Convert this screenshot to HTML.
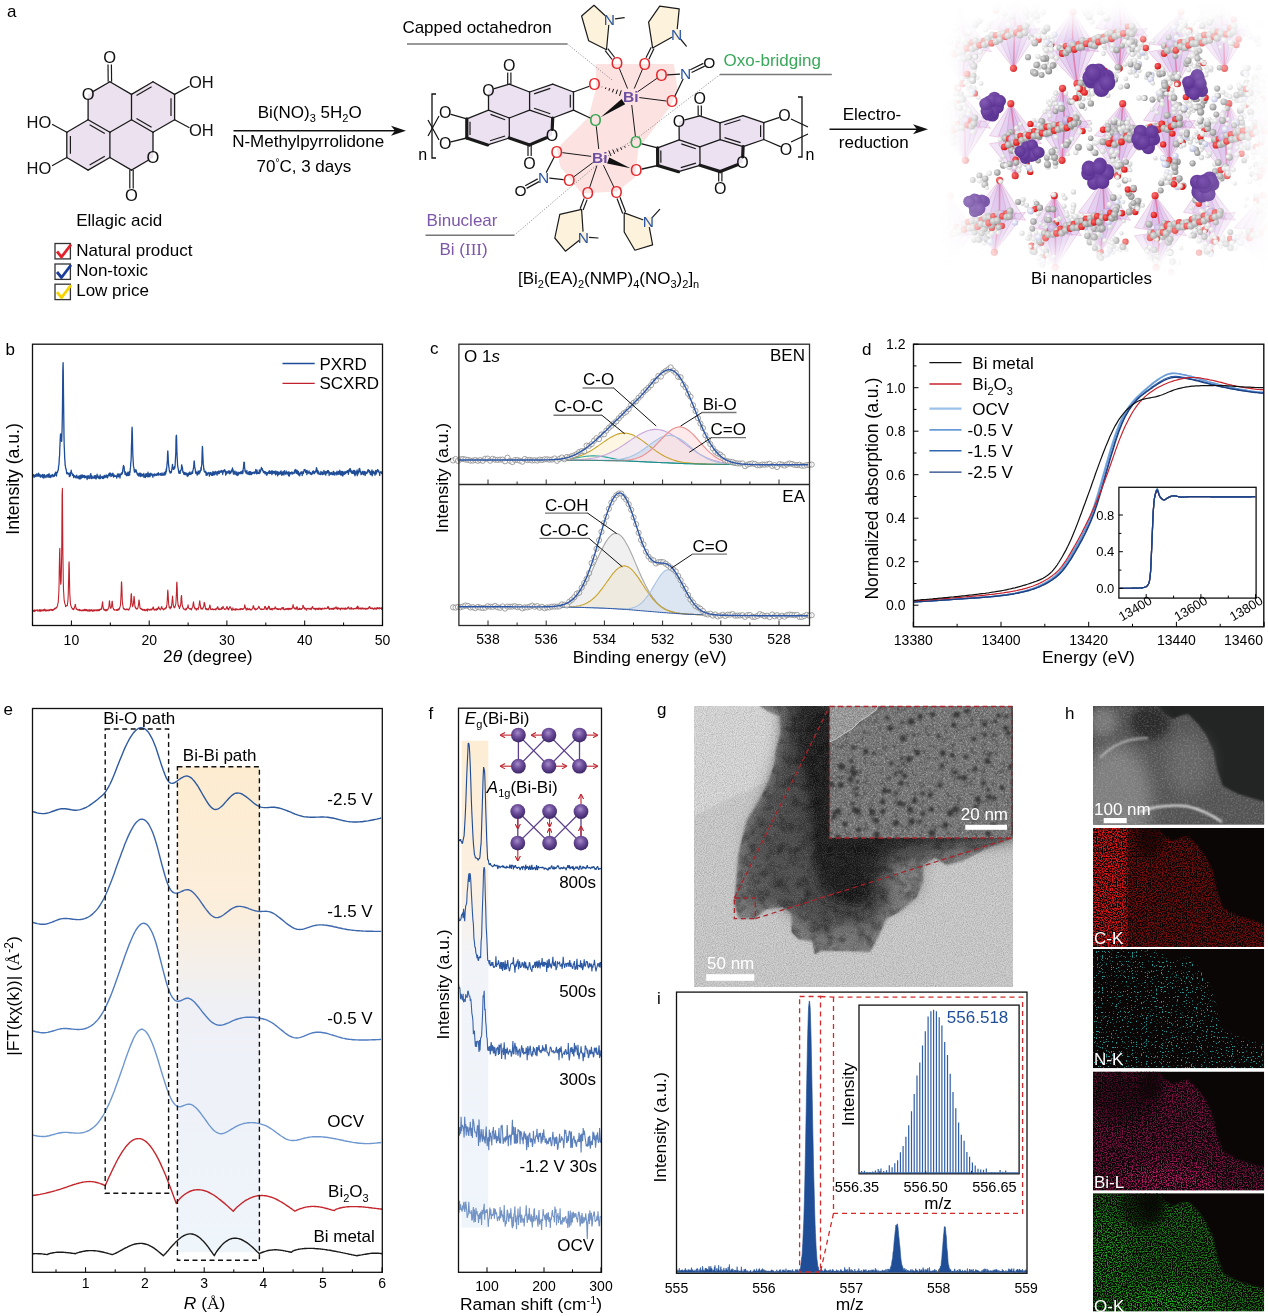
<!DOCTYPE html><html><head><meta charset="utf-8"><title>Figure</title><style>html,body{margin:0;padding:0;background:#fff;overflow:hidden;width:1268px;height:1316px;}svg{display:block;}</style></head><body><svg width="1268" height="1316" viewBox="0 0 1268 1316" font-family='"Liberation Sans", Arial, sans-serif'><rect width="100%" height="100%" fill="#fff"/><defs><clipPath id="ctem"><rect x="694" y="706" width="319" height="281"/></clipPath><filter id="b1" x="-10%" y="-10%" width="120%" height="120%"><feGaussianBlur stdDeviation="1.2"/></filter><filter id="b4" x="-20%" y="-20%" width="140%" height="140%"><feGaussianBlur stdDeviation="4"/></filter><filter id="b8" x="-30%" y="-30%" width="160%" height="160%"><feGaussianBlur stdDeviation="8"/></filter><filter id="b14" x="-40%" y="-40%" width="180%" height="180%"><feGaussianBlur stdDeviation="14"/></filter><filter id="ntem" x="0" y="0" width="100%" height="100%"><feTurbulence type="fractalNoise" baseFrequency="0.9" numOctaves="2" seed="3"/><feColorMatrix values="0 0 0 0 0  0 0 0 0 0  0 0 0 0 0  1.6 0 0 0 -0.55"/></filter><filter id="ntem2" x="0" y="0" width="100%" height="100%"><feTurbulence type="fractalNoise" baseFrequency="0.9" numOctaves="2" seed="8"/><feColorMatrix values="0 0 0 0 1  0 0 0 0 1  0 0 0 0 1  1.6 0 0 0 -0.6"/></filter><filter id="nmot" x="0" y="0" width="100%" height="100%"><feTurbulence type="fractalNoise" baseFrequency="0.09" numOctaves="3" seed="5"/><feColorMatrix values="0 0 0 0 0  0 0 0 0 0  0 0 0 0 0  2.2 0 0 0 -0.95"/><feComposite in2="SourceGraphic" operator="in"/></filter><filter id="hr" x="0" y="0" width="100%" height="100%"><feTurbulence type="fractalNoise" baseFrequency="0.16" numOctaves="2" seed="12"/><feColorMatrix values="0 0 0 0 0.1  0 0 0 0 0.1  0 0 0 0 0.1  -3.2 0 0 0 1.55"/></filter><filter id="hr2" x="0" y="0" width="100%" height="100%"><feTurbulence type="fractalNoise" baseFrequency="0.5" numOctaves="2" seed="21"/><feColorMatrix values="0 0 0 0 1  0 0 0 0 1  0 0 0 0 1  2.6 0 0 0 -1.15"/></filter></defs><g clip-path="url(#ctem)"><rect x="694" y="706" width="319" height="281" fill="#cdcdcd"/><polygon points="680,690 772,690 781,731 775,763 765,783 732,797 694,816 680,822" fill="#dadada" filter="url(#b1)"/><polygon points="759.6,700 759.6,706 769.7,712.3 779.8,716.1 781.1,731.2 776,750.2 774.8,762.8 769.7,779.2 759.6,799.4 747,819.6 738.5,853.7 736.2,883.8 733.9,902.2 738.5,918.4 754.7,918.4 766.2,909.2 782.4,906.9 791.6,913.8 791.6,932.3 798.6,939.2 812.4,941.5 814.7,954.2 821.7,950.8 842.5,950.8 870.2,951.9 879.4,934.6 886.4,918.4 900.2,911.5 916.4,897.6 923.3,881.5 923.3,865.3 934.9,857.2 946.4,865.3 962.6,860.7 985.7,849.1 1013,837.6 1020,837 1020,700" fill="#7c7c7c" filter="url(#b1)"/><polygon points="783,700 1020,700 1020,838 945,848 905,868 895,895 880,915 860,935 820,935 800,915 775,898 755,895 748,870 752,830 765,800 776,770 783,740" fill="#484848" filter="url(#b8)"/><polygon points="798,700 1000,700 1000,835 905,842 880,862 872,888 860,903 840,905 820,890 805,860 795,820 792,770 795,730" fill="#1e1e1e" filter="url(#b8)"/><ellipse cx="857" cy="893" rx="14" ry="10" fill="#151515" filter="url(#b4)"/><ellipse cx="905" cy="880" rx="18" ry="22" fill="#8a8a8a" opacity="0.7" filter="url(#b8)"/><ellipse cx="845" cy="935" rx="25" ry="12" fill="#7a7a7a" opacity="0.7" filter="url(#b4)"/><ellipse cx="755" cy="880" rx="14" ry="28" fill="#7a7a7a" opacity="0.7" filter="url(#b4)"/><ellipse cx="770" cy="830" rx="10" ry="25" fill="#555" opacity="0.6" filter="url(#b4)"/><polygon points="790,730 788,780 770,800 752,830 744,870 746,905 765,905 785,900 800,910 815,880 810,800" fill="#505050" opacity="0.75" filter="url(#b4)"/><polygon points="759.6,700 759.6,706 769.7,712.3 779.8,716.1 781.1,731.2 776,750.2 774.8,762.8 769.7,779.2 759.6,799.4 747,819.6 738.5,853.7 736.2,883.8 733.9,902.2 738.5,918.4 754.7,918.4 766.2,909.2 782.4,906.9 791.6,913.8 791.6,932.3 798.6,939.2 812.4,941.5 814.7,954.2 821.7,950.8 842.5,950.8 870.2,951.9 879.4,934.6 886.4,918.4 900.2,911.5 916.4,897.6 923.3,881.5 923.3,865.3 934.9,857.2 946.4,865.3 962.6,860.7 985.7,849.1 1013,837.6 1020,837 1020,700" filter="url(#nmot)" opacity="0.45"/><rect x="694" y="706" width="319" height="281" filter="url(#ntem)" opacity="0.22"/><rect x="694" y="706" width="319" height="281" filter="url(#ntem2)" opacity="0.22"/></g><clipPath id="chr"><rect x="829.5" y="706" width="182.10000000000002" height="132"/></clipPath><g clip-path="url(#chr)"><rect x="829.5" y="706" width="182.10000000000002" height="132" fill="#7c7c7c"/><rect x="829.5" y="706" width="182.10000000000002" height="132" filter="url(#hr)" opacity="0.9"/><polygon points="829,705 878,705 876,710 868,716 860,721 852,729 845,733 836,739 829,742" fill="#a2a2a2"/><rect x="829.5" y="706" width="182.10000000000002" height="132" filter="url(#hr2)" opacity="0.35"/><rect x="829.5" y="706" width="182.10000000000002" height="132" filter="url(#ntem)" opacity="0.35"/><g fill="#262626" opacity="0.75" filter="url(#b1)"><circle cx="852.9" cy="771.9" r="2.7"/><circle cx="998.5" cy="715.3" r="2"/><circle cx="1002.2" cy="788.1" r="2.4"/><circle cx="922.6" cy="793.5" r="2.2"/><circle cx="854.6" cy="810" r="2.8"/><circle cx="922.8" cy="813.8" r="2.6"/><circle cx="1008.1" cy="733" r="2.6"/><circle cx="917.6" cy="752.6" r="2.7"/><circle cx="872.3" cy="811.9" r="3.1"/><circle cx="852.9" cy="767.7" r="2.2"/><circle cx="844.6" cy="824.3" r="2.4"/><circle cx="856.4" cy="794.9" r="2.1"/><circle cx="993.7" cy="734.7" r="1.8"/><circle cx="866.1" cy="751.6" r="2.5"/><circle cx="994.5" cy="798.1" r="2.3"/><circle cx="1011" cy="766.7" r="2.8"/><circle cx="983.5" cy="783.6" r="2.3"/><circle cx="887.3" cy="717.8" r="2.1"/><circle cx="834" cy="816.8" r="2.5"/><circle cx="852.7" cy="803.6" r="2.1"/><circle cx="840.8" cy="785" r="3.1"/><circle cx="834.4" cy="812.3" r="2.1"/><circle cx="882.9" cy="802" r="2.5"/><circle cx="984.8" cy="734.7" r="2.3"/><circle cx="876.5" cy="835.1" r="3.2"/><circle cx="891.5" cy="763.6" r="2.3"/><circle cx="965.4" cy="711.3" r="1.9"/><circle cx="903.1" cy="738.4" r="3.1"/><circle cx="964.6" cy="778" r="2.8"/><circle cx="955.6" cy="809.1" r="3.2"/><circle cx="856.8" cy="788.6" r="2"/><circle cx="910.2" cy="809.8" r="3.1"/><circle cx="967.8" cy="710.7" r="2.3"/><circle cx="859.2" cy="837.8" r="2"/><circle cx="874" cy="753.2" r="1.9"/><circle cx="988" cy="790" r="2"/><circle cx="920.2" cy="716.4" r="2.7"/><circle cx="850.5" cy="779.3" r="2.8"/><circle cx="888.6" cy="790.9" r="2.3"/><circle cx="853.3" cy="747.6" r="2.4"/><circle cx="995.7" cy="721.3" r="1.9"/><circle cx="931.7" cy="833.2" r="3.2"/><circle cx="957" cy="714.8" r="3"/><circle cx="953.9" cy="725" r="2.5"/><circle cx="838.5" cy="811.8" r="2.9"/><circle cx="976" cy="806.4" r="2.2"/><circle cx="973.3" cy="738.9" r="2"/><circle cx="900.6" cy="771.7" r="2.2"/><circle cx="939.8" cy="785.5" r="2.2"/><circle cx="942.9" cy="753.2" r="2.9"/><circle cx="882.4" cy="811.4" r="2.4"/><circle cx="930.2" cy="794.9" r="2.6"/><circle cx="876.4" cy="835.3" r="1.9"/><circle cx="888.7" cy="778.5" r="1.8"/><circle cx="857.7" cy="811.5" r="3"/><circle cx="945.5" cy="825" r="2.9"/><circle cx="883.9" cy="791.1" r="2.3"/><circle cx="966" cy="756.8" r="2"/><circle cx="989.1" cy="797.1" r="2.9"/><circle cx="931.4" cy="809.3" r="2.5"/><circle cx="932.5" cy="714.3" r="2.6"/><circle cx="977.8" cy="799.1" r="3"/><circle cx="919.8" cy="822.3" r="2"/><circle cx="989" cy="755" r="1.9"/><circle cx="942.3" cy="766" r="2.4"/><circle cx="984.7" cy="724.2" r="2.7"/><circle cx="904.8" cy="775.7" r="2.5"/><circle cx="853.9" cy="773.6" r="3.1"/><circle cx="841.8" cy="766.7" r="3.3"/><circle cx="837.6" cy="836.8" r="2.6"/><circle cx="851.4" cy="761.2" r="2.1"/><circle cx="959.5" cy="777.5" r="2.2"/><circle cx="876" cy="820.4" r="2.9"/><circle cx="908.9" cy="759.5" r="2.9"/><circle cx="1006.3" cy="716.5" r="2"/><circle cx="895.5" cy="773" r="1.9"/><circle cx="899.8" cy="803.6" r="2.7"/><circle cx="911.8" cy="821.5" r="3.2"/><circle cx="896" cy="823.1" r="3.2"/><circle cx="903.5" cy="804.5" r="2.3"/><circle cx="857.5" cy="781.9" r="1.9"/><circle cx="950.3" cy="812.8" r="3.2"/><circle cx="911.1" cy="721.5" r="3.2"/><circle cx="988" cy="833.7" r="2.7"/><circle cx="952.1" cy="755.3" r="2.1"/><circle cx="882.6" cy="801.1" r="2.3"/><circle cx="955.4" cy="772.3" r="2.5"/><circle cx="1005.7" cy="727.9" r="2.5"/><circle cx="858.6" cy="829.7" r="2.5"/><circle cx="890" cy="728.2" r="2.7"/><circle cx="902.2" cy="722.8" r="1.8"/><circle cx="900.8" cy="783" r="2.6"/><circle cx="993.4" cy="826.3" r="3.2"/><circle cx="975.1" cy="769" r="2.6"/><circle cx="901.9" cy="758.7" r="1.9"/><circle cx="975" cy="738.5" r="1.8"/><circle cx="914.4" cy="800.8" r="2.5"/><circle cx="895.8" cy="792.9" r="2"/><circle cx="831.6" cy="784.2" r="2.6"/><circle cx="987.2" cy="760.9" r="3"/><circle cx="938.5" cy="735.9" r="1.9"/></g><polyline points="878,705 876,710 868,716 860,721 852,729 845,733 836,739 829,742" fill="none" stroke="#c8c8c8" stroke-width="1"/></g><rect x="829.5" y="706.5" width="182.10000000000002" height="131.5" fill="none" stroke="#a8232a" stroke-width="1.3" stroke-dasharray="5,3.5"/><rect x="734.4" y="898" width="20.9" height="20.6" fill="none" stroke="#a8232a" stroke-width="1.3" stroke-dasharray="5,3.5"/><path d="M734.4 898 L829.5 706.5 M755.3 918.6 L1011.6 838" fill="none" stroke="#a8232a" stroke-width="1.3" stroke-dasharray="5,3.5"/><rect x="706.2" y="974.2" width="48.1" height="6.6" fill="#fff"/><text x="707" y="969.2" font-size="17" fill="#fff">50 nm</text><rect x="965.3" y="824.8" width="41.7" height="5" fill="#fff"/><text x="1008" y="819.5" font-size="17" fill="#fff" text-anchor="end">20 nm</text><text x="657" y="715" font-size="17">g</text><text x="1065" y="718.5" font-size="17">h</text><clipPath id="ch0"><rect x="1093" y="706" width="171.20000000000005" height="118.60000000000002"/></clipPath><filter id="nh" x="0" y="0" width="100%" height="100%"><feTurbulence type="fractalNoise" baseFrequency="0.55" numOctaves="2" seed="4"/><feColorMatrix values="0 0 0 0 1  0 0 0 0 1  0 0 0 0 1  2.2 0 0 0 -0.95"/><feComposite in2="SourceGraphic" operator="in"/></filter><g clip-path="url(#ch0)"><rect x="1093" y="706" width="171.20000000000005" height="118.60000000000002" fill="#232524"/><polygon points="1093,706 1159,706 1165,714 1173,719 1180,716 1188,714 1198,724 1206,735 1213,750 1217,769 1223,786 1238,794 1265,802 1265,831 1093,831" fill="#535353" filter="url(#b1)"/><ellipse cx="1116" cy="800" rx="36" ry="55" fill="#7e7e7e" filter="url(#b8)"/><ellipse cx="1188" cy="765" rx="22" ry="30" fill="#666" filter="url(#b8)"/><ellipse cx="1150" cy="722" rx="20" ry="18" fill="#2a2a2a" filter="url(#b4)"/><ellipse cx="1103" cy="722" rx="14" ry="14" fill="#777" filter="url(#b4)"/><path d="M1100 758 Q1118 738 1148 738" stroke="#c8c8c8" stroke-width="1.6" fill="none" filter="url(#b1)"/><path d="M1140 812 Q1160 804 1186 806 Q1205 810 1222 822" stroke="#e8e8e8" stroke-width="2" fill="none" filter="url(#b1)"/><polygon points="1093,706 1159,706 1165,714 1173,719 1180,716 1188,714 1198,724 1206,735 1213,750 1217,769 1223,786 1238,794 1265,802 1265,831 1093,831" filter="url(#nh)" opacity="0.2"/></g><rect x="1103.7" y="818" width="23" height="5.2" fill="#fff"/><text x="1094" y="814.5" font-size="17" fill="#fff">100 nm</text><clipPath id="cm1"><rect x="1093" y="828" width="171.20000000000005" height="119"/></clipPath><filter id="sp1" x="0" y="0" width="100%" height="100%" color-interpolation-filters="sRGB"><feTurbulence type="fractalNoise" baseFrequency="0.8" numOctaves="1" seed="31" result="n"/><feColorMatrix in="n" values="0 0 0 0 1  0 0 0 0 1  0 0 0 0 1  5 0 0 0 -2.1" result="m"/><feComposite in="SourceGraphic" in2="m" operator="arithmetic" k1="1"/><feGaussianBlur stdDeviation="0.45"/></filter><g clip-path="url(#cm1)"><rect x="1093" y="828" width="171.20000000000005" height="119" fill="#0b0606"/><g filter="url(#sp1)"><polygon points="1093,828 1159,828 1165,836 1173,841 1180,838 1188,836 1198,846 1206,857 1213,872 1217,891 1223,908 1238,916 1265,924 1265,953 1093,953" fill="#e01818" fill-opacity="0.5" filter="url(#b1)"/><rect x="1090" y="825" width="37" height="125" fill="#e01818" filter="url(#b1)"/><ellipse cx="1149" cy="836" rx="14" ry="22" fill="#000" opacity="0.5" filter="url(#b4)"/></g></g><text x="1094" y="944" font-size="17" fill="#fff">C-K</text><clipPath id="cm2"><rect x="1093" y="949" width="171.20000000000005" height="119.29999999999995"/></clipPath><filter id="sp2" x="0" y="0" width="100%" height="100%" color-interpolation-filters="sRGB"><feTurbulence type="fractalNoise" baseFrequency="0.8" numOctaves="1" seed="32" result="n"/><feColorMatrix in="n" values="0 0 0 0 1  0 0 0 0 1  0 0 0 0 1  12 0 0 0 -7.4" result="m"/><feComposite in="SourceGraphic" in2="m" operator="arithmetic" k1="1"/><feGaussianBlur stdDeviation="0.45"/></filter><g clip-path="url(#cm2)"><rect x="1093" y="949" width="171.20000000000005" height="119.29999999999995" fill="#0b0606"/><g filter="url(#sp2)"><polygon points="1093,949 1159,949 1165,957 1173,962 1180,959 1188,957 1198,967 1206,978 1213,993 1217,1012 1223,1029 1238,1037 1265,1045 1265,1074 1093,1074" fill="#2ec8c8" fill-opacity="0.75" filter="url(#b1)"/></g></g><text x="1094" y="1065.3" font-size="17" fill="#fff">N-K</text><clipPath id="cm3"><rect x="1093" y="1071.5" width="171.20000000000005" height="119.09999999999991"/></clipPath><filter id="sp3" x="0" y="0" width="100%" height="100%" color-interpolation-filters="sRGB"><feTurbulence type="fractalNoise" baseFrequency="0.8" numOctaves="1" seed="33" result="n"/><feColorMatrix in="n" values="0 0 0 0 1  0 0 0 0 1  0 0 0 0 1  5 0 0 0 -2.25" result="m"/><feComposite in="SourceGraphic" in2="m" operator="arithmetic" k1="1"/><feGaussianBlur stdDeviation="0.45"/></filter><g clip-path="url(#cm3)"><rect x="1093" y="1071.5" width="171.20000000000005" height="119.09999999999991" fill="#0b0606"/><g filter="url(#sp3)"><polygon points="1093,1071.5 1159,1071.5 1165,1079.5 1173,1084.5 1180,1081.5 1188,1079.5 1198,1089.5 1206,1100.5 1213,1115.5 1217,1134.5 1223,1151.5 1238,1159.5 1265,1167.5 1265,1196.5 1093,1196.5" fill="#e0207e" fill-opacity="0.55" filter="url(#b1)"/><ellipse cx="1168" cy="1179.5" rx="50" ry="16" fill="#e0207e" opacity="0.7" filter="url(#b8)"/><ellipse cx="1151" cy="1079.5" rx="12" ry="20" fill="#000" opacity="0.6" filter="url(#b4)"/><ellipse cx="1123" cy="1096.5" rx="35" ry="25" fill="#000" opacity="0.45" filter="url(#b8)"/></g></g><text x="1094" y="1187.6" font-size="17" fill="#fff">Bi-L</text><clipPath id="cm4"><rect x="1093" y="1193.2" width="171.20000000000005" height="118.29999999999995"/></clipPath><filter id="sp4" x="0" y="0" width="100%" height="100%" color-interpolation-filters="sRGB"><feTurbulence type="fractalNoise" baseFrequency="0.8" numOctaves="1" seed="34" result="n"/><feColorMatrix in="n" values="0 0 0 0 1  0 0 0 0 1  0 0 0 0 1  5 0 0 0 -2.2" result="m"/><feComposite in="SourceGraphic" in2="m" operator="arithmetic" k1="1"/><feGaussianBlur stdDeviation="0.45"/></filter><g clip-path="url(#cm4)"><rect x="1093" y="1193.2" width="171.20000000000005" height="118.29999999999995" fill="#0b0606"/><g filter="url(#sp4)"><polygon points="1093,1193.2 1159,1193.2 1165,1201.2 1173,1206.2 1180,1203.2 1188,1201.2 1198,1211.2 1206,1222.2 1213,1237.2 1217,1256.2 1223,1273.2 1238,1281.2 1265,1289.2 1265,1318.2 1093,1318.2" fill="#22c422" fill-opacity="0.62" filter="url(#b1)"/><ellipse cx="1168" cy="1301.2" rx="50" ry="16" fill="#22c422" opacity="0.7" filter="url(#b8)"/><ellipse cx="1151" cy="1201.2" rx="12" ry="20" fill="#000" opacity="0.6" filter="url(#b4)"/><ellipse cx="1143" cy="1203.2" rx="22" ry="24" fill="#000" opacity="0.55" filter="url(#b4)"/><ellipse cx="1108" cy="1253.2" rx="22" ry="40" fill="#22c422" opacity="0.4" filter="url(#b8)"/></g></g><text x="1094" y="1311.5" font-size="17" fill="#fff">O-K</text><defs><radialGradient id="gg" cx="0.35" cy="0.35" r="0.7"><stop offset="0" stop-color="#e2e2e2"/><stop offset="1" stop-color="#858585"/></radialGradient><radialGradient id="gw" cx="0.35" cy="0.35" r="0.7"><stop offset="0" stop-color="#ffffff"/><stop offset="1" stop-color="#c8c8c8"/></radialGradient><radialGradient id="gr" cx="0.35" cy="0.35" r="0.7"><stop offset="0" stop-color="#ff6a6a"/><stop offset="1" stop-color="#d20c0c"/></radialGradient><radialGradient id="gb" cx="0.35" cy="0.35" r="0.7"><stop offset="0" stop-color="#ffffff"/><stop offset="1" stop-color="#b4b8e0"/></radialGradient><radialGradient id="gl" cx="0.35" cy="0.35" r="0.7"><stop offset="0" stop-color="#e4d4f0"/><stop offset="1" stop-color="#a182c4"/></radialGradient><radialGradient id="gp" cx="0.4" cy="0.35" r="0.7"><stop offset="0" stop-color="#7a4fae"/><stop offset="1" stop-color="#58308f"/></radialGradient><filter id="fm" x="-20%" y="-20%" width="140%" height="140%"><feGaussianBlur stdDeviation="14"/></filter><mask id="mcr" maskUnits="userSpaceOnUse" x="900" y="-20" width="380" height="320"><rect x="972" y="30" width="272" height="222" fill="#fff" filter="url(#fm)"/></mask></defs><g mask="url(#mcr)"><polygon points="939.5,51.7 991.5,43.7 962.3,83.7" fill="#b67fd6" fill-opacity="0.2" stroke="#d070b0" stroke-opacity="0.45" stroke-width="0.7"/><polygon points="948.5,51.7 982.5,43.7 962.3,83.7" fill="#b67fd6" fill-opacity="0.2" stroke="#d070b0" stroke-opacity="0.45" stroke-width="0.7"/><polygon points="956.5,51.7 974.5,43.7 962.3,83.7" fill="#b67fd6" fill-opacity="0.2" stroke="#d070b0" stroke-opacity="0.45" stroke-width="0.7"/><line x1="965.5" y1="47.7" x2="962.3" y2="83.7" stroke="#e0487a" stroke-opacity="0.55" stroke-width="1.6"/><circle cx="962.3" cy="83.7" r="3.6" fill="url(#gr)" opacity="0.9"/><polygon points="939.5,43.7 991.5,51.7 960.2,11.7" fill="#b67fd6" fill-opacity="0.2" stroke="#d070b0" stroke-opacity="0.45" stroke-width="0.7"/><polygon points="948.5,43.7 982.5,51.7 960.2,11.7" fill="#b67fd6" fill-opacity="0.2" stroke="#d070b0" stroke-opacity="0.45" stroke-width="0.7"/><polygon points="956.5,43.7 974.5,51.7 960.2,11.7" fill="#b67fd6" fill-opacity="0.2" stroke="#d070b0" stroke-opacity="0.45" stroke-width="0.7"/><line x1="965.5" y1="47.7" x2="960.2" y2="11.7" stroke="#e0487a" stroke-opacity="0.55" stroke-width="1.6"/><circle cx="960.2" cy="11.7" r="3.6" fill="url(#gr)" opacity="0.9"/><polygon points="988.5,36.3 1040.5,28.3 1013.5,68.3" fill="#b67fd6" fill-opacity="0.2" stroke="#d070b0" stroke-opacity="0.45" stroke-width="0.7"/><polygon points="997.5,36.3 1031.5,28.3 1013.5,68.3" fill="#b67fd6" fill-opacity="0.2" stroke="#d070b0" stroke-opacity="0.45" stroke-width="0.7"/><polygon points="1005.5,36.3 1023.5,28.3 1013.5,68.3" fill="#b67fd6" fill-opacity="0.2" stroke="#d070b0" stroke-opacity="0.45" stroke-width="0.7"/><line x1="1014.5" y1="32.3" x2="1013.5" y2="68.3" stroke="#e0487a" stroke-opacity="0.55" stroke-width="1.6"/><circle cx="1013.5" cy="68.3" r="3.6" fill="url(#gr)" opacity="0.9"/><polygon points="988.5,28.3 1040.5,36.3 1016.2,-3.7" fill="#b67fd6" fill-opacity="0.2" stroke="#d070b0" stroke-opacity="0.45" stroke-width="0.7"/><polygon points="997.5,28.3 1031.5,36.3 1016.2,-3.7" fill="#b67fd6" fill-opacity="0.2" stroke="#d070b0" stroke-opacity="0.45" stroke-width="0.7"/><polygon points="1005.5,28.3 1023.5,36.3 1016.2,-3.7" fill="#b67fd6" fill-opacity="0.2" stroke="#d070b0" stroke-opacity="0.45" stroke-width="0.7"/><line x1="1014.5" y1="32.3" x2="1016.2" y2="-3.7" stroke="#e0487a" stroke-opacity="0.55" stroke-width="1.6"/><circle cx="1016.2" cy="-3.7" r="3.6" fill="url(#gr)" opacity="0.9"/><polygon points="1046.5,51.7 1098.5,43.7 1077,83.7" fill="#b67fd6" fill-opacity="0.2" stroke="#d070b0" stroke-opacity="0.45" stroke-width="0.7"/><polygon points="1055.5,51.7 1089.5,43.7 1077,83.7" fill="#b67fd6" fill-opacity="0.2" stroke="#d070b0" stroke-opacity="0.45" stroke-width="0.7"/><polygon points="1063.5,51.7 1081.5,43.7 1077,83.7" fill="#b67fd6" fill-opacity="0.2" stroke="#d070b0" stroke-opacity="0.45" stroke-width="0.7"/><line x1="1072.5" y1="47.7" x2="1077" y2="83.7" stroke="#e0487a" stroke-opacity="0.55" stroke-width="1.6"/><circle cx="1077" cy="83.7" r="3.6" fill="url(#gr)" opacity="0.9"/><polygon points="1046.5,43.7 1098.5,51.7 1072.9,11.7" fill="#b67fd6" fill-opacity="0.2" stroke="#d070b0" stroke-opacity="0.45" stroke-width="0.7"/><polygon points="1055.5,43.7 1089.5,51.7 1072.9,11.7" fill="#b67fd6" fill-opacity="0.2" stroke="#d070b0" stroke-opacity="0.45" stroke-width="0.7"/><polygon points="1063.5,43.7 1081.5,51.7 1072.9,11.7" fill="#b67fd6" fill-opacity="0.2" stroke="#d070b0" stroke-opacity="0.45" stroke-width="0.7"/><line x1="1072.5" y1="47.7" x2="1072.9" y2="11.7" stroke="#e0487a" stroke-opacity="0.55" stroke-width="1.6"/><circle cx="1072.9" cy="11.7" r="3.6" fill="url(#gr)" opacity="0.9"/><polygon points="1095.5,36.3 1147.5,28.3 1119.3,68.3" fill="#b67fd6" fill-opacity="0.2" stroke="#d070b0" stroke-opacity="0.45" stroke-width="0.7"/><polygon points="1104.5,36.3 1138.5,28.3 1119.3,68.3" fill="#b67fd6" fill-opacity="0.2" stroke="#d070b0" stroke-opacity="0.45" stroke-width="0.7"/><polygon points="1112.5,36.3 1130.5,28.3 1119.3,68.3" fill="#b67fd6" fill-opacity="0.2" stroke="#d070b0" stroke-opacity="0.45" stroke-width="0.7"/><line x1="1121.5" y1="32.3" x2="1119.3" y2="68.3" stroke="#e0487a" stroke-opacity="0.55" stroke-width="1.6"/><circle cx="1119.3" cy="68.3" r="3.6" fill="url(#gr)" opacity="0.9"/><polygon points="1095.5,28.3 1147.5,36.3 1118.4,-3.7" fill="#b67fd6" fill-opacity="0.2" stroke="#d070b0" stroke-opacity="0.45" stroke-width="0.7"/><polygon points="1104.5,28.3 1138.5,36.3 1118.4,-3.7" fill="#b67fd6" fill-opacity="0.2" stroke="#d070b0" stroke-opacity="0.45" stroke-width="0.7"/><polygon points="1112.5,28.3 1130.5,36.3 1118.4,-3.7" fill="#b67fd6" fill-opacity="0.2" stroke="#d070b0" stroke-opacity="0.45" stroke-width="0.7"/><line x1="1121.5" y1="32.3" x2="1118.4" y2="-3.7" stroke="#e0487a" stroke-opacity="0.55" stroke-width="1.6"/><circle cx="1118.4" cy="-3.7" r="3.6" fill="url(#gr)" opacity="0.9"/><polygon points="1148.5,51.7 1200.5,43.7 1177.5,83.7" fill="#b67fd6" fill-opacity="0.2" stroke="#d070b0" stroke-opacity="0.45" stroke-width="0.7"/><polygon points="1157.5,51.7 1191.5,43.7 1177.5,83.7" fill="#b67fd6" fill-opacity="0.2" stroke="#d070b0" stroke-opacity="0.45" stroke-width="0.7"/><polygon points="1165.5,51.7 1183.5,43.7 1177.5,83.7" fill="#b67fd6" fill-opacity="0.2" stroke="#d070b0" stroke-opacity="0.45" stroke-width="0.7"/><line x1="1174.5" y1="47.7" x2="1177.5" y2="83.7" stroke="#e0487a" stroke-opacity="0.55" stroke-width="1.6"/><circle cx="1177.5" cy="83.7" r="3.6" fill="url(#gr)" opacity="0.9"/><polygon points="1148.5,43.7 1200.5,51.7 1181,11.7" fill="#b67fd6" fill-opacity="0.2" stroke="#d070b0" stroke-opacity="0.45" stroke-width="0.7"/><polygon points="1157.5,43.7 1191.5,51.7 1181,11.7" fill="#b67fd6" fill-opacity="0.2" stroke="#d070b0" stroke-opacity="0.45" stroke-width="0.7"/><polygon points="1165.5,43.7 1183.5,51.7 1181,11.7" fill="#b67fd6" fill-opacity="0.2" stroke="#d070b0" stroke-opacity="0.45" stroke-width="0.7"/><line x1="1174.5" y1="47.7" x2="1181" y2="11.7" stroke="#e0487a" stroke-opacity="0.55" stroke-width="1.6"/><circle cx="1181" cy="11.7" r="3.6" fill="url(#gr)" opacity="0.9"/><polygon points="1197.5,36.3 1249.5,28.3 1224.6,68.3" fill="#b67fd6" fill-opacity="0.2" stroke="#d070b0" stroke-opacity="0.45" stroke-width="0.7"/><polygon points="1206.5,36.3 1240.5,28.3 1224.6,68.3" fill="#b67fd6" fill-opacity="0.2" stroke="#d070b0" stroke-opacity="0.45" stroke-width="0.7"/><polygon points="1214.5,36.3 1232.5,28.3 1224.6,68.3" fill="#b67fd6" fill-opacity="0.2" stroke="#d070b0" stroke-opacity="0.45" stroke-width="0.7"/><line x1="1223.5" y1="32.3" x2="1224.6" y2="68.3" stroke="#e0487a" stroke-opacity="0.55" stroke-width="1.6"/><circle cx="1224.6" cy="68.3" r="3.6" fill="url(#gr)" opacity="0.9"/><polygon points="1197.5,28.3 1249.5,36.3 1218.6,-3.7" fill="#b67fd6" fill-opacity="0.2" stroke="#d070b0" stroke-opacity="0.45" stroke-width="0.7"/><polygon points="1206.5,28.3 1240.5,36.3 1218.6,-3.7" fill="#b67fd6" fill-opacity="0.2" stroke="#d070b0" stroke-opacity="0.45" stroke-width="0.7"/><polygon points="1214.5,28.3 1232.5,36.3 1218.6,-3.7" fill="#b67fd6" fill-opacity="0.2" stroke="#d070b0" stroke-opacity="0.45" stroke-width="0.7"/><line x1="1223.5" y1="32.3" x2="1218.6" y2="-3.7" stroke="#e0487a" stroke-opacity="0.55" stroke-width="1.6"/><circle cx="1218.6" cy="-3.7" r="3.6" fill="url(#gr)" opacity="0.9"/><polygon points="889.5,143.7 941.5,135.7 911.7,175.7" fill="#b67fd6" fill-opacity="0.2" stroke="#d070b0" stroke-opacity="0.45" stroke-width="0.7"/><polygon points="898.5,143.7 932.5,135.7 911.7,175.7" fill="#b67fd6" fill-opacity="0.2" stroke="#d070b0" stroke-opacity="0.45" stroke-width="0.7"/><polygon points="906.5,143.7 924.5,135.7 911.7,175.7" fill="#b67fd6" fill-opacity="0.2" stroke="#d070b0" stroke-opacity="0.45" stroke-width="0.7"/><line x1="915.5" y1="139.7" x2="911.7" y2="175.7" stroke="#e0487a" stroke-opacity="0.55" stroke-width="1.6"/><circle cx="911.7" cy="175.7" r="3.6" fill="url(#gr)" opacity="0.9"/><polygon points="889.5,135.7 941.5,143.7 921.9,103.7" fill="#b67fd6" fill-opacity="0.2" stroke="#d070b0" stroke-opacity="0.45" stroke-width="0.7"/><polygon points="898.5,135.7 932.5,143.7 921.9,103.7" fill="#b67fd6" fill-opacity="0.2" stroke="#d070b0" stroke-opacity="0.45" stroke-width="0.7"/><polygon points="906.5,135.7 924.5,143.7 921.9,103.7" fill="#b67fd6" fill-opacity="0.2" stroke="#d070b0" stroke-opacity="0.45" stroke-width="0.7"/><line x1="915.5" y1="139.7" x2="921.9" y2="103.7" stroke="#e0487a" stroke-opacity="0.55" stroke-width="1.6"/><circle cx="921.9" cy="103.7" r="3.6" fill="url(#gr)" opacity="0.9"/><polygon points="938.5,128.3 990.5,120.3 965.3,160.3" fill="#b67fd6" fill-opacity="0.2" stroke="#d070b0" stroke-opacity="0.45" stroke-width="0.7"/><polygon points="947.5,128.3 981.5,120.3 965.3,160.3" fill="#b67fd6" fill-opacity="0.2" stroke="#d070b0" stroke-opacity="0.45" stroke-width="0.7"/><polygon points="955.5,128.3 973.5,120.3 965.3,160.3" fill="#b67fd6" fill-opacity="0.2" stroke="#d070b0" stroke-opacity="0.45" stroke-width="0.7"/><line x1="964.5" y1="124.3" x2="965.3" y2="160.3" stroke="#e0487a" stroke-opacity="0.55" stroke-width="1.6"/><circle cx="965.3" cy="160.3" r="3.6" fill="url(#gr)" opacity="0.9"/><polygon points="938.5,120.3 990.5,128.3 957.6,88.3" fill="#b67fd6" fill-opacity="0.2" stroke="#d070b0" stroke-opacity="0.45" stroke-width="0.7"/><polygon points="947.5,120.3 981.5,128.3 957.6,88.3" fill="#b67fd6" fill-opacity="0.2" stroke="#d070b0" stroke-opacity="0.45" stroke-width="0.7"/><polygon points="955.5,120.3 973.5,128.3 957.6,88.3" fill="#b67fd6" fill-opacity="0.2" stroke="#d070b0" stroke-opacity="0.45" stroke-width="0.7"/><line x1="964.5" y1="124.3" x2="957.6" y2="88.3" stroke="#e0487a" stroke-opacity="0.55" stroke-width="1.6"/><circle cx="957.6" cy="88.3" r="3.6" fill="url(#gr)" opacity="0.9"/><polygon points="989.5,143.7 1041.5,135.7 1015.2,175.7" fill="#b67fd6" fill-opacity="0.2" stroke="#d070b0" stroke-opacity="0.45" stroke-width="0.7"/><polygon points="998.5,143.7 1032.5,135.7 1015.2,175.7" fill="#b67fd6" fill-opacity="0.2" stroke="#d070b0" stroke-opacity="0.45" stroke-width="0.7"/><polygon points="1006.5,143.7 1024.5,135.7 1015.2,175.7" fill="#b67fd6" fill-opacity="0.2" stroke="#d070b0" stroke-opacity="0.45" stroke-width="0.7"/><line x1="1015.5" y1="139.7" x2="1015.2" y2="175.7" stroke="#e0487a" stroke-opacity="0.55" stroke-width="1.6"/><circle cx="1015.2" cy="175.7" r="3.6" fill="url(#gr)" opacity="0.9"/><polygon points="989.5,135.7 1041.5,143.7 1010.8,103.7" fill="#b67fd6" fill-opacity="0.2" stroke="#d070b0" stroke-opacity="0.45" stroke-width="0.7"/><polygon points="998.5,135.7 1032.5,143.7 1010.8,103.7" fill="#b67fd6" fill-opacity="0.2" stroke="#d070b0" stroke-opacity="0.45" stroke-width="0.7"/><polygon points="1006.5,135.7 1024.5,143.7 1010.8,103.7" fill="#b67fd6" fill-opacity="0.2" stroke="#d070b0" stroke-opacity="0.45" stroke-width="0.7"/><line x1="1015.5" y1="139.7" x2="1010.8" y2="103.7" stroke="#e0487a" stroke-opacity="0.55" stroke-width="1.6"/><circle cx="1010.8" cy="103.7" r="3.6" fill="url(#gr)" opacity="0.9"/><polygon points="1038.5,128.3 1090.5,120.3 1062,160.3" fill="#b67fd6" fill-opacity="0.2" stroke="#d070b0" stroke-opacity="0.45" stroke-width="0.7"/><polygon points="1047.5,128.3 1081.5,120.3 1062,160.3" fill="#b67fd6" fill-opacity="0.2" stroke="#d070b0" stroke-opacity="0.45" stroke-width="0.7"/><polygon points="1055.5,128.3 1073.5,120.3 1062,160.3" fill="#b67fd6" fill-opacity="0.2" stroke="#d070b0" stroke-opacity="0.45" stroke-width="0.7"/><line x1="1064.5" y1="124.3" x2="1062" y2="160.3" stroke="#e0487a" stroke-opacity="0.55" stroke-width="1.6"/><circle cx="1062" cy="160.3" r="3.6" fill="url(#gr)" opacity="0.9"/><polygon points="1038.5,120.3 1090.5,128.3 1062.5,88.3" fill="#b67fd6" fill-opacity="0.2" stroke="#d070b0" stroke-opacity="0.45" stroke-width="0.7"/><polygon points="1047.5,120.3 1081.5,128.3 1062.5,88.3" fill="#b67fd6" fill-opacity="0.2" stroke="#d070b0" stroke-opacity="0.45" stroke-width="0.7"/><polygon points="1055.5,120.3 1073.5,128.3 1062.5,88.3" fill="#b67fd6" fill-opacity="0.2" stroke="#d070b0" stroke-opacity="0.45" stroke-width="0.7"/><line x1="1064.5" y1="124.3" x2="1062.5" y2="88.3" stroke="#e0487a" stroke-opacity="0.55" stroke-width="1.6"/><circle cx="1062.5" cy="88.3" r="3.6" fill="url(#gr)" opacity="0.9"/><polygon points="1094.5,143.7 1146.5,135.7 1117.6,175.7" fill="#b67fd6" fill-opacity="0.2" stroke="#d070b0" stroke-opacity="0.45" stroke-width="0.7"/><polygon points="1103.5,143.7 1137.5,135.7 1117.6,175.7" fill="#b67fd6" fill-opacity="0.2" stroke="#d070b0" stroke-opacity="0.45" stroke-width="0.7"/><polygon points="1111.5,143.7 1129.5,135.7 1117.6,175.7" fill="#b67fd6" fill-opacity="0.2" stroke="#d070b0" stroke-opacity="0.45" stroke-width="0.7"/><line x1="1120.5" y1="139.7" x2="1117.6" y2="175.7" stroke="#e0487a" stroke-opacity="0.55" stroke-width="1.6"/><circle cx="1117.6" cy="175.7" r="3.6" fill="url(#gr)" opacity="0.9"/><polygon points="1094.5,135.7 1146.5,143.7 1122.7,103.7" fill="#b67fd6" fill-opacity="0.2" stroke="#d070b0" stroke-opacity="0.45" stroke-width="0.7"/><polygon points="1103.5,135.7 1137.5,143.7 1122.7,103.7" fill="#b67fd6" fill-opacity="0.2" stroke="#d070b0" stroke-opacity="0.45" stroke-width="0.7"/><polygon points="1111.5,135.7 1129.5,143.7 1122.7,103.7" fill="#b67fd6" fill-opacity="0.2" stroke="#d070b0" stroke-opacity="0.45" stroke-width="0.7"/><line x1="1120.5" y1="139.7" x2="1122.7" y2="103.7" stroke="#e0487a" stroke-opacity="0.55" stroke-width="1.6"/><circle cx="1122.7" cy="103.7" r="3.6" fill="url(#gr)" opacity="0.9"/><polygon points="1143.5,128.3 1195.5,120.3 1169.2,160.3" fill="#b67fd6" fill-opacity="0.2" stroke="#d070b0" stroke-opacity="0.45" stroke-width="0.7"/><polygon points="1152.5,128.3 1186.5,120.3 1169.2,160.3" fill="#b67fd6" fill-opacity="0.2" stroke="#d070b0" stroke-opacity="0.45" stroke-width="0.7"/><polygon points="1160.5,128.3 1178.5,120.3 1169.2,160.3" fill="#b67fd6" fill-opacity="0.2" stroke="#d070b0" stroke-opacity="0.45" stroke-width="0.7"/><line x1="1169.5" y1="124.3" x2="1169.2" y2="160.3" stroke="#e0487a" stroke-opacity="0.55" stroke-width="1.6"/><circle cx="1169.2" cy="160.3" r="3.6" fill="url(#gr)" opacity="0.9"/><polygon points="1143.5,120.3 1195.5,128.3 1167.1,88.3" fill="#b67fd6" fill-opacity="0.2" stroke="#d070b0" stroke-opacity="0.45" stroke-width="0.7"/><polygon points="1152.5,120.3 1186.5,128.3 1167.1,88.3" fill="#b67fd6" fill-opacity="0.2" stroke="#d070b0" stroke-opacity="0.45" stroke-width="0.7"/><polygon points="1160.5,120.3 1178.5,128.3 1167.1,88.3" fill="#b67fd6" fill-opacity="0.2" stroke="#d070b0" stroke-opacity="0.45" stroke-width="0.7"/><line x1="1169.5" y1="124.3" x2="1167.1" y2="88.3" stroke="#e0487a" stroke-opacity="0.55" stroke-width="1.6"/><circle cx="1167.1" cy="88.3" r="3.6" fill="url(#gr)" opacity="0.9"/><polygon points="1199.5,143.7 1251.5,135.7 1227.1,175.7" fill="#b67fd6" fill-opacity="0.2" stroke="#d070b0" stroke-opacity="0.45" stroke-width="0.7"/><polygon points="1208.5,143.7 1242.5,135.7 1227.1,175.7" fill="#b67fd6" fill-opacity="0.2" stroke="#d070b0" stroke-opacity="0.45" stroke-width="0.7"/><polygon points="1216.5,143.7 1234.5,135.7 1227.1,175.7" fill="#b67fd6" fill-opacity="0.2" stroke="#d070b0" stroke-opacity="0.45" stroke-width="0.7"/><line x1="1225.5" y1="139.7" x2="1227.1" y2="175.7" stroke="#e0487a" stroke-opacity="0.55" stroke-width="1.6"/><circle cx="1227.1" cy="175.7" r="3.6" fill="url(#gr)" opacity="0.9"/><polygon points="1199.5,135.7 1251.5,143.7 1228.8,103.7" fill="#b67fd6" fill-opacity="0.2" stroke="#d070b0" stroke-opacity="0.45" stroke-width="0.7"/><polygon points="1208.5,135.7 1242.5,143.7 1228.8,103.7" fill="#b67fd6" fill-opacity="0.2" stroke="#d070b0" stroke-opacity="0.45" stroke-width="0.7"/><polygon points="1216.5,135.7 1234.5,143.7 1228.8,103.7" fill="#b67fd6" fill-opacity="0.2" stroke="#d070b0" stroke-opacity="0.45" stroke-width="0.7"/><line x1="1225.5" y1="139.7" x2="1228.8" y2="103.7" stroke="#e0487a" stroke-opacity="0.55" stroke-width="1.6"/><circle cx="1228.8" cy="103.7" r="3.6" fill="url(#gr)" opacity="0.9"/><polygon points="1248.5,128.3 1300.5,120.3 1267.9,160.3" fill="#b67fd6" fill-opacity="0.2" stroke="#d070b0" stroke-opacity="0.45" stroke-width="0.7"/><polygon points="1257.5,128.3 1291.5,120.3 1267.9,160.3" fill="#b67fd6" fill-opacity="0.2" stroke="#d070b0" stroke-opacity="0.45" stroke-width="0.7"/><polygon points="1265.5,128.3 1283.5,120.3 1267.9,160.3" fill="#b67fd6" fill-opacity="0.2" stroke="#d070b0" stroke-opacity="0.45" stroke-width="0.7"/><line x1="1274.5" y1="124.3" x2="1267.9" y2="160.3" stroke="#e0487a" stroke-opacity="0.55" stroke-width="1.6"/><circle cx="1267.9" cy="160.3" r="3.6" fill="url(#gr)" opacity="0.9"/><polygon points="1248.5,120.3 1300.5,128.3 1273.5,88.3" fill="#b67fd6" fill-opacity="0.2" stroke="#d070b0" stroke-opacity="0.45" stroke-width="0.7"/><polygon points="1257.5,120.3 1291.5,128.3 1273.5,88.3" fill="#b67fd6" fill-opacity="0.2" stroke="#d070b0" stroke-opacity="0.45" stroke-width="0.7"/><polygon points="1265.5,120.3 1283.5,128.3 1273.5,88.3" fill="#b67fd6" fill-opacity="0.2" stroke="#d070b0" stroke-opacity="0.45" stroke-width="0.7"/><line x1="1274.5" y1="124.3" x2="1273.5" y2="88.3" stroke="#e0487a" stroke-opacity="0.55" stroke-width="1.6"/><circle cx="1273.5" cy="88.3" r="3.6" fill="url(#gr)" opacity="0.9"/><polygon points="924.5,235.7 976.5,227.7 946.6,267.7" fill="#b67fd6" fill-opacity="0.2" stroke="#d070b0" stroke-opacity="0.45" stroke-width="0.7"/><polygon points="933.5,235.7 967.5,227.7 946.6,267.7" fill="#b67fd6" fill-opacity="0.2" stroke="#d070b0" stroke-opacity="0.45" stroke-width="0.7"/><polygon points="941.5,235.7 959.5,227.7 946.6,267.7" fill="#b67fd6" fill-opacity="0.2" stroke="#d070b0" stroke-opacity="0.45" stroke-width="0.7"/><line x1="950.5" y1="231.7" x2="946.6" y2="267.7" stroke="#e0487a" stroke-opacity="0.55" stroke-width="1.6"/><circle cx="946.6" cy="267.7" r="3.6" fill="url(#gr)" opacity="0.9"/><polygon points="924.5,227.7 976.5,235.7 949.8,195.7" fill="#b67fd6" fill-opacity="0.2" stroke="#d070b0" stroke-opacity="0.45" stroke-width="0.7"/><polygon points="933.5,227.7 967.5,235.7 949.8,195.7" fill="#b67fd6" fill-opacity="0.2" stroke="#d070b0" stroke-opacity="0.45" stroke-width="0.7"/><polygon points="941.5,227.7 959.5,235.7 949.8,195.7" fill="#b67fd6" fill-opacity="0.2" stroke="#d070b0" stroke-opacity="0.45" stroke-width="0.7"/><line x1="950.5" y1="231.7" x2="949.8" y2="195.7" stroke="#e0487a" stroke-opacity="0.55" stroke-width="1.6"/><circle cx="949.8" cy="195.7" r="3.6" fill="url(#gr)" opacity="0.9"/><polygon points="973.5,220.3 1025.5,212.3 994.3,252.3" fill="#b67fd6" fill-opacity="0.2" stroke="#d070b0" stroke-opacity="0.45" stroke-width="0.7"/><polygon points="982.5,220.3 1016.5,212.3 994.3,252.3" fill="#b67fd6" fill-opacity="0.2" stroke="#d070b0" stroke-opacity="0.45" stroke-width="0.7"/><polygon points="990.5,220.3 1008.5,212.3 994.3,252.3" fill="#b67fd6" fill-opacity="0.2" stroke="#d070b0" stroke-opacity="0.45" stroke-width="0.7"/><line x1="999.5" y1="216.3" x2="994.3" y2="252.3" stroke="#e0487a" stroke-opacity="0.55" stroke-width="1.6"/><circle cx="994.3" cy="252.3" r="3.6" fill="url(#gr)" opacity="0.9"/><polygon points="973.5,212.3 1025.5,220.3 999.6,180.3" fill="#b67fd6" fill-opacity="0.2" stroke="#d070b0" stroke-opacity="0.45" stroke-width="0.7"/><polygon points="982.5,212.3 1016.5,220.3 999.6,180.3" fill="#b67fd6" fill-opacity="0.2" stroke="#d070b0" stroke-opacity="0.45" stroke-width="0.7"/><polygon points="990.5,212.3 1008.5,220.3 999.6,180.3" fill="#b67fd6" fill-opacity="0.2" stroke="#d070b0" stroke-opacity="0.45" stroke-width="0.7"/><line x1="999.5" y1="216.3" x2="999.6" y2="180.3" stroke="#e0487a" stroke-opacity="0.55" stroke-width="1.6"/><circle cx="999.6" cy="180.3" r="3.6" fill="url(#gr)" opacity="0.9"/><polygon points="1029.5,235.7 1081.5,227.7 1055.3,267.7" fill="#b67fd6" fill-opacity="0.2" stroke="#d070b0" stroke-opacity="0.45" stroke-width="0.7"/><polygon points="1038.5,235.7 1072.5,227.7 1055.3,267.7" fill="#b67fd6" fill-opacity="0.2" stroke="#d070b0" stroke-opacity="0.45" stroke-width="0.7"/><polygon points="1046.5,235.7 1064.5,227.7 1055.3,267.7" fill="#b67fd6" fill-opacity="0.2" stroke="#d070b0" stroke-opacity="0.45" stroke-width="0.7"/><line x1="1055.5" y1="231.7" x2="1055.3" y2="267.7" stroke="#e0487a" stroke-opacity="0.55" stroke-width="1.6"/><circle cx="1055.3" cy="267.7" r="3.6" fill="url(#gr)" opacity="0.9"/><polygon points="1029.5,227.7 1081.5,235.7 1054.3,195.7" fill="#b67fd6" fill-opacity="0.2" stroke="#d070b0" stroke-opacity="0.45" stroke-width="0.7"/><polygon points="1038.5,227.7 1072.5,235.7 1054.3,195.7" fill="#b67fd6" fill-opacity="0.2" stroke="#d070b0" stroke-opacity="0.45" stroke-width="0.7"/><polygon points="1046.5,227.7 1064.5,235.7 1054.3,195.7" fill="#b67fd6" fill-opacity="0.2" stroke="#d070b0" stroke-opacity="0.45" stroke-width="0.7"/><line x1="1055.5" y1="231.7" x2="1054.3" y2="195.7" stroke="#e0487a" stroke-opacity="0.55" stroke-width="1.6"/><circle cx="1054.3" cy="195.7" r="3.6" fill="url(#gr)" opacity="0.9"/><polygon points="1078.5,220.3 1130.5,212.3 1100.3,252.3" fill="#b67fd6" fill-opacity="0.2" stroke="#d070b0" stroke-opacity="0.45" stroke-width="0.7"/><polygon points="1087.5,220.3 1121.5,212.3 1100.3,252.3" fill="#b67fd6" fill-opacity="0.2" stroke="#d070b0" stroke-opacity="0.45" stroke-width="0.7"/><polygon points="1095.5,220.3 1113.5,212.3 1100.3,252.3" fill="#b67fd6" fill-opacity="0.2" stroke="#d070b0" stroke-opacity="0.45" stroke-width="0.7"/><line x1="1104.5" y1="216.3" x2="1100.3" y2="252.3" stroke="#e0487a" stroke-opacity="0.55" stroke-width="1.6"/><circle cx="1100.3" cy="252.3" r="3.6" fill="url(#gr)" opacity="0.9"/><polygon points="1078.5,212.3 1130.5,220.3 1102.9,180.3" fill="#b67fd6" fill-opacity="0.2" stroke="#d070b0" stroke-opacity="0.45" stroke-width="0.7"/><polygon points="1087.5,212.3 1121.5,220.3 1102.9,180.3" fill="#b67fd6" fill-opacity="0.2" stroke="#d070b0" stroke-opacity="0.45" stroke-width="0.7"/><polygon points="1095.5,212.3 1113.5,220.3 1102.9,180.3" fill="#b67fd6" fill-opacity="0.2" stroke="#d070b0" stroke-opacity="0.45" stroke-width="0.7"/><line x1="1104.5" y1="216.3" x2="1102.9" y2="180.3" stroke="#e0487a" stroke-opacity="0.55" stroke-width="1.6"/><circle cx="1102.9" cy="180.3" r="3.6" fill="url(#gr)" opacity="0.9"/><polygon points="1134.5,235.7 1186.5,227.7 1156.1,267.7" fill="#b67fd6" fill-opacity="0.2" stroke="#d070b0" stroke-opacity="0.45" stroke-width="0.7"/><polygon points="1143.5,235.7 1177.5,227.7 1156.1,267.7" fill="#b67fd6" fill-opacity="0.2" stroke="#d070b0" stroke-opacity="0.45" stroke-width="0.7"/><polygon points="1151.5,235.7 1169.5,227.7 1156.1,267.7" fill="#b67fd6" fill-opacity="0.2" stroke="#d070b0" stroke-opacity="0.45" stroke-width="0.7"/><line x1="1160.5" y1="231.7" x2="1156.1" y2="267.7" stroke="#e0487a" stroke-opacity="0.55" stroke-width="1.6"/><circle cx="1156.1" cy="267.7" r="3.6" fill="url(#gr)" opacity="0.9"/><polygon points="1134.5,227.7 1186.5,235.7 1155.1,195.7" fill="#b67fd6" fill-opacity="0.2" stroke="#d070b0" stroke-opacity="0.45" stroke-width="0.7"/><polygon points="1143.5,227.7 1177.5,235.7 1155.1,195.7" fill="#b67fd6" fill-opacity="0.2" stroke="#d070b0" stroke-opacity="0.45" stroke-width="0.7"/><polygon points="1151.5,227.7 1169.5,235.7 1155.1,195.7" fill="#b67fd6" fill-opacity="0.2" stroke="#d070b0" stroke-opacity="0.45" stroke-width="0.7"/><line x1="1160.5" y1="231.7" x2="1155.1" y2="195.7" stroke="#e0487a" stroke-opacity="0.55" stroke-width="1.6"/><circle cx="1155.1" cy="195.7" r="3.6" fill="url(#gr)" opacity="0.9"/><polygon points="1183.5,220.3 1235.5,212.3 1210.4,252.3" fill="#b67fd6" fill-opacity="0.2" stroke="#d070b0" stroke-opacity="0.45" stroke-width="0.7"/><polygon points="1192.5,220.3 1226.5,212.3 1210.4,252.3" fill="#b67fd6" fill-opacity="0.2" stroke="#d070b0" stroke-opacity="0.45" stroke-width="0.7"/><polygon points="1200.5,220.3 1218.5,212.3 1210.4,252.3" fill="#b67fd6" fill-opacity="0.2" stroke="#d070b0" stroke-opacity="0.45" stroke-width="0.7"/><line x1="1209.5" y1="216.3" x2="1210.4" y2="252.3" stroke="#e0487a" stroke-opacity="0.55" stroke-width="1.6"/><circle cx="1210.4" cy="252.3" r="3.6" fill="url(#gr)" opacity="0.9"/><polygon points="1183.5,212.3 1235.5,220.3 1205.1,180.3" fill="#b67fd6" fill-opacity="0.2" stroke="#d070b0" stroke-opacity="0.45" stroke-width="0.7"/><polygon points="1192.5,212.3 1226.5,220.3 1205.1,180.3" fill="#b67fd6" fill-opacity="0.2" stroke="#d070b0" stroke-opacity="0.45" stroke-width="0.7"/><polygon points="1200.5,212.3 1218.5,220.3 1205.1,180.3" fill="#b67fd6" fill-opacity="0.2" stroke="#d070b0" stroke-opacity="0.45" stroke-width="0.7"/><line x1="1209.5" y1="216.3" x2="1205.1" y2="180.3" stroke="#e0487a" stroke-opacity="0.55" stroke-width="1.6"/><circle cx="1205.1" cy="180.3" r="3.6" fill="url(#gr)" opacity="0.9"/><polygon points="1234.5,235.7 1286.5,227.7 1265.2,267.7" fill="#b67fd6" fill-opacity="0.2" stroke="#d070b0" stroke-opacity="0.45" stroke-width="0.7"/><polygon points="1243.5,235.7 1277.5,227.7 1265.2,267.7" fill="#b67fd6" fill-opacity="0.2" stroke="#d070b0" stroke-opacity="0.45" stroke-width="0.7"/><polygon points="1251.5,235.7 1269.5,227.7 1265.2,267.7" fill="#b67fd6" fill-opacity="0.2" stroke="#d070b0" stroke-opacity="0.45" stroke-width="0.7"/><line x1="1260.5" y1="231.7" x2="1265.2" y2="267.7" stroke="#e0487a" stroke-opacity="0.55" stroke-width="1.6"/><circle cx="1265.2" cy="267.7" r="3.6" fill="url(#gr)" opacity="0.9"/><polygon points="1234.5,227.7 1286.5,235.7 1263.4,195.7" fill="#b67fd6" fill-opacity="0.2" stroke="#d070b0" stroke-opacity="0.45" stroke-width="0.7"/><polygon points="1243.5,227.7 1277.5,235.7 1263.4,195.7" fill="#b67fd6" fill-opacity="0.2" stroke="#d070b0" stroke-opacity="0.45" stroke-width="0.7"/><polygon points="1251.5,227.7 1269.5,235.7 1263.4,195.7" fill="#b67fd6" fill-opacity="0.2" stroke="#d070b0" stroke-opacity="0.45" stroke-width="0.7"/><line x1="1260.5" y1="231.7" x2="1263.4" y2="195.7" stroke="#e0487a" stroke-opacity="0.55" stroke-width="1.6"/><circle cx="1263.4" cy="195.7" r="3.6" fill="url(#gr)" opacity="0.9"/><polygon points="1283.5,220.3 1335.5,212.3 1301.5,252.3" fill="#b67fd6" fill-opacity="0.2" stroke="#d070b0" stroke-opacity="0.45" stroke-width="0.7"/><polygon points="1292.5,220.3 1326.5,212.3 1301.5,252.3" fill="#b67fd6" fill-opacity="0.2" stroke="#d070b0" stroke-opacity="0.45" stroke-width="0.7"/><polygon points="1300.5,220.3 1318.5,212.3 1301.5,252.3" fill="#b67fd6" fill-opacity="0.2" stroke="#d070b0" stroke-opacity="0.45" stroke-width="0.7"/><line x1="1309.5" y1="216.3" x2="1301.5" y2="252.3" stroke="#e0487a" stroke-opacity="0.55" stroke-width="1.6"/><circle cx="1301.5" cy="252.3" r="3.6" fill="url(#gr)" opacity="0.9"/><polygon points="1283.5,212.3 1335.5,220.3 1310.6,180.3" fill="#b67fd6" fill-opacity="0.2" stroke="#d070b0" stroke-opacity="0.45" stroke-width="0.7"/><polygon points="1292.5,212.3 1326.5,220.3 1310.6,180.3" fill="#b67fd6" fill-opacity="0.2" stroke="#d070b0" stroke-opacity="0.45" stroke-width="0.7"/><polygon points="1300.5,212.3 1318.5,220.3 1310.6,180.3" fill="#b67fd6" fill-opacity="0.2" stroke="#d070b0" stroke-opacity="0.45" stroke-width="0.7"/><line x1="1309.5" y1="216.3" x2="1310.6" y2="180.3" stroke="#e0487a" stroke-opacity="0.55" stroke-width="1.6"/><circle cx="1310.6" cy="180.3" r="3.6" fill="url(#gr)" opacity="0.9"/><circle cx="1185.6" cy="135.5" r="3.2" fill="url(#gb)"/><circle cx="1204.8" cy="130.3" r="2.8" fill="url(#gw)"/><circle cx="1196.4" cy="132.2" r="2.2" fill="url(#gw)"/><circle cx="1214.4" cy="140.3" r="3.2" fill="url(#gg)"/><circle cx="1194.6" cy="136.4" r="2.6" fill="url(#gw)"/><circle cx="1199.8" cy="136.7" r="3" fill="url(#gg)"/><circle cx="1197.6" cy="138.1" r="2.6" fill="url(#gw)"/><circle cx="1204.4" cy="129.7" r="3.2" fill="url(#gr)"/><circle cx="1190.2" cy="142.1" r="2.6" fill="url(#gw)"/><circle cx="1191.2" cy="139.1" r="2.4" fill="url(#gw)"/><circle cx="1246.8" cy="88.6" r="2.5" fill="url(#gw)"/><circle cx="1257.6" cy="85.7" r="2.8" fill="url(#gw)"/><circle cx="1247.5" cy="86.7" r="2.3" fill="url(#gw)"/><circle cx="1245.7" cy="84.6" r="2.9" fill="url(#gg)"/><circle cx="1246.4" cy="89.1" r="2.4" fill="url(#gw)"/><circle cx="1238.6" cy="98.1" r="2.4" fill="url(#gw)"/><circle cx="1254.7" cy="88.7" r="2.3" fill="url(#gw)"/><circle cx="1242.4" cy="88.9" r="2.4" fill="url(#gw)"/><circle cx="1251.6" cy="98.9" r="2.6" fill="url(#gw)"/><circle cx="1246.9" cy="82.8" r="3.2" fill="url(#gg)"/><circle cx="1251.7" cy="85.7" r="2" fill="url(#gw)"/><circle cx="1250.8" cy="93.4" r="2" fill="url(#gw)"/><circle cx="1260.7" cy="92" r="3.2" fill="url(#gb)"/><circle cx="1060.9" cy="104.5" r="3.2" fill="url(#gb)"/><circle cx="1055.9" cy="93" r="2.7" fill="url(#gw)"/><circle cx="1048.9" cy="108.6" r="2.6" fill="url(#gw)"/><circle cx="1053.1" cy="98.3" r="2" fill="url(#gw)"/><circle cx="1054.1" cy="99.5" r="2.7" fill="url(#gw)"/><circle cx="1057.2" cy="107" r="2.5" fill="url(#gw)"/><circle cx="1048.3" cy="101.7" r="2.4" fill="url(#gw)"/><circle cx="1044.9" cy="111.8" r="2.5" fill="url(#gw)"/><circle cx="1061.7" cy="108.5" r="3.6" fill="url(#gg)"/><circle cx="1053.3" cy="104.6" r="2" fill="url(#gw)"/><circle cx="1055.4" cy="111.3" r="2.9" fill="url(#gg)"/><circle cx="1049.8" cy="115.9" r="2.5" fill="url(#gw)"/><circle cx="1056" cy="103.7" r="2.2" fill="url(#gw)"/><circle cx="1050.1" cy="103.9" r="2.6" fill="url(#gw)"/><circle cx="1055.7" cy="93.7" r="2.1" fill="url(#gw)"/><circle cx="1237.7" cy="100.7" r="2.2" fill="url(#gw)"/><circle cx="1245.8" cy="105.1" r="3.2" fill="url(#gr)"/><circle cx="1240.3" cy="110.5" r="3.5" fill="url(#gg)"/><circle cx="1243.7" cy="107" r="2.6" fill="url(#gw)"/><circle cx="1235.9" cy="100.8" r="2.1" fill="url(#gw)"/><circle cx="1240.3" cy="107.7" r="2.3" fill="url(#gw)"/><circle cx="1249.1" cy="88.8" r="3.1" fill="url(#gg)"/><circle cx="1225.9" cy="94.4" r="2.2" fill="url(#gw)"/><circle cx="1234.4" cy="98.7" r="2.4" fill="url(#gw)"/><circle cx="1244.5" cy="99.2" r="3.2" fill="url(#gb)"/><circle cx="1241.2" cy="108" r="2.6" fill="url(#gw)"/><circle cx="1240.5" cy="93.6" r="3.2" fill="url(#gb)"/><circle cx="1151.4" cy="74.9" r="3.2" fill="url(#gb)"/><circle cx="1159.6" cy="72.5" r="2.3" fill="url(#gw)"/><circle cx="1168.2" cy="79.4" r="2.3" fill="url(#gw)"/><circle cx="1159.7" cy="74" r="3.4" fill="url(#gg)"/><circle cx="1165.5" cy="80.6" r="2.3" fill="url(#gw)"/><circle cx="1169.7" cy="74.4" r="2.5" fill="url(#gw)"/><circle cx="1173.2" cy="78.4" r="2.3" fill="url(#gw)"/><circle cx="1162.6" cy="73.4" r="3.2" fill="url(#gg)"/><circle cx="1170.1" cy="74.1" r="2.4" fill="url(#gw)"/><circle cx="1146.6" cy="77.2" r="2.6" fill="url(#gw)"/><circle cx="1162.4" cy="69" r="2.5" fill="url(#gw)"/><circle cx="1156" cy="69.6" r="2.1" fill="url(#gw)"/><circle cx="1158" cy="66" r="3" fill="url(#gg)"/><circle cx="1202.1" cy="6.1" r="3.2" fill="url(#gb)"/><circle cx="1212.4" cy="8.5" r="3.2" fill="url(#gb)"/><circle cx="1220.2" cy="8.4" r="2.2" fill="url(#gw)"/><circle cx="1197.6" cy="6.1" r="2.5" fill="url(#gw)"/><circle cx="1210.1" cy="-4.8" r="3.2" fill="url(#gr)"/><circle cx="1219.8" cy="15.3" r="3.3" fill="url(#gg)"/><circle cx="1218.2" cy="12.5" r="2.2" fill="url(#gw)"/><circle cx="1206.2" cy="5.5" r="2.1" fill="url(#gw)"/><circle cx="1206.4" cy="7.8" r="2.2" fill="url(#gw)"/><circle cx="1205.6" cy="19.8" r="3.2" fill="url(#gb)"/><circle cx="1211" cy="16.2" r="2.5" fill="url(#gw)"/><circle cx="1211.5" cy="2" r="2.4" fill="url(#gw)"/><circle cx="1167.9" cy="28.8" r="2.1" fill="url(#gw)"/><circle cx="1172.5" cy="24.7" r="2.2" fill="url(#gw)"/><circle cx="1178.4" cy="25.3" r="3.6" fill="url(#gg)"/><circle cx="1181" cy="24" r="2.3" fill="url(#gw)"/><circle cx="1177.4" cy="27.4" r="3.4" fill="url(#gg)"/><circle cx="1180.9" cy="29.5" r="2.7" fill="url(#gw)"/><circle cx="1180.2" cy="27.8" r="2.5" fill="url(#gw)"/><circle cx="1174.8" cy="30.4" r="2.2" fill="url(#gw)"/><circle cx="1184.5" cy="25" r="3.2" fill="url(#gg)"/><circle cx="1176.3" cy="36.8" r="3.3" fill="url(#gg)"/><circle cx="1184.1" cy="31.7" r="2.3" fill="url(#gw)"/><circle cx="1183.9" cy="22.1" r="2.6" fill="url(#gw)"/><circle cx="1174.2" cy="27.4" r="3.2" fill="url(#gb)"/><circle cx="1180.8" cy="21.7" r="2.3" fill="url(#gw)"/><circle cx="1168.7" cy="37.5" r="3" fill="url(#gg)"/><circle cx="1182.2" cy="25.7" r="2.8" fill="url(#gw)"/><circle cx="1184.7" cy="32.8" r="2.6" fill="url(#gw)"/><circle cx="1078.5" cy="122.4" r="3" fill="url(#gg)"/><circle cx="1073.9" cy="128.1" r="2.7" fill="url(#gw)"/><circle cx="1065.8" cy="125.4" r="2.4" fill="url(#gw)"/><circle cx="1071.1" cy="126.7" r="3.1" fill="url(#gg)"/><circle cx="1077.9" cy="115.7" r="2.8" fill="url(#gw)"/><circle cx="1064.7" cy="128.8" r="3.3" fill="url(#gg)"/><circle cx="1072.6" cy="125.5" r="2.5" fill="url(#gw)"/><circle cx="1077.7" cy="117.8" r="2.4" fill="url(#gw)"/><circle cx="1075.1" cy="124" r="2.8" fill="url(#gw)"/><circle cx="1070.6" cy="118" r="2" fill="url(#gw)"/><circle cx="1108.4" cy="164.7" r="2" fill="url(#gw)"/><circle cx="1126.5" cy="169.2" r="3.2" fill="url(#gb)"/><circle cx="1117.3" cy="177.5" r="2.4" fill="url(#gw)"/><circle cx="1116.6" cy="159.4" r="2.7" fill="url(#gw)"/><circle cx="1120.3" cy="170.8" r="2.8" fill="url(#gw)"/><circle cx="1117.2" cy="163" r="2.3" fill="url(#gw)"/><circle cx="1113.6" cy="170.5" r="2.2" fill="url(#gw)"/><circle cx="1117.9" cy="170" r="2.2" fill="url(#gw)"/><circle cx="1104.6" cy="171.4" r="2.4" fill="url(#gw)"/><circle cx="1119.9" cy="172.5" r="2.2" fill="url(#gw)"/><circle cx="1119.4" cy="162.2" r="2.3" fill="url(#gw)"/><circle cx="1116.9" cy="151.8" r="2.5" fill="url(#gw)"/><circle cx="1113.8" cy="169.4" r="2.4" fill="url(#gw)"/><circle cx="1117.7" cy="166.6" r="3.2" fill="url(#gg)"/><circle cx="1124.7" cy="159.9" r="2.3" fill="url(#gw)"/><circle cx="977.1" cy="229.4" r="2.4" fill="url(#gw)"/><circle cx="978.6" cy="235.2" r="2.4" fill="url(#gw)"/><circle cx="972.7" cy="233.6" r="2.4" fill="url(#gw)"/><circle cx="986.4" cy="239.6" r="2.3" fill="url(#gw)"/><circle cx="973.9" cy="240.1" r="2.8" fill="url(#gg)"/><circle cx="964.6" cy="223.5" r="3.3" fill="url(#gg)"/><circle cx="975.6" cy="231.5" r="2.8" fill="url(#gw)"/><circle cx="984.2" cy="242.8" r="2.7" fill="url(#gw)"/><circle cx="1257.5" cy="96.7" r="3" fill="url(#gg)"/><circle cx="1245.2" cy="93.1" r="3.2" fill="url(#gb)"/><circle cx="1252.1" cy="90.5" r="2.7" fill="url(#gw)"/><circle cx="1264.7" cy="95.4" r="3.2" fill="url(#gb)"/><circle cx="1257.3" cy="94.7" r="2" fill="url(#gw)"/><circle cx="1261.2" cy="95.8" r="2.5" fill="url(#gw)"/><circle cx="1263.2" cy="91.7" r="2.5" fill="url(#gw)"/><circle cx="1265.4" cy="89.7" r="3.1" fill="url(#gg)"/><circle cx="1254.4" cy="95.2" r="2.4" fill="url(#gw)"/><circle cx="1268" cy="90.3" r="2.6" fill="url(#gw)"/><circle cx="1262.2" cy="93.9" r="2.8" fill="url(#gw)"/><circle cx="955.1" cy="136.6" r="2.4" fill="url(#gw)"/><circle cx="953.8" cy="122.1" r="2.1" fill="url(#gw)"/><circle cx="956.6" cy="121.1" r="2.8" fill="url(#gw)"/><circle cx="947" cy="130.1" r="2.6" fill="url(#gw)"/><circle cx="972.9" cy="132.1" r="2.7" fill="url(#gw)"/><circle cx="942.9" cy="129.8" r="2.2" fill="url(#gw)"/><circle cx="957.7" cy="130.8" r="2.5" fill="url(#gw)"/><circle cx="965.3" cy="124.3" r="3.2" fill="url(#gb)"/><circle cx="962" cy="117.6" r="3.6" fill="url(#gg)"/><circle cx="948.7" cy="134.5" r="2.1" fill="url(#gw)"/><circle cx="953" cy="142.7" r="2.9" fill="url(#gg)"/><circle cx="953" cy="136.6" r="3.2" fill="url(#gg)"/><circle cx="1105.5" cy="84.4" r="3.4" fill="url(#gg)"/><circle cx="1127.3" cy="84.9" r="2.2" fill="url(#gw)"/><circle cx="1120.7" cy="87" r="2.7" fill="url(#gw)"/><circle cx="1127.1" cy="86.1" r="2.9" fill="url(#gg)"/><circle cx="1102.5" cy="77.6" r="3.2" fill="url(#gg)"/><circle cx="1116" cy="77.2" r="2.6" fill="url(#gw)"/><circle cx="1115.2" cy="80" r="2.8" fill="url(#gg)"/><circle cx="1125.9" cy="78.8" r="2.4" fill="url(#gw)"/><circle cx="1106.4" cy="78.7" r="2.2" fill="url(#gw)"/><circle cx="1114.1" cy="77.1" r="2.5" fill="url(#gw)"/><circle cx="1104.6" cy="70.8" r="3.2" fill="url(#gr)"/><circle cx="1104.6" cy="84.4" r="2.2" fill="url(#gw)"/><circle cx="1114.8" cy="78.9" r="2" fill="url(#gw)"/><circle cx="1048" cy="166.7" r="2.8" fill="url(#gw)"/><circle cx="1056.6" cy="163.5" r="2" fill="url(#gw)"/><circle cx="1047" cy="157.7" r="3.1" fill="url(#gg)"/><circle cx="1049.1" cy="153.9" r="2.7" fill="url(#gw)"/><circle cx="1054.7" cy="149.6" r="2.8" fill="url(#gg)"/><circle cx="1055.4" cy="166.3" r="2.6" fill="url(#gw)"/><circle cx="1047.5" cy="164.4" r="3.5" fill="url(#gg)"/><circle cx="1053.1" cy="151.6" r="2.4" fill="url(#gw)"/><circle cx="1056.4" cy="150.9" r="2.3" fill="url(#gw)"/><circle cx="1055.4" cy="162.8" r="2.8" fill="url(#gg)"/><circle cx="1051.6" cy="157.7" r="2.3" fill="url(#gw)"/><circle cx="1054.6" cy="157.3" r="3.6" fill="url(#gg)"/><circle cx="1052.1" cy="151.9" r="3.6" fill="url(#gg)"/><circle cx="1243.5" cy="90.7" r="2.2" fill="url(#gw)"/><circle cx="1253.4" cy="81.4" r="2.3" fill="url(#gw)"/><circle cx="1250.6" cy="92.9" r="3.3" fill="url(#gg)"/><circle cx="1242" cy="93.5" r="3.5" fill="url(#gg)"/><circle cx="1247.1" cy="94.5" r="2.9" fill="url(#gg)"/><circle cx="1230.1" cy="87.3" r="2.8" fill="url(#gw)"/><circle cx="1240.5" cy="88.1" r="3.1" fill="url(#gg)"/><circle cx="1248.2" cy="102.1" r="2.7" fill="url(#gw)"/><circle cx="1256.7" cy="86.8" r="2.4" fill="url(#gw)"/><circle cx="1122" cy="213.3" r="3.2" fill="url(#gr)"/><circle cx="1117.4" cy="202.3" r="3.2" fill="url(#gb)"/><circle cx="1119.4" cy="205.9" r="2.5" fill="url(#gw)"/><circle cx="1110.4" cy="213" r="2.4" fill="url(#gw)"/><circle cx="1112.8" cy="215.1" r="3.2" fill="url(#gb)"/><circle cx="1117.2" cy="206.7" r="2.9" fill="url(#gg)"/><circle cx="1123.9" cy="221.2" r="2" fill="url(#gw)"/><circle cx="1115.4" cy="213" r="3" fill="url(#gg)"/><circle cx="1109.6" cy="204.4" r="2.7" fill="url(#gw)"/><circle cx="1123.3" cy="202.1" r="2" fill="url(#gw)"/><circle cx="1117.3" cy="208.9" r="2.4" fill="url(#gw)"/><circle cx="1113.3" cy="197.7" r="3.4" fill="url(#gg)"/><circle cx="1116.5" cy="209.8" r="2.7" fill="url(#gw)"/><circle cx="1115.1" cy="218.3" r="2.4" fill="url(#gw)"/><circle cx="1030.1" cy="210.1" r="3.2" fill="url(#gb)"/><circle cx="1035.3" cy="201.3" r="2.1" fill="url(#gw)"/><circle cx="1022.6" cy="203.6" r="2.3" fill="url(#gw)"/><circle cx="1048.4" cy="209.3" r="3.2" fill="url(#gg)"/><circle cx="1018.1" cy="201.9" r="3" fill="url(#gg)"/><circle cx="1036.7" cy="203.8" r="2.9" fill="url(#gg)"/><circle cx="1033.8" cy="207" r="2.3" fill="url(#gw)"/><circle cx="1026.6" cy="205.2" r="2.5" fill="url(#gw)"/><circle cx="1023.1" cy="199.6" r="2.7" fill="url(#gw)"/><circle cx="1035.2" cy="209.1" r="3.2" fill="url(#gr)"/><circle cx="1030.8" cy="211.2" r="3.2" fill="url(#gb)"/><circle cx="1209.7" cy="119.2" r="2.1" fill="url(#gw)"/><circle cx="1199.3" cy="137.5" r="2.2" fill="url(#gw)"/><circle cx="1202.9" cy="125.6" r="2.5" fill="url(#gw)"/><circle cx="1206.8" cy="125.7" r="2.3" fill="url(#gw)"/><circle cx="1196.8" cy="123.5" r="2.3" fill="url(#gw)"/><circle cx="1200.5" cy="126.5" r="2.5" fill="url(#gw)"/><circle cx="1201.3" cy="120.1" r="3" fill="url(#gg)"/><circle cx="1213.1" cy="131.8" r="2.8" fill="url(#gw)"/><circle cx="1210.8" cy="122.1" r="2.1" fill="url(#gw)"/><circle cx="1267.5" cy="216" r="2.4" fill="url(#gw)"/><circle cx="1261" cy="211.2" r="2.8" fill="url(#gw)"/><circle cx="1257.2" cy="209.3" r="2.4" fill="url(#gw)"/><circle cx="1266.3" cy="220" r="2.4" fill="url(#gw)"/><circle cx="1260.3" cy="204.3" r="2.8" fill="url(#gg)"/><circle cx="1260.3" cy="213.1" r="3.2" fill="url(#gr)"/><circle cx="1260.8" cy="215.7" r="2.8" fill="url(#gw)"/><circle cx="1261.8" cy="209" r="2.5" fill="url(#gw)"/><circle cx="1259.8" cy="210.1" r="3" fill="url(#gg)"/><circle cx="1266" cy="204.8" r="3.5" fill="url(#gg)"/><circle cx="1255" cy="209" r="2.6" fill="url(#gw)"/><circle cx="1262.9" cy="216" r="3.4" fill="url(#gg)"/><circle cx="963.6" cy="45" r="2.8" fill="url(#gg)"/><circle cx="965.2" cy="50.9" r="2" fill="url(#gw)"/><circle cx="965.8" cy="50.2" r="2.5" fill="url(#gw)"/><circle cx="957.5" cy="53.4" r="3.2" fill="url(#gr)"/><circle cx="964.2" cy="40.1" r="2.7" fill="url(#gw)"/><circle cx="958.6" cy="49.9" r="2.1" fill="url(#gw)"/><circle cx="974.4" cy="48.6" r="2.6" fill="url(#gw)"/><circle cx="949.9" cy="41.6" r="3.5" fill="url(#gg)"/><circle cx="971.8" cy="49.6" r="2.2" fill="url(#gw)"/><circle cx="964.5" cy="58.8" r="3.3" fill="url(#gg)"/><circle cx="967.2" cy="53.1" r="2.6" fill="url(#gw)"/><circle cx="963" cy="47" r="2.2" fill="url(#gw)"/><circle cx="969.1" cy="57.6" r="3" fill="url(#gg)"/><circle cx="961.3" cy="54.6" r="2.5" fill="url(#gw)"/><circle cx="963.4" cy="51.1" r="3.3" fill="url(#gg)"/><circle cx="970.3" cy="48.5" r="2.4" fill="url(#gw)"/><circle cx="968.2" cy="41.9" r="2.1" fill="url(#gw)"/><circle cx="1245.5" cy="205.7" r="2" fill="url(#gw)"/><circle cx="1246.8" cy="198.7" r="2.1" fill="url(#gw)"/><circle cx="1259.1" cy="205.7" r="2.7" fill="url(#gw)"/><circle cx="1255.9" cy="198.6" r="2.8" fill="url(#gw)"/><circle cx="1264.9" cy="201.9" r="3.3" fill="url(#gg)"/><circle cx="1258.4" cy="200.8" r="3.2" fill="url(#gb)"/><circle cx="1274.1" cy="198.7" r="3.2" fill="url(#gr)"/><circle cx="1257" cy="205.1" r="2.6" fill="url(#gw)"/><circle cx="1263.3" cy="200.5" r="2.1" fill="url(#gw)"/><circle cx="1256.5" cy="197" r="3.2" fill="url(#gg)"/><circle cx="1256.4" cy="201.1" r="3.2" fill="url(#gr)"/><circle cx="1254.8" cy="203.2" r="2.3" fill="url(#gw)"/><circle cx="1263.7" cy="201.8" r="2.2" fill="url(#gw)"/><circle cx="1018.9" cy="140.3" r="3.3" fill="url(#gg)"/><circle cx="1019" cy="143.9" r="2.7" fill="url(#gw)"/><circle cx="1024.5" cy="139.1" r="2.3" fill="url(#gw)"/><circle cx="1029.6" cy="146.2" r="3.2" fill="url(#gr)"/><circle cx="1030" cy="150.3" r="3.2" fill="url(#gr)"/><circle cx="1031.6" cy="148.3" r="2.4" fill="url(#gw)"/><circle cx="1025.7" cy="143.5" r="3.1" fill="url(#gg)"/><circle cx="1021.9" cy="144" r="3.2" fill="url(#gr)"/><circle cx="1174.2" cy="112.5" r="2.7" fill="url(#gw)"/><circle cx="1180.6" cy="112.7" r="2.4" fill="url(#gw)"/><circle cx="1187.4" cy="108.9" r="2.4" fill="url(#gw)"/><circle cx="1182.5" cy="106.5" r="2.5" fill="url(#gw)"/><circle cx="1178.8" cy="105.3" r="3.4" fill="url(#gg)"/><circle cx="1182.1" cy="108.2" r="2.7" fill="url(#gw)"/><circle cx="1187.4" cy="103.4" r="2.3" fill="url(#gw)"/><circle cx="1176.7" cy="105.9" r="2.7" fill="url(#gw)"/><circle cx="1167.2" cy="115.4" r="3.5" fill="url(#gg)"/><circle cx="1179.4" cy="108.2" r="2.7" fill="url(#gw)"/><circle cx="1176.1" cy="107" r="2.3" fill="url(#gw)"/><circle cx="1173.8" cy="109" r="2.7" fill="url(#gw)"/><circle cx="1176.4" cy="106" r="2.2" fill="url(#gw)"/><circle cx="1189.5" cy="113.2" r="2" fill="url(#gw)"/><circle cx="1184.3" cy="109.3" r="3.5" fill="url(#gg)"/><circle cx="1187.9" cy="115.7" r="2.3" fill="url(#gw)"/><circle cx="1094" cy="228.8" r="3.1" fill="url(#gg)"/><circle cx="1099.3" cy="230.4" r="3.4" fill="url(#gg)"/><circle cx="1092.1" cy="224.1" r="3" fill="url(#gg)"/><circle cx="1088.6" cy="220.2" r="2.5" fill="url(#gw)"/><circle cx="1100.4" cy="235.4" r="3.2" fill="url(#gb)"/><circle cx="1098.7" cy="221.6" r="2.9" fill="url(#gg)"/><circle cx="1094" cy="225.1" r="2.4" fill="url(#gw)"/><circle cx="1089.4" cy="222.4" r="3" fill="url(#gg)"/><circle cx="1090.6" cy="225.7" r="2.4" fill="url(#gw)"/><circle cx="1088.5" cy="223.8" r="3.3" fill="url(#gg)"/><circle cx="1085.9" cy="219.9" r="2" fill="url(#gw)"/><circle cx="1099.7" cy="223.6" r="3" fill="url(#gg)"/><circle cx="1235.9" cy="242" r="2.1" fill="url(#gw)"/><circle cx="1230.2" cy="240.3" r="2.4" fill="url(#gw)"/><circle cx="1223.7" cy="239.8" r="2.5" fill="url(#gw)"/><circle cx="1229.1" cy="243.8" r="2.5" fill="url(#gw)"/><circle cx="1220.6" cy="246.8" r="2.1" fill="url(#gw)"/><circle cx="1225.3" cy="242.8" r="3.2" fill="url(#gr)"/><circle cx="1230.7" cy="241.4" r="2.5" fill="url(#gw)"/><circle cx="1233.2" cy="239.5" r="3.4" fill="url(#gg)"/><circle cx="1226.4" cy="242.6" r="2.6" fill="url(#gw)"/><circle cx="1219.6" cy="243.1" r="2.5" fill="url(#gw)"/><circle cx="1218.5" cy="238" r="2.6" fill="url(#gw)"/><circle cx="1235.6" cy="248.3" r="2.5" fill="url(#gw)"/><circle cx="1229" cy="247.8" r="2.5" fill="url(#gw)"/><circle cx="1230.5" cy="247.9" r="3.3" fill="url(#gg)"/><circle cx="1221.6" cy="241.6" r="2.3" fill="url(#gw)"/><circle cx="1107.4" cy="218.7" r="2.3" fill="url(#gw)"/><circle cx="1100.8" cy="219.8" r="2.3" fill="url(#gw)"/><circle cx="1115.3" cy="220.5" r="2.1" fill="url(#gw)"/><circle cx="1112" cy="218.5" r="3.1" fill="url(#gg)"/><circle cx="1118.7" cy="213" r="2.6" fill="url(#gw)"/><circle cx="1113.4" cy="218.5" r="2.1" fill="url(#gw)"/><circle cx="1108.9" cy="212.8" r="2.6" fill="url(#gw)"/><circle cx="1092.4" cy="223.1" r="3.1" fill="url(#gg)"/><circle cx="1114.9" cy="208.3" r="2.7" fill="url(#gw)"/><circle cx="1100.6" cy="215.6" r="2.1" fill="url(#gw)"/><circle cx="1115.1" cy="217.7" r="3" fill="url(#gg)"/><circle cx="1111.4" cy="217.2" r="2.1" fill="url(#gw)"/><circle cx="1109" cy="215.6" r="3.2" fill="url(#gb)"/><circle cx="1109.2" cy="218" r="2.3" fill="url(#gw)"/><circle cx="1110.2" cy="226.8" r="2.6" fill="url(#gw)"/><circle cx="1108.7" cy="221.8" r="3.2" fill="url(#gb)"/><circle cx="1109.8" cy="215.3" r="3.2" fill="url(#gb)"/><circle cx="1258.5" cy="105.8" r="2.5" fill="url(#gw)"/><circle cx="1262.9" cy="98.8" r="3.2" fill="url(#gr)"/><circle cx="1256.5" cy="88" r="2.6" fill="url(#gw)"/><circle cx="1248.1" cy="94.4" r="2.2" fill="url(#gw)"/><circle cx="1253.5" cy="100.8" r="3.1" fill="url(#gg)"/><circle cx="1258.3" cy="88.3" r="2.3" fill="url(#gw)"/><circle cx="1258.6" cy="90.6" r="3.4" fill="url(#gg)"/><circle cx="1269.7" cy="100" r="2.8" fill="url(#gw)"/><circle cx="1258.3" cy="96.9" r="2.6" fill="url(#gw)"/><circle cx="1054.4" cy="34.6" r="3.2" fill="url(#gb)"/><circle cx="1046" cy="39.4" r="2.3" fill="url(#gw)"/><circle cx="1051.3" cy="44.6" r="3.2" fill="url(#gr)"/><circle cx="1048.4" cy="42" r="2.2" fill="url(#gw)"/><circle cx="1038.6" cy="39.7" r="3.2" fill="url(#gr)"/><circle cx="1044.5" cy="47.8" r="2.6" fill="url(#gw)"/><circle cx="1051.2" cy="46.1" r="2.2" fill="url(#gw)"/><circle cx="1051.4" cy="41.3" r="3.2" fill="url(#gb)"/><circle cx="1047.1" cy="30.1" r="2.1" fill="url(#gw)"/><circle cx="1061.7" cy="44.7" r="2" fill="url(#gw)"/><circle cx="1052.5" cy="40.7" r="2.1" fill="url(#gw)"/><circle cx="1049.2" cy="49.7" r="2.7" fill="url(#gw)"/><circle cx="1036.4" cy="35.6" r="2.5" fill="url(#gw)"/><circle cx="1198.2" cy="106.2" r="2.1" fill="url(#gw)"/><circle cx="1198.4" cy="96.5" r="3.1" fill="url(#gg)"/><circle cx="1204.2" cy="100.7" r="3.4" fill="url(#gg)"/><circle cx="1202" cy="105.5" r="3.2" fill="url(#gg)"/><circle cx="1205.6" cy="97.8" r="3.2" fill="url(#gr)"/><circle cx="1191.9" cy="89.4" r="3.2" fill="url(#gr)"/><circle cx="1198.2" cy="106.7" r="3.1" fill="url(#gg)"/><circle cx="1201.1" cy="98.5" r="2.8" fill="url(#gw)"/><circle cx="1190.9" cy="110" r="2" fill="url(#gw)"/><circle cx="1193.2" cy="90" r="2.1" fill="url(#gw)"/><circle cx="1193.6" cy="111" r="2" fill="url(#gw)"/><circle cx="1197.1" cy="107.2" r="3.5" fill="url(#gg)"/><circle cx="1221.6" cy="178.4" r="3.1" fill="url(#gg)"/><circle cx="1228.5" cy="173.8" r="2.7" fill="url(#gw)"/><circle cx="1234.9" cy="183.5" r="2.2" fill="url(#gw)"/><circle cx="1219.1" cy="167.5" r="2" fill="url(#gw)"/><circle cx="1233.2" cy="169.6" r="2.7" fill="url(#gw)"/><circle cx="1220.5" cy="170.2" r="3.2" fill="url(#gr)"/><circle cx="1225.6" cy="166.6" r="3.3" fill="url(#gg)"/><circle cx="1224.1" cy="168.4" r="2.5" fill="url(#gw)"/><circle cx="1215.1" cy="170" r="2.5" fill="url(#gw)"/><circle cx="1219" cy="181.7" r="2.1" fill="url(#gw)"/><circle cx="1214.7" cy="164.3" r="2.5" fill="url(#gw)"/><circle cx="1227.4" cy="168.6" r="2.7" fill="url(#gw)"/><circle cx="1218.3" cy="162.5" r="3.4" fill="url(#gg)"/><circle cx="1227.4" cy="172.9" r="2.2" fill="url(#gw)"/><circle cx="1215" cy="171.5" r="3.2" fill="url(#gg)"/><circle cx="1220.1" cy="176" r="3.3" fill="url(#gg)"/><circle cx="1191.5" cy="109.1" r="2.3" fill="url(#gw)"/><circle cx="1193.6" cy="106.6" r="2.4" fill="url(#gw)"/><circle cx="1184" cy="108.1" r="3.2" fill="url(#gb)"/><circle cx="1202.5" cy="95.9" r="2.8" fill="url(#gw)"/><circle cx="1199.8" cy="107.6" r="3.1" fill="url(#gg)"/><circle cx="1190" cy="105.4" r="2.8" fill="url(#gw)"/><circle cx="1183.5" cy="109.2" r="2.1" fill="url(#gw)"/><circle cx="1195.6" cy="106.9" r="2.3" fill="url(#gw)"/><circle cx="1190.2" cy="100.8" r="2.1" fill="url(#gw)"/><circle cx="1265.3" cy="147.2" r="2.2" fill="url(#gw)"/><circle cx="1244.9" cy="141.4" r="2.4" fill="url(#gw)"/><circle cx="1260.3" cy="153.2" r="2.4" fill="url(#gw)"/><circle cx="1268.1" cy="154.6" r="2.3" fill="url(#gw)"/><circle cx="1253.4" cy="158" r="2.2" fill="url(#gw)"/><circle cx="1257.2" cy="152.2" r="2.7" fill="url(#gw)"/><circle cx="1256.9" cy="153.5" r="2.2" fill="url(#gw)"/><circle cx="1253.9" cy="151.7" r="3.2" fill="url(#gb)"/><circle cx="1263.9" cy="151.4" r="3.6" fill="url(#gg)"/><circle cx="1272.4" cy="157.5" r="2" fill="url(#gw)"/><circle cx="1261.4" cy="165.2" r="2.8" fill="url(#gg)"/><circle cx="1261" cy="150.4" r="2.5" fill="url(#gw)"/><circle cx="1261.4" cy="142.5" r="3.2" fill="url(#gr)"/><circle cx="1042.1" cy="261.5" r="2.3" fill="url(#gw)"/><circle cx="1043.3" cy="256.2" r="3.2" fill="url(#gr)"/><circle cx="1040.8" cy="257.6" r="2.9" fill="url(#gg)"/><circle cx="1041.8" cy="261.3" r="3.5" fill="url(#gg)"/><circle cx="1039.9" cy="262.2" r="2.6" fill="url(#gw)"/><circle cx="1041.9" cy="252.7" r="2.3" fill="url(#gw)"/><circle cx="1046.3" cy="251.5" r="2.9" fill="url(#gg)"/><circle cx="1039.3" cy="258.2" r="2.4" fill="url(#gw)"/><circle cx="1047" cy="254.8" r="2.3" fill="url(#gw)"/><circle cx="1053.8" cy="256.5" r="2.1" fill="url(#gw)"/><circle cx="1042.5" cy="265.1" r="2.8" fill="url(#gg)"/><circle cx="1042.8" cy="261.1" r="3.2" fill="url(#gb)"/><circle cx="1048.2" cy="262.3" r="2.5" fill="url(#gw)"/><circle cx="1032.5" cy="251.3" r="3.1" fill="url(#gg)"/><circle cx="1034.7" cy="9.5" r="3.5" fill="url(#gg)"/><circle cx="1024.6" cy="7.4" r="2.5" fill="url(#gw)"/><circle cx="1033.7" cy="8.7" r="2.4" fill="url(#gw)"/><circle cx="1033.3" cy="15.6" r="3.1" fill="url(#gg)"/><circle cx="1033.5" cy="7.8" r="2.2" fill="url(#gw)"/><circle cx="1022.9" cy="11" r="2.3" fill="url(#gw)"/><circle cx="1036" cy="5.9" r="3.4" fill="url(#gg)"/><circle cx="1029" cy="15.9" r="3.5" fill="url(#gg)"/><circle cx="1038.6" cy="13.6" r="2.2" fill="url(#gw)"/><circle cx="1025.5" cy="10.6" r="2.2" fill="url(#gw)"/><circle cx="1023.3" cy="11.7" r="2.8" fill="url(#gw)"/><circle cx="1041.3" cy="14.5" r="2.2" fill="url(#gw)"/><circle cx="1035.4" cy="10.6" r="3.1" fill="url(#gg)"/><circle cx="988.5" cy="230.2" r="2.2" fill="url(#gw)"/><circle cx="972.9" cy="227.4" r="2.1" fill="url(#gw)"/><circle cx="993.9" cy="226.2" r="3.6" fill="url(#gg)"/><circle cx="984.4" cy="228.4" r="3.5" fill="url(#gg)"/><circle cx="972.1" cy="220.2" r="2.4" fill="url(#gw)"/><circle cx="989.9" cy="223.8" r="3.5" fill="url(#gg)"/><circle cx="982" cy="231.2" r="2" fill="url(#gw)"/><circle cx="976.2" cy="225.3" r="3.4" fill="url(#gg)"/><circle cx="979.6" cy="229.8" r="2.6" fill="url(#gw)"/><circle cx="1038.2" cy="213.4" r="2.5" fill="url(#gw)"/><circle cx="1056.1" cy="225.3" r="3.2" fill="url(#gb)"/><circle cx="1045.8" cy="226.9" r="2.4" fill="url(#gw)"/><circle cx="1055.5" cy="220" r="2.3" fill="url(#gw)"/><circle cx="1047.2" cy="219.6" r="3.3" fill="url(#gg)"/><circle cx="1053.2" cy="209.3" r="3.2" fill="url(#gg)"/><circle cx="1055.9" cy="223.1" r="3.2" fill="url(#gr)"/><circle cx="1059.6" cy="218.5" r="2.6" fill="url(#gw)"/><circle cx="1043.9" cy="225.1" r="2" fill="url(#gw)"/><circle cx="1039.9" cy="207.8" r="3.2" fill="url(#gg)"/><circle cx="1040.4" cy="223.6" r="2" fill="url(#gw)"/><circle cx="1048.7" cy="216.5" r="2.1" fill="url(#gw)"/><circle cx="1052" cy="224.7" r="3.1" fill="url(#gg)"/><circle cx="1033.5" cy="221.6" r="3.3" fill="url(#gg)"/><circle cx="1057.1" cy="220" r="2.4" fill="url(#gw)"/><circle cx="1048.9" cy="220.1" r="3" fill="url(#gg)"/><circle cx="1156" cy="253.2" r="2.7" fill="url(#gw)"/><circle cx="1155.9" cy="257.4" r="3.5" fill="url(#gg)"/><circle cx="1160.1" cy="263.6" r="2.2" fill="url(#gw)"/><circle cx="1147.6" cy="249.7" r="2.9" fill="url(#gg)"/><circle cx="1154.5" cy="249.9" r="3.2" fill="url(#gg)"/><circle cx="1147.2" cy="251.5" r="2.6" fill="url(#gw)"/><circle cx="1148.8" cy="257.3" r="2.3" fill="url(#gw)"/><circle cx="1157" cy="257" r="2.5" fill="url(#gw)"/><circle cx="1150" cy="247.3" r="2.1" fill="url(#gw)"/><circle cx="1155" cy="259.1" r="2.9" fill="url(#gg)"/><circle cx="974.3" cy="87.7" r="2.1" fill="url(#gw)"/><circle cx="960.5" cy="96.3" r="3.5" fill="url(#gg)"/><circle cx="973.9" cy="89.2" r="2.7" fill="url(#gw)"/><circle cx="968.7" cy="95.3" r="2.1" fill="url(#gw)"/><circle cx="964.5" cy="97.6" r="2.7" fill="url(#gw)"/><circle cx="955.4" cy="97.3" r="3.5" fill="url(#gg)"/><circle cx="973.1" cy="92.9" r="2" fill="url(#gw)"/><circle cx="960.7" cy="93.9" r="3" fill="url(#gg)"/><circle cx="978.1" cy="97.4" r="2.4" fill="url(#gw)"/><circle cx="1264.2" cy="173.4" r="2.5" fill="url(#gw)"/><circle cx="1256.1" cy="164.7" r="3.1" fill="url(#gg)"/><circle cx="1249.9" cy="167.4" r="2.1" fill="url(#gw)"/><circle cx="1257.3" cy="168.7" r="2.7" fill="url(#gw)"/><circle cx="1260.5" cy="176.8" r="2.4" fill="url(#gw)"/><circle cx="1260" cy="167.3" r="2.9" fill="url(#gg)"/><circle cx="1264.6" cy="179.6" r="2.1" fill="url(#gw)"/><circle cx="1261.6" cy="151.2" r="2.2" fill="url(#gw)"/><circle cx="1260.5" cy="165.4" r="2.6" fill="url(#gw)"/><circle cx="1252.6" cy="174.1" r="3.2" fill="url(#gg)"/><circle cx="1271.6" cy="165.8" r="2.6" fill="url(#gw)"/><circle cx="1262" cy="170.9" r="3.3" fill="url(#gg)"/><circle cx="1262" cy="173.6" r="3.1" fill="url(#gg)"/><circle cx="1265.6" cy="167.2" r="3.1" fill="url(#gg)"/><circle cx="1262.3" cy="162.8" r="2.8" fill="url(#gg)"/><circle cx="1263.4" cy="169.8" r="3.2" fill="url(#gr)"/><circle cx="991.1" cy="21.6" r="2.4" fill="url(#gw)"/><circle cx="1001.6" cy="11.6" r="2.3" fill="url(#gw)"/><circle cx="1001.5" cy="12.6" r="2.4" fill="url(#gw)"/><circle cx="997.2" cy="6.7" r="2.2" fill="url(#gw)"/><circle cx="1005.5" cy="5.6" r="3.2" fill="url(#gb)"/><circle cx="1004.6" cy="13.5" r="3" fill="url(#gg)"/><circle cx="996.2" cy="10.5" r="3.2" fill="url(#gr)"/><circle cx="994.5" cy="7.3" r="2.9" fill="url(#gg)"/><circle cx="1009.2" cy="17.9" r="2.1" fill="url(#gw)"/><circle cx="998.1" cy="6.1" r="3.4" fill="url(#gg)"/><circle cx="1008.6" cy="24.8" r="2.8" fill="url(#gw)"/><circle cx="1010.8" cy="6.2" r="3.2" fill="url(#gg)"/><circle cx="998.2" cy="5.4" r="3.4" fill="url(#gg)"/><circle cx="1011.7" cy="16.4" r="3.2" fill="url(#gg)"/><circle cx="1021.3" cy="11.8" r="2.1" fill="url(#gw)"/><circle cx="1102" cy="84.6" r="2.4" fill="url(#gw)"/><circle cx="1092.3" cy="93.8" r="2.6" fill="url(#gw)"/><circle cx="1097.4" cy="91.8" r="2.1" fill="url(#gw)"/><circle cx="1102" cy="81.5" r="3.5" fill="url(#gg)"/><circle cx="1105" cy="86.8" r="3.5" fill="url(#gg)"/><circle cx="1089.1" cy="97.9" r="2.3" fill="url(#gw)"/><circle cx="1097.2" cy="82.3" r="2.6" fill="url(#gw)"/><circle cx="1105.6" cy="86.4" r="3.2" fill="url(#gg)"/><circle cx="1105.2" cy="83.6" r="2.1" fill="url(#gw)"/><circle cx="1098.6" cy="89" r="2.7" fill="url(#gw)"/><circle cx="1108" cy="95.6" r="2.5" fill="url(#gw)"/><circle cx="1239.2" cy="134.7" r="3.2" fill="url(#gr)"/><circle cx="1244.2" cy="148.5" r="2.2" fill="url(#gw)"/><circle cx="1261.3" cy="139.4" r="3.3" fill="url(#gg)"/><circle cx="1237.9" cy="142.5" r="2.4" fill="url(#gw)"/><circle cx="1258.8" cy="147.5" r="2.3" fill="url(#gw)"/><circle cx="1250.3" cy="147.5" r="2.7" fill="url(#gw)"/><circle cx="1263.4" cy="156" r="2.9" fill="url(#gg)"/><circle cx="1247.7" cy="147.6" r="2.8" fill="url(#gg)"/><circle cx="1248" cy="142.7" r="2.7" fill="url(#gw)"/><circle cx="1256" cy="146.6" r="3.2" fill="url(#gr)"/><circle cx="1253.8" cy="151.8" r="2.4" fill="url(#gw)"/><circle cx="1241.4" cy="147.3" r="2.2" fill="url(#gw)"/><circle cx="1244.2" cy="160.4" r="2.9" fill="url(#gg)"/><circle cx="1247.7" cy="143.8" r="3.2" fill="url(#gb)"/><circle cx="1257.5" cy="148.8" r="2.4" fill="url(#gw)"/><circle cx="962.6" cy="108.2" r="3.4" fill="url(#gg)"/><circle cx="952.5" cy="101.4" r="2.5" fill="url(#gw)"/><circle cx="952.8" cy="107.4" r="2.4" fill="url(#gw)"/><circle cx="961.6" cy="104.4" r="2.1" fill="url(#gw)"/><circle cx="948.5" cy="103.8" r="3.4" fill="url(#gg)"/><circle cx="968.9" cy="110.7" r="2.6" fill="url(#gw)"/><circle cx="958.7" cy="99.5" r="3.2" fill="url(#gr)"/><circle cx="961.9" cy="109.2" r="2.4" fill="url(#gw)"/><circle cx="958" cy="106.4" r="3.2" fill="url(#gr)"/><circle cx="949.2" cy="105.7" r="2.5" fill="url(#gw)"/><circle cx="962.3" cy="106" r="3.2" fill="url(#gb)"/><circle cx="945.1" cy="107.4" r="3.6" fill="url(#gg)"/><circle cx="963.2" cy="106" r="3" fill="url(#gg)"/><circle cx="962.4" cy="112.5" r="2.7" fill="url(#gw)"/><circle cx="962.3" cy="99.4" r="3.6" fill="url(#gg)"/><circle cx="1118.8" cy="185.3" r="2.2" fill="url(#gw)"/><circle cx="1131.2" cy="196.5" r="3.4" fill="url(#gg)"/><circle cx="1119.4" cy="197" r="2.5" fill="url(#gw)"/><circle cx="1129.3" cy="180" r="2.3" fill="url(#gw)"/><circle cx="1128.6" cy="193.5" r="3.2" fill="url(#gg)"/><circle cx="1127.8" cy="189.5" r="3.2" fill="url(#gr)"/><circle cx="1124.9" cy="180.5" r="3.1" fill="url(#gg)"/><circle cx="1133.4" cy="189.2" r="3.2" fill="url(#gr)"/><circle cx="1133.6" cy="188.1" r="3.4" fill="url(#gg)"/><circle cx="1126" cy="179.8" r="2.4" fill="url(#gw)"/><circle cx="979.7" cy="238.7" r="3" fill="url(#gg)"/><circle cx="991.1" cy="234.7" r="2.2" fill="url(#gw)"/><circle cx="988.4" cy="234.1" r="3.4" fill="url(#gg)"/><circle cx="989.7" cy="243.2" r="2.5" fill="url(#gw)"/><circle cx="977.7" cy="239.3" r="2.1" fill="url(#gw)"/><circle cx="980.3" cy="237.9" r="3.2" fill="url(#gb)"/><circle cx="974.5" cy="232.3" r="3.1" fill="url(#gg)"/><circle cx="978.7" cy="239.8" r="3.2" fill="url(#gg)"/><circle cx="989.1" cy="236.3" r="2.7" fill="url(#gw)"/><circle cx="986.6" cy="239.2" r="3.2" fill="url(#gg)"/><circle cx="973" cy="237.4" r="2.4" fill="url(#gw)"/><circle cx="980.6" cy="233.9" r="2.4" fill="url(#gw)"/><circle cx="981.5" cy="233.2" r="3.3" fill="url(#gg)"/><circle cx="1148.8" cy="74.8" r="3.3" fill="url(#gg)"/><circle cx="1151.7" cy="77" r="2.5" fill="url(#gw)"/><circle cx="1133.9" cy="70.2" r="3.2" fill="url(#gb)"/><circle cx="1133.3" cy="72.5" r="2.1" fill="url(#gw)"/><circle cx="1157.8" cy="66.2" r="3.2" fill="url(#gr)"/><circle cx="1130.1" cy="72.1" r="2.6" fill="url(#gw)"/><circle cx="1130.7" cy="64.5" r="2.9" fill="url(#gg)"/><circle cx="1139" cy="64.2" r="3.2" fill="url(#gb)"/><circle cx="1139.5" cy="70.9" r="2.1" fill="url(#gw)"/><circle cx="1136.5" cy="75.8" r="2.5" fill="url(#gw)"/><circle cx="1243.4" cy="18.1" r="2.1" fill="url(#gw)"/><circle cx="1229.1" cy="11.8" r="2.4" fill="url(#gw)"/><circle cx="1231.9" cy="20.7" r="2.5" fill="url(#gw)"/><circle cx="1232.5" cy="27.7" r="2.6" fill="url(#gw)"/><circle cx="1233.6" cy="27.2" r="3.1" fill="url(#gg)"/><circle cx="1233.8" cy="19.4" r="3.2" fill="url(#gr)"/><circle cx="1227.5" cy="17" r="2" fill="url(#gw)"/><circle cx="1245.9" cy="25.6" r="2.4" fill="url(#gw)"/><circle cx="1224.3" cy="27.4" r="2.3" fill="url(#gw)"/><circle cx="1233.4" cy="29.5" r="2.7" fill="url(#gw)"/><circle cx="1066.6" cy="212.1" r="2.1" fill="url(#gw)"/><circle cx="1053.5" cy="194.6" r="2.7" fill="url(#gw)"/><circle cx="1065.6" cy="198.3" r="2.1" fill="url(#gw)"/><circle cx="1073.6" cy="205.4" r="2.8" fill="url(#gw)"/><circle cx="1073.5" cy="191.9" r="2.6" fill="url(#gw)"/><circle cx="1064.1" cy="206.2" r="2.5" fill="url(#gw)"/><circle cx="1063.3" cy="195.1" r="2.1" fill="url(#gw)"/><circle cx="1064.7" cy="198.2" r="2.3" fill="url(#gw)"/><circle cx="959" cy="106.6" r="3.2" fill="url(#gb)"/><circle cx="961.4" cy="111.4" r="2.3" fill="url(#gw)"/><circle cx="963.4" cy="104.8" r="2.5" fill="url(#gw)"/><circle cx="968.3" cy="114.1" r="2.3" fill="url(#gw)"/><circle cx="957.5" cy="98.1" r="2.6" fill="url(#gw)"/><circle cx="964.7" cy="108.7" r="2.7" fill="url(#gw)"/><circle cx="953.1" cy="98.9" r="2.8" fill="url(#gw)"/><circle cx="952.4" cy="104.4" r="3.4" fill="url(#gg)"/><circle cx="962.3" cy="111.2" r="2.2" fill="url(#gw)"/><circle cx="952.3" cy="108.4" r="2.7" fill="url(#gw)"/><circle cx="959.9" cy="108" r="3.2" fill="url(#gg)"/><circle cx="972.7" cy="180.1" r="3" fill="url(#gg)"/><circle cx="979.4" cy="175.7" r="3.1" fill="url(#gg)"/><circle cx="984.8" cy="184.6" r="3.5" fill="url(#gg)"/><circle cx="997.3" cy="172.6" r="3.3" fill="url(#gg)"/><circle cx="987" cy="188" r="2.1" fill="url(#gw)"/><circle cx="985.2" cy="178.7" r="3.3" fill="url(#gg)"/><circle cx="979.3" cy="180.6" r="2.8" fill="url(#gw)"/><circle cx="1000.6" cy="181.6" r="2.5" fill="url(#gw)"/><circle cx="989.2" cy="173.3" r="2.8" fill="url(#gw)"/><circle cx="1048.9" cy="43.7" r="3.3" fill="url(#gg)"/><circle cx="1064.2" cy="44.5" r="2.1" fill="url(#gw)"/><circle cx="1051.3" cy="49.8" r="2.8" fill="url(#gw)"/><circle cx="1045.5" cy="54.6" r="2.3" fill="url(#gw)"/><circle cx="1059.3" cy="47.7" r="2.9" fill="url(#gg)"/><circle cx="1046" cy="42.9" r="2.2" fill="url(#gw)"/><circle cx="1047.7" cy="37.7" r="2.3" fill="url(#gw)"/><circle cx="1046.3" cy="50.2" r="2.8" fill="url(#gw)"/><circle cx="1050.2" cy="44.7" r="2.4" fill="url(#gw)"/><circle cx="1053.3" cy="65" r="3.3" fill="url(#gg)"/><circle cx="1056.5" cy="58.1" r="2.7" fill="url(#gw)"/><circle cx="1051.8" cy="56.1" r="2.7" fill="url(#gw)"/><circle cx="977.6" cy="77.8" r="2.1" fill="url(#gw)"/><circle cx="961.6" cy="78.2" r="2.4" fill="url(#gw)"/><circle cx="967.6" cy="80.9" r="2.1" fill="url(#gw)"/><circle cx="966.5" cy="79.3" r="2.1" fill="url(#gw)"/><circle cx="974.5" cy="70.6" r="2.2" fill="url(#gw)"/><circle cx="973.2" cy="75.8" r="3.3" fill="url(#gg)"/><circle cx="965.8" cy="82.6" r="2.6" fill="url(#gw)"/><circle cx="967.1" cy="75.7" r="3.2" fill="url(#gg)"/><circle cx="974.9" cy="93.4" r="3.2" fill="url(#gr)"/><circle cx="972.6" cy="80.5" r="3.5" fill="url(#gg)"/><circle cx="968.2" cy="88.4" r="2.4" fill="url(#gw)"/><circle cx="972.8" cy="92.3" r="2.3" fill="url(#gw)"/><circle cx="1251.5" cy="113.7" r="2.8" fill="url(#gw)"/><circle cx="1262.4" cy="109.5" r="2" fill="url(#gw)"/><circle cx="1242.5" cy="116.2" r="3.2" fill="url(#gb)"/><circle cx="1261.2" cy="109" r="2.3" fill="url(#gw)"/><circle cx="1250.7" cy="112.1" r="3.5" fill="url(#gg)"/><circle cx="1251.3" cy="116.7" r="2.1" fill="url(#gw)"/><circle cx="1244.6" cy="117" r="2" fill="url(#gw)"/><circle cx="1254.9" cy="103" r="2.6" fill="url(#gw)"/><circle cx="1206.1" cy="214.9" r="3.2" fill="url(#gr)"/><circle cx="1200.8" cy="227" r="2.6" fill="url(#gw)"/><circle cx="1194.8" cy="221.1" r="2.4" fill="url(#gw)"/><circle cx="1212.4" cy="211.5" r="3.5" fill="url(#gg)"/><circle cx="1210.9" cy="211.2" r="2" fill="url(#gw)"/><circle cx="1201.6" cy="211.1" r="2.6" fill="url(#gw)"/><circle cx="1203.1" cy="226.5" r="2.5" fill="url(#gw)"/><circle cx="1204.9" cy="211.8" r="2.4" fill="url(#gw)"/><circle cx="1202.5" cy="212.4" r="2.4" fill="url(#gw)"/><circle cx="1207.7" cy="211.2" r="3.1" fill="url(#gg)"/><circle cx="1210.4" cy="213" r="2.1" fill="url(#gw)"/><circle cx="1205.1" cy="218.4" r="2.5" fill="url(#gw)"/><circle cx="1211.5" cy="218.4" r="3.2" fill="url(#gb)"/><circle cx="1197.6" cy="228.6" r="3.3" fill="url(#gg)"/><circle cx="1195" cy="226.2" r="3.5" fill="url(#gg)"/><circle cx="1208.8" cy="219.1" r="3.2" fill="url(#gr)"/><circle cx="1190.1" cy="223.7" r="3.2" fill="url(#gr)"/><circle cx="1198.8" cy="227.6" r="2.4" fill="url(#gw)"/><circle cx="1204.5" cy="230" r="3.2" fill="url(#gr)"/><circle cx="1193.5" cy="235.2" r="3.4" fill="url(#gg)"/><circle cx="1205.2" cy="229.4" r="3.2" fill="url(#gr)"/><circle cx="1194.5" cy="225.9" r="3.5" fill="url(#gg)"/><circle cx="1194.8" cy="230.5" r="2.5" fill="url(#gw)"/><circle cx="1204.7" cy="231.6" r="2.1" fill="url(#gw)"/><circle cx="1196.4" cy="225.5" r="2.5" fill="url(#gw)"/><circle cx="1207" cy="226.9" r="2.5" fill="url(#gw)"/><circle cx="1191.9" cy="221.5" r="2.8" fill="url(#gw)"/><circle cx="1190.1" cy="236.1" r="2.3" fill="url(#gw)"/><circle cx="1207.8" cy="225.2" r="2.3" fill="url(#gw)"/><circle cx="1200.2" cy="232.2" r="2.8" fill="url(#gg)"/><circle cx="1195.5" cy="200" r="3.4" fill="url(#gg)"/><circle cx="1210.3" cy="208.9" r="2.1" fill="url(#gw)"/><circle cx="1203.8" cy="201.1" r="2.1" fill="url(#gw)"/><circle cx="1198.8" cy="203.7" r="3.2" fill="url(#gr)"/><circle cx="1197.3" cy="199.8" r="2.7" fill="url(#gw)"/><circle cx="1207.4" cy="204" r="2.3" fill="url(#gw)"/><circle cx="1191" cy="208.1" r="2.1" fill="url(#gw)"/><circle cx="1208" cy="209.3" r="2.6" fill="url(#gw)"/><circle cx="1168.1" cy="179.6" r="3.6" fill="url(#gg)"/><circle cx="1183.5" cy="185.7" r="3.1" fill="url(#gg)"/><circle cx="1177.1" cy="182.2" r="2.7" fill="url(#gw)"/><circle cx="1176.2" cy="181.9" r="3.3" fill="url(#gg)"/><circle cx="1174.9" cy="179.9" r="3.2" fill="url(#gr)"/><circle cx="1179.3" cy="178.6" r="3.4" fill="url(#gg)"/><circle cx="1175.6" cy="182.6" r="2.3" fill="url(#gw)"/><circle cx="1171.6" cy="182.5" r="3" fill="url(#gg)"/><circle cx="1182.2" cy="186.7" r="3.2" fill="url(#gr)"/><circle cx="1177.4" cy="187.1" r="3.2" fill="url(#gb)"/><circle cx="1176.4" cy="184.3" r="2.3" fill="url(#gw)"/><circle cx="1163.7" cy="183.1" r="2.8" fill="url(#gw)"/><circle cx="1016.9" cy="158.6" r="2.5" fill="url(#gw)"/><circle cx="1021.3" cy="154.5" r="2.5" fill="url(#gw)"/><circle cx="1024.5" cy="155.3" r="2.1" fill="url(#gw)"/><circle cx="1026.1" cy="159.6" r="2.3" fill="url(#gw)"/><circle cx="1030.2" cy="171.9" r="3.2" fill="url(#gr)"/><circle cx="1026.7" cy="163.5" r="3.2" fill="url(#gr)"/><circle cx="1025.2" cy="163.7" r="2.6" fill="url(#gw)"/><circle cx="1038.1" cy="160.6" r="2.9" fill="url(#gg)"/><circle cx="1018.5" cy="170.6" r="2.4" fill="url(#gw)"/><circle cx="1014.7" cy="167.9" r="2.2" fill="url(#gw)"/><circle cx="1030.7" cy="170" r="2.3" fill="url(#gw)"/><circle cx="1018.9" cy="170.5" r="2.5" fill="url(#gw)"/><circle cx="1029" cy="167.5" r="3.2" fill="url(#gb)"/><circle cx="1229.6" cy="157.4" r="3.3" fill="url(#gg)"/><circle cx="1246.7" cy="156.6" r="2.5" fill="url(#gw)"/><circle cx="1229.6" cy="145.7" r="2.8" fill="url(#gw)"/><circle cx="1245.5" cy="156.5" r="2.4" fill="url(#gw)"/><circle cx="1229.9" cy="151.4" r="2.2" fill="url(#gw)"/><circle cx="1237.2" cy="147.8" r="2.4" fill="url(#gw)"/><circle cx="1242.4" cy="151.6" r="2.2" fill="url(#gw)"/><circle cx="1241.6" cy="153.7" r="3.2" fill="url(#gr)"/><circle cx="1236.9" cy="154.7" r="2.7" fill="url(#gw)"/><circle cx="1227.9" cy="156.7" r="2.1" fill="url(#gw)"/><circle cx="1229.8" cy="151.9" r="2.6" fill="url(#gw)"/><circle cx="1244.5" cy="144.4" r="2.2" fill="url(#gw)"/><circle cx="1237.2" cy="147.9" r="2.4" fill="url(#gw)"/><circle cx="1039.8" cy="136" r="2.5" fill="url(#gw)"/><circle cx="1043.4" cy="132.1" r="2.1" fill="url(#gw)"/><circle cx="1036.9" cy="128.3" r="2.2" fill="url(#gw)"/><circle cx="1034.4" cy="128.1" r="2.3" fill="url(#gw)"/><circle cx="1037.3" cy="135.9" r="3.2" fill="url(#gr)"/><circle cx="1037" cy="133.9" r="2.5" fill="url(#gw)"/><circle cx="1042.2" cy="130.3" r="3.2" fill="url(#gr)"/><circle cx="1032.3" cy="133.1" r="3.2" fill="url(#gg)"/><circle cx="1039.6" cy="137.5" r="2.8" fill="url(#gg)"/><circle cx="1044.4" cy="126.2" r="2.1" fill="url(#gw)"/><circle cx="1023.7" cy="132.5" r="2.2" fill="url(#gw)"/><circle cx="1020.3" cy="132.6" r="2.2" fill="url(#gw)"/><circle cx="1035.1" cy="124" r="3.2" fill="url(#gb)"/><circle cx="1030.5" cy="135.8" r="2.2" fill="url(#gw)"/><circle cx="1030.5" cy="123.9" r="3.2" fill="url(#gr)"/><circle cx="1026.7" cy="137.1" r="3.5" fill="url(#gg)"/><circle cx="1139.1" cy="56.9" r="2.4" fill="url(#gw)"/><circle cx="1137.5" cy="66.6" r="3.6" fill="url(#gg)"/><circle cx="1144.1" cy="53.8" r="2.5" fill="url(#gw)"/><circle cx="1134.3" cy="53.6" r="2.4" fill="url(#gw)"/><circle cx="1128.9" cy="50.4" r="2.6" fill="url(#gw)"/><circle cx="1133.2" cy="45.9" r="2.6" fill="url(#gw)"/><circle cx="1133.7" cy="60" r="2.1" fill="url(#gw)"/><circle cx="1138.8" cy="52.7" r="2.5" fill="url(#gw)"/><circle cx="1130.1" cy="60.9" r="2.5" fill="url(#gw)"/><circle cx="1135.9" cy="47.8" r="2" fill="url(#gw)"/><circle cx="1129.2" cy="52.2" r="2.3" fill="url(#gw)"/><circle cx="1125.2" cy="64.1" r="2.7" fill="url(#gw)"/><circle cx="1134.8" cy="60.8" r="2.6" fill="url(#gw)"/><circle cx="1078.4" cy="147.3" r="3.5" fill="url(#gg)"/><circle cx="1056" cy="137.2" r="2.4" fill="url(#gw)"/><circle cx="1075.8" cy="152.6" r="2.7" fill="url(#gw)"/><circle cx="1068.4" cy="142" r="3" fill="url(#gg)"/><circle cx="1067" cy="141" r="2.1" fill="url(#gw)"/><circle cx="1062.8" cy="145.9" r="2.4" fill="url(#gw)"/><circle cx="1072" cy="138.8" r="2.3" fill="url(#gw)"/><circle cx="1062.8" cy="129.1" r="2.8" fill="url(#gg)"/><circle cx="1066.3" cy="144.9" r="3.3" fill="url(#gg)"/><circle cx="1067.9" cy="154.3" r="2" fill="url(#gw)"/><circle cx="1101.9" cy="72.6" r="2.8" fill="url(#gg)"/><circle cx="1102.2" cy="75.2" r="2.9" fill="url(#gg)"/><circle cx="1114" cy="74.1" r="2.2" fill="url(#gw)"/><circle cx="1118" cy="71.1" r="2.5" fill="url(#gw)"/><circle cx="1097.7" cy="76.4" r="2.4" fill="url(#gw)"/><circle cx="1109" cy="73.7" r="2.1" fill="url(#gw)"/><circle cx="1117.8" cy="67.3" r="3.3" fill="url(#gg)"/><circle cx="1103.5" cy="77.7" r="2.2" fill="url(#gw)"/><circle cx="1108" cy="74.9" r="3.5" fill="url(#gg)"/><circle cx="1195.8" cy="96.4" r="2" fill="url(#gw)"/><circle cx="1195" cy="99.3" r="2.9" fill="url(#gg)"/><circle cx="1186.2" cy="100.6" r="2.8" fill="url(#gw)"/><circle cx="1202.8" cy="89.4" r="3.2" fill="url(#gb)"/><circle cx="1196.6" cy="98.7" r="3.5" fill="url(#gg)"/><circle cx="1189.1" cy="95.3" r="2.3" fill="url(#gw)"/><circle cx="1200.6" cy="97.4" r="2.1" fill="url(#gw)"/><circle cx="1185.9" cy="97.1" r="3.2" fill="url(#gr)"/><circle cx="1196.9" cy="88" r="2.3" fill="url(#gw)"/><circle cx="1196" cy="93.4" r="2.7" fill="url(#gw)"/><circle cx="1197.9" cy="90.4" r="2.2" fill="url(#gw)"/><circle cx="1216.1" cy="96" r="2.6" fill="url(#gw)"/><circle cx="1227.3" cy="108.3" r="2.9" fill="url(#gg)"/><circle cx="1218.1" cy="95.7" r="3" fill="url(#gg)"/><circle cx="1227" cy="95.3" r="2.1" fill="url(#gw)"/><circle cx="1213" cy="107.1" r="3.5" fill="url(#gg)"/><circle cx="1236.7" cy="95.1" r="3.4" fill="url(#gg)"/><circle cx="1214.5" cy="99.3" r="3.2" fill="url(#gb)"/><circle cx="1223" cy="92.2" r="2.5" fill="url(#gw)"/><circle cx="1223.8" cy="101.8" r="3.4" fill="url(#gg)"/><circle cx="1217.1" cy="95.4" r="2.1" fill="url(#gw)"/><circle cx="1217.2" cy="88.6" r="3.1" fill="url(#gg)"/><circle cx="1052.2" cy="36.4" r="2.4" fill="url(#gw)"/><circle cx="1039.4" cy="32.6" r="2.1" fill="url(#gw)"/><circle cx="1044.2" cy="31.5" r="2.9" fill="url(#gg)"/><circle cx="1028.7" cy="35.1" r="2.1" fill="url(#gw)"/><circle cx="1027.3" cy="24.8" r="3" fill="url(#gg)"/><circle cx="1047.7" cy="37.2" r="2.3" fill="url(#gw)"/><circle cx="1047.9" cy="40.6" r="2" fill="url(#gw)"/><circle cx="1034.8" cy="42.9" r="3.5" fill="url(#gg)"/><circle cx="1030.9" cy="37.5" r="2.8" fill="url(#gg)"/><circle cx="1046.7" cy="42.2" r="3.2" fill="url(#gb)"/><circle cx="1032.2" cy="39.2" r="2.3" fill="url(#gw)"/><circle cx="1044.6" cy="44.8" r="2.4" fill="url(#gw)"/><circle cx="1044.3" cy="37.6" r="2.6" fill="url(#gw)"/><circle cx="1038.8" cy="36.3" r="2.7" fill="url(#gw)"/><circle cx="1047" cy="28" r="3.5" fill="url(#gg)"/><circle cx="1158.5" cy="232.4" r="2.6" fill="url(#gw)"/><circle cx="1165.5" cy="230.2" r="3.1" fill="url(#gg)"/><circle cx="1157.9" cy="228.2" r="3.2" fill="url(#gb)"/><circle cx="1168.5" cy="242.2" r="3.5" fill="url(#gg)"/><circle cx="1165.2" cy="234.7" r="2.1" fill="url(#gw)"/><circle cx="1149" cy="224.2" r="3.5" fill="url(#gg)"/><circle cx="1162.7" cy="237.3" r="3" fill="url(#gg)"/><circle cx="1170.2" cy="239.2" r="3.4" fill="url(#gg)"/><circle cx="1153.9" cy="214.9" r="3.2" fill="url(#gr)"/><circle cx="1160.8" cy="241.6" r="2.2" fill="url(#gw)"/><circle cx="1154.4" cy="228.9" r="3.2" fill="url(#gb)"/><circle cx="980.2" cy="51.8" r="2.7" fill="url(#gw)"/><circle cx="972" cy="63.4" r="3.1" fill="url(#gg)"/><circle cx="978.6" cy="59.7" r="2.3" fill="url(#gw)"/><circle cx="973.9" cy="66.2" r="3.5" fill="url(#gg)"/><circle cx="967.2" cy="73.9" r="3.2" fill="url(#gr)"/><circle cx="975.1" cy="56.5" r="3.1" fill="url(#gg)"/><circle cx="975.1" cy="56.8" r="2.4" fill="url(#gw)"/><circle cx="958.6" cy="58.3" r="3.2" fill="url(#gb)"/><circle cx="1211.1" cy="70.2" r="2.2" fill="url(#gw)"/><circle cx="1198.5" cy="64.7" r="3" fill="url(#gg)"/><circle cx="1201.2" cy="63.8" r="2.1" fill="url(#gw)"/><circle cx="1198.9" cy="71.6" r="3.2" fill="url(#gb)"/><circle cx="1197.4" cy="68.6" r="2.1" fill="url(#gw)"/><circle cx="1199.2" cy="69.7" r="3.2" fill="url(#gg)"/><circle cx="1206.4" cy="67.4" r="2.5" fill="url(#gw)"/><circle cx="1219.5" cy="67.7" r="2.8" fill="url(#gg)"/><circle cx="1199.7" cy="60.6" r="3.1" fill="url(#gg)"/><circle cx="1188.8" cy="69.7" r="2.6" fill="url(#gw)"/><circle cx="1199" cy="79.5" r="2.3" fill="url(#gw)"/><circle cx="1205.9" cy="75" r="2.5" fill="url(#gw)"/><circle cx="1208.5" cy="69" r="2.4" fill="url(#gw)"/><circle cx="1210.7" cy="68" r="2.8" fill="url(#gw)"/><circle cx="1207.4" cy="70.8" r="2.3" fill="url(#gw)"/><circle cx="1203.2" cy="63.1" r="3.2" fill="url(#gr)"/><circle cx="1189.4" cy="34.6" r="3.2" fill="url(#gb)"/><circle cx="1185.7" cy="30.2" r="2.1" fill="url(#gw)"/><circle cx="1185.9" cy="39.4" r="2.5" fill="url(#gw)"/><circle cx="1199.7" cy="36.3" r="3.3" fill="url(#gg)"/><circle cx="1182.6" cy="39.4" r="2.7" fill="url(#gw)"/><circle cx="1179.5" cy="30.1" r="2.6" fill="url(#gw)"/><circle cx="1188.6" cy="41.1" r="2.1" fill="url(#gw)"/><circle cx="1180.2" cy="28.4" r="2.3" fill="url(#gw)"/><circle cx="1176.7" cy="37.9" r="3.2" fill="url(#gb)"/><circle cx="1185.2" cy="39.1" r="2.8" fill="url(#gw)"/><circle cx="1179" cy="41.3" r="2.4" fill="url(#gw)"/><circle cx="1178.2" cy="44.2" r="2.1" fill="url(#gw)"/><circle cx="1185.9" cy="37.1" r="2.4" fill="url(#gw)"/><circle cx="1190.6" cy="34.2" r="2.4" fill="url(#gw)"/><circle cx="1179.6" cy="39.9" r="2.6" fill="url(#gw)"/><circle cx="1082.6" cy="131.1" r="3.2" fill="url(#gr)"/><circle cx="1072.3" cy="118.5" r="2.2" fill="url(#gw)"/><circle cx="1090" cy="123.2" r="2.1" fill="url(#gw)"/><circle cx="1073.3" cy="125.4" r="2.7" fill="url(#gw)"/><circle cx="1079.8" cy="131.2" r="2.3" fill="url(#gw)"/><circle cx="1075.3" cy="113.4" r="2.3" fill="url(#gw)"/><circle cx="1076.9" cy="123.7" r="2.2" fill="url(#gw)"/><circle cx="1079.5" cy="132.6" r="2.1" fill="url(#gw)"/><circle cx="1089.9" cy="129.7" r="2.4" fill="url(#gw)"/><circle cx="1007.7" cy="139.9" r="2.3" fill="url(#gw)"/><circle cx="1014" cy="145.1" r="2.7" fill="url(#gw)"/><circle cx="1018.7" cy="142" r="3.2" fill="url(#gg)"/><circle cx="1016.3" cy="139.3" r="2.5" fill="url(#gw)"/><circle cx="1008.2" cy="142.9" r="3.2" fill="url(#gr)"/><circle cx="1018.2" cy="142" r="2.1" fill="url(#gw)"/><circle cx="1017.9" cy="137" r="2.4" fill="url(#gw)"/><circle cx="1009.7" cy="134.2" r="3.2" fill="url(#gb)"/><circle cx="1013.3" cy="143.8" r="2.6" fill="url(#gw)"/><circle cx="1017" cy="134.7" r="3.2" fill="url(#gr)"/><circle cx="1010.1" cy="142.2" r="2.6" fill="url(#gw)"/><circle cx="1005.6" cy="136.9" r="3.2" fill="url(#gg)"/><circle cx="1087.3" cy="236.8" r="2.1" fill="url(#gw)"/><circle cx="1100.4" cy="229.1" r="3.3" fill="url(#gg)"/><circle cx="1089.9" cy="242" r="3.4" fill="url(#gg)"/><circle cx="1093.8" cy="239.9" r="2.7" fill="url(#gw)"/><circle cx="1085.2" cy="227.3" r="3.2" fill="url(#gb)"/><circle cx="1098.8" cy="235.4" r="2.7" fill="url(#gw)"/><circle cx="1102.4" cy="228.4" r="3.3" fill="url(#gg)"/><circle cx="1098.1" cy="234.5" r="2.7" fill="url(#gw)"/><circle cx="1090" cy="232.3" r="2.6" fill="url(#gw)"/><circle cx="1094.2" cy="237" r="3.6" fill="url(#gg)"/><circle cx="1087.5" cy="235.8" r="3.4" fill="url(#gg)"/><circle cx="1087.3" cy="232.1" r="2.2" fill="url(#gw)"/><circle cx="1016.4" cy="127.9" r="2.4" fill="url(#gw)"/><circle cx="1017.7" cy="133.1" r="2.5" fill="url(#gw)"/><circle cx="1025.3" cy="136.7" r="3.5" fill="url(#gg)"/><circle cx="1012.5" cy="132.1" r="2.2" fill="url(#gw)"/><circle cx="1010.9" cy="132.5" r="3.4" fill="url(#gg)"/><circle cx="1020.4" cy="124.2" r="2.3" fill="url(#gw)"/><circle cx="1022.3" cy="134.4" r="3.2" fill="url(#gb)"/><circle cx="1017.8" cy="134.8" r="3.2" fill="url(#gb)"/><circle cx="1201.4" cy="15.8" r="2.4" fill="url(#gw)"/><circle cx="1205.4" cy="20.5" r="2.2" fill="url(#gw)"/><circle cx="1211.4" cy="20.1" r="3.1" fill="url(#gg)"/><circle cx="1207.9" cy="31.2" r="2.1" fill="url(#gw)"/><circle cx="1207.4" cy="10.9" r="2" fill="url(#gw)"/><circle cx="1203.5" cy="13.3" r="3.1" fill="url(#gg)"/><circle cx="1191.2" cy="28.2" r="2.1" fill="url(#gw)"/><circle cx="1198.1" cy="19.4" r="2.5" fill="url(#gw)"/><circle cx="1204.6" cy="15.2" r="2.4" fill="url(#gw)"/><circle cx="1210.5" cy="17.4" r="2.7" fill="url(#gw)"/><circle cx="1208.3" cy="14.5" r="2.4" fill="url(#gw)"/><circle cx="1193.4" cy="23.3" r="2.3" fill="url(#gw)"/><circle cx="1186.7" cy="19.3" r="2.2" fill="url(#gw)"/><circle cx="1202.2" cy="17.5" r="2.5" fill="url(#gw)"/><circle cx="1209.6" cy="22.4" r="3.3" fill="url(#gg)"/><circle cx="1202.9" cy="7.7" r="2.1" fill="url(#gw)"/><circle cx="1181.7" cy="131.7" r="2.7" fill="url(#gw)"/><circle cx="1183.1" cy="136.9" r="2.8" fill="url(#gw)"/><circle cx="1181.6" cy="138.3" r="3.6" fill="url(#gg)"/><circle cx="1182.8" cy="142.7" r="3.2" fill="url(#gr)"/><circle cx="1181.1" cy="146.4" r="2.4" fill="url(#gw)"/><circle cx="1183.9" cy="145" r="2.5" fill="url(#gw)"/><circle cx="1179.1" cy="138.1" r="2.5" fill="url(#gw)"/><circle cx="1187.5" cy="138.6" r="2.6" fill="url(#gw)"/><circle cx="1185.5" cy="136.8" r="3.2" fill="url(#gb)"/><circle cx="1176.3" cy="144" r="3.5" fill="url(#gg)"/><circle cx="1163.2" cy="144.4" r="3.2" fill="url(#gr)"/><circle cx="1200.4" cy="137.3" r="3.2" fill="url(#gr)"/><circle cx="1184.6" cy="131.9" r="2.8" fill="url(#gw)"/><circle cx="1172.3" cy="133.6" r="3.2" fill="url(#gr)"/><circle cx="1186.9" cy="132.6" r="3" fill="url(#gg)"/><circle cx="1180.7" cy="140.4" r="2.7" fill="url(#gw)"/><circle cx="1186.7" cy="134.7" r="2.9" fill="url(#gg)"/><circle cx="1206.9" cy="124.2" r="2.9" fill="url(#gg)"/><circle cx="1197.8" cy="123.9" r="2.2" fill="url(#gw)"/><circle cx="1212.5" cy="121.3" r="2.2" fill="url(#gw)"/><circle cx="1202" cy="132.8" r="2.4" fill="url(#gw)"/><circle cx="1200.3" cy="121.6" r="3" fill="url(#gg)"/><circle cx="1200.7" cy="112.1" r="3.6" fill="url(#gg)"/><circle cx="1205.6" cy="134.1" r="2.1" fill="url(#gw)"/><circle cx="1202.6" cy="134.1" r="2.7" fill="url(#gw)"/><circle cx="1200.5" cy="117.9" r="2.2" fill="url(#gw)"/><circle cx="1207.9" cy="128.6" r="3.3" fill="url(#gg)"/><circle cx="1199.4" cy="120.2" r="2.1" fill="url(#gw)"/><circle cx="1205.6" cy="122" r="2.5" fill="url(#gw)"/><circle cx="1188.8" cy="111.3" r="2.1" fill="url(#gw)"/><circle cx="1207.8" cy="124" r="3.3" fill="url(#gg)"/><circle cx="1130.2" cy="132.1" r="2.1" fill="url(#gw)"/><circle cx="1132.2" cy="128.1" r="3.6" fill="url(#gg)"/><circle cx="1122.8" cy="138" r="2.3" fill="url(#gw)"/><circle cx="1127.4" cy="134.2" r="3.2" fill="url(#gb)"/><circle cx="1117.7" cy="133.2" r="3.2" fill="url(#gb)"/><circle cx="1120.5" cy="137.7" r="2.7" fill="url(#gw)"/><circle cx="1133.6" cy="138.7" r="2.2" fill="url(#gw)"/><circle cx="1129" cy="135.3" r="2" fill="url(#gw)"/><circle cx="1136.8" cy="128.2" r="3" fill="url(#gg)"/><circle cx="1144.8" cy="134.9" r="3.2" fill="url(#gr)"/><circle cx="1138.1" cy="49.6" r="2.6" fill="url(#gw)"/><circle cx="1134.3" cy="45.6" r="3.4" fill="url(#gg)"/><circle cx="1132.5" cy="49.8" r="2.9" fill="url(#gg)"/><circle cx="1131" cy="43.9" r="3.5" fill="url(#gg)"/><circle cx="1127" cy="36.5" r="3.6" fill="url(#gg)"/><circle cx="1137.1" cy="51.1" r="2.7" fill="url(#gw)"/><circle cx="1139.5" cy="48" r="2.2" fill="url(#gw)"/><circle cx="1142.8" cy="39.7" r="2.6" fill="url(#gw)"/><circle cx="1153" cy="41.2" r="2.3" fill="url(#gw)"/><circle cx="1134.4" cy="41.7" r="3.2" fill="url(#gg)"/><circle cx="1157.6" cy="92.6" r="2.2" fill="url(#gw)"/><circle cx="1164.4" cy="92.9" r="3.5" fill="url(#gg)"/><circle cx="1150.8" cy="79.4" r="3.2" fill="url(#gb)"/><circle cx="1169.5" cy="93.6" r="2.1" fill="url(#gw)"/><circle cx="1162" cy="90.8" r="2.9" fill="url(#gg)"/><circle cx="1170" cy="83.3" r="2.7" fill="url(#gw)"/><circle cx="1152.5" cy="99.6" r="3.1" fill="url(#gg)"/><circle cx="1159.2" cy="93.8" r="3.2" fill="url(#gb)"/><circle cx="1171" cy="98.4" r="2.7" fill="url(#gw)"/><circle cx="1152.7" cy="83.3" r="2.4" fill="url(#gw)"/><circle cx="1172.9" cy="94.4" r="2.5" fill="url(#gw)"/><circle cx="1159.6" cy="92.7" r="2.6" fill="url(#gw)"/><circle cx="1123.5" cy="42.6" r="2.1" fill="url(#gw)"/><circle cx="1103.7" cy="53" r="2.2" fill="url(#gw)"/><circle cx="1104.8" cy="47.9" r="2.2" fill="url(#gw)"/><circle cx="1101" cy="41.1" r="2.6" fill="url(#gw)"/><circle cx="1105.7" cy="41.1" r="2.2" fill="url(#gw)"/><circle cx="1112.8" cy="48.5" r="3.2" fill="url(#gb)"/><circle cx="1112.2" cy="50" r="2.2" fill="url(#gw)"/><circle cx="1103.4" cy="53.8" r="2.2" fill="url(#gw)"/><circle cx="1112.6" cy="44.9" r="2.8" fill="url(#gw)"/><circle cx="1103.8" cy="45.8" r="2.4" fill="url(#gw)"/><circle cx="1104" cy="45.6" r="2.5" fill="url(#gw)"/><circle cx="1040.6" cy="243.6" r="2.8" fill="url(#gg)"/><circle cx="1041.3" cy="234.8" r="2" fill="url(#gw)"/><circle cx="1036.2" cy="232.6" r="2.3" fill="url(#gw)"/><circle cx="1029.2" cy="237.9" r="2.8" fill="url(#gw)"/><circle cx="1029.8" cy="233.9" r="2.2" fill="url(#gw)"/><circle cx="1036.4" cy="242.7" r="2.4" fill="url(#gw)"/><circle cx="1034.3" cy="251.8" r="3.4" fill="url(#gg)"/><circle cx="1041.2" cy="242.6" r="3.2" fill="url(#gr)"/><circle cx="1022" cy="233.2" r="2.6" fill="url(#gw)"/><circle cx="1033.4" cy="239.2" r="2.2" fill="url(#gw)"/><circle cx="1033.4" cy="249.1" r="2.3" fill="url(#gw)"/><circle cx="1032.5" cy="246.5" r="3.2" fill="url(#gr)"/><circle cx="1032.7" cy="246.5" r="2.3" fill="url(#gw)"/><circle cx="1027.4" cy="238.4" r="2.4" fill="url(#gw)"/><circle cx="968.2" cy="32.7" r="2.9" fill="url(#gg)"/><circle cx="956.4" cy="33.4" r="2.1" fill="url(#gw)"/><circle cx="962.8" cy="38.7" r="3.2" fill="url(#gb)"/><circle cx="954.9" cy="35.9" r="2.4" fill="url(#gw)"/><circle cx="954.8" cy="38.1" r="2.4" fill="url(#gw)"/><circle cx="957.5" cy="36.4" r="2" fill="url(#gw)"/><circle cx="954.5" cy="35.7" r="2.6" fill="url(#gw)"/><circle cx="958.1" cy="39.3" r="3.1" fill="url(#gg)"/><circle cx="957.1" cy="27.9" r="3.3" fill="url(#gg)"/><circle cx="963" cy="40.9" r="2.7" fill="url(#gw)"/><circle cx="1173.7" cy="232.6" r="2.8" fill="url(#gw)"/><circle cx="1164.8" cy="235.3" r="2.9" fill="url(#gg)"/><circle cx="1168.5" cy="230.4" r="2.2" fill="url(#gw)"/><circle cx="1156.9" cy="238.4" r="3.2" fill="url(#gr)"/><circle cx="1164" cy="231.6" r="2.2" fill="url(#gw)"/><circle cx="1164.1" cy="222.6" r="2.9" fill="url(#gg)"/><circle cx="1165.2" cy="228.1" r="2.6" fill="url(#gw)"/><circle cx="1156.5" cy="239.5" r="2.4" fill="url(#gw)"/><circle cx="1168" cy="224" r="3.2" fill="url(#gr)"/><circle cx="1158.5" cy="232.7" r="3.2" fill="url(#gb)"/><circle cx="1164.7" cy="227.4" r="2.1" fill="url(#gw)"/><circle cx="1000.3" cy="160.1" r="2.1" fill="url(#gw)"/><circle cx="1008.8" cy="167.5" r="2.4" fill="url(#gw)"/><circle cx="1025.3" cy="160.4" r="3.1" fill="url(#gg)"/><circle cx="1017.5" cy="161.6" r="2.1" fill="url(#gw)"/><circle cx="1015.7" cy="153.4" r="2.6" fill="url(#gw)"/><circle cx="1019.6" cy="165.9" r="2.4" fill="url(#gw)"/><circle cx="1009.6" cy="163.9" r="3.2" fill="url(#gg)"/><circle cx="1015.6" cy="159.8" r="3.2" fill="url(#gr)"/><circle cx="1003.3" cy="165.3" r="3.4" fill="url(#gg)"/><circle cx="1005.8" cy="165.5" r="2.5" fill="url(#gw)"/><circle cx="1016.2" cy="162.6" r="3.1" fill="url(#gg)"/><circle cx="1117.2" cy="120.2" r="2.2" fill="url(#gw)"/><circle cx="1117.5" cy="127" r="2.2" fill="url(#gw)"/><circle cx="1119.4" cy="124.5" r="3.4" fill="url(#gg)"/><circle cx="1112.3" cy="130.7" r="2.6" fill="url(#gw)"/><circle cx="1120.4" cy="128.4" r="3.4" fill="url(#gg)"/><circle cx="1123" cy="130.5" r="3.3" fill="url(#gg)"/><circle cx="1107.1" cy="122" r="2.2" fill="url(#gw)"/><circle cx="1124.6" cy="139.9" r="2.4" fill="url(#gw)"/><circle cx="1118.6" cy="122" r="2.4" fill="url(#gw)"/><circle cx="1108.1" cy="126.3" r="3.1" fill="url(#gg)"/><circle cx="1119.5" cy="128.9" r="2.2" fill="url(#gw)"/><circle cx="1114.1" cy="121.8" r="3.6" fill="url(#gg)"/><circle cx="1103.1" cy="129.7" r="3.2" fill="url(#gr)"/><circle cx="1111.4" cy="131" r="3.3" fill="url(#gg)"/><circle cx="1115.1" cy="118.8" r="2.2" fill="url(#gw)"/><circle cx="1120.2" cy="130.9" r="2.5" fill="url(#gw)"/><circle cx="1108.2" cy="137.1" r="2.7" fill="url(#gw)"/><circle cx="1077.8" cy="226.9" r="3.2" fill="url(#gb)"/><circle cx="1075.6" cy="221.4" r="3.1" fill="url(#gg)"/><circle cx="1080.7" cy="220.8" r="2.1" fill="url(#gw)"/><circle cx="1070.7" cy="217.7" r="2.8" fill="url(#gw)"/><circle cx="1080.8" cy="221.9" r="2.9" fill="url(#gg)"/><circle cx="1073.2" cy="208.7" r="2.4" fill="url(#gw)"/><circle cx="1076" cy="219.5" r="2.8" fill="url(#gg)"/><circle cx="1072.6" cy="220.1" r="2.2" fill="url(#gw)"/><circle cx="1079.7" cy="214.9" r="2.3" fill="url(#gw)"/><circle cx="1072.6" cy="211.7" r="2.4" fill="url(#gw)"/><circle cx="1076.6" cy="226.6" r="2.7" fill="url(#gw)"/><circle cx="1066.8" cy="215.2" r="2.7" fill="url(#gw)"/><circle cx="1075.6" cy="216.5" r="2.8" fill="url(#gw)"/><circle cx="1081.5" cy="216.1" r="2.8" fill="url(#gw)"/><circle cx="1083" cy="217.5" r="2.4" fill="url(#gw)"/><circle cx="1048" cy="122.8" r="2.2" fill="url(#gw)"/><circle cx="1047.3" cy="134.6" r="3.2" fill="url(#gb)"/><circle cx="1040" cy="127.9" r="2.9" fill="url(#gg)"/><circle cx="1033.9" cy="120.3" r="2.2" fill="url(#gw)"/><circle cx="1043.8" cy="123.6" r="2.6" fill="url(#gw)"/><circle cx="1052.3" cy="126.4" r="3.2" fill="url(#gr)"/><circle cx="1039" cy="127.4" r="2.3" fill="url(#gw)"/><circle cx="1039.2" cy="121.1" r="2.6" fill="url(#gw)"/><circle cx="1055.2" cy="132.7" r="2.1" fill="url(#gw)"/><circle cx="1041.8" cy="121.4" r="3.5" fill="url(#gg)"/><circle cx="1037.4" cy="129.4" r="2" fill="url(#gw)"/><circle cx="1058.8" cy="129" r="2.4" fill="url(#gw)"/><circle cx="1039.4" cy="129.5" r="2.7" fill="url(#gw)"/><circle cx="1041.2" cy="128.5" r="2.2" fill="url(#gw)"/><circle cx="1039" cy="125.2" r="2.5" fill="url(#gw)"/><circle cx="1047.5" cy="132.4" r="2.1" fill="url(#gw)"/><circle cx="1051.1" cy="127.7" r="2.7" fill="url(#gw)"/><circle cx="1224.7" cy="242.1" r="3.2" fill="url(#gg)"/><circle cx="1208.7" cy="238.5" r="2.4" fill="url(#gw)"/><circle cx="1211.3" cy="229.5" r="2.4" fill="url(#gw)"/><circle cx="1212.1" cy="236" r="2.6" fill="url(#gw)"/><circle cx="1215.8" cy="222.3" r="3.1" fill="url(#gg)"/><circle cx="1227.2" cy="239.8" r="2.8" fill="url(#gw)"/><circle cx="1219.4" cy="239.1" r="2" fill="url(#gw)"/><circle cx="1222.7" cy="237.2" r="2.7" fill="url(#gw)"/><circle cx="1222.6" cy="238.9" r="2.7" fill="url(#gw)"/><circle cx="1221" cy="244.3" r="2.3" fill="url(#gw)"/><circle cx="1230.1" cy="238.7" r="3.2" fill="url(#gr)"/><circle cx="1201.9" cy="142.2" r="3.3" fill="url(#gg)"/><circle cx="1202.2" cy="147.8" r="2.6" fill="url(#gw)"/><circle cx="1196.8" cy="141.2" r="2.2" fill="url(#gw)"/><circle cx="1205" cy="143.9" r="3.2" fill="url(#gb)"/><circle cx="1196" cy="149.7" r="3.1" fill="url(#gg)"/><circle cx="1202.1" cy="146.6" r="2.4" fill="url(#gw)"/><circle cx="1198.8" cy="153.6" r="2.3" fill="url(#gw)"/><circle cx="1213" cy="132.5" r="3.4" fill="url(#gg)"/><circle cx="1208.8" cy="154.8" r="2.6" fill="url(#gw)"/><circle cx="1191.6" cy="149.9" r="2.2" fill="url(#gw)"/><circle cx="1207.8" cy="156.2" r="2.4" fill="url(#gw)"/><circle cx="1192.7" cy="148.3" r="3.2" fill="url(#gb)"/><circle cx="1201.5" cy="157.5" r="2.7" fill="url(#gw)"/><circle cx="1209.8" cy="153.6" r="2.5" fill="url(#gw)"/><circle cx="1201.2" cy="150.3" r="2.1" fill="url(#gw)"/><circle cx="1192.6" cy="163.3" r="3.1" fill="url(#gg)"/><circle cx="1197.3" cy="153" r="2.9" fill="url(#gg)"/><circle cx="1189.5" cy="56.9" r="2.4" fill="url(#gw)"/><circle cx="1197.3" cy="55.1" r="2.7" fill="url(#gw)"/><circle cx="1195.1" cy="50.2" r="2.2" fill="url(#gw)"/><circle cx="1175.4" cy="55.9" r="3" fill="url(#gg)"/><circle cx="1195.7" cy="44.2" r="2" fill="url(#gw)"/><circle cx="1191.7" cy="48.4" r="2.6" fill="url(#gw)"/><circle cx="1179.3" cy="52.6" r="2.7" fill="url(#gw)"/><circle cx="1192.9" cy="49.7" r="2.5" fill="url(#gw)"/><circle cx="1198.3" cy="47.1" r="2.6" fill="url(#gw)"/><circle cx="1247.2" cy="74.3" r="2.7" fill="url(#gw)"/><circle cx="1253" cy="77.2" r="2.2" fill="url(#gw)"/><circle cx="1245.2" cy="85.4" r="2.3" fill="url(#gw)"/><circle cx="1259.3" cy="88.3" r="3.1" fill="url(#gg)"/><circle cx="1259.3" cy="89.4" r="2.3" fill="url(#gw)"/><circle cx="1256.1" cy="85.5" r="2.7" fill="url(#gw)"/><circle cx="1262.3" cy="89.5" r="2.2" fill="url(#gw)"/><circle cx="1262.7" cy="82.8" r="3" fill="url(#gg)"/><circle cx="1252.1" cy="84.9" r="2.5" fill="url(#gw)"/><circle cx="1255.5" cy="80" r="2.7" fill="url(#gw)"/><circle cx="1261.9" cy="85.2" r="3.2" fill="url(#gg)"/><circle cx="1256.1" cy="93.7" r="2.4" fill="url(#gw)"/><circle cx="1256.1" cy="68" r="2.6" fill="url(#gw)"/><circle cx="1250.8" cy="83.7" r="2.8" fill="url(#gw)"/><circle cx="1257.1" cy="83.7" r="2.7" fill="url(#gw)"/><circle cx="1256" cy="89.2" r="3.2" fill="url(#gb)"/><circle cx="1246.3" cy="87.4" r="3.2" fill="url(#gg)"/><circle cx="1156.5" cy="97.6" r="2.2" fill="url(#gw)"/><circle cx="1139.1" cy="98" r="2.8" fill="url(#gw)"/><circle cx="1160.6" cy="99" r="3.4" fill="url(#gg)"/><circle cx="1152.2" cy="109.6" r="2.4" fill="url(#gw)"/><circle cx="1144.6" cy="97.9" r="3" fill="url(#gg)"/><circle cx="1157.2" cy="112.7" r="2.3" fill="url(#gw)"/><circle cx="1162.2" cy="100.7" r="2.1" fill="url(#gw)"/><circle cx="1143.9" cy="98.2" r="2.4" fill="url(#gw)"/><circle cx="1162.2" cy="104.4" r="2.8" fill="url(#gw)"/><circle cx="1173.5" cy="103" r="2.3" fill="url(#gw)"/><circle cx="1172.1" cy="90.1" r="2.5" fill="url(#gw)"/><circle cx="1170.7" cy="93.9" r="2.6" fill="url(#gw)"/><circle cx="1176.6" cy="84.5" r="2" fill="url(#gw)"/><circle cx="1174" cy="97.8" r="3.4" fill="url(#gg)"/><circle cx="1164.3" cy="88.4" r="2.7" fill="url(#gw)"/><circle cx="1164.4" cy="82.7" r="3.3" fill="url(#gg)"/><circle cx="1166.4" cy="93.6" r="2.2" fill="url(#gw)"/><circle cx="1165.5" cy="86.6" r="2.3" fill="url(#gw)"/><circle cx="1164.9" cy="85.8" r="3.5" fill="url(#gg)"/><circle cx="1112.8" cy="252.3" r="2.4" fill="url(#gw)"/><circle cx="1109.5" cy="246.9" r="2.7" fill="url(#gw)"/><circle cx="1098.8" cy="253.9" r="2.2" fill="url(#gw)"/><circle cx="1099.8" cy="256" r="3.4" fill="url(#gg)"/><circle cx="1109.9" cy="249.7" r="3.2" fill="url(#gb)"/><circle cx="1093.9" cy="243.2" r="2.4" fill="url(#gw)"/><circle cx="1098.2" cy="247.9" r="2.6" fill="url(#gw)"/><circle cx="1094.9" cy="248.2" r="3" fill="url(#gg)"/><circle cx="1104.3" cy="256" r="2.6" fill="url(#gw)"/><circle cx="1101.2" cy="258" r="3.1" fill="url(#gg)"/><circle cx="1048.7" cy="70.9" r="3.5" fill="url(#gg)"/><circle cx="1039.2" cy="66.8" r="2.8" fill="url(#gw)"/><circle cx="1046.2" cy="57.8" r="2.2" fill="url(#gw)"/><circle cx="1037.5" cy="63.7" r="2.8" fill="url(#gw)"/><circle cx="1033.3" cy="72.1" r="3.3" fill="url(#gg)"/><circle cx="1047" cy="62.7" r="2.3" fill="url(#gw)"/><circle cx="1038" cy="56.6" r="2.7" fill="url(#gw)"/><circle cx="1044.4" cy="66.7" r="3" fill="url(#gg)"/><circle cx="1045.9" cy="58.4" r="3.4" fill="url(#gg)"/><circle cx="1035.2" cy="73.2" r="3.4" fill="url(#gg)"/><circle cx="1036.6" cy="65" r="3.3" fill="url(#gg)"/><circle cx="1043.5" cy="58.8" r="3.2" fill="url(#gg)"/><circle cx="1028" cy="57.2" r="3.1" fill="url(#gg)"/><circle cx="1052.4" cy="65.9" r="2.9" fill="url(#gg)"/><circle cx="1041.6" cy="75" r="3" fill="url(#gg)"/><circle cx="1255.2" cy="83.3" r="2.3" fill="url(#gw)"/><circle cx="1259.4" cy="82" r="3.2" fill="url(#gb)"/><circle cx="1261.7" cy="85.3" r="2.8" fill="url(#gw)"/><circle cx="1262.5" cy="76" r="3" fill="url(#gg)"/><circle cx="1243.4" cy="73.1" r="3.1" fill="url(#gg)"/><circle cx="1266" cy="76.3" r="2.1" fill="url(#gw)"/><circle cx="1258.9" cy="67.5" r="2.9" fill="url(#gg)"/><circle cx="1245.9" cy="73.2" r="3.2" fill="url(#gb)"/><circle cx="1256.9" cy="73.5" r="2.7" fill="url(#gw)"/><circle cx="1258.5" cy="79" r="2.7" fill="url(#gw)"/><circle cx="1246.3" cy="75.7" r="2.1" fill="url(#gw)"/><circle cx="1248" cy="67.9" r="2.8" fill="url(#gg)"/><circle cx="1255.4" cy="78.4" r="3.1" fill="url(#gg)"/><circle cx="1268.3" cy="79.8" r="2.5" fill="url(#gw)"/><circle cx="1245.5" cy="67.6" r="2.8" fill="url(#gw)"/><circle cx="1263.8" cy="76.9" r="2.5" fill="url(#gw)"/><circle cx="1108.1" cy="134.2" r="2.1" fill="url(#gw)"/><circle cx="1120" cy="134.2" r="2.6" fill="url(#gw)"/><circle cx="1101" cy="140.3" r="2.7" fill="url(#gw)"/><circle cx="1111" cy="135.3" r="2.3" fill="url(#gw)"/><circle cx="1113.3" cy="119.7" r="2.1" fill="url(#gw)"/><circle cx="1114.3" cy="129.2" r="2.9" fill="url(#gg)"/><circle cx="1120.2" cy="137.4" r="2.6" fill="url(#gw)"/><circle cx="1110.1" cy="134.2" r="2.6" fill="url(#gw)"/><circle cx="1126.9" cy="131.9" r="3.6" fill="url(#gg)"/><circle cx="1115.7" cy="131.8" r="3.5" fill="url(#gg)"/><circle cx="1108.1" cy="129.4" r="3.1" fill="url(#gg)"/><circle cx="1112.4" cy="132.9" r="2.8" fill="url(#gg)"/><circle cx="1232" cy="41.8" r="2.6" fill="url(#gw)"/><circle cx="1214" cy="40.7" r="2.2" fill="url(#gw)"/><circle cx="1224.1" cy="40.2" r="2.8" fill="url(#gw)"/><circle cx="1219.9" cy="33.7" r="2.8" fill="url(#gw)"/><circle cx="1236.5" cy="45" r="3.2" fill="url(#gr)"/><circle cx="1229.2" cy="33.3" r="2.9" fill="url(#gg)"/><circle cx="1231.3" cy="46.5" r="2.1" fill="url(#gw)"/><circle cx="1231.8" cy="43.1" r="2.8" fill="url(#gg)"/><circle cx="1238.7" cy="39.1" r="3.2" fill="url(#gr)"/><circle cx="1229.1" cy="28.5" r="3.2" fill="url(#gb)"/><circle cx="1225.7" cy="36.4" r="2.3" fill="url(#gw)"/><circle cx="1230.5" cy="42.4" r="2.8" fill="url(#gw)"/><circle cx="1220.5" cy="47.2" r="2" fill="url(#gw)"/><circle cx="1228.7" cy="32.4" r="2.4" fill="url(#gw)"/><circle cx="1217.9" cy="33.1" r="2.5" fill="url(#gw)"/><circle cx="1181.1" cy="248.3" r="2.2" fill="url(#gw)"/><circle cx="1156.1" cy="261.5" r="2.6" fill="url(#gw)"/><circle cx="1171.1" cy="272.3" r="3.2" fill="url(#gr)"/><circle cx="1170.1" cy="252.5" r="3.5" fill="url(#gg)"/><circle cx="1167.8" cy="253.4" r="2" fill="url(#gw)"/><circle cx="1170.6" cy="252.7" r="2.6" fill="url(#gw)"/><circle cx="1178.6" cy="262.6" r="2.8" fill="url(#gw)"/><circle cx="1172.4" cy="261.9" r="3.4" fill="url(#gg)"/><circle cx="1091.2" cy="8.9" r="3.2" fill="url(#gb)"/><circle cx="1087.4" cy="13" r="2.8" fill="url(#gw)"/><circle cx="1104.6" cy="18.4" r="2.4" fill="url(#gw)"/><circle cx="1099" cy="12.4" r="2.7" fill="url(#gw)"/><circle cx="1106.9" cy="18.3" r="3.3" fill="url(#gg)"/><circle cx="1086.2" cy="13.1" r="3.4" fill="url(#gg)"/><circle cx="1092.2" cy="14.3" r="2.1" fill="url(#gw)"/><circle cx="1092.2" cy="21.7" r="2.7" fill="url(#gw)"/><circle cx="1100.5" cy="-0.1" r="3.2" fill="url(#gb)"/><circle cx="1087.7" cy="14.2" r="2.8" fill="url(#gg)"/><circle cx="1105.5" cy="12.2" r="2.4" fill="url(#gw)"/><circle cx="1094" cy="6.3" r="2.7" fill="url(#gw)"/><circle cx="970.5" cy="87" r="2.4" fill="url(#gw)"/><circle cx="956.8" cy="93.5" r="3" fill="url(#gg)"/><circle cx="958.7" cy="88.1" r="2.1" fill="url(#gw)"/><circle cx="968.8" cy="85.7" r="2.5" fill="url(#gw)"/><circle cx="971.9" cy="91.5" r="3.2" fill="url(#gb)"/><circle cx="957.6" cy="82.9" r="2.1" fill="url(#gw)"/><circle cx="981.1" cy="83.5" r="2.4" fill="url(#gw)"/><circle cx="971.1" cy="94.9" r="2.5" fill="url(#gw)"/><circle cx="972.1" cy="79.5" r="2.1" fill="url(#gw)"/><circle cx="1129.7" cy="38.6" r="3.2" fill="url(#gb)"/><circle cx="1116.6" cy="50.2" r="3.3" fill="url(#gg)"/><circle cx="1126.9" cy="37" r="2.9" fill="url(#gg)"/><circle cx="1125.3" cy="45.7" r="2.2" fill="url(#gw)"/><circle cx="1132.5" cy="44.7" r="2.3" fill="url(#gw)"/><circle cx="1122.1" cy="45.7" r="2.8" fill="url(#gg)"/><circle cx="1139.4" cy="54.6" r="2.6" fill="url(#gw)"/><circle cx="1117.2" cy="49.8" r="2.9" fill="url(#gg)"/><circle cx="1124.9" cy="41.5" r="2.7" fill="url(#gw)"/><circle cx="1139.1" cy="199.8" r="2.3" fill="url(#gw)"/><circle cx="1140.1" cy="200.1" r="2.2" fill="url(#gw)"/><circle cx="1137.5" cy="204.1" r="3.1" fill="url(#gg)"/><circle cx="1142.7" cy="205.4" r="2.3" fill="url(#gw)"/><circle cx="1137.6" cy="201.2" r="3.4" fill="url(#gg)"/><circle cx="1131.4" cy="206" r="2.2" fill="url(#gw)"/><circle cx="1135.3" cy="212" r="3.2" fill="url(#gr)"/><circle cx="1132" cy="205.6" r="3.6" fill="url(#gg)"/><circle cx="1134.3" cy="206.2" r="2.6" fill="url(#gw)"/><circle cx="1133.4" cy="203" r="2.9" fill="url(#gg)"/><circle cx="1128" cy="213.1" r="2.6" fill="url(#gw)"/><circle cx="1137.4" cy="207.6" r="3" fill="url(#gg)"/><circle cx="1137.6" cy="208.8" r="2.5" fill="url(#gw)"/><circle cx="1129" cy="210.5" r="2.1" fill="url(#gw)"/><circle cx="1129.2" cy="211.9" r="3.4" fill="url(#gg)"/><circle cx="1119.8" cy="122.8" r="2.5" fill="url(#gw)"/><circle cx="1123.1" cy="123.5" r="3.2" fill="url(#gg)"/><circle cx="1116.5" cy="134" r="3.2" fill="url(#gg)"/><circle cx="1128.5" cy="119.2" r="2.2" fill="url(#gw)"/><circle cx="1129.3" cy="140" r="3" fill="url(#gg)"/><circle cx="1127.2" cy="126.9" r="2.1" fill="url(#gw)"/><circle cx="1125.5" cy="139" r="2.1" fill="url(#gw)"/><circle cx="1120.1" cy="129.2" r="2.4" fill="url(#gw)"/><circle cx="1126.9" cy="122.9" r="2.5" fill="url(#gw)"/><circle cx="1123.4" cy="127.4" r="2.5" fill="url(#gw)"/><circle cx="1133" cy="133.9" r="2.7" fill="url(#gw)"/><circle cx="1256.1" cy="81.5" r="2.6" fill="url(#gw)"/><circle cx="1238.5" cy="84.5" r="2.2" fill="url(#gw)"/><circle cx="1243.6" cy="90.5" r="2.4" fill="url(#gw)"/><circle cx="1250.5" cy="100.3" r="2.1" fill="url(#gw)"/><circle cx="1245.9" cy="89.1" r="3.2" fill="url(#gr)"/><circle cx="1248" cy="88.5" r="2.3" fill="url(#gw)"/><circle cx="1241.1" cy="92.7" r="3" fill="url(#gg)"/><circle cx="1249.9" cy="86.5" r="2.5" fill="url(#gw)"/><circle cx="1239.2" cy="86.5" r="2.3" fill="url(#gw)"/><circle cx="1230" cy="96.6" r="2.5" fill="url(#gw)"/><circle cx="1246" cy="84.5" r="2.1" fill="url(#gw)"/><circle cx="1117.3" cy="248.8" r="2.4" fill="url(#gw)"/><circle cx="1120.2" cy="250.6" r="2" fill="url(#gw)"/><circle cx="1116" cy="240.5" r="3.5" fill="url(#gg)"/><circle cx="1113.4" cy="246.2" r="2.8" fill="url(#gw)"/><circle cx="1108.8" cy="251.9" r="2.6" fill="url(#gw)"/><circle cx="1122.1" cy="245.7" r="2.8" fill="url(#gw)"/><circle cx="1125.5" cy="241.7" r="3.2" fill="url(#gr)"/><circle cx="1121.5" cy="233.3" r="2.1" fill="url(#gw)"/><circle cx="1104.8" cy="240.5" r="2.5" fill="url(#gw)"/><circle cx="1107.1" cy="254" r="3.2" fill="url(#gb)"/><circle cx="1126.4" cy="249.8" r="2.1" fill="url(#gw)"/><circle cx="1123" cy="246.9" r="3.4" fill="url(#gg)"/><circle cx="1113.6" cy="237.8" r="2.2" fill="url(#gw)"/><circle cx="1109.9" cy="242.1" r="2.4" fill="url(#gw)"/><circle cx="1111.3" cy="246.3" r="2.8" fill="url(#gw)"/><circle cx="1112.2" cy="243.2" r="2.4" fill="url(#gw)"/><circle cx="1196.5" cy="53.1" r="2.8" fill="url(#gg)"/><circle cx="1193.4" cy="49.7" r="2.3" fill="url(#gw)"/><circle cx="1199.7" cy="50.7" r="2.8" fill="url(#gg)"/><circle cx="1185.6" cy="63.8" r="2.2" fill="url(#gw)"/><circle cx="1186.7" cy="63.5" r="3.4" fill="url(#gg)"/><circle cx="1190.7" cy="64" r="2.5" fill="url(#gw)"/><circle cx="1188" cy="60.7" r="3.5" fill="url(#gg)"/><circle cx="1198.7" cy="60.9" r="2.2" fill="url(#gw)"/><circle cx="1204.1" cy="63" r="2.4" fill="url(#gw)"/><circle cx="1197.5" cy="58.4" r="3.1" fill="url(#gg)"/><circle cx="1194.1" cy="66.4" r="2.2" fill="url(#gw)"/><circle cx="1202.1" cy="61.4" r="2.2" fill="url(#gw)"/><circle cx="1192.6" cy="55.7" r="2.6" fill="url(#gw)"/><circle cx="1188" cy="32.9" r="3.2" fill="url(#gb)"/><circle cx="1192.5" cy="31.6" r="2.3" fill="url(#gw)"/><circle cx="1187.9" cy="32.7" r="2.7" fill="url(#gw)"/><circle cx="1196.5" cy="32.7" r="2.4" fill="url(#gw)"/><circle cx="1189.4" cy="30.5" r="3.2" fill="url(#gr)"/><circle cx="1190.7" cy="36.1" r="2.2" fill="url(#gw)"/><circle cx="1189.7" cy="42.4" r="3.1" fill="url(#gg)"/><circle cx="1186" cy="38.7" r="2.4" fill="url(#gw)"/><circle cx="1202.5" cy="25.9" r="3.2" fill="url(#gg)"/><circle cx="1197.7" cy="39.5" r="2.2" fill="url(#gw)"/><circle cx="1188.9" cy="31.9" r="2.7" fill="url(#gw)"/><circle cx="1193.9" cy="37.6" r="2.1" fill="url(#gw)"/><circle cx="1187.8" cy="31.8" r="2.6" fill="url(#gw)"/><circle cx="1240.7" cy="242.9" r="3.2" fill="url(#gb)"/><circle cx="1226.2" cy="244" r="3.2" fill="url(#gg)"/><circle cx="1243.6" cy="235.6" r="2.3" fill="url(#gw)"/><circle cx="1241" cy="232.5" r="2.3" fill="url(#gw)"/><circle cx="1232" cy="242.8" r="2.6" fill="url(#gw)"/><circle cx="1230.4" cy="232.2" r="2.9" fill="url(#gg)"/><circle cx="1235" cy="237.4" r="3.2" fill="url(#gb)"/><circle cx="1238.1" cy="237.6" r="2.1" fill="url(#gw)"/><circle cx="1015" cy="222.5" r="3.2" fill="url(#gb)"/><circle cx="992.7" cy="221.7" r="2.6" fill="url(#gw)"/><circle cx="990.3" cy="241.6" r="3.2" fill="url(#gb)"/><circle cx="998.2" cy="232.6" r="2.4" fill="url(#gw)"/><circle cx="994.2" cy="230.1" r="2.8" fill="url(#gw)"/><circle cx="1001.8" cy="225.9" r="3.2" fill="url(#gr)"/><circle cx="998.8" cy="227.3" r="2.9" fill="url(#gg)"/><circle cx="997.9" cy="221.6" r="2.8" fill="url(#gg)"/><circle cx="991.8" cy="233.5" r="2.5" fill="url(#gw)"/><circle cx="992.8" cy="222.5" r="3.1" fill="url(#gg)"/><circle cx="990.5" cy="226.6" r="2.4" fill="url(#gw)"/><circle cx="993.9" cy="222.5" r="3.2" fill="url(#gr)"/><circle cx="992.8" cy="219.5" r="2.4" fill="url(#gw)"/><circle cx="988.2" cy="216.2" r="3.4" fill="url(#gg)"/><circle cx="991.8" cy="227.9" r="3.2" fill="url(#gr)"/><circle cx="991.2" cy="224.9" r="3.6" fill="url(#gg)"/><circle cx="991.3" cy="221.6" r="3.1" fill="url(#gg)"/><circle cx="1167.4" cy="164.7" r="3.2" fill="url(#gg)"/><circle cx="1163.1" cy="158.3" r="3.2" fill="url(#gb)"/><circle cx="1164.9" cy="158.8" r="2.1" fill="url(#gw)"/><circle cx="1164.8" cy="164.3" r="3.2" fill="url(#gb)"/><circle cx="1167.6" cy="172.4" r="3.2" fill="url(#gb)"/><circle cx="1175.3" cy="172" r="3.1" fill="url(#gg)"/><circle cx="1177.3" cy="161.7" r="3.5" fill="url(#gg)"/><circle cx="1174.4" cy="164.4" r="3.3" fill="url(#gg)"/><circle cx="1155.4" cy="158.2" r="2.2" fill="url(#gw)"/><circle cx="1175.1" cy="161.4" r="3.1" fill="url(#gg)"/><circle cx="1175.4" cy="156" r="3.2" fill="url(#gb)"/><circle cx="1174.8" cy="167.3" r="3.5" fill="url(#gg)"/><circle cx="1082.1" cy="90.9" r="3.3" fill="url(#gg)"/><circle cx="1083.2" cy="86.9" r="3.2" fill="url(#gg)"/><circle cx="1088" cy="86" r="2.2" fill="url(#gw)"/><circle cx="1087.6" cy="93.6" r="2.6" fill="url(#gw)"/><circle cx="1079.6" cy="93.6" r="3.5" fill="url(#gg)"/><circle cx="1079.9" cy="103.5" r="2.5" fill="url(#gw)"/><circle cx="1079.9" cy="95.5" r="2.2" fill="url(#gw)"/><circle cx="1080.9" cy="83.1" r="3.5" fill="url(#gg)"/><circle cx="1088" cy="93.8" r="2.7" fill="url(#gw)"/><circle cx="1080.3" cy="91.6" r="2.4" fill="url(#gw)"/><circle cx="1082.4" cy="90.3" r="3.2" fill="url(#gr)"/><circle cx="1081.7" cy="89.5" r="2.7" fill="url(#gw)"/><circle cx="1088.2" cy="89.7" r="2.2" fill="url(#gw)"/><circle cx="1080.2" cy="88.9" r="3.2" fill="url(#gr)"/><circle cx="1241.3" cy="124.6" r="3.6" fill="url(#gg)"/><circle cx="1243.8" cy="128.7" r="2.2" fill="url(#gw)"/><circle cx="1227.1" cy="124.5" r="2.3" fill="url(#gw)"/><circle cx="1242.1" cy="131.3" r="2.2" fill="url(#gw)"/><circle cx="1225.1" cy="129.3" r="3.2" fill="url(#gb)"/><circle cx="1242" cy="126.3" r="3.5" fill="url(#gg)"/><circle cx="1241.8" cy="126.3" r="2.5" fill="url(#gw)"/><circle cx="1223.1" cy="138.6" r="2.8" fill="url(#gw)"/><circle cx="1241.8" cy="122.5" r="3.2" fill="url(#gg)"/><circle cx="1240.7" cy="118" r="3" fill="url(#gg)"/><circle cx="1236.7" cy="122.9" r="3.1" fill="url(#gg)"/><circle cx="1235.5" cy="122.4" r="3.2" fill="url(#gb)"/><circle cx="1233.3" cy="122.5" r="2.1" fill="url(#gw)"/><circle cx="1234.1" cy="125.5" r="2.9" fill="url(#gg)"/><circle cx="1256.3" cy="177.5" r="3.4" fill="url(#gg)"/><circle cx="1249.9" cy="181.5" r="2.5" fill="url(#gw)"/><circle cx="1255.2" cy="173.2" r="2.2" fill="url(#gw)"/><circle cx="1267.6" cy="177" r="2.3" fill="url(#gw)"/><circle cx="1255.6" cy="171.8" r="3.2" fill="url(#gb)"/><circle cx="1257.7" cy="177" r="2" fill="url(#gw)"/><circle cx="1259.7" cy="176.2" r="3.2" fill="url(#gr)"/><circle cx="1259" cy="183.3" r="2.2" fill="url(#gw)"/><circle cx="1254.9" cy="177.6" r="2.7" fill="url(#gw)"/><circle cx="1128.9" cy="168.2" r="2.1" fill="url(#gw)"/><circle cx="1129.8" cy="164" r="2.7" fill="url(#gw)"/><circle cx="1112.7" cy="156.6" r="3.4" fill="url(#gg)"/><circle cx="1114.5" cy="163.6" r="2.8" fill="url(#gw)"/><circle cx="1120.8" cy="165.1" r="3.3" fill="url(#gg)"/><circle cx="1124.4" cy="169.6" r="3.2" fill="url(#gr)"/><circle cx="1130.3" cy="170.3" r="2.1" fill="url(#gw)"/><circle cx="1109.8" cy="176.2" r="2.7" fill="url(#gw)"/><circle cx="1112.8" cy="160.8" r="2.6" fill="url(#gw)"/><circle cx="1126.1" cy="162.1" r="2.9" fill="url(#gg)"/><circle cx="1139.3" cy="148.6" r="2.5" fill="url(#gw)"/><circle cx="1114.9" cy="154.3" r="2.4" fill="url(#gw)"/><circle cx="1111.8" cy="150.2" r="2.3" fill="url(#gw)"/><circle cx="1117.4" cy="165.2" r="2.4" fill="url(#gw)"/><circle cx="1113.9" cy="155.2" r="2.1" fill="url(#gw)"/><circle cx="1024.8" cy="10.3" r="2.2" fill="url(#gw)"/><circle cx="1031.8" cy="10.7" r="2" fill="url(#gw)"/><circle cx="1037.9" cy="21.2" r="2.4" fill="url(#gw)"/><circle cx="1028.5" cy="13.4" r="3.2" fill="url(#gg)"/><circle cx="1029.8" cy="14" r="2.4" fill="url(#gw)"/><circle cx="1043.3" cy="12" r="2.9" fill="url(#gg)"/><circle cx="1029.6" cy="15.7" r="3.3" fill="url(#gg)"/><circle cx="1025.7" cy="9.2" r="3.1" fill="url(#gg)"/><circle cx="1035.9" cy="18.5" r="2.3" fill="url(#gw)"/><circle cx="1037" cy="16" r="3.2" fill="url(#gg)"/><circle cx="1026.2" cy="12.4" r="3.1" fill="url(#gg)"/><circle cx="1031.6" cy="19.3" r="2.8" fill="url(#gw)"/><circle cx="1029.4" cy="22" r="2" fill="url(#gw)"/><circle cx="1077.7" cy="88" r="2.7" fill="url(#gw)"/><circle cx="1084.7" cy="92.6" r="3.2" fill="url(#gr)"/><circle cx="1070.3" cy="101.6" r="3.4" fill="url(#gg)"/><circle cx="1065.9" cy="93.4" r="2.4" fill="url(#gw)"/><circle cx="1083.4" cy="99.1" r="2.4" fill="url(#gw)"/><circle cx="1085.2" cy="108.8" r="2.1" fill="url(#gw)"/><circle cx="1078.6" cy="97.7" r="3.2" fill="url(#gg)"/><circle cx="1080.8" cy="106.4" r="2.4" fill="url(#gw)"/><circle cx="1082.1" cy="106" r="3.1" fill="url(#gg)"/><circle cx="1075.6" cy="98.3" r="3.2" fill="url(#gr)"/><circle cx="1072.4" cy="101.8" r="2.5" fill="url(#gw)"/><circle cx="1090.8" cy="103.4" r="3.2" fill="url(#gg)"/><circle cx="1228.1" cy="119.2" r="2.2" fill="url(#gw)"/><circle cx="1216.3" cy="114.5" r="2.9" fill="url(#gg)"/><circle cx="1222.5" cy="114.5" r="2.4" fill="url(#gw)"/><circle cx="1224.4" cy="109.4" r="2.1" fill="url(#gw)"/><circle cx="1207.1" cy="120.4" r="2.6" fill="url(#gw)"/><circle cx="1222.8" cy="116.3" r="2.3" fill="url(#gw)"/><circle cx="1215.5" cy="121" r="2.8" fill="url(#gw)"/><circle cx="1240.7" cy="118.3" r="2.1" fill="url(#gw)"/><circle cx="1222.5" cy="120.6" r="3.4" fill="url(#gg)"/><circle cx="1147.2" cy="44.3" r="2.5" fill="url(#gw)"/><circle cx="1131.4" cy="44.3" r="2.5" fill="url(#gw)"/><circle cx="1133.1" cy="46.3" r="2.2" fill="url(#gw)"/><circle cx="1146" cy="53.5" r="2" fill="url(#gw)"/><circle cx="1142.4" cy="52.2" r="3.2" fill="url(#gb)"/><circle cx="1131.9" cy="41.5" r="3.1" fill="url(#gg)"/><circle cx="1132.4" cy="54.5" r="2.7" fill="url(#gw)"/><circle cx="1144.5" cy="51.3" r="2.2" fill="url(#gw)"/><circle cx="1141.8" cy="43.8" r="2.5" fill="url(#gw)"/><circle cx="1134.3" cy="30.1" r="2.9" fill="url(#gg)"/><circle cx="1146.4" cy="57.7" r="2.4" fill="url(#gw)"/><circle cx="1148.2" cy="44.5" r="2.1" fill="url(#gw)"/><circle cx="1137.4" cy="49.2" r="2.8" fill="url(#gw)"/><circle cx="1140.9" cy="43.9" r="2.8" fill="url(#gw)"/><circle cx="1143.3" cy="39.3" r="3.2" fill="url(#gr)"/><circle cx="1128.9" cy="42.7" r="2.7" fill="url(#gw)"/><circle cx="1145.8" cy="48" r="3.2" fill="url(#gr)"/><circle cx="985.8" cy="29.8" r="2.5" fill="url(#gw)"/><circle cx="967.6" cy="30.2" r="2.1" fill="url(#gw)"/><circle cx="988.7" cy="40" r="3.2" fill="url(#gb)"/><circle cx="973.2" cy="21.5" r="2.4" fill="url(#gw)"/><circle cx="988.7" cy="24.3" r="2.4" fill="url(#gw)"/><circle cx="974.7" cy="36.3" r="2.2" fill="url(#gw)"/><circle cx="982.2" cy="20.2" r="2.3" fill="url(#gw)"/><circle cx="978.9" cy="21.2" r="3.3" fill="url(#gg)"/><circle cx="975" cy="26.6" r="2.6" fill="url(#gw)"/><circle cx="969.4" cy="31.9" r="2.8" fill="url(#gw)"/><circle cx="975.4" cy="24.3" r="3.5" fill="url(#gg)"/><circle cx="1256.6" cy="40.1" r="2.8" fill="url(#gg)"/><circle cx="1248.5" cy="33" r="2.4" fill="url(#gw)"/><circle cx="1268.5" cy="27.4" r="3.2" fill="url(#gg)"/><circle cx="1257.7" cy="38.6" r="3.3" fill="url(#gg)"/><circle cx="1271.5" cy="26.7" r="2.5" fill="url(#gw)"/><circle cx="1258.7" cy="44.1" r="2.9" fill="url(#gg)"/><circle cx="1250.3" cy="36.4" r="3.2" fill="url(#gb)"/><circle cx="1256.2" cy="22.6" r="2.5" fill="url(#gw)"/><circle cx="1261.4" cy="24.9" r="2.9" fill="url(#gg)"/><circle cx="1184" cy="80.3" r="2.4" fill="url(#gw)"/><circle cx="1175.6" cy="74.3" r="3.3" fill="url(#gg)"/><circle cx="1187.9" cy="81.1" r="3.2" fill="url(#gg)"/><circle cx="1173.7" cy="77.9" r="3.5" fill="url(#gg)"/><circle cx="1177.2" cy="76.7" r="2.5" fill="url(#gw)"/><circle cx="1195.1" cy="72.6" r="2.5" fill="url(#gw)"/><circle cx="1186.5" cy="85.3" r="3.2" fill="url(#gr)"/><circle cx="1184.4" cy="88.8" r="2.1" fill="url(#gw)"/><circle cx="1178.8" cy="73.6" r="2.2" fill="url(#gw)"/><circle cx="1178.5" cy="77.8" r="2.9" fill="url(#gg)"/><circle cx="1182.4" cy="79.9" r="2.6" fill="url(#gw)"/><circle cx="1177.3" cy="76.9" r="2.3" fill="url(#gw)"/><circle cx="1186.7" cy="79.6" r="3.2" fill="url(#gb)"/><circle cx="1176.9" cy="76.6" r="2.7" fill="url(#gw)"/><circle cx="1187.3" cy="89.1" r="2.8" fill="url(#gw)"/><circle cx="1033.5" cy="243.7" r="2.6" fill="url(#gw)"/><circle cx="1039" cy="239.3" r="3.2" fill="url(#gb)"/><circle cx="1041.4" cy="239" r="3" fill="url(#gg)"/><circle cx="1034.5" cy="245.5" r="2.5" fill="url(#gw)"/><circle cx="1036" cy="247.2" r="2.2" fill="url(#gw)"/><circle cx="1039.5" cy="241" r="3.5" fill="url(#gg)"/><circle cx="1041.9" cy="234.2" r="2.7" fill="url(#gw)"/><circle cx="1031.5" cy="245.8" r="3.2" fill="url(#gr)"/><circle cx="1043.6" cy="248.5" r="2.6" fill="url(#gw)"/><circle cx="1032.3" cy="228.8" r="2.9" fill="url(#gg)"/><circle cx="1035.9" cy="246.5" r="2.4" fill="url(#gw)"/><circle cx="1029.8" cy="246.7" r="2.1" fill="url(#gw)"/><circle cx="1044.6" cy="239.8" r="2.7" fill="url(#gw)"/><circle cx="1038.6" cy="237.2" r="3.2" fill="url(#gb)"/><circle cx="1166.9" cy="182.6" r="2.5" fill="url(#gw)"/><circle cx="1166.3" cy="175.5" r="2.7" fill="url(#gw)"/><circle cx="1177.6" cy="186.8" r="2.4" fill="url(#gw)"/><circle cx="1160.7" cy="190.6" r="3" fill="url(#gg)"/><circle cx="1170.9" cy="173" r="2.6" fill="url(#gw)"/><circle cx="1161.2" cy="183.2" r="3" fill="url(#gg)"/><circle cx="1180" cy="186" r="2.8" fill="url(#gw)"/><circle cx="1161.9" cy="179.7" r="2.2" fill="url(#gw)"/><circle cx="1169.6" cy="177.4" r="2.8" fill="url(#gw)"/><circle cx="1173.9" cy="184.3" r="3.2" fill="url(#gr)"/><circle cx="1260.7" cy="100.5" r="2.6" fill="url(#gw)"/><circle cx="1244.1" cy="104.3" r="2.4" fill="url(#gw)"/><circle cx="1243.4" cy="106.4" r="2.2" fill="url(#gw)"/><circle cx="1251.9" cy="100.1" r="3.2" fill="url(#gb)"/><circle cx="1243.4" cy="103.8" r="2.7" fill="url(#gw)"/><circle cx="1257.5" cy="101.2" r="2.2" fill="url(#gw)"/><circle cx="1241.2" cy="100.4" r="2.7" fill="url(#gw)"/><circle cx="1253.3" cy="99.4" r="2.6" fill="url(#gw)"/><circle cx="1254.7" cy="122.6" r="3.1" fill="url(#gg)"/><circle cx="1249" cy="103.5" r="2.2" fill="url(#gw)"/><circle cx="1258.8" cy="110.4" r="2.5" fill="url(#gw)"/><circle cx="1250.6" cy="100.4" r="2.6" fill="url(#gw)"/><circle cx="1000.1" cy="139.7" r="2.4" fill="url(#gw)"/><circle cx="1017.3" cy="149.5" r="2.4" fill="url(#gw)"/><circle cx="1013.9" cy="138.1" r="2.8" fill="url(#gw)"/><circle cx="1026" cy="154.5" r="2.8" fill="url(#gg)"/><circle cx="1003.4" cy="156.4" r="2.3" fill="url(#gw)"/><circle cx="1010.7" cy="146" r="3.2" fill="url(#gr)"/><circle cx="1019.2" cy="150.3" r="2.6" fill="url(#gw)"/><circle cx="1011.9" cy="150.3" r="3.5" fill="url(#gg)"/><circle cx="1015" cy="151.4" r="2.4" fill="url(#gw)"/><circle cx="1011.2" cy="142.5" r="2.7" fill="url(#gw)"/><circle cx="1017.6" cy="137.5" r="2.6" fill="url(#gw)"/><circle cx="1022" cy="145.5" r="2.1" fill="url(#gw)"/><circle cx="1008.7" cy="134.3" r="2.9" fill="url(#gg)"/><circle cx="1003.3" cy="145.6" r="2.8" fill="url(#gw)"/><circle cx="1020.6" cy="144.9" r="3.4" fill="url(#gg)"/><circle cx="1022.1" cy="153" r="2.6" fill="url(#gw)"/><circle cx="1100.6" cy="9.1" r="3.4" fill="url(#gg)"/><circle cx="1095.2" cy="-1.7" r="2.8" fill="url(#gw)"/><circle cx="1101.2" cy="11.9" r="3.5" fill="url(#gg)"/><circle cx="1096.3" cy="11.7" r="2.2" fill="url(#gw)"/><circle cx="1099.5" cy="9.7" r="2.3" fill="url(#gw)"/><circle cx="1099.9" cy="10.3" r="2.9" fill="url(#gg)"/><circle cx="1089.3" cy="16.7" r="3.5" fill="url(#gg)"/><circle cx="1098.2" cy="2.5" r="3.4" fill="url(#gg)"/><circle cx="1106.1" cy="16.2" r="2.5" fill="url(#gw)"/><circle cx="1105.5" cy="9.9" r="2.6" fill="url(#gw)"/><circle cx="1084.4" cy="9.9" r="3.2" fill="url(#gb)"/><circle cx="1213.3" cy="234.7" r="2.4" fill="url(#gw)"/><circle cx="1199.1" cy="252.7" r="3.2" fill="url(#gr)"/><circle cx="1204.4" cy="236.8" r="3.2" fill="url(#gg)"/><circle cx="1214.2" cy="241.4" r="3.2" fill="url(#gr)"/><circle cx="1216.4" cy="239.3" r="3.2" fill="url(#gr)"/><circle cx="1202.9" cy="247" r="2.1" fill="url(#gw)"/><circle cx="1214.8" cy="237.5" r="2.1" fill="url(#gw)"/><circle cx="1210.6" cy="245.5" r="2.1" fill="url(#gw)"/><circle cx="1199.2" cy="240.7" r="2.8" fill="url(#gw)"/><circle cx="1210.4" cy="254.1" r="3.2" fill="url(#gb)"/><circle cx="1207" cy="251.2" r="3.6" fill="url(#gg)"/><circle cx="1215.7" cy="241.8" r="2.6" fill="url(#gw)"/><circle cx="1205.5" cy="243.8" r="2.6" fill="url(#gw)"/><circle cx="1209.3" cy="248.6" r="2.8" fill="url(#gw)"/><circle cx="1095.3" cy="152.9" r="3.2" fill="url(#gg)"/><circle cx="1110" cy="145.5" r="2.8" fill="url(#gw)"/><circle cx="1094.6" cy="143" r="2.8" fill="url(#gw)"/><circle cx="1096.5" cy="143" r="2.3" fill="url(#gw)"/><circle cx="1112.3" cy="143.9" r="2.9" fill="url(#gg)"/><circle cx="1092.9" cy="151.2" r="2.7" fill="url(#gw)"/><circle cx="1090.2" cy="147.8" r="3.3" fill="url(#gg)"/><circle cx="1109" cy="145.5" r="3.2" fill="url(#gb)"/><circle cx="1090.7" cy="138.2" r="2.8" fill="url(#gg)"/><circle cx="1102.8" cy="151.2" r="2.8" fill="url(#gw)"/><circle cx="1104.5" cy="141.8" r="3.3" fill="url(#gg)"/><circle cx="1102.8" cy="141.9" r="3.3" fill="url(#gg)"/><circle cx="1111.8" cy="151.8" r="2.5" fill="url(#gw)"/><circle cx="1088.6" cy="146.1" r="2.5" fill="url(#gw)"/><circle cx="955.8" cy="48.8" r="3.5" fill="url(#gg)"/><circle cx="958.5" cy="45.4" r="3.4" fill="url(#gr)"/><circle cx="962.6" cy="46.6" r="5" fill="url(#gl)"/><circle cx="965.9" cy="43.4" r="3.5" fill="url(#gg)"/><circle cx="971.8" cy="42.7" r="3.4" fill="url(#gr)"/><circle cx="975.6" cy="40.9" r="3.5" fill="url(#gg)"/><circle cx="980.3" cy="43.1" r="3.5" fill="url(#gg)"/><circle cx="984.1" cy="41" r="3.4" fill="url(#gr)"/><circle cx="987.7" cy="38.6" r="3.5" fill="url(#gg)"/><circle cx="992.1" cy="35.1" r="3.5" fill="url(#gg)"/><circle cx="996.1" cy="35.5" r="3.4" fill="url(#gr)"/><circle cx="1000" cy="34" r="3.5" fill="url(#gg)"/><circle cx="1003.3" cy="33.6" r="3.5" fill="url(#gg)"/><circle cx="1008.1" cy="31.9" r="3.4" fill="url(#gr)"/><circle cx="1012.3" cy="31.4" r="3.5" fill="url(#gg)"/><circle cx="1016.8" cy="29.8" r="5" fill="url(#gl)"/><circle cx="1020.2" cy="28.5" r="3.4" fill="url(#gr)"/><circle cx="1025.3" cy="26.4" r="3.5" fill="url(#gg)"/><circle cx="954.7" cy="53.9" r="3.4" fill="url(#gr)"/><circle cx="959.4" cy="52.2" r="3.5" fill="url(#gg)"/><circle cx="963.3" cy="50.5" r="3.5" fill="url(#gg)"/><circle cx="966.9" cy="48.3" r="3.4" fill="url(#gr)"/><circle cx="972.1" cy="48.7" r="3.5" fill="url(#gg)"/><circle cx="975.7" cy="46.7" r="3.5" fill="url(#gg)"/><circle cx="979.6" cy="45.1" r="3.4" fill="url(#gr)"/><circle cx="984.4" cy="44.7" r="3.5" fill="url(#gg)"/><circle cx="988" cy="42.9" r="3.5" fill="url(#gg)"/><circle cx="991.6" cy="43.2" r="3.4" fill="url(#gr)"/><circle cx="996.1" cy="41.5" r="3.5" fill="url(#gg)"/><circle cx="999.9" cy="39.5" r="3.5" fill="url(#gg)"/><circle cx="1005.1" cy="36.7" r="3.4" fill="url(#gr)"/><circle cx="1008" cy="35.7" r="3.5" fill="url(#gg)"/><circle cx="1012.9" cy="33.7" r="3.5" fill="url(#gg)"/><circle cx="1016.5" cy="32.6" r="3.4" fill="url(#gr)"/><circle cx="1019.9" cy="35.1" r="3.5" fill="url(#gg)"/><circle cx="1024.8" cy="32.8" r="3.5" fill="url(#gg)"/><circle cx="1062.7" cy="50.1" r="3.5" fill="url(#gg)"/><circle cx="1066" cy="46.1" r="3.4" fill="url(#gr)"/><circle cx="1071.6" cy="44.3" r="5" fill="url(#gl)"/><circle cx="1073.2" cy="45.3" r="3.5" fill="url(#gg)"/><circle cx="1079" cy="44.2" r="3.4" fill="url(#gr)"/><circle cx="1082.4" cy="40.6" r="3.5" fill="url(#gg)"/><circle cx="1086.9" cy="41.8" r="3.5" fill="url(#gg)"/><circle cx="1090.8" cy="40.9" r="3.4" fill="url(#gr)"/><circle cx="1094.9" cy="39.1" r="3.5" fill="url(#gg)"/><circle cx="1098.6" cy="37.3" r="3.5" fill="url(#gg)"/><circle cx="1104.1" cy="36.9" r="3.4" fill="url(#gr)"/><circle cx="1107.7" cy="34.2" r="3.5" fill="url(#gg)"/><circle cx="1111" cy="33" r="3.5" fill="url(#gg)"/><circle cx="1116.2" cy="32.6" r="3.4" fill="url(#gr)"/><circle cx="1119" cy="31.7" r="3.5" fill="url(#gg)"/><circle cx="1124.7" cy="28.4" r="5" fill="url(#gl)"/><circle cx="1128.2" cy="26.8" r="3.4" fill="url(#gr)"/><circle cx="1132.1" cy="26.4" r="3.5" fill="url(#gg)"/><circle cx="1062.2" cy="53.5" r="3.4" fill="url(#gr)"/><circle cx="1065.8" cy="52.7" r="3.5" fill="url(#gg)"/><circle cx="1068.8" cy="49.8" r="3.5" fill="url(#gg)"/><circle cx="1074.4" cy="49.5" r="3.4" fill="url(#gr)"/><circle cx="1078.8" cy="47.4" r="3.5" fill="url(#gg)"/><circle cx="1081.7" cy="47" r="3.5" fill="url(#gg)"/><circle cx="1086.4" cy="43.7" r="3.4" fill="url(#gr)"/><circle cx="1091.4" cy="44.8" r="3.5" fill="url(#gg)"/><circle cx="1094.9" cy="45.7" r="3.5" fill="url(#gg)"/><circle cx="1098.5" cy="42" r="3.4" fill="url(#gr)"/><circle cx="1103.6" cy="40.5" r="3.5" fill="url(#gg)"/><circle cx="1107" cy="39.3" r="3.5" fill="url(#gg)"/><circle cx="1111.6" cy="38.8" r="3.4" fill="url(#gr)"/><circle cx="1115.2" cy="36.2" r="3.5" fill="url(#gg)"/><circle cx="1119.1" cy="34.8" r="3.5" fill="url(#gg)"/><circle cx="1123.4" cy="33.4" r="3.4" fill="url(#gr)"/><circle cx="1129" cy="32.2" r="3.5" fill="url(#gg)"/><circle cx="1131.7" cy="33.8" r="3.5" fill="url(#gg)"/><circle cx="1164.5" cy="45.7" r="3.5" fill="url(#gg)"/><circle cx="1168.1" cy="46.9" r="3.4" fill="url(#gr)"/><circle cx="1171.3" cy="44.6" r="5" fill="url(#gl)"/><circle cx="1176.8" cy="45" r="3.5" fill="url(#gg)"/><circle cx="1180.5" cy="42.4" r="3.4" fill="url(#gr)"/><circle cx="1185.3" cy="42.3" r="3.5" fill="url(#gg)"/><circle cx="1188.7" cy="40.8" r="3.5" fill="url(#gg)"/><circle cx="1191.8" cy="39.8" r="3.4" fill="url(#gr)"/><circle cx="1197.8" cy="38.5" r="3.5" fill="url(#gg)"/><circle cx="1200.8" cy="38" r="3.5" fill="url(#gg)"/><circle cx="1204.4" cy="34.9" r="3.4" fill="url(#gr)"/><circle cx="1209.5" cy="34.8" r="3.5" fill="url(#gg)"/><circle cx="1213.6" cy="31.3" r="3.5" fill="url(#gg)"/><circle cx="1217.8" cy="32" r="3.4" fill="url(#gr)"/><circle cx="1221.2" cy="32" r="3.5" fill="url(#gg)"/><circle cx="1225.6" cy="28.9" r="5" fill="url(#gl)"/><circle cx="1230.2" cy="28.1" r="3.4" fill="url(#gr)"/><circle cx="1234.2" cy="25.9" r="3.5" fill="url(#gg)"/><circle cx="1164.1" cy="53.5" r="3.4" fill="url(#gr)"/><circle cx="1167.4" cy="50.6" r="3.5" fill="url(#gg)"/><circle cx="1173.6" cy="49.8" r="3.5" fill="url(#gg)"/><circle cx="1175.9" cy="50.3" r="3.4" fill="url(#gr)"/><circle cx="1180.6" cy="46.5" r="3.5" fill="url(#gg)"/><circle cx="1185" cy="47.8" r="3.5" fill="url(#gg)"/><circle cx="1188.7" cy="45.3" r="3.4" fill="url(#gr)"/><circle cx="1192.8" cy="43.5" r="3.5" fill="url(#gg)"/><circle cx="1196.2" cy="43.5" r="3.5" fill="url(#gg)"/><circle cx="1202.1" cy="43" r="3.4" fill="url(#gr)"/><circle cx="1205.4" cy="41.3" r="3.5" fill="url(#gg)"/><circle cx="1209.6" cy="40.2" r="3.5" fill="url(#gg)"/><circle cx="1214" cy="36.8" r="3.4" fill="url(#gr)"/><circle cx="1217.1" cy="38.2" r="3.5" fill="url(#gg)"/><circle cx="1221.1" cy="33.6" r="3.5" fill="url(#gg)"/><circle cx="1226.5" cy="34.2" r="3.4" fill="url(#gr)"/><circle cx="1230.2" cy="34.1" r="3.5" fill="url(#gg)"/><circle cx="1233.4" cy="31.7" r="3.5" fill="url(#gg)"/><circle cx="905.2" cy="140.3" r="3.5" fill="url(#gg)"/><circle cx="909.1" cy="138.9" r="3.4" fill="url(#gr)"/><circle cx="913.5" cy="137.2" r="5" fill="url(#gl)"/><circle cx="917.3" cy="135.5" r="3.5" fill="url(#gg)"/><circle cx="921.5" cy="136.3" r="3.4" fill="url(#gr)"/><circle cx="925.1" cy="133.8" r="3.5" fill="url(#gg)"/><circle cx="929.1" cy="134.6" r="3.5" fill="url(#gg)"/><circle cx="933.8" cy="131.9" r="3.4" fill="url(#gr)"/><circle cx="939.2" cy="129.9" r="3.5" fill="url(#gg)"/><circle cx="942" cy="128.1" r="3.5" fill="url(#gg)"/><circle cx="945.4" cy="129.2" r="3.4" fill="url(#gr)"/><circle cx="950.5" cy="126.3" r="3.5" fill="url(#gg)"/><circle cx="954.7" cy="124.3" r="3.5" fill="url(#gg)"/><circle cx="958.7" cy="124.2" r="3.4" fill="url(#gr)"/><circle cx="963.3" cy="122.3" r="3.5" fill="url(#gg)"/><circle cx="966.5" cy="121.2" r="5" fill="url(#gl)"/><circle cx="971.3" cy="120.8" r="3.4" fill="url(#gr)"/><circle cx="974.8" cy="117.9" r="3.5" fill="url(#gg)"/><circle cx="904.1" cy="145" r="3.4" fill="url(#gr)"/><circle cx="909.2" cy="144.7" r="3.5" fill="url(#gg)"/><circle cx="912.6" cy="141.1" r="3.5" fill="url(#gg)"/><circle cx="916.8" cy="143.1" r="3.4" fill="url(#gr)"/><circle cx="921.9" cy="140.1" r="3.5" fill="url(#gg)"/><circle cx="926.8" cy="139.2" r="3.5" fill="url(#gg)"/><circle cx="929.5" cy="138" r="3.4" fill="url(#gr)"/><circle cx="933.9" cy="136.3" r="3.5" fill="url(#gg)"/><circle cx="938.5" cy="135.1" r="3.5" fill="url(#gg)"/><circle cx="942.1" cy="134.3" r="3.4" fill="url(#gr)"/><circle cx="946.8" cy="131.1" r="3.5" fill="url(#gg)"/><circle cx="949.8" cy="130.9" r="3.5" fill="url(#gg)"/><circle cx="954" cy="129.8" r="3.4" fill="url(#gr)"/><circle cx="957.9" cy="127.7" r="3.5" fill="url(#gg)"/><circle cx="961.9" cy="127.6" r="3.5" fill="url(#gg)"/><circle cx="967.6" cy="125.1" r="3.4" fill="url(#gr)"/><circle cx="971.7" cy="126" r="3.5" fill="url(#gg)"/><circle cx="973.8" cy="123.7" r="3.5" fill="url(#gg)"/><circle cx="1005.2" cy="138.3" r="3.5" fill="url(#gg)"/><circle cx="1009.3" cy="139" r="3.4" fill="url(#gr)"/><circle cx="1013.3" cy="139.3" r="5" fill="url(#gl)"/><circle cx="1017.4" cy="137" r="3.5" fill="url(#gg)"/><circle cx="1020.7" cy="136.1" r="3.4" fill="url(#gr)"/><circle cx="1026" cy="134.8" r="3.5" fill="url(#gg)"/><circle cx="1031.6" cy="132.6" r="3.5" fill="url(#gg)"/><circle cx="1034.3" cy="131.3" r="3.4" fill="url(#gr)"/><circle cx="1038.3" cy="132.4" r="3.5" fill="url(#gg)"/><circle cx="1041.9" cy="127.8" r="3.5" fill="url(#gg)"/><circle cx="1046.9" cy="127" r="3.4" fill="url(#gr)"/><circle cx="1050.2" cy="126.6" r="3.5" fill="url(#gg)"/><circle cx="1054.3" cy="125.1" r="3.5" fill="url(#gg)"/><circle cx="1059" cy="125.1" r="3.4" fill="url(#gr)"/><circle cx="1062" cy="124.6" r="3.5" fill="url(#gg)"/><circle cx="1066.9" cy="120.4" r="5" fill="url(#gl)"/><circle cx="1070.4" cy="120.4" r="3.4" fill="url(#gr)"/><circle cx="1076.1" cy="118.1" r="3.5" fill="url(#gg)"/><circle cx="1004.3" cy="146.9" r="3.4" fill="url(#gr)"/><circle cx="1008.5" cy="144.8" r="3.5" fill="url(#gg)"/><circle cx="1013.7" cy="142.9" r="3.5" fill="url(#gg)"/><circle cx="1016.5" cy="142.4" r="3.4" fill="url(#gr)"/><circle cx="1021.8" cy="140.3" r="3.5" fill="url(#gg)"/><circle cx="1026.2" cy="138.6" r="3.5" fill="url(#gg)"/><circle cx="1028.8" cy="135.5" r="3.4" fill="url(#gr)"/><circle cx="1034" cy="135.9" r="3.5" fill="url(#gg)"/><circle cx="1038.4" cy="135.5" r="3.5" fill="url(#gg)"/><circle cx="1042.1" cy="133.2" r="3.4" fill="url(#gr)"/><circle cx="1046.2" cy="133.5" r="3.5" fill="url(#gg)"/><circle cx="1049.7" cy="132.6" r="3.5" fill="url(#gg)"/><circle cx="1054.3" cy="130.6" r="3.4" fill="url(#gr)"/><circle cx="1058.1" cy="129.5" r="3.5" fill="url(#gg)"/><circle cx="1062.6" cy="127.4" r="3.5" fill="url(#gg)"/><circle cx="1067" cy="127.8" r="3.4" fill="url(#gr)"/><circle cx="1071.3" cy="125" r="3.5" fill="url(#gg)"/><circle cx="1074.3" cy="123.5" r="3.5" fill="url(#gg)"/><circle cx="1109.3" cy="140.9" r="3.5" fill="url(#gg)"/><circle cx="1113.9" cy="139.2" r="3.4" fill="url(#gr)"/><circle cx="1117.7" cy="137.9" r="5" fill="url(#gl)"/><circle cx="1122.5" cy="138.3" r="3.5" fill="url(#gg)"/><circle cx="1126.8" cy="136" r="3.4" fill="url(#gr)"/><circle cx="1130" cy="134.9" r="3.5" fill="url(#gg)"/><circle cx="1134.4" cy="131.7" r="3.5" fill="url(#gg)"/><circle cx="1138.6" cy="131.7" r="3.4" fill="url(#gr)"/><circle cx="1142.7" cy="129.6" r="3.5" fill="url(#gg)"/><circle cx="1147.4" cy="128" r="3.5" fill="url(#gg)"/><circle cx="1150.9" cy="127" r="3.4" fill="url(#gr)"/><circle cx="1155.3" cy="126.4" r="3.5" fill="url(#gg)"/><circle cx="1158.9" cy="126" r="3.5" fill="url(#gg)"/><circle cx="1161.8" cy="124" r="3.4" fill="url(#gr)"/><circle cx="1168.4" cy="124" r="3.5" fill="url(#gg)"/><circle cx="1172.1" cy="121.7" r="5" fill="url(#gl)"/><circle cx="1175.6" cy="119.4" r="3.4" fill="url(#gr)"/><circle cx="1179.4" cy="117.9" r="3.5" fill="url(#gg)"/><circle cx="1109" cy="143.4" r="3.4" fill="url(#gr)"/><circle cx="1114.7" cy="144.5" r="3.5" fill="url(#gg)"/><circle cx="1119" cy="142.6" r="3.5" fill="url(#gg)"/><circle cx="1121.5" cy="141.9" r="3.4" fill="url(#gr)"/><circle cx="1127.2" cy="138.3" r="3.5" fill="url(#gg)"/><circle cx="1130.4" cy="139.1" r="3.5" fill="url(#gg)"/><circle cx="1136" cy="138" r="3.4" fill="url(#gr)"/><circle cx="1138.1" cy="135.2" r="3.5" fill="url(#gg)"/><circle cx="1142.3" cy="134.2" r="3.5" fill="url(#gg)"/><circle cx="1147.4" cy="133.6" r="3.4" fill="url(#gr)"/><circle cx="1151.2" cy="131" r="3.5" fill="url(#gg)"/><circle cx="1156.6" cy="130.5" r="3.5" fill="url(#gg)"/><circle cx="1158.5" cy="129.5" r="3.4" fill="url(#gr)"/><circle cx="1163.9" cy="128.2" r="3.5" fill="url(#gg)"/><circle cx="1167.5" cy="129.4" r="3.5" fill="url(#gg)"/><circle cx="1171.1" cy="126.7" r="3.4" fill="url(#gr)"/><circle cx="1174.3" cy="124.9" r="3.5" fill="url(#gg)"/><circle cx="1179.6" cy="124.2" r="3.5" fill="url(#gg)"/><circle cx="1215" cy="139.6" r="3.5" fill="url(#gg)"/><circle cx="1219" cy="139.1" r="3.4" fill="url(#gr)"/><circle cx="1223" cy="137" r="5" fill="url(#gl)"/><circle cx="1226.6" cy="135.7" r="3.5" fill="url(#gg)"/><circle cx="1231.1" cy="134.3" r="3.4" fill="url(#gr)"/><circle cx="1235.9" cy="132.5" r="3.5" fill="url(#gg)"/><circle cx="1238.5" cy="131.2" r="3.5" fill="url(#gg)"/><circle cx="1243.1" cy="130.9" r="3.4" fill="url(#gr)"/><circle cx="1248.2" cy="129.9" r="3.5" fill="url(#gg)"/><circle cx="1252.5" cy="128.7" r="3.5" fill="url(#gg)"/><circle cx="1256.2" cy="128.7" r="3.4" fill="url(#gr)"/><circle cx="1260.3" cy="126.6" r="3.5" fill="url(#gg)"/><circle cx="1264.1" cy="123.8" r="3.5" fill="url(#gg)"/><circle cx="1268.2" cy="125.2" r="3.4" fill="url(#gr)"/><circle cx="1272.7" cy="119.9" r="3.5" fill="url(#gg)"/><circle cx="1275.9" cy="121.5" r="5" fill="url(#gl)"/><circle cx="1280.4" cy="120.4" r="3.4" fill="url(#gr)"/><circle cx="1285.1" cy="118" r="3.5" fill="url(#gg)"/><circle cx="1216" cy="145.2" r="3.4" fill="url(#gr)"/><circle cx="1220.4" cy="144.6" r="3.5" fill="url(#gg)"/><circle cx="1223.6" cy="143.2" r="3.5" fill="url(#gg)"/><circle cx="1226.7" cy="141.3" r="3.4" fill="url(#gr)"/><circle cx="1231.7" cy="139.3" r="3.5" fill="url(#gg)"/><circle cx="1236.2" cy="139.1" r="3.5" fill="url(#gg)"/><circle cx="1239.8" cy="137.6" r="3.4" fill="url(#gr)"/><circle cx="1242.3" cy="136.8" r="3.5" fill="url(#gg)"/><circle cx="1248.4" cy="137.2" r="3.5" fill="url(#gg)"/><circle cx="1252.5" cy="133.8" r="3.4" fill="url(#gr)"/><circle cx="1256.3" cy="132.1" r="3.5" fill="url(#gg)"/><circle cx="1260.2" cy="129.5" r="3.5" fill="url(#gg)"/><circle cx="1264.5" cy="131.4" r="3.4" fill="url(#gr)"/><circle cx="1268.7" cy="127.6" r="3.5" fill="url(#gg)"/><circle cx="1272.3" cy="128.4" r="3.5" fill="url(#gg)"/><circle cx="1277.5" cy="124.7" r="3.4" fill="url(#gr)"/><circle cx="1280.3" cy="124.6" r="3.5" fill="url(#gg)"/><circle cx="1285.4" cy="123.6" r="3.5" fill="url(#gg)"/><circle cx="940.2" cy="233.5" r="3.5" fill="url(#gg)"/><circle cx="944.5" cy="229.9" r="3.4" fill="url(#gr)"/><circle cx="948.5" cy="229.5" r="5" fill="url(#gl)"/><circle cx="952.1" cy="228.7" r="3.5" fill="url(#gg)"/><circle cx="956.4" cy="227.2" r="3.4" fill="url(#gr)"/><circle cx="961.1" cy="228.1" r="3.5" fill="url(#gg)"/><circle cx="964.5" cy="225.2" r="3.5" fill="url(#gg)"/><circle cx="968.3" cy="222.1" r="3.4" fill="url(#gr)"/><circle cx="972.1" cy="220.7" r="3.5" fill="url(#gg)"/><circle cx="977" cy="220.6" r="3.5" fill="url(#gg)"/><circle cx="981.9" cy="219.9" r="3.4" fill="url(#gr)"/><circle cx="985.5" cy="217.8" r="3.5" fill="url(#gg)"/><circle cx="989.1" cy="217.8" r="3.5" fill="url(#gg)"/><circle cx="993.7" cy="216.3" r="3.4" fill="url(#gr)"/><circle cx="998.1" cy="213.3" r="3.5" fill="url(#gg)"/><circle cx="1001.6" cy="214.7" r="5" fill="url(#gl)"/><circle cx="1006.3" cy="213.7" r="3.4" fill="url(#gr)"/><circle cx="1010" cy="211.1" r="3.5" fill="url(#gg)"/><circle cx="940.9" cy="240.6" r="3.4" fill="url(#gr)"/><circle cx="944.5" cy="235.6" r="3.5" fill="url(#gg)"/><circle cx="948.2" cy="234.2" r="3.5" fill="url(#gg)"/><circle cx="952.1" cy="233.7" r="3.4" fill="url(#gr)"/><circle cx="956.1" cy="232.7" r="3.5" fill="url(#gg)"/><circle cx="959.6" cy="231.2" r="3.5" fill="url(#gg)"/><circle cx="964.2" cy="229.4" r="3.4" fill="url(#gr)"/><circle cx="969.7" cy="227.9" r="3.5" fill="url(#gg)"/><circle cx="973" cy="227.8" r="3.5" fill="url(#gg)"/><circle cx="977.7" cy="226.8" r="3.4" fill="url(#gr)"/><circle cx="981" cy="223.9" r="3.5" fill="url(#gg)"/><circle cx="985.9" cy="224.6" r="3.5" fill="url(#gg)"/><circle cx="988.7" cy="223" r="3.4" fill="url(#gr)"/><circle cx="993.5" cy="221.3" r="3.5" fill="url(#gg)"/><circle cx="997.2" cy="220.4" r="3.5" fill="url(#gg)"/><circle cx="1002.4" cy="216.1" r="3.4" fill="url(#gr)"/><circle cx="1006.8" cy="217.1" r="3.5" fill="url(#gg)"/><circle cx="1009.4" cy="216.5" r="3.5" fill="url(#gg)"/><circle cx="1044.4" cy="233.3" r="3.5" fill="url(#gg)"/><circle cx="1050" cy="230.7" r="3.4" fill="url(#gr)"/><circle cx="1052.8" cy="228.3" r="5" fill="url(#gl)"/><circle cx="1057" cy="230.4" r="3.5" fill="url(#gg)"/><circle cx="1060.8" cy="228.8" r="3.4" fill="url(#gr)"/><circle cx="1066.1" cy="225.7" r="3.5" fill="url(#gg)"/><circle cx="1070.1" cy="224.8" r="3.5" fill="url(#gg)"/><circle cx="1074" cy="224.2" r="3.4" fill="url(#gr)"/><circle cx="1078.3" cy="221.6" r="3.5" fill="url(#gg)"/><circle cx="1082.2" cy="221.1" r="3.5" fill="url(#gg)"/><circle cx="1086.1" cy="218.9" r="3.4" fill="url(#gr)"/><circle cx="1090.2" cy="218.2" r="3.5" fill="url(#gg)"/><circle cx="1094.5" cy="215.8" r="3.5" fill="url(#gg)"/><circle cx="1097.3" cy="216.5" r="3.4" fill="url(#gr)"/><circle cx="1102.8" cy="213.4" r="3.5" fill="url(#gg)"/><circle cx="1107.2" cy="212.8" r="5" fill="url(#gl)"/><circle cx="1110.4" cy="213.1" r="3.4" fill="url(#gr)"/><circle cx="1115.7" cy="210.2" r="3.5" fill="url(#gg)"/><circle cx="1045.6" cy="238.1" r="3.4" fill="url(#gr)"/><circle cx="1048.3" cy="234.6" r="3.5" fill="url(#gg)"/><circle cx="1053.3" cy="234.3" r="3.5" fill="url(#gg)"/><circle cx="1056.7" cy="233.3" r="3.4" fill="url(#gr)"/><circle cx="1061.6" cy="233.1" r="3.5" fill="url(#gg)"/><circle cx="1065.5" cy="230.2" r="3.5" fill="url(#gg)"/><circle cx="1070.2" cy="228.5" r="3.4" fill="url(#gr)"/><circle cx="1073.1" cy="227.8" r="3.5" fill="url(#gg)"/><circle cx="1077.5" cy="227.5" r="3.5" fill="url(#gg)"/><circle cx="1081.7" cy="226.7" r="3.4" fill="url(#gr)"/><circle cx="1085.7" cy="223.9" r="3.5" fill="url(#gg)"/><circle cx="1091.3" cy="222.9" r="3.5" fill="url(#gg)"/><circle cx="1094.1" cy="222.3" r="3.4" fill="url(#gr)"/><circle cx="1099.2" cy="221.9" r="3.5" fill="url(#gg)"/><circle cx="1102.2" cy="217.6" r="3.5" fill="url(#gg)"/><circle cx="1106" cy="217.6" r="3.4" fill="url(#gr)"/><circle cx="1111.5" cy="218.1" r="3.5" fill="url(#gg)"/><circle cx="1114.5" cy="214.5" r="3.5" fill="url(#gg)"/><circle cx="1150.6" cy="232.4" r="3.5" fill="url(#gg)"/><circle cx="1154" cy="232.7" r="3.4" fill="url(#gr)"/><circle cx="1158.7" cy="228.5" r="5" fill="url(#gl)"/><circle cx="1162.6" cy="228.6" r="3.5" fill="url(#gg)"/><circle cx="1167" cy="225.9" r="3.4" fill="url(#gr)"/><circle cx="1170.5" cy="225.2" r="3.5" fill="url(#gg)"/><circle cx="1174.7" cy="223.7" r="3.5" fill="url(#gg)"/><circle cx="1179.2" cy="222.4" r="3.4" fill="url(#gr)"/><circle cx="1183.5" cy="223.2" r="3.5" fill="url(#gg)"/><circle cx="1187" cy="222.2" r="3.5" fill="url(#gg)"/><circle cx="1192" cy="219.4" r="3.4" fill="url(#gr)"/><circle cx="1194.7" cy="217.7" r="3.5" fill="url(#gg)"/><circle cx="1199" cy="218" r="3.5" fill="url(#gg)"/><circle cx="1204" cy="216" r="3.4" fill="url(#gr)"/><circle cx="1208.1" cy="215.3" r="3.5" fill="url(#gg)"/><circle cx="1211.3" cy="212.6" r="5" fill="url(#gl)"/><circle cx="1215.1" cy="212.6" r="3.4" fill="url(#gr)"/><circle cx="1220.3" cy="211.4" r="3.5" fill="url(#gg)"/><circle cx="1150.1" cy="237.8" r="3.4" fill="url(#gr)"/><circle cx="1153.7" cy="235.5" r="3.5" fill="url(#gg)"/><circle cx="1159.1" cy="232.8" r="3.5" fill="url(#gg)"/><circle cx="1163.1" cy="232.4" r="3.4" fill="url(#gr)"/><circle cx="1166.1" cy="233.3" r="3.5" fill="url(#gg)"/><circle cx="1170.1" cy="229.2" r="3.5" fill="url(#gg)"/><circle cx="1175.1" cy="230.6" r="3.4" fill="url(#gr)"/><circle cx="1179.1" cy="227" r="3.5" fill="url(#gg)"/><circle cx="1183.1" cy="227.1" r="3.5" fill="url(#gg)"/><circle cx="1186.9" cy="226.1" r="3.4" fill="url(#gr)"/><circle cx="1190.6" cy="225.9" r="3.5" fill="url(#gg)"/><circle cx="1194.9" cy="223.4" r="3.5" fill="url(#gg)"/><circle cx="1199.7" cy="221.9" r="3.4" fill="url(#gr)"/><circle cx="1204" cy="220.7" r="3.5" fill="url(#gg)"/><circle cx="1208" cy="218.2" r="3.5" fill="url(#gg)"/><circle cx="1212" cy="218.1" r="3.4" fill="url(#gr)"/><circle cx="1215.1" cy="216.8" r="3.5" fill="url(#gg)"/><circle cx="1219.6" cy="214.9" r="3.5" fill="url(#gg)"/><circle cx="1249.1" cy="231.4" r="3.5" fill="url(#gg)"/><circle cx="1253.6" cy="231.1" r="3.4" fill="url(#gr)"/><circle cx="1258.3" cy="229.6" r="5" fill="url(#gl)"/><circle cx="1261.8" cy="228.6" r="3.5" fill="url(#gg)"/><circle cx="1267.2" cy="228" r="3.4" fill="url(#gr)"/><circle cx="1270.8" cy="226.4" r="3.5" fill="url(#gg)"/><circle cx="1274.6" cy="224.8" r="3.5" fill="url(#gg)"/><circle cx="1279" cy="223.8" r="3.4" fill="url(#gr)"/><circle cx="1283.3" cy="223.2" r="3.5" fill="url(#gg)"/><circle cx="1287.7" cy="221.4" r="3.5" fill="url(#gg)"/><circle cx="1291" cy="218.5" r="3.4" fill="url(#gr)"/><circle cx="1294.3" cy="219.3" r="3.5" fill="url(#gg)"/><circle cx="1299.8" cy="216.9" r="3.5" fill="url(#gg)"/><circle cx="1302.9" cy="216" r="3.4" fill="url(#gr)"/><circle cx="1308.5" cy="215.8" r="3.5" fill="url(#gg)"/><circle cx="1313.2" cy="214" r="5" fill="url(#gl)"/><circle cx="1316.5" cy="213.1" r="3.4" fill="url(#gr)"/><circle cx="1319.1" cy="211.4" r="3.5" fill="url(#gg)"/><circle cx="1249.6" cy="237.9" r="3.4" fill="url(#gr)"/><circle cx="1253.2" cy="235.2" r="3.5" fill="url(#gg)"/><circle cx="1257.7" cy="234.4" r="3.5" fill="url(#gg)"/><circle cx="1262.8" cy="232.6" r="3.4" fill="url(#gr)"/><circle cx="1266.9" cy="233.4" r="3.5" fill="url(#gg)"/><circle cx="1269.9" cy="232" r="3.5" fill="url(#gg)"/><circle cx="1275.8" cy="229.1" r="3.4" fill="url(#gr)"/><circle cx="1279.2" cy="229.9" r="3.5" fill="url(#gg)"/><circle cx="1282.6" cy="226.5" r="3.5" fill="url(#gg)"/><circle cx="1287" cy="225.7" r="3.4" fill="url(#gr)"/><circle cx="1290.6" cy="224.2" r="3.5" fill="url(#gg)"/><circle cx="1294.7" cy="223.8" r="3.5" fill="url(#gg)"/><circle cx="1300.8" cy="223.1" r="3.4" fill="url(#gr)"/><circle cx="1302.7" cy="221.9" r="3.5" fill="url(#gg)"/><circle cx="1307.1" cy="220" r="3.5" fill="url(#gg)"/><circle cx="1311.6" cy="219.5" r="3.4" fill="url(#gr)"/><circle cx="1315.9" cy="216.9" r="3.5" fill="url(#gg)"/><circle cx="1320" cy="215.4" r="3.5" fill="url(#gg)"/></g><circle cx="1104.2" cy="80.2" r="8" fill="url(#gp)"/><circle cx="1091.7" cy="80.6" r="8" fill="url(#gp)"/><circle cx="1106.9" cy="81.7" r="8" fill="url(#gp)"/><circle cx="1106.4" cy="77.2" r="8" fill="url(#gp)"/><circle cx="1094" cy="78.2" r="8" fill="url(#gp)"/><circle cx="1090.3" cy="77.5" r="8" fill="url(#gp)"/><circle cx="1097.6" cy="77.3" r="8" fill="url(#gp)"/><circle cx="1093.1" cy="71.7" r="8" fill="url(#gp)"/><circle cx="1098.6" cy="71.6" r="8" fill="url(#gp)"/><circle cx="1103.2" cy="78.2" r="8" fill="url(#gp)"/><circle cx="1097.3" cy="75.7" r="8" fill="url(#gp)"/><circle cx="1101.4" cy="89" r="8" fill="url(#gp)"/><circle cx="1093.4" cy="73.3" r="8" fill="url(#gp)"/><circle cx="1107.3" cy="83.2" r="8" fill="url(#gp)"/><circle cx="1201.8" cy="90.7" r="6.3" fill="url(#gp)"/><circle cx="1190.8" cy="91.1" r="6.3" fill="url(#gp)"/><circle cx="1189.7" cy="86.2" r="6.3" fill="url(#gp)"/><circle cx="1200.4" cy="89" r="6.3" fill="url(#gp)"/><circle cx="1197.1" cy="75.2" r="6.3" fill="url(#gp)"/><circle cx="1193.6" cy="83.6" r="6.3" fill="url(#gp)"/><circle cx="1198.2" cy="87.2" r="6.3" fill="url(#gp)"/><circle cx="1197.9" cy="76.8" r="6.3" fill="url(#gp)"/><circle cx="1189.5" cy="83.1" r="6.3" fill="url(#gp)"/><circle cx="1193.4" cy="80.4" r="6.3" fill="url(#gp)"/><circle cx="1198.4" cy="78.2" r="6.3" fill="url(#gp)"/><circle cx="1194.1" cy="93.7" r="6.3" fill="url(#gp)"/><circle cx="1200.5" cy="83.8" r="6.3" fill="url(#gp)"/><circle cx="1188.4" cy="82.3" r="6.3" fill="url(#gp)"/><circle cx="988.5" cy="113.3" r="6.3" fill="url(#gp)"/><circle cx="992.5" cy="115.2" r="6.3" fill="url(#gp)"/><circle cx="988.6" cy="104.7" r="6.3" fill="url(#gp)"/><circle cx="994.4" cy="98" r="6.3" fill="url(#gp)"/><circle cx="987.8" cy="110" r="6.3" fill="url(#gp)"/><circle cx="992.7" cy="112.6" r="6.3" fill="url(#gp)"/><circle cx="997.6" cy="107.3" r="6.3" fill="url(#gp)"/><circle cx="992.8" cy="112" r="6.3" fill="url(#gp)"/><circle cx="988.5" cy="102.4" r="6.3" fill="url(#gp)"/><circle cx="988.3" cy="114.2" r="6.3" fill="url(#gp)"/><circle cx="986.9" cy="111.2" r="6.3" fill="url(#gp)"/><circle cx="992" cy="100.5" r="6.3" fill="url(#gp)"/><circle cx="999.7" cy="101.1" r="6.3" fill="url(#gp)"/><circle cx="985.6" cy="104" r="6.3" fill="url(#gp)"/><circle cx="1139.7" cy="143.2" r="6.7" fill="url(#gp)"/><circle cx="1153.5" cy="139" r="6.7" fill="url(#gp)"/><circle cx="1146.3" cy="144.5" r="6.7" fill="url(#gp)"/><circle cx="1149.4" cy="138.9" r="6.7" fill="url(#gp)"/><circle cx="1148.3" cy="147.6" r="6.7" fill="url(#gp)"/><circle cx="1140.3" cy="133.5" r="6.7" fill="url(#gp)"/><circle cx="1140.6" cy="131.5" r="6.7" fill="url(#gp)"/><circle cx="1150.2" cy="139.4" r="6.7" fill="url(#gp)"/><circle cx="1139.5" cy="139.5" r="6.7" fill="url(#gp)"/><circle cx="1143.3" cy="137.6" r="6.7" fill="url(#gp)"/><circle cx="1140.4" cy="131.8" r="6.7" fill="url(#gp)"/><circle cx="1137.9" cy="139" r="6.7" fill="url(#gp)"/><circle cx="1151.9" cy="131.6" r="6.7" fill="url(#gp)"/><circle cx="1143.5" cy="142.5" r="6.7" fill="url(#gp)"/><circle cx="1032.8" cy="147.7" r="5.7" fill="url(#gp)"/><circle cx="1032.1" cy="150.6" r="5.7" fill="url(#gp)"/><circle cx="1024" cy="153.6" r="5.7" fill="url(#gp)"/><circle cx="1039" cy="152.5" r="5.7" fill="url(#gp)"/><circle cx="1025.5" cy="158.2" r="5.7" fill="url(#gp)"/><circle cx="1027" cy="155.7" r="5.7" fill="url(#gp)"/><circle cx="1026.6" cy="146.9" r="5.7" fill="url(#gp)"/><circle cx="1032.1" cy="145" r="5.7" fill="url(#gp)"/><circle cx="1022.6" cy="153.2" r="5.7" fill="url(#gp)"/><circle cx="1031.4" cy="156.3" r="5.7" fill="url(#gp)"/><circle cx="1033.9" cy="155.5" r="5.7" fill="url(#gp)"/><circle cx="1024.5" cy="154.3" r="5.7" fill="url(#gp)"/><circle cx="1020.1" cy="151.2" r="5.7" fill="url(#gp)"/><circle cx="1037.9" cy="152.3" r="5.7" fill="url(#gp)"/><circle cx="1088.9" cy="167.7" r="7.1" fill="url(#gp)"/><circle cx="1100" cy="164.7" r="7.1" fill="url(#gp)"/><circle cx="1092" cy="173.2" r="7.1" fill="url(#gp)"/><circle cx="1107" cy="171.1" r="7.1" fill="url(#gp)"/><circle cx="1091.8" cy="174.2" r="7.1" fill="url(#gp)"/><circle cx="1107.2" cy="173.5" r="7.1" fill="url(#gp)"/><circle cx="1095.5" cy="174.2" r="7.1" fill="url(#gp)"/><circle cx="1095.4" cy="180.3" r="7.1" fill="url(#gp)"/><circle cx="1097.7" cy="181" r="7.1" fill="url(#gp)"/><circle cx="1094.2" cy="182.8" r="7.1" fill="url(#gp)"/><circle cx="1088.3" cy="173.4" r="7.1" fill="url(#gp)"/><circle cx="1088.7" cy="168.9" r="7.1" fill="url(#gp)"/><circle cx="1099.1" cy="167.2" r="7.1" fill="url(#gp)"/><circle cx="1102.3" cy="182" r="7.1" fill="url(#gp)"/><circle cx="1208" cy="187" r="7.3" fill="url(#gp)"/><circle cx="1202" cy="195.4" r="7.3" fill="url(#gp)"/><circle cx="1198.7" cy="192.3" r="7.3" fill="url(#gp)"/><circle cx="1199.1" cy="190.3" r="7.3" fill="url(#gp)"/><circle cx="1197.2" cy="182" r="7.3" fill="url(#gp)"/><circle cx="1205.2" cy="181.2" r="7.3" fill="url(#gp)"/><circle cx="1201.1" cy="194.7" r="7.3" fill="url(#gp)"/><circle cx="1209.6" cy="178.7" r="7.3" fill="url(#gp)"/><circle cx="1210.6" cy="182.7" r="7.3" fill="url(#gp)"/><circle cx="1208.3" cy="194" r="7.3" fill="url(#gp)"/><circle cx="1212.1" cy="183.9" r="7.3" fill="url(#gp)"/><circle cx="1210.6" cy="181.2" r="7.3" fill="url(#gp)"/><circle cx="1204.6" cy="186" r="7.3" fill="url(#gp)"/><circle cx="1203.4" cy="182.3" r="7.3" fill="url(#gp)"/><circle cx="974.4" cy="199.2" r="5.7" fill="url(#gp)"/><circle cx="984.3" cy="201.5" r="5.7" fill="url(#gp)"/><circle cx="978.2" cy="210.1" r="5.7" fill="url(#gp)"/><circle cx="974.7" cy="211.5" r="5.7" fill="url(#gp)"/><circle cx="975" cy="202.9" r="5.7" fill="url(#gp)"/><circle cx="978.4" cy="205.8" r="5.7" fill="url(#gp)"/><circle cx="981.7" cy="200.1" r="5.7" fill="url(#gp)"/><circle cx="977" cy="201.8" r="5.7" fill="url(#gp)"/><circle cx="968.9" cy="201.5" r="5.7" fill="url(#gp)"/><circle cx="976.3" cy="210.6" r="5.7" fill="url(#gp)"/><circle cx="976" cy="199.8" r="5.7" fill="url(#gp)"/><circle cx="974.3" cy="207.4" r="5.7" fill="url(#gp)"/><circle cx="969.7" cy="201.9" r="5.7" fill="url(#gp)"/><circle cx="979.8" cy="208.8" r="5.7" fill="url(#gp)"/><radialGradient id="haze" cx="0.5" cy="0.5" r="0.6"><stop offset="0.55" stop-color="#fff" stop-opacity="0"/><stop offset="1" stop-color="#fff" stop-opacity="0.55"/></radialGradient><rect x="930" y="0" width="338" height="275" fill="url(#haze)"/><text x="7" y="17" font-size="17">a</text><polygon points="109.9,81.8 131.5,94.4 153,81.8 174.6,94.4 174.6,119.7 153,132.3 153,157.5 131.5,170.1 109.9,157.5 88.1,170.1 66.8,157.5 66.8,132.3 88.1,119.7 88.1,94.4" fill="#ece2ef"/><line x1="109.9" y1="81.8" x2="131.5" y2="94.4" stroke="#1a1a1a" stroke-width="1.3" stroke-linecap="round"/><line x1="131.5" y1="94.4" x2="153" y2="81.8" stroke="#1a1a1a" stroke-width="1.3" stroke-linecap="round"/><line x1="153" y1="81.8" x2="174.6" y2="94.4" stroke="#1a1a1a" stroke-width="1.3" stroke-linecap="round"/><line x1="174.6" y1="94.4" x2="174.6" y2="119.7" stroke="#1a1a1a" stroke-width="1.3" stroke-linecap="round"/><line x1="174.6" y1="119.7" x2="153" y2="132.3" stroke="#1a1a1a" stroke-width="1.3" stroke-linecap="round"/><line x1="153" y1="132.3" x2="131.5" y2="119.7" stroke="#1a1a1a" stroke-width="1.3" stroke-linecap="round"/><line x1="131.5" y1="119.7" x2="131.5" y2="94.4" stroke="#1a1a1a" stroke-width="1.3" stroke-linecap="round"/><line x1="131.5" y1="119.7" x2="109.9" y2="132.3" stroke="#1a1a1a" stroke-width="1.3" stroke-linecap="round"/><line x1="109.9" y1="132.3" x2="88.1" y2="119.7" stroke="#1a1a1a" stroke-width="1.3" stroke-linecap="round"/><line x1="88.1" y1="119.7" x2="66.8" y2="132.3" stroke="#1a1a1a" stroke-width="1.3" stroke-linecap="round"/><line x1="66.8" y1="132.3" x2="66.8" y2="157.5" stroke="#1a1a1a" stroke-width="1.3" stroke-linecap="round"/><line x1="66.8" y1="157.5" x2="88.1" y2="170.1" stroke="#1a1a1a" stroke-width="1.3" stroke-linecap="round"/><line x1="88.1" y1="170.1" x2="109.9" y2="157.5" stroke="#1a1a1a" stroke-width="1.3" stroke-linecap="round"/><line x1="109.9" y1="157.5" x2="109.9" y2="132.3" stroke="#1a1a1a" stroke-width="1.3" stroke-linecap="round"/><line x1="109.9" y1="157.5" x2="131.5" y2="170.1" stroke="#1a1a1a" stroke-width="1.3" stroke-linecap="round"/><line x1="109.9" y1="81.8" x2="93.3" y2="91.4" stroke="#1a1a1a" stroke-width="1.3" stroke-linecap="round"/><line x1="88.1" y1="119.7" x2="88.1" y2="100.4" stroke="#1a1a1a" stroke-width="1.3" stroke-linecap="round"/><line x1="131.5" y1="170.1" x2="147.8" y2="160.5" stroke="#1a1a1a" stroke-width="1.3" stroke-linecap="round"/><line x1="153" y1="132.3" x2="153" y2="151.5" stroke="#1a1a1a" stroke-width="1.3" stroke-linecap="round"/><line x1="136.5" y1="95.6" x2="151.6" y2="86.8" stroke="#1a1a1a" stroke-width="1.2"/><line x1="171" y1="98.2" x2="171" y2="115.9" stroke="#1a1a1a" stroke-width="1.2"/><line x1="151.6" y1="127.3" x2="136.5" y2="118.5" stroke="#1a1a1a" stroke-width="1.2"/><line x1="104.8" y1="133.5" x2="89.6" y2="124.7" stroke="#1a1a1a" stroke-width="1.2"/><line x1="70.4" y1="136.1" x2="70.4" y2="153.7" stroke="#1a1a1a" stroke-width="1.2"/><line x1="89.6" y1="165.1" x2="104.8" y2="156.3" stroke="#1a1a1a" stroke-width="1.2"/><line x1="108.2" y1="81.8" x2="108" y2="64.4" stroke="#1a1a1a" stroke-width="1.2"/><line x1="111.6" y1="81.8" x2="111.4" y2="64.4" stroke="#1a1a1a" stroke-width="1.2"/><line x1="133.2" y1="170.1" x2="133.2" y2="188.4" stroke="#1a1a1a" stroke-width="1.2"/><line x1="129.8" y1="170.1" x2="129.8" y2="188.4" stroke="#1a1a1a" stroke-width="1.2"/><line x1="174.6" y1="94.4" x2="189" y2="86.5" stroke="#1a1a1a" stroke-width="1.3" stroke-linecap="round"/><line x1="174.6" y1="119.7" x2="189" y2="127.5" stroke="#1a1a1a" stroke-width="1.3" stroke-linecap="round"/><line x1="66.8" y1="132.3" x2="52.5" y2="124.5" stroke="#1a1a1a" stroke-width="1.3" stroke-linecap="round"/><line x1="66.8" y1="157.5" x2="52.5" y2="165.5" stroke="#1a1a1a" stroke-width="1.3" stroke-linecap="round"/><text x="88.1" y="100" font-size="16.5" fill="#111" text-anchor="middle" font-weight="normal">O</text><text x="153" y="163.1" font-size="16.5" fill="#111" text-anchor="middle" font-weight="normal">O</text><text x="109.6" y="63" font-size="16.5" fill="#111" text-anchor="middle" font-weight="normal">O</text><text x="131.5" y="201" font-size="16.5" fill="#111" text-anchor="middle" font-weight="normal">O</text><text x="201.4" y="88.2" font-size="16.5" fill="#111" text-anchor="middle" font-weight="normal">OH</text><text x="201.4" y="136.3" font-size="16.5" fill="#111" text-anchor="middle" font-weight="normal">OH</text><text x="38.9" y="127.6" font-size="16.5" fill="#111" text-anchor="middle" font-weight="normal">HO</text><text x="38.9" y="174.1" font-size="16.5" fill="#111" text-anchor="middle" font-weight="normal">HO</text><rect x="55" y="243.5" width="15.4" height="15.4" fill="none" stroke="#333" stroke-width="1.3"/><path d="M57 251.5 L61.5 257 L71 244.5" fill="none" stroke="#e4202a" stroke-width="2.8" stroke-linejoin="round"/><text x="76.2" y="255.7" font-size="17">Natural product</text><rect x="55" y="264" width="15.4" height="15.4" fill="none" stroke="#333" stroke-width="1.3"/><path d="M57 272 L61.5 277.5 L71 265" fill="none" stroke="#1a3d9c" stroke-width="2.8" stroke-linejoin="round"/><text x="76.2" y="276.2" font-size="17">Non-toxic</text><rect x="55" y="284.2" width="15.4" height="15.4" fill="none" stroke="#333" stroke-width="1.3"/><path d="M57 292.2 L61.5 297.7 L71 285.2" fill="none" stroke="#f7d400" stroke-width="2.8" stroke-linejoin="round"/><text x="76.2" y="296.4" font-size="17">Low price</text><text x="119.2" y="225.9" font-size="17" text-anchor="middle">Ellagic acid</text><line x1="233.5" y1="130.8" x2="398" y2="130.8" stroke="#111" stroke-width="1.6"/><path d="M406 130.8 L391 125.80000000000001 L395 130.8 L391 135.8 Z" fill="#111"/><text x="309.7" y="118.3" font-size="17" text-anchor="middle">Bi(NO)<tspan font-size="11" dy="4">3</tspan><tspan dy="-4"> 5H</tspan><tspan font-size="11" dy="4">2</tspan><tspan dy="-4">O</tspan></text><text x="308.2" y="147.4" font-size="17" text-anchor="middle">N-Methylpyrrolidone</text><text x="303.9" y="172.2" font-size="17" text-anchor="middle">70<tspan font-size="10" dy="-6">°</tspan><tspan dy="6">C, 3 days</tspan></text><polygon points="595.8,63.9 673.9,63.9 677.4,88.7 670.3,106.5 638.4,149 634.9,177.4 617.1,191.6 581.6,193.4 560.3,166.8 556.8,149 588.7,117.1 595.8,88.7" fill="#fde2e2"/><polygon points="509.3,84.2 529.6,92 552.7,84.2 573.5,92 573.5,110.2 552.7,118 551.9,135.4 529.6,144.9 509.3,138 487.7,144.9 466.8,138 466.8,118.9 488.5,110.2 488.5,90.3" fill="#ebe1f0"/><polygon points="699.8,115.8 720,122.9 743,115.6 763.8,122.7 763.8,139.5 743.1,146.7 742.4,162.8 720.3,171.6 700,165.3 678.5,171.7 657.7,165.5 657.6,147.9 679.2,139.8 679.1,121.4" fill="#ebe1f0"/><line x1="509.3" y1="84.2" x2="494.3" y2="88.6" stroke="#1a1a1a" stroke-width="1.3" stroke-linecap="round"/><line x1="509.3" y1="84.2" x2="529.6" y2="92" stroke="#1a1a1a" stroke-width="1.3" stroke-linecap="round"/><line x1="529.6" y1="92" x2="552.7" y2="84.2" stroke="#1a1a1a" stroke-width="1.3" stroke-linecap="round"/><line x1="552.7" y1="84.2" x2="573.5" y2="92" stroke="#1a1a1a" stroke-width="1.3" stroke-linecap="round"/><line x1="573.5" y1="92" x2="573.5" y2="110.2" stroke="#1a1a1a" stroke-width="1.3" stroke-linecap="round"/><line x1="573.5" y1="110.2" x2="552.7" y2="118" stroke="#1a1a1a" stroke-width="1.3" stroke-linecap="round"/><line x1="552.7" y1="118" x2="529.6" y2="110.2" stroke="#1a1a1a" stroke-width="1.3" stroke-linecap="round"/><line x1="552.7" y1="118" x2="552.2" y2="129.4" stroke="#1a1a1a" stroke-width="3.2" stroke-linecap="round"/><line x1="529.6" y1="110.2" x2="529.6" y2="92" stroke="#1a1a1a" stroke-width="1.3" stroke-linecap="round"/><line x1="529.6" y1="110.2" x2="509.3" y2="118" stroke="#1a1a1a" stroke-width="1.3" stroke-linecap="round"/><line x1="509.3" y1="118" x2="488.5" y2="110.2" stroke="#1a1a1a" stroke-width="1.3" stroke-linecap="round"/><line x1="488.5" y1="110.2" x2="488.5" y2="96.3" stroke="#1a1a1a" stroke-width="1.3" stroke-linecap="round"/><line x1="488.5" y1="110.2" x2="466.8" y2="118.9" stroke="#1a1a1a" stroke-width="1.3" stroke-linecap="round"/><line x1="466.8" y1="118.9" x2="466.8" y2="138" stroke="#1a1a1a" stroke-width="3.2" stroke-linecap="round"/><line x1="466.8" y1="138" x2="487.7" y2="144.9" stroke="#1a1a1a" stroke-width="3.2" stroke-linecap="round"/><line x1="487.7" y1="144.9" x2="509.3" y2="138" stroke="#1a1a1a" stroke-width="1.3" stroke-linecap="round"/><line x1="509.3" y1="138" x2="509.3" y2="118" stroke="#1a1a1a" stroke-width="1.3" stroke-linecap="round"/><line x1="509.3" y1="138" x2="529.6" y2="144.9" stroke="#1a1a1a" stroke-width="3.2" stroke-linecap="round"/><line x1="529.6" y1="144.9" x2="546.4" y2="137.8" stroke="#1a1a1a" stroke-width="3.2" stroke-linecap="round"/><line x1="466.8" y1="118.9" x2="451" y2="114.4" stroke="#1a1a1a" stroke-width="1.3" stroke-linecap="round"/><line x1="466.8" y1="138" x2="451" y2="141.8" stroke="#1a1a1a" stroke-width="1.3" stroke-linecap="round"/><line x1="573.5" y1="92" x2="588.8" y2="86.5" stroke="#1a1a1a" stroke-width="1.3" stroke-linecap="round"/><line x1="573.5" y1="110.2" x2="590.2" y2="118" stroke="#1a1a1a" stroke-width="1.3" stroke-linecap="round"/><line x1="534.1" y1="93.9" x2="550.3" y2="88.4" stroke="#1a1a1a" stroke-width="1.2"/><line x1="570.3" y1="94.7" x2="570.3" y2="107.5" stroke="#1a1a1a" stroke-width="1.2"/><line x1="550.3" y1="113.8" x2="534.1" y2="108.3" stroke="#1a1a1a" stroke-width="1.2"/><line x1="505.1" y1="119.8" x2="490.5" y2="114.4" stroke="#1a1a1a" stroke-width="1.2"/><line x1="470" y1="121.8" x2="470" y2="135.1" stroke="#1a1a1a" stroke-width="1.2"/><line x1="490" y1="140.8" x2="505.1" y2="136" stroke="#1a1a1a" stroke-width="1.2"/><line x1="507.7" y1="84.2" x2="507.7" y2="72.5" stroke="#1a1a1a" stroke-width="1.2"/><line x1="510.9" y1="84.2" x2="510.9" y2="72.5" stroke="#1a1a1a" stroke-width="1.2"/><line x1="531.2" y1="144.9" x2="531.2" y2="156.1" stroke="#1a1a1a" stroke-width="1.2"/><line x1="528" y1="144.9" x2="528" y2="156.1" stroke="#1a1a1a" stroke-width="1.2"/><text x="509.3" y="71.1" font-size="16" fill="#111" text-anchor="middle" font-weight="normal">O</text><text x="488.5" y="95.9" font-size="16" fill="#111" text-anchor="middle" font-weight="normal">O</text><text x="529.6" y="168.7" font-size="16" fill="#111" text-anchor="middle" font-weight="normal">O</text><text x="551.9" y="141" font-size="16" fill="#111" text-anchor="middle" font-weight="normal">O</text><line x1="699.8" y1="115.8" x2="684.9" y2="119.9" stroke="#1a1a1a" stroke-width="1.3" stroke-linecap="round"/><line x1="699.8" y1="115.8" x2="720" y2="122.9" stroke="#1a1a1a" stroke-width="1.3" stroke-linecap="round"/><line x1="720" y1="122.9" x2="743" y2="115.6" stroke="#1a1a1a" stroke-width="1.3" stroke-linecap="round"/><line x1="743" y1="115.6" x2="763.8" y2="122.7" stroke="#1a1a1a" stroke-width="1.3" stroke-linecap="round"/><line x1="763.8" y1="122.7" x2="763.8" y2="139.5" stroke="#1a1a1a" stroke-width="1.3" stroke-linecap="round"/><line x1="763.8" y1="139.5" x2="743.1" y2="146.7" stroke="#1a1a1a" stroke-width="1.3" stroke-linecap="round"/><line x1="743.1" y1="146.7" x2="720.1" y2="139.6" stroke="#1a1a1a" stroke-width="1.3" stroke-linecap="round"/><line x1="743.1" y1="146.7" x2="742.7" y2="156.8" stroke="#1a1a1a" stroke-width="3.2" stroke-linecap="round"/><line x1="720.1" y1="139.6" x2="720" y2="122.9" stroke="#1a1a1a" stroke-width="1.3" stroke-linecap="round"/><line x1="720.1" y1="139.6" x2="699.9" y2="146.9" stroke="#1a1a1a" stroke-width="1.3" stroke-linecap="round"/><line x1="699.9" y1="146.9" x2="679.2" y2="139.8" stroke="#1a1a1a" stroke-width="1.3" stroke-linecap="round"/><line x1="679.2" y1="139.8" x2="679.1" y2="127.4" stroke="#1a1a1a" stroke-width="1.3" stroke-linecap="round"/><line x1="679.2" y1="139.8" x2="657.6" y2="147.9" stroke="#1a1a1a" stroke-width="1.3" stroke-linecap="round"/><line x1="657.6" y1="147.9" x2="657.7" y2="165.5" stroke="#1a1a1a" stroke-width="3.2" stroke-linecap="round"/><line x1="657.7" y1="165.5" x2="678.5" y2="171.7" stroke="#1a1a1a" stroke-width="3.2" stroke-linecap="round"/><line x1="678.5" y1="171.7" x2="700" y2="165.3" stroke="#1a1a1a" stroke-width="1.3" stroke-linecap="round"/><line x1="700" y1="165.3" x2="699.9" y2="146.9" stroke="#1a1a1a" stroke-width="1.3" stroke-linecap="round"/><line x1="700" y1="165.3" x2="720.3" y2="171.6" stroke="#1a1a1a" stroke-width="3.2" stroke-linecap="round"/><line x1="720.3" y1="171.6" x2="736.8" y2="165" stroke="#1a1a1a" stroke-width="3.2" stroke-linecap="round"/><line x1="657.6" y1="147.9" x2="641.9" y2="143.8" stroke="#1a1a1a" stroke-width="1.3" stroke-linecap="round"/><line x1="657.7" y1="165.5" x2="642.1" y2="169" stroke="#1a1a1a" stroke-width="1.3" stroke-linecap="round"/><line x1="763.8" y1="122.7" x2="778.8" y2="117.7" stroke="#1a1a1a" stroke-width="1.3" stroke-linecap="round"/><line x1="763.8" y1="139.5" x2="780.4" y2="146.6" stroke="#1a1a1a" stroke-width="1.3" stroke-linecap="round"/><line x1="724.4" y1="124.8" x2="740.5" y2="119.8" stroke="#1a1a1a" stroke-width="1.2"/><line x1="760.6" y1="125.3" x2="760.6" y2="137" stroke="#1a1a1a" stroke-width="1.2"/><line x1="740.6" y1="142.6" x2="724.5" y2="137.6" stroke="#1a1a1a" stroke-width="1.2"/><line x1="695.8" y1="148.8" x2="681.3" y2="143.9" stroke="#1a1a1a" stroke-width="1.2"/><line x1="660.8" y1="150.5" x2="660.9" y2="162.8" stroke="#1a1a1a" stroke-width="1.2"/><line x1="680.8" y1="167.7" x2="695.9" y2="163.2" stroke="#1a1a1a" stroke-width="1.2"/><line x1="698.2" y1="115.8" x2="698.1" y2="105.5" stroke="#1a1a1a" stroke-width="1.2"/><line x1="701.4" y1="115.7" x2="701.3" y2="105.5" stroke="#1a1a1a" stroke-width="1.2"/><line x1="721.9" y1="171.6" x2="721.9" y2="181.4" stroke="#1a1a1a" stroke-width="1.2"/><line x1="718.7" y1="171.6" x2="718.7" y2="181.4" stroke="#1a1a1a" stroke-width="1.2"/><text x="699.7" y="104.1" font-size="16" fill="#111" text-anchor="middle" font-weight="normal">O</text><text x="679.1" y="127" font-size="16" fill="#111" text-anchor="middle" font-weight="normal">O</text><text x="720.3" y="194" font-size="16" fill="#111" text-anchor="middle" font-weight="normal">O</text><text x="742.4" y="168.4" font-size="16" fill="#111" text-anchor="middle" font-weight="normal">O</text><text x="445.2" y="118.4" font-size="16" fill="#111" text-anchor="middle" font-weight="normal">O</text><text x="445.2" y="148.8" font-size="16" fill="#111" text-anchor="middle" font-weight="normal">O</text><text x="784.5" y="121.4" font-size="16" fill="#111" text-anchor="middle" font-weight="normal">O</text><text x="785.9" y="154.6" font-size="16" fill="#111" text-anchor="middle" font-weight="normal">O</text><path d="M439 116 L428 136 M439 140 L428 120" stroke="#111" stroke-width="1.2" fill="none"/><path d="M436 94 L432 94 L432 158 L436 158" stroke="#111" stroke-width="1.3" fill="none"/><text x="422.6" y="160" font-size="16" text-anchor="middle">n</text><path d="M791 119 L808 127 M791 142 L808 134" stroke="#111" stroke-width="1.2" fill="none"/><path d="M798 97 L802 97 L802 157 L798 157" stroke="#111" stroke-width="1.3" fill="none"/><text x="810" y="160" font-size="16" text-anchor="middle">n</text><line x1="601.9" y1="87.2" x2="602" y2="86.7" stroke="#111" stroke-width="1"/><line x1="605.4" y1="89" x2="605.9" y2="87.4" stroke="#111" stroke-width="1"/><line x1="608.9" y1="90.7" x2="609.7" y2="88.2" stroke="#111" stroke-width="1"/><line x1="612.4" y1="92.4" x2="613.6" y2="88.9" stroke="#111" stroke-width="1"/><line x1="616" y1="94.1" x2="617.5" y2="89.6" stroke="#111" stroke-width="1"/><line x1="619.5" y1="95.9" x2="621.3" y2="90.3" stroke="#111" stroke-width="1"/><polygon points="600.6,117.2 625.2,104.2 621.6,98.9" fill="#111"/><line x1="631.8" y1="105.4" x2="635.4" y2="136.3" stroke="#1a1a1a" stroke-width="1" stroke-linecap="round"/><line x1="627.4" y1="88.2" x2="619.4" y2="68.7" stroke="#1a1a1a" stroke-width="1" stroke-linecap="round"/><line x1="634.4" y1="88.2" x2="642.4" y2="69.4" stroke="#1a1a1a" stroke-width="1" stroke-linecap="round"/><line x1="638.2" y1="91.4" x2="656.6" y2="78.6" stroke="#1a1a1a" stroke-width="1" stroke-linecap="round"/><line x1="639.7" y1="97.6" x2="666.1" y2="101" stroke="#1a1a1a" stroke-width="1" stroke-linecap="round"/><line x1="628.6" y1="145.2" x2="628.8" y2="145.7" stroke="#111" stroke-width="1"/><line x1="624.6" y1="146.2" x2="625.2" y2="147.7" stroke="#111" stroke-width="1"/><line x1="620.6" y1="147.3" x2="621.7" y2="149.8" stroke="#111" stroke-width="1"/><line x1="616.7" y1="148.4" x2="618.1" y2="151.8" stroke="#111" stroke-width="1"/><line x1="612.7" y1="149.5" x2="614.6" y2="153.9" stroke="#111" stroke-width="1"/><line x1="608.8" y1="150.5" x2="611" y2="156" stroke="#111" stroke-width="1"/><polygon points="630.5,168.3 609.3,157.5 607.1,163.5" fill="#111"/><line x1="598.7" y1="148.6" x2="596.3" y2="126.6" stroke="#1a1a1a" stroke-width="1" stroke-linecap="round"/><line x1="596.8" y1="166" x2="589.6" y2="187.7" stroke="#1a1a1a" stroke-width="1" stroke-linecap="round"/><line x1="603.6" y1="165.6" x2="613.8" y2="186.9" stroke="#1a1a1a" stroke-width="1" stroke-linecap="round"/><line x1="590.8" y1="156.3" x2="562.7" y2="152.7" stroke="#1a1a1a" stroke-width="1" stroke-linecap="round"/><line x1="592.5" y1="162.9" x2="574" y2="176.7" stroke="#1a1a1a" stroke-width="1" stroke-linecap="round"/><g stroke="#777" stroke-width="0.8" stroke-dasharray="1.2,1.6" fill="none"><path d="M567.4 44 L612 80"/><path d="M720 74.5 L640 136 L598 162"/><path d="M514.2 235.3 L560 196 L597 165"/></g><line x1="667.5" y1="74.9" x2="679.6" y2="74.1" stroke="#1a1a1a" stroke-width="1.2" stroke-linecap="round"/><line x1="674.7" y1="96.4" x2="683" y2="79.2" stroke="#1a1a1a" stroke-width="1.2" stroke-linecap="round"/><line x1="690.3" y1="69.8" x2="703.4" y2="63.4" stroke="#1a1a1a" stroke-width="1.2"/><line x1="691.6" y1="72.5" x2="704.7" y2="66.1" stroke="#1a1a1a" stroke-width="1.2"/><line x1="554.1" y1="157.2" x2="546.4" y2="172.1" stroke="#1a1a1a" stroke-width="1.2" stroke-linecap="round"/><line x1="563.2" y1="179.6" x2="549.7" y2="178.1" stroke="#1a1a1a" stroke-width="1.2" stroke-linecap="round"/><line x1="539.1" y1="181.6" x2="526.6" y2="188.4" stroke="#1a1a1a" stroke-width="1.2"/><line x1="537.7" y1="178.9" x2="525.2" y2="185.7" stroke="#1a1a1a" stroke-width="1.2"/><text x="685.6" y="79.4" font-size="15.5" fill="#2a56a6" text-anchor="middle" font-weight="normal">N</text><text x="709.4" y="67.7" font-size="15.5" fill="#111" text-anchor="middle" font-weight="normal">O</text><text x="543.7" y="183" font-size="15.5" fill="#2a56a6" text-anchor="middle" font-weight="normal">N</text><text x="520.6" y="195.5" font-size="15.5" fill="#111" text-anchor="middle" font-weight="normal">O</text><polygon points="606.5,49.7 609.3,19.5 594,5.3 581.6,16 588.7,40.8" fill="#fdf3dc" stroke="#1a1a1a" stroke-width="1.2" stroke-linejoin="round"/><line x1="607.8" y1="48.7" x2="614.7" y2="57.5" stroke="#1a1a1a" stroke-width="1.2"/><line x1="605.2" y1="50.7" x2="612.1" y2="59.5" stroke="#1a1a1a" stroke-width="1.2"/><line x1="615.3" y1="18.8" x2="624.2" y2="17.7" stroke="#1a1a1a" stroke-width="1.2" stroke-linecap="round"/><circle cx="609.3" cy="19.5" r="5.5" fill="#fdf3dc"/><text x="609.3" y="25.1" font-size="15.5" fill="#2a56a6" text-anchor="middle" font-weight="normal">N</text><polygon points="652.6,47.9 676.7,34.4 679.2,8.9 659.7,6.2 648.6,22.2" fill="#fdf3dc" stroke="#1a1a1a" stroke-width="1.2" stroke-linejoin="round"/><line x1="654" y1="48.6" x2="648.9" y2="59.2" stroke="#1a1a1a" stroke-width="1.2"/><line x1="651.2" y1="47.2" x2="646" y2="57.8" stroke="#1a1a1a" stroke-width="1.2"/><line x1="680.5" y1="39" x2="686.3" y2="46.1" stroke="#1a1a1a" stroke-width="1.2" stroke-linecap="round"/><circle cx="676.7" cy="34.4" r="5.5" fill="#fdf3dc"/><text x="676.7" y="40" font-size="15.5" fill="#2a56a6" text-anchor="middle" font-weight="normal">N</text><polygon points="581.6,209.4 583.4,237 565.4,251.2 554.8,238 559.8,214.4" fill="#fdf3dc" stroke="#1a1a1a" stroke-width="1.2" stroke-linejoin="round"/><line x1="580.1" y1="208.8" x2="584.1" y2="198.4" stroke="#1a1a1a" stroke-width="1.2"/><line x1="583.1" y1="210" x2="587.1" y2="199.6" stroke="#1a1a1a" stroke-width="1.2"/><line x1="589.4" y1="237.4" x2="598" y2="238" stroke="#1a1a1a" stroke-width="1.2" stroke-linecap="round"/><circle cx="583.4" cy="237" r="5.5" fill="#fdf3dc"/><text x="583.4" y="242.6" font-size="15.5" fill="#2a56a6" text-anchor="middle" font-weight="normal">N</text><polygon points="624.2,212.9 648.3,221.8 652.6,244.9 634.9,250.2 624.2,232" fill="#fdf3dc" stroke="#1a1a1a" stroke-width="1.2" stroke-linejoin="round"/><line x1="622.7" y1="213.5" x2="617" y2="198.5" stroke="#1a1a1a" stroke-width="1.2"/><line x1="625.7" y1="212.3" x2="620" y2="197.3" stroke="#1a1a1a" stroke-width="1.2"/><line x1="652.4" y1="217.4" x2="659.7" y2="209.4" stroke="#1a1a1a" stroke-width="1.2" stroke-linecap="round"/><circle cx="648.3" cy="221.8" r="5.5" fill="#fdf3dc"/><text x="648.3" y="227.4" font-size="15.5" fill="#2a56a6" text-anchor="middle" font-weight="normal">N</text><text x="617.1" y="68.8" font-size="16" fill="#e5262b" text-anchor="middle" font-weight="normal">O</text><text x="644.8" y="69.5" font-size="16" fill="#e5262b" text-anchor="middle" font-weight="normal">O</text><text x="587.7" y="199" font-size="16" fill="#e5262b" text-anchor="middle" font-weight="normal">O</text><text x="616.4" y="197.9" font-size="16" fill="#e5262b" text-anchor="middle" font-weight="normal">O</text><text x="661.5" y="80.8" font-size="16" fill="#e5262b" text-anchor="middle" font-weight="normal">O</text><text x="672.1" y="107.4" font-size="16" fill="#e5262b" text-anchor="middle" font-weight="normal">O</text><text x="556.8" y="157.5" font-size="16" fill="#e5262b" text-anchor="middle" font-weight="normal">O</text><text x="569.2" y="185.9" font-size="16" fill="#e5262b" text-anchor="middle" font-weight="normal">O</text><text x="594.4" y="90.1" font-size="16" fill="#e5262b" text-anchor="middle" font-weight="normal">O</text><text x="636.2" y="175.9" font-size="16" fill="#e5262b" text-anchor="middle" font-weight="normal">O</text><text x="595.6" y="126.2" font-size="16" fill="#2ea64f" text-anchor="middle" font-weight="normal">O</text><text x="636.1" y="147.9" font-size="16" fill="#2ea64f" text-anchor="middle" font-weight="normal">O</text><text x="630.8" y="101.8" font-size="15.5" fill="#6b4fa3" text-anchor="middle" font-weight="bold">Bi</text><text x="599.7" y="162.8" font-size="15.5" fill="#6b4fa3" text-anchor="middle" font-weight="bold">Bi</text><text x="402.4" y="32.6" font-size="17">Capped octahedron</text><line x1="407" y1="44" x2="567.4" y2="44" stroke="#777" stroke-width="1.4"/><text x="723.6" y="65.6" font-size="17" fill="#3aa85a">Oxo-bridging</text><line x1="720" y1="74.5" x2="831.8" y2="74.5" stroke="#777" stroke-width="1.4"/><text x="426.6" y="226" font-size="17" fill="#7d57a8">Binuclear</text><line x1="425.5" y1="235.3" x2="514.2" y2="235.3" stroke="#777" stroke-width="1.4"/><text x="463.6" y="254.8" font-size="17" fill="#7d57a8" text-anchor="middle">Bi (<tspan font-family="Liberation Serif, serif">III</tspan>)</text><text x="608.6" y="283.9" font-size="17" text-anchor="middle">[Bi<tspan font-size="11" dy="4">2</tspan><tspan dy="-4">(EA)</tspan><tspan font-size="11" dy="4">2</tspan><tspan dy="-4">(NMP)</tspan><tspan font-size="11" dy="4">4</tspan><tspan dy="-4">(NO</tspan><tspan font-size="11" dy="4">3</tspan><tspan dy="-4">)</tspan><tspan font-size="11" dy="4">2</tspan><tspan dy="-4">]</tspan><tspan font-size="11" dy="4">n</tspan></text><line x1="829.5" y1="129.2" x2="920" y2="129.2" stroke="#111" stroke-width="1.6"/><path d="M928 129.2 L913 124.19999999999999 L917 129.2 L913 134.2 Z" fill="#111"/><text x="872" y="120" font-size="17" text-anchor="middle">Electro-</text><text x="873.8" y="147.7" font-size="17" text-anchor="middle">reduction</text><text x="1091.6" y="284.2" font-size="17" text-anchor="middle">Bi nanoparticles</text><text x="5.5" y="355" font-size="17" text-anchor="start" fill="#000" >b</text><path d="M32.5 475.9l.2 .3 .3-.6 .2-.7 .2 .5 .3-.6 .2 1.2 .2 1.4 .3-2 .2-.1 .2 1.2 .3-.2 .2-.2 .2-1.2 .3 1 .2 .8 .2-2.2 .3 1 .2-1.6 .2 .7 .3-.6 .2 1.7 .2-1.1 .3 1.7 .2-.1 .2-.4 .3-2.6 .2 2.2 .2 .6 .3 .1 .2-1.8 .2 1.2 .3-.6 .2 .2 .2 2.1 .3-2.1 .2 .9 .2 1 .3-1.6 .2 .5 .2 .3 .3-.1 .2-1.4 .2 1.4 .3 1.4 .2-3.2 .2 2.7 .3-.8 .2-.9 .2 2.9 .3-1.3 .2-2.2 .2 1.4 .3 .6 .2-.9 .2 1 .3-.8 .2 .8 .2 .8 .3-2.3 .2 .9 .2-.7 .3 .6 .2-1.4 .2 .7 .3 .4 .2 1.2 .2 .2 .3-2.7 .2 .6 .2 1.6 .3-3 .2 1.7 .2 .4 .3 1.5 .2-.7 .2-1.1 .3-.1 .2 .1 .2 2 .3-2.2 .2 .1 .2 .7 .3-.6 .2-.1 .2-1 .3 1.2 .2-.6 .2 1.8 .3-.7 .2-.8 .2 .7 .3-1.2 .2 1.5 .2-1.3 .3 .6 .2-2.2 .2 1.7 .3-2.4 .2-.5 .2 1.7 .3-.8 .2 .9 .2 2 .3-3.7 .2-.1 .2 .5 .3-.2 .2-1.4 .2-.8 .3 .1 .2-1.4 .2-3.1 .3-.9 .2-2.4 .2-4.5 .3-2.9 .2-6.7 .2-4.3 .3-6.7 .2-3.3 .2-.2 .3 3.5 .2 1 .2 2.3 .3 .5 .2-7 .2-5.2 .3-16.7 .2-17.4 .2-23.9 .3-8.5 .2 10.9 .2 21.7 .3 24.8 .2 16.1 .2 9.2 .3 7.2 .2 5.3 .2 2.8 .3 5 .2 .2 .2 2.2 .3 .4 .2 1.2 .2 .1 .3 3.4 .2-1 .2 1.7 .3-.6 .2-.5 .2 .7 .3 0 .2 .8 .2-.2 .3 .2 .2-1.1 .2 .7 .3 2.8 .2-2.6 .2-.5 .3 1.4 .2 1 .2-3.5 .3 .8 .2-1.2 .2-1.8 .3 2.7 .2-.3 .2 .9 .3-.1 .2 1.9 .2-.7 .3 .7 .2-.8 .2 0 .3 3 .2-2 .2 1 .3-.3 .2-.4 .2 0 .3 1.3 .2-.9 .2 .2 .3 .2 .2 1.3 .2-.5 .3-.3 .2-1 .2-.9 .3 2.6 .2 0 .2-1.2 .3 .8 .2 .3 .2 .1 .3 .1 .2-1.5 .2 2.2 .3-3 .2 2.3 .2-.4 .3 .4 .2 1.2 .2-.5 .3-2.8 .2-.6 .2 2.7 .3-2 .2 1.2 .2 .9 .3-2.7 .2-.5 .2 2.6 .3-.2 .2-.3 .2 .3 .3-1 .2-.7 .2 1.5 .3-.9 .2-.7 .2 2.4 .3-.6 .2 .5 .2-1.5 .3 .3 .2-.3 .2 .1 .3 1.2 .2-1.1 .2 1.3 .3 0 .2 1.8 .2-3.7 .3 2.5 .2-1.1 .2 .1 .3-1.6 .2 1.1 .2 1.3 .3-.9 .2 .2 .2-.5 .3 1.6 .2-1.3 .2-2.4 .3 1.7 .2-1.4 .2-1.5 .3 3 .2 2.1 .2-1.4 .3-1.4 .2 .3 .2 2.2 .3-1 .2-.2 .2-.1 .3 .1 .2 .8 .2-.2 .3-.4 .2-1.4 .2 1.7 .3-1.3 .2 1.9 .2-2.6 .3 1.2 .2 .2 .2-1.5 .3 3.4 .2-.3 .2-2.2 .3 1.4 .2-.4 .2-3.3 .3 3.1 .2-.3 .2 .1 .3-1.3 .2 .9 .2 .1 .3 1.5 .2-1 .2-.3 .3 1.6 .2-2.3 .2 .2 .3-1.6 .2 3.7 .2-.6 .3-.1 .2-.3 .2-.6 .3 .1 .2-.5 .2 0 .3 .3 .2 1.6 .2-1.1 .3-.7 .2-.5 .2-.1 .3 2.4 .2-1.2 .2-.5 .3-.5 .2-.8 .2 1.1 .3 1 .2-1.4 .2 .2 .3 0 .2 .3 .2-1.9 .3 1.4 .2-.7 .2 1.9 .3-1.9 .2 1.4 .2 1 .3-2.2 .2-.5 .2 .6 .3-.5 .2-1.5 .2 1 .3 1.1 .2-2.8 .2 .3 .3-.5 .2 2 .2-1.4 .3 .3 .2 2.7 .2-2.5 .3 1.9 .2 .1 .2-1.9 .3-.1 .2 1.5 .2-2 .3 .2 .2-.4 .2 2 .3 1.8 .2-.4 .2-1.9 .3 .2 .2 .4 .2 .9 .3-.5 .2 .5 .2 .1 .3-.6 .2 .3 .2 .2 .3-.3 .2 .6 .2 1.5 .3-1.4 .2-.6 .2-1.9 .3 2.2 .2-2.6 .2 .6 .3 2.5 .2-.2 .2-1 .3-1.8 .2 1.4 .2-.4 .3 1.4 .2 1.7 .2-2.4 .3-1.2 .2-.5 .2 1 .3-.4 .2-1.3 .2 1 .3-1.9 .2 1.9 .2-.9 .3-1.1 .2-3.1 .2-.6 .3-2.1 .2-.9 .2 .6 .3 .3 .2 1.5 .2 3.8 .3 0 .2 1.2 .2 1.4 .3-2.5 .2 1.3 .2 1.3 .3 .4 .2-.8 .2 1.7 .3-.9 .2-1.6 .2 .3 .3 1.9 .2-.5 .2-2.7 .3 3.5 .2-1 .2 .6 .3-2.2 .2-.2 .2-1.3 .3 3.5 .2-3.7 .2 1 .3-3.7 .2-.8 .2-4.5 .3-2.1 .2-3.7 .2-10 .3-7.3 .2-9.9 .2-3.2 .3 7.9 .2 10.2 .2 8.8 .3 5.4 .2 3.6 .2 3.3 .3 1 .2 1 .2 2.2 .3 1.6 .2-2.3 .2 1.8 .3-.9 .2-.7 .2 1.4 .3-1.8 .2 2.5 .2-1.7 .3 2.2 .2 0 .2 0 .3 1.8 .2-.5 .2 1.1 .3-.6 .2-1 .2 1.2 .3 .3 .2 1 .2-2 .3 1 .2-1.8 .2 2.7 .3-1.9 .2-.8 .2 2 .3 1.3 .2-2.9 .2 .5 .3 .4 .2-.4 .2 1.7 .3-1.3 .2 .1 .2 1.4 .3-1.5 .2 1.3 .2-1.5 .3-.3 .2-.6 .2 4 .3-2.4 .2 .6 .2-.3 .3 .3 .2-.2 .2 2.1 .3-3.3 .2-.5 .2 .6 .3-.4 .2 2.3 .2 .1 .3-2 .2-.5 .2 1.2 .3 1.9 .2-4.7 .2 3.7 .3-1.8 .2 2.4 .2-2.4 .3 .9 .2-1.4 .2 .6 .3 2.6 .2-.6 .2-1.4 .3-.5 .2-1.1 .2 1.6 .3 .4 .2 0 .2-.1 .3-1.1 .2 1.2 .2 0 .3 1.4 .2 .7 .2-2.2 .3-.7 .2 .7 .2-.6 .3-.1 .2 .7 .2-1.1 .3 1.8 .2-.8 .2 .4 .3-.5 .2-.6 .2-.2 .3 .7 .2-.3 .2 .8 .3-.2 .2-1.5 .2 1.5 .3-1.5 .2 .8 .2 .3 .3-2 .2 2.4 .2 0 .3-.3 .2-.3 .2 0 .3-.7 .2 .8 .2-.3 .3 .7 .2-1.5 .2 1.6 .3-.1 .2-.4 .2-.3 .3 1 .2-2.4 .2 2.3 .3-.3 .2 0 .2 .1 .3-1.2 .2 .3 .2 1 .3-.3 .2-.4 .2-2 .3 2.2 .2 .5 .2-.3 .3-1.1 .2-2.3 .2 2.4 .3-1.6 .2-3.3 .2 2.2 .3-3.4 .2-1.9 .2-2.5 .3-2.7 .2-7.5 .2-2.3 .3 4.5 .2 5.5 .2 2.8 .3 3 .2 .9 .2 1.9 .3 2.1 .2 .5 .2 0 .3 1.2 .2-1.9 .2 .7 .3 .8 .2-.5 .2 .1 .3-1.5 .2-1.8 .2-.6 .3-2.8 .2-1.4 .2 2.9 .3 .4 .2 1.5 .2-1.5 .3 1.8 .2-.2 .2-.5 .3-2 .2 1.3 .2 0 .3-2.4 .2-4 .2-3.6 .3-5.4 .2-12.1 .2-4.6 .3-.6 .2 6.2 .2 9.6 .3 6.4 .2 4.1 .2 3.3 .3 2.8 .2 .1 .2 1.7 .3 1.8 .2 1.7 .2-1.9 .3 .4 .2 .5 .2 1.3 .3-1.5 .2 1.5 .2-2.9 .3 .4 .2-.8 .2 .1 .3-1.1 .2-4.2 .2 0 .3 2.1 .2 .4 .2 .5 .3 4 .2 .3 .2 .6 .3-.7 .2 2 .2-1.2 .3 1.7 .2-2.1 .2 .2 .3 1.2 .2-.9 .2 1.6 .3-.4 .2-1.3 .2 1.1 .3-.4 .2 1.4 .2-1.7 .3 .2 .2 1.9 .2 1.1 .3-.3 .2-2.1 .2 .2 .3 1.4 .2-1.8 .2-1 .3 1.2 .2 .4 .2-1.5 .3-.9 .2 .2 .2 2.3 .3-1.7 .2 .7 .2 .3 .3 .3 .2-1.1 .2 .7 .3-1.7 .2 .4 .2-1.1 .3 2 .2-1.8 .2-1.6 .3-.7 .2-1.4 .2-1 .3-4.8 .2-1 .2 1.1 .3 5.1 .2 .6 .2 .6 .3 2.3 .2 2.4 .2-1.8 .3 .3 .2 2.1 .2-.6 .3 .4 .2-1.1 .2 2.7 .3-.1 .2-1.3 .2 .2 .3-3 .2 2.9 .2-.9 .3 .6 .2 .2 .2-1.2 .3-1.7 .2 2.1 .2-1.5 .3 .2 .2-.8 .2-.3 .3-3 .2 2.6 .2-3 .3-2.1 .2-3.6 .2-8.2 .3-6.8 .2 2.1 .2 5.4 .3 6.5 .2 4.6 .2 .3 .3 4.3 .2-.9 .2 2.8 .3 .1 .2 .1 .2 .6 .3-.3 .2 .1 .2-1 .3 1.9 .2 2.2 .2 .2 .3-.6 .2-.6 .2-1.5 .3 2.3 .2-1.6 .2 0 .3-.2 .2 .5 .2-.6 .3 .4 .2-1.1 .2 .8 .3 2.9 .2-2.5 .2-.2 .3 .8 .2 .2 .2-2 .3 1 .2 1.3 .2-.7 .3-.2 .2 1.6 .2-2.5 .3 .9 .2-.7 .2 2.2 .3-3.8 .2 1.4 .2 .2 .3 1.3 .2-.1 .2 .9 .3-3.3 .2 2.5 .2-1.1 .3-.4 .2 1.3 .2-1.6 .3-1.3 .2 1.9 .2-1.3 .3 .9 .2 1.1 .2-.1 .3 1.4 .2-2 .2-1.5 .3 .9 .2-.3 .2-.3 .3 1.7 .2-1.2 .2-1.6 .3 2.8 .2-1.1 .2 .3 .3-.6 .2 0 .2-1.2 .3 .8 .2-1 .2 .4 .3 .5 .2-1.5 .2 1.7 .3 .2 .2 .6 .2-1.6 .3 3.3 .2-1.7 .2-1.6 .3-.7 .2 1.3 .2-.1 .3-1.2 .2 .3 .2-1.2 .3 1.4 .2-.9 .2 1.4 .3 1.5 .2 2.1 .2-3.7 .3 .8 .2-.3 .2 1.9 .3-2.1 .2 .8 .2 .5 .3-1 .2 0 .2 .6 .3-1.8 .2 .7 .2 1.1 .3 .6 .2-.4 .2-1.8 .3 1.4 .2 1.4 .2-.4 .3-.8 .2-1 .2 1.4 .3-1.6 .2-1 .2-.2 .3 1.7 .2-2.3 .2 .2 .3-1.9 .2 2.2 .2-.8 .3 1.4 .2 3.5 .2-1.4 .3-1.1 .2 .7 .2 .6 .3 1.1 .2-1.8 .2-1.3 .3 1.7 .2 .4 .2 .1 .3 1.4 .2-1.1 .2 .5 .3-2.1 .2 2.2 .2 1.4 .3-1.5 .2-.5 .2-.1 .3 1.7 .2-2.9 .2 .8 .3 .7 .2 .3 .2-1.3 .3 .8 .2-.7 .2 .4 .3-.3 .2-1.1 .2 1.1 .3 1 .2-2.1 .2 .7 .3 .9 .2-2.1 .2 1.2 .3-1.6 .2 2 .2 .8 .3-1.1 .2-3.6 .2-.8 .3-3.3 .2-2.7 .2 1 .3-.9 .2 5.4 .2 .9 .3 3 .2-.4 .2-.4 .3 1.4 .2 .8 .2-.5 .3 .6 .2-1 .2-1.6 .3 3.4 .2-.2 .2-.6 .3 0 .2 1.1 .2-1.6 .3-.3 .2 .6 .2 1.5 .3-2.8 .2 2.9 .2-2.1 .3-.5 .2 2.6 .2-1.4 .3-1.4 .2 1.1 .2 1.4 .3 .3 .2-1.8 .2 .9 .3 .3 .2-1.5 .2 1.1 .3-.5 .2-.6 .2 0 .3 .6 .2-.1 .2-.8 .3 .1 .2 1.5 .2-1.3 .3 .4 .2-.1 .2-1.3 .3 1.4 .2-3.5 .2 2.2 .3-.7 .2 2.9 .2 .2 .3-3.8 .2 1.2 .2 1.9 .3 .3 .2-.1 .2-.8 .3 .5 .2 .2 .2-.8 .3 1.1 .2-3.7 .2 3.1 .3-2 .2 2 .2-1.6 .3-1 .2 .9 .2-1.9 .3-.6 .2-1.3 .2 1.1 .3 .3 .2 .6 .2-.9 .3 2 .2-.5 .2 .4 .3 1.2 .2 1 .2-1.3 .3 .4 .2 .3 .2 .4 .3-1 .2 2.3 .2-1.5 .3 1 .2-1.4 .2 1.4 .3 .1 .2-.9 .2 2.7 .3-1.8 .2 1.6 .2-.9 .3-1.7 .2 .3 .2 .9 .3-.4 .2 0 .2-.4 .3-1.7 .2 1.8 .2-2.2 .3 2.8 .2-1.2 .2 0 .3 .6 .2 .5 .2-1.9 .3-.3 .2 .7 .2-1.1 .3 1.1 .2 2.8 .2-3 .3 1.7 .2-2.4 .2 1.6 .3-1 .2-.1 .2 .4 .3 1.4 .2-1.4 .2 .3 .3-.9 .2 1.9 .2-.7 .3 1.3 .2-.9 .2 2 .3-4 .2 1.9 .2 1.3 .3-1.3 .2-.5 .2 .6 .3-1.2 .2 1.6 .2 2.6 .3-1.4 .2-2.5 .2 .3 .3 .5 .2 1.5 .2-2 .3 .2 .2 1.7 .2 0 .3-1.4 .2-.8 .2-.5 .3 1 .2-1.7 .2 3.3 .3-1.5 .2 1.2 .2 1.5 .3-.8 .2-2.5 .2 2.2 .3 .3 .2-2.1 .2-.2 .3 .9 .2-1.6 .2 3.4 .3-4.3 .2 1.4 .2 1 .3 0 .2 .4 .2 .1 .3-.5 .2 1.5 .2-3.6 .3 2.3 .2-.7 .2 .9 .3 .1 .2-1.3 .2 .3 .3 1.6 .2-.5 .2-1.1 .3 3 .2 .3 .2-4.2 .3 1.9 .2 2.5 .2-1.9 .3-.7 .2-.4 .2-.4 .3 .3 .2-.3 .2 1.4 .3-1.3 .2 0 .2-.9 .3 1.2 .2-.9 .2 .8 .3 1.3 .2-.8 .2 .1 .3-.3 .2-.4 .2-.3 .3-.4 .2 1 .2-2.4 .3 2.2 .2-2 .2-1.4 .3 .2 .2 .2 .2 1.5 .3-.5 .2 2.5 .2-1.9 .3-1.4 .2 1.8 .2-1.3 .3 2.2 .2 1.3 .2-.4 .3-2.2 .2 .7 .2 2.8 .3-1.6 .2-.3 .2 1.1 .3 1.6 .2-1.3 .2-1.3 .3 .3 .2 .2 .2-1.3 .3-.5 .2 1.2 .2-1.1 .3 .9 .2 .2 .2 2.4 .3-3.6 .2 .8 .2-.2 .3 .6 .2 .5 .2-2 .3-.7 .2-1.3 .2 .2 .3 1.1 .2-.6 .2-.8 .3 1.3 .2 .9 .2 .9 .3-.9 .2 .6 .2-1.6 .3 .8 .2 3.1 .2-4.1 .3 2.1 .2 .6 .2-.6 .3-.5 .2 .9 .2 0 .3 0 .2-2 .2 1.9 .3-.8 .2 .4 .2 .8 .3 .5 .2 .3 .2-1.6 .3 1.6 .2 .3 .2-.1 .3 .3 .2-1.7 .2 0 .3 1 .2-2.4 .2 1.7 .3-.8 .2 .1 .2-1.5 .3 .9 .2 .9 .2 .9 .3 0 .2-1.3 .2-.2 .3-1 .2 1.1 .2-1.2 .3 .3 .2 .5 .2-2.6 .3-1.7 .2 1.2 .2 .1 .3 1 .2 3.2 .2-.8 .3-1.7 .2 2.6 .2 .8 .3-1.7 .2-.3 .2 .5 .3 .7 .2 .4 .2 .7 .3 0 .2 0 .2 .2 .3-.7 .2-2.4 .2 1.5 .3 .5 .2-.8 .2 1.5 .3-1.4 .2-.7 .2 2.7 .3-.9 .2-.5 .2 .8 .3 .1 .2-.8 .2-3 .3 1.9 .2 .2 .2-.6 .3 1.3 .2 1.1 .2-1.9 .3-.7 .2 3.5 .2-2.8 .3-.9 .2 1.5 .2 .1 .3-1.4 .2 1.4 .2-1.7 .3-.9 .2 .9 .2 .6 .3-1.3 .2 1.5 .2-.2 .3 3.5 .2-3.7 .2 2.4 .3-1.5 .2 0 .2 1 .3 .2 .2 .5 .2-1 .3-1 .2 0 .2 1.2 .3 .1 .2 .9 .2-1.1 .3 .7 .2 .5 .2-1.4 .3-1.9 .2 .4 .2-.3 .3 3.3 .2-2.6 .2 2.2 .3-.7 .2 1.3 .2-.8 .3-1.2 .2-.1 .2 .3 .3 .1 .2-.8 .2 .6 .3 1.8 .2-3.7 .2 2.2 .3-1.3 .2 1.2 .2 .7 .3-1 .2 .9 .2-2.6 .3 3 .2-1.9 .2 1.4 .3-.5 .2-3.1 .2 2.1 .3 1 .2 1.5 .2-1.4 .3 0 .2-1.9 .2 3.1 .3 .5 .2-2 .2-.3 .3-1.5 .2 2.7 .2 2 .3-2.2 .2 .6 .2-.8 .3-1.7 .2 2.6 .2-2.8 .3 1.1 .2 .5 .2 .7 .3-.6 .2 0 .2-1.3 .3-.6 .2 1.5 .2-.9 .3-.7 .2 0 .2 .9 .3-1.6 .2 .5 .2-.4 .3 1.9 .2 .1 .2 1.5 .3-4.1 .2 .5 .2 1.2 .3-2 .2-.9 .2 1.9 .3-1.9 .2-.2 .2 .6 .3 2.4 .2 .4 .2-1.6 .3 .6 .2 1.8 .2 .2 .3-1.3 .2 1.5 .2 0 .3-2.6 .2 1.7 .2 .8 .3-1.1 .2-1.7 .2 2.1 .3 1.1 .2 .9 .2-4.1 .3 5.3 .2-4.2 .2 2.3 .3 .3 .2-.3 .2-.9 .3-1.5 .2 1.9 .2-1.5 .3-2 .2 5.8 .2-2.5 .3 1.1 .2-3.2 .2 2.3 .3-.3 .2-.6 .2-2.3 .3-1.5 .2 1.4 .2-1.7 .3 1.1 .2 2.4 .2-.9 .3 1.1 .2 .2 .2 2.4 .3-.6 .2-1.4 .2 1.4 .3-2.2 .2 .5 .2 1.4 .3-2.3 .2 1.1 .2-1.2 .3 1.6 .2 1.7 .2-2.6 .3 1 .2-1.2 .2-.3 .3-.1 .2 3 .2 1 .3-2.1 .2-1.3 .2 1.5 .3-1.2 .2 1.2 .2-.6 .3-.1 .2 .3 .2-1.5 .3 0 .2-1.7 .2 1 .3-1.4 .2 1.2 .2-.7 .3 1.5 .2 .8 .2-1.8 .3 .9 .2 0 .2 1.9 .3 1.2 .2-.9 .2-1.3 .3 2 .2-3.2 .2 3.3 .3-2.4 .2-2.3 .2 6 .3-1.2 .2-2.9 .2 1.4 .3-.5 .2 .4 .2-1.8 .3 .9 .2 1.3 .2-.3 .3 1 .2-1.2 .2 2.4 .3-3.4 .2 1.1 .2-2.5 .3 .7 .2 2.7 .2-2.7 .3 1.4 .2-.9 .2-1.5 .3 .2 .2-.7 .2-.2 .3 1.6 .2 .4 .2-.8 .3 .1 .2 1.6 .2-.2 .3 1.4 .2 1.9 .2-1.9 .3-1 .2-.1 .2-.7 .3 0 .2-.1 .2 .7 .3 0 .2 1.3 .2-1.3 .3 .3 .2-1.1" fill="none" stroke="#1f4d97" stroke-width="1.3" stroke-linejoin="round"/><path d="M32.5 611.2l.2-.6 .3 .6 .2-.4 .2 .3 .3-.8 .2 .4 .2 .9 .3-1.7 .2 1 .2 .3 .3-.6 .2 .1 .2 .3 .3-.9 .2 .5 .2-.6 .3 .1 .2 0 .2 .2 .3 .2 .2 .1 .2-.9 .3 1.6 .2-.4 .2-.2 .3-.5 .2 .1 .2 .3 .3 0 .2-1 .2 1.1 .3 1 .2-2.2 .2 1.3 .3-.3 .2-.2 .2 .7 .3-1.2 .2 .6 .2 .6 .3-.8 .2-.1 .2 .3 .3-.3 .2 .9 .2-1.1 .3 .8 .2-1 .2 .9 .3-.4 .2-1.1 .2 1.2 .3-.5 .2 .3 .2 .9 .3-1.3 .2 .1 .2 1.1 .3-.6 .2 .6 .2-.5 .3-.6 .2 .4 .2 .6 .3-.2 .2-.4 .2 0 .3-.1 .2-.2 .2 1.1 .3-.9 .2-.5 .2 .2 .3 .6 .2-.1 .2-.3 .3-.3 .2 .3 .2-.8 .3 .1 .2 1 .2-.7 .3 .4 .2 .4 .2-.3 .3-.4 .2 1 .2-.8 .3-.5 .2 .5 .2-.2 .3-.7 .2 .4 .2-.2 .3-1 .2 .8 .2-.2 .3-.2 .2-.7 .2 .4 .3-.1 .2-.2 .2-.8 .3 .4 .2-1.2 .2-.1 .3 0 .2-1.8 .2-1.1 .3-.9 .2-2.9 .2-3.4 .3-5.2 .2-8.3 .2-15.1 .3-15 .2-4.2 .2 11.7 .3 13.1 .2 7.6 .2 3.5 .3-1.3 .2-3.9 .2-9.1 .3-17.2 .2-26.7 .2-30.7 .3-7 .2 27.5 .2 31.5 .3 20.7 .2 13.4 .2 8.2 .3 4.3 .2 3.7 .2 3 .3 1 .2 1.5 .2 .4 .3 .8 .2 .6 .2 1.6 .3-.9 .2 .1 .2 0 .3 .1 .2 .1 .2-.6 .3 .1 .2-1.8 .2-1.1 .3-3.1 .2-4 .2-7.9 .3-10.5 .2-12.6 .2-2.7 .3 10.1 .2 13.8 .2 7.8 .3 5.1 .2 3.2 .2 2 .3 1.7 .2 .2 .2 .9 .3 1 .2 .4 .2 0 .3 .2 .2 .1 .2 .5 .3 .6 .2-.9 .2 1.2 .3-.3 .2-.6 .2 .4 .3-1.2 .2-.6 .2-.6 .3-1 .2-1.5 .2 .4 .3 2 .2 .3 .2 1.9 .3-.4 .2 .6 .2 .3 .3-.2 .2 0 .2 .2 .3 .5 .2 .3 .2 0 .3-.6 .2 .1 .2 0 .3 .6 .2-1.1 .2 1.5 .3-.8 .2-.1 .2 .5 .3 .3 .2-.3 .2 .4 .3-.4 .2 .5 .2 0 .3-.6 .2 .7 .2-.6 .3 0 .2-.5 .2 .3 .3 .5 .2-.9 .2 .9 .3-.2 .2 0 .2-1.1 .3 1 .2 .3 .2-.6 .3 .4 .2-1.2 .2 1.4 .3-.6 .2 .7 .2-1.2 .3 1.1 .2-.4 .2 .5 .3-.8 .2 .2 .2 1.2 .3-1.3 .2 0 .2 .2 .3-.3 .2 1 .2 .2 .3-1.1 .2-.4 .2 1.3 .3-.1 .2-.1 .2 .2 .3-1 .2 .4 .2-.6 .3 0 .2 1.1 .2-.8 .3 1.3 .2-.9 .2-.4 .3 .7 .2 .4 .2-.6 .3-.7 .2 .7 .2 .4 .3-.8 .2-.1 .2 .8 .3-.4 .2-.6 .2 .3 .3-.2 .2 .5 .2-.1 .3 .5 .2-.2 .2-1.1 .3 .9 .2 .2 .2-.2 .3 .3 .2-.7 .2-.2 .3 .8 .2-.9 .2-.5 .3 1.4 .2-.9 .2 .2 .3-.6 .2 0 .2 0 .3 .2 .2 .1 .2-1.5 .3 .8 .2-1.8 .2-1.6 .3-1.7 .2-2.1 .2 1 .3 4.1 .2 .4 .2 1.4 .3 .5 .2 .9 .2-.7 .3 .8 .2-.7 .2 .9 .3-.8 .2 .2 .2 1.1 .3-.7 .2-.1 .2 .9 .3-.9 .2-.5 .2 .6 .3-.9 .2 1 .2-.1 .3-1 .2-.2 .2 0 .3-.7 .2-1.4 .2-1 .3-4 .2-1.1 .2 1.8 .3 2.7 .2 1.9 .2 .1 .3 1.2 .2-.2 .2-.4 .3-.9 .2-.9 .2-1.3 .3-3.4 .2-.1 .2 3 .3 2.4 .2 1.7 .2 0 .3 .1 .2 1.2 .2-.1 .3 .5 .2-.4 .2 .6 .3-.1 .2-.1 .2 0 .3-.1 .2 0 .2 0 .3 .3 .2-.7 .2 1 .3-.9 .2 .5 .2-.5 .3-.2 .2 1 .2-1.2 .3-.5 .2 .1 .2 .1 .3 .9 .2-1.2 .2 0 .3-1.4 .2-.1 .2-.9 .3-1.1 .2-3.7 .2-3.6 .3-6.8 .2-8.2 .2-1.1 .3 6.4 .2 6.4 .2 6.3 .3 3 .2 1.4 .2 .8 .3 2.1 .2 0 .2 .7 .3 .5 .2-.7 .2 .8 .3-.4 .2 .2 .2 .1 .3 .1 .2 .5 .2-.4 .3-.1 .2 0 .2 .3 .3-.6 .2 .2 .2 .2 .3-.3 .2 .2 .2-.3 .3 1.1 .2-.3 .2-.5 .3-.4 .2 .8 .2-1 .3-.6 .2-.3 .2-.7 .3-.5 .2-2.4 .2-1.9 .3-5.6 .2-3.1 .2 .1 .3 5.5 .2 2.6 .2 2.4 .3 1.6 .2 .7 .2-1 .3-.1 .2-1.5 .2-1.4 .3-3.2 .2-3 .2 .7 .3 3.6 .2 2.8 .2 2.5 .3 1.6 .2-.8 .2 1.3 .3 .1 .2 .7 .2-.6 .3 .5 .2-.4 .2 .7 .3-.4 .2-.3 .2-.1 .3-.8 .2-1.5 .2-.5 .3-2.5 .2-3 .2 0 .3 2.5 .2 1.6 .2 2 .3 2.1 .2 .6 .2-.5 .3 .1 .2 .5 .2 .2 .3-.4 .2 .8 .2-.5 .3 .1 .2 1 .2-.7 .3 .3 .2 .3 .2 .1 .3-.5 .2 .2 .2-.3 .3 1.1 .2-.5 .2-.7 .3 .5 .2 .3 .2-.1 .3 .6 .2-.2 .2-.9 .3 .2 .2-.5 .2 .7 .3 0 .2 1.1 .2-1.2 .3-1 .2 .7 .2 .3 .3-.6 .2 .2 .2 .2 .3 .3 .2-.2 .2-.3 .3 .7 .2-.6 .2 0 .3-.4 .2 .2 .2 .6 .3-1 .2 .6 .2 .3 .3-.6 .2 0 .2-1 .3 .4 .2-1 .2-.6 .3-.1 .2 1.1 .2 1.4 .3 .6 .2-.5 .2 .5 .3-.8 .2 .3 .2 .1 .3 .2 .2-.9 .2 1.1 .3 .2 .2-1.2 .2-.1 .3 .7 .2-.5 .2-.9 .3 1.2 .2-.6 .2-.9 .3 .3 .2-1.5 .2 .2 .3 1.2 .2 .1 .2 .4 .3 .6 .2-.3 .2 0 .3 .9 .2-.5 .2-.4 .3-.6 .2-1 .2-.5 .3-.4 .2 1.9 .2-.5 .3 .8 .2-.3 .2 .6 .3 .5 .2 .4 .2-.9 .3 .3 .2-.2 .2-.2 .3-.3 .2 .5 .2-.9 .3 .7 .2-.2 .2-.6 .3-.5 .2-.6 .2 .9 .3-2.4 .2-.2 .2-3 .3-4.4 .2-5.7 .2-2.2 .3 3.4 .2 4.2 .2 4.2 .3 3 .2 1.2 .2 1.6 .3-.6 .2 .9 .2-.6 .3 1.6 .2-1.3 .2-.7 .3 .7 .2-.3 .2 .3 .3-2 .2-1.4 .2-2.3 .3-3.1 .2-2.7 .2 2.4 .3 3.3 .2 2.1 .2 1.7 .3 .9 .2 .1 .2 1.2 .3-1.1 .2 1.1 .2-.3 .3-.9 .2-.9 .2-.7 .3-1.1 .2-2.4 .2-4.2 .3-6.1 .2-8 .2-1.2 .3 5.5 .2 8.2 .2 4.5 .3 2.6 .2 2.5 .2 .9 .3-.9 .2 1.7 .2-.4 .3 1.3 .2 .7 .2-1.5 .3 0 .2-.6 .2-.6 .3-1.3 .2-2.1 .2-4.6 .3-2.1 .2-.3 .2 4.4 .3 3.7 .2 1.9 .2 .6 .3 .9 .2 .7 .2 .5 .3 .8 .2-.9 .2 .9 .3 .2 .2 .1 .2 0 .3 .5 .2-.4 .2 .2 .3-.2 .2 .6 .2-1.7 .3 1.4 .2-.7 .2-.1 .3-.5 .2-.7 .2 .1 .3-1 .2-.7 .2-1.2 .3 2.4 .2 .6 .2 .4 .3 .1 .2 .2 .2 0 .3 .3 .2 .3 .2-.1 .3-.5 .2 .5 .2-.3 .3 .4 .2 .7 .2-.7 .3-.6 .2-.8 .2-.3 .3-.6 .2 .1 .2-2.1 .3-1.7 .2-1.5 .2 1.5 .3 2.6 .2 .6 .2 1 .3 .4 .2 1.1 .2-.6 .3 .1 .2-.1 .2 .1 .3 .9 .2 1 .2-1.6 .3 .8 .2-.3 .2-.7 .3 .3 .2-.1 .2-.3 .3 1 .2-2.1 .2 .5 .3-.8 .2-1.7 .2-1.7 .3-2.1 .2-.8 .2 2.2 .3 2.4 .2 .3 .2 2.5 .3 .9 .2-.3 .2 .3 .3-1 .2 .7 .2-.3 .3 0 .2 .7 .2-1 .3 .1 .2-1.2 .2 .2 .3-1 .2-2.1 .2-1.9 .3 .7 .2 .4 .2 1.9 .3 1.4 .2 1.7 .2 .9 .3-.5 .2-.3 .2 .3 .3 .8 .2-.8 .2 1.1 .3 0 .2-.6 .2 .2 .3 .1 .2 .3 .2-1.3 .3 .9 .2-.9 .2-.6 .3-.4 .2-1.3 .2-1.2 .3 .6 .2 1.4 .2 1.9 .3 .7 .2-.4 .2 .4 .3-.6 .2 .2 .2 .2 .3-.6 .2 .1 .2 .5 .3-.2 .2-.3 .2 .7 .3-.3 .2 .6 .2-.5 .3-.1 .2 .2 .2-.2 .3-.2 .2 .1 .2 .5 .3-.1 .2 .2 .2-1.4 .3 .5 .2-.1 .2 0 .3-.8 .2-.8 .2-.3 .3-.1 .2 .4 .2 1.8 .3 .2 .2-.5 .2 .8 .3-.6 .2 .9 .2-.6 .3-.3 .2 .2 .2-.1 .3 .4 .2 0 .2-.1 .3-.3 .2-1.5 .2 1.6 .3-1 .2 .7 .2 0 .3-1 .2-1.3 .2-.1 .3 .9 .2 .6 .2 .4 .3 .1 .2 1.1 .2-.4 .3 .4 .2-.5 .2 .1 .3-.1 .2 .2 .2 0 .3-.5 .2-.9 .2-.9 .3 .3 .2-.7 .2 .9 .3 1.5 .2 .2 .2 0 .3-.4 .2 1.3 .2-.9 .3 0 .2-.6 .2-.9 .3-.6 .2-.2 .2-.2 .3 .6 .2 .4 .2 .3 .3 .8 .2-.3 .2 1.1 .3 .2 .2 .8 .2-.8 .3-.7 .2-.1 .2-1.1 .3 1.3 .2 .2 .2 .5 .3-.2 .2 0 .2-.1 .3 .2 .2 .3 .2-1.1 .3 .3 .2-.5 .2 1.4 .3-.1 .2-.3 .2-.9 .3 .7 .2-.2 .2 .1 .3-.1 .2 .3 .2-.4 .3 .6 .2-.3 .2-.3 .3 .1 .2-.1 .2 .5 .3-.5 .2 .3 .2-.3 .3-.5 .2 1 .2-.9 .3 .8 .2-.1 .2-.9 .3 .3 .2 .1 .2-.1 .3-.2 .2 .8 .2-.4 .3 .2 .2-.4 .2 .2 .3-.6 .2 0 .2-.1 .3-1 .2-1.5 .2-1 .3 1.3 .2 1.3 .2 .5 .3 .2 .2 .8 .2 1.1 .3-1.2 .2 .3 .2 .1 .3-1.3 .2 1.2 .2-.3 .3 .9 .2-.7 .2-.2 .3 .2 .2 .2 .2-.3 .3 .2 .2-.6 .2 .5 .3 .5 .2 .5 .2-.6 .3-.2 .2 .4 .2-.1 .3 .3 .2-.3 .2-.6 .3 .1 .2-.2 .2-.2 .3-.4 .2-1.1 .2-1.6 .3 .4 .2 .3 .2 1.7 .3 .5 .2-.5 .2 1.2 .3 .2 .2-.3 .2 .7 .3 .1 .2-1.3 .2 1 .3-.3 .2 0 .2 .2 .3-.8 .2 0 .2-.1 .3-.1 .2 .1 .2-.9 .3-.4 .2-.2 .2-.9 .3 .8 .2-.1 .2 1 .3 .5 .2 .4 .2-.1 .3 .7 .2-.4 .2 .1 .3 0 .2 .3 .2-.5 .3 .7 .2-.3 .2-.1 .3-.1 .2 .2 .2 .2 .3-.1 .2-.3 .2 .1 .3-.4 .2 .3 .2-1 .3-1.6 .2 .6 .2-.8 .3 .3 .2 1.2 .2 .2 .3 1.6 .2-.6 .2-.9 .3 1 .2-.4 .2 1 .3-1.3 .2-.7 .2 .9 .3-.4 .2-.5 .2-1.6 .3 .3 .2 .8 .2-.7 .3 2.1 .2-.4 .2 1.5 .3-.7 .2-.2 .2 .7 .3-.3 .2-.4 .2 .6 .3-.6 .2-.5 .2 1.7 .3-1.1 .2-.1 .2 .4 .3-.9 .2 .1 .2 .4 .3-.1 .2 .2 .2 .3 .3-.9 .2 .1 .2-.6 .3-1.1 .2 .9 .2 .1 .3 1.3 .2-.1 .2 0 .3-.6 .2 .7 .2-.3 .3 .7 .2-.4 .2-.3 .3 .8 .2-.1 .2-.6 .3 .8 .2-.7 .2 0 .3 .2 .2-.4 .2 .1 .3 .1 .2 .8 .2-.1 .3-.8 .2 .8 .2-.9 .3 0 .2-.2 .2-.9 .3 .6 .2-.6 .2 0 .3 1.5 .2-.6 .2 .2 .3-1.1 .2 1.8 .2-.1 .3 .1 .2 .1 .2 .3 .3-.8 .2 .5 .2-.8 .3 .2 .2 .6 .2-.3 .3-.7 .2 .7 .2-.2 .3-.3 .2 .5 .2-.3 .3-.6 .2 .2 .2 1.3 .3-1.5 .2 .8 .2 .2 .3 0 .2-.9 .2 .4 .3 .2 .2 .3 .2-.6 .3-.3 .2 .9 .2 0 .3-.3 .2-.6 .2 .4 .3-.3 .2 0 .2-1.5 .3-.3 .2-1.3 .2-.8 .3 1.7 .2 1 .2 .5 .3 .7 .2-.7 .2 .8 .3 .3 .2-.1 .2 .4 .3-1 .2-.2 .2 .7 .3-.1 .2 .5 .2-1.3 .3-1.2 .2 .9 .2-.1 .3 .2 .2 2.1 .2-.9 .3 .3 .2-.1 .2 .6 .3-.6 .2 .4 .2-1 .3-.2 .2 1.3 .2 0 .3-.4 .2-.2 .2 0 .3-.4 .2 .9 .2-.4 .3-.2 .2-.2 .2 0 .3-.6 .2-.7 .2-2.1 .3 0 .2 1.6 .2-.1 .3 1 .2 .9 .2 .3 .3 0 .2-1 .2 1.1 .3-.8 .2 .2 .2 .7 .3-.4 .2 .5 .2 1.1 .3-1.1 .2 0 .2-.7 .3 .1 .2-.2 .2 .3 .3-.3 .2 .2 .2 .2 .3-.4 .2-.1 .2 0 .3 .8 .2-.2 .2 .4 .3 0 .2-.6 .2 .4 .3-1 .2 1.7 .2-.6 .3-.8 .2-.6 .2 .3 .3-1.6 .2 .1 .2 1.1 .3 .3 .2 .1 .2 .8 .3-.7 .2 .6 .2-.3 .3-.1 .2 .6 .2-.6 .3 1.3 .2-1.1 .2 1.2 .3-1.4 .2 .7 .2-.8 .3 0 .2 .7 .2 .2 .3-.9 .2 1.1 .2-.9 .3 .4 .2 .2 .2 0 .3-1 .2 1.5 .2-.5 .3-.4 .2-.3 .2-.3 .3 .2 .2 .8 .2-.4 .3-.3 .2 .2 .2 1 .3-.9 .2-.1 .2 .9 .3-.4 .2-.2 .2-.3 .3-.5 .2 .2 .2 .3 .3 .1 .2 .3 .2 .1 .3-.2 .2 0 .2-.5 .3-.6 .2 .8 .2-.2 .3 .1 .2 .1 .2-.4 .3 0 .2 .4 .2 0 .3-.4 .2 .3 .2-.7 .3-.9 .2-.3 .2 .6 .3-.4 .2 1.5 .2 .5 .3 .3 .2-1 .2 1.4 .3-.8 .2-.1 .2 0 .3 .4 .2-.2 .2-.1 .3 .6 .2-.9 .2-.1 .3 .8 .2 0 .2 .1 .3-.9 .2 .9 .2-.3 .3 .6 .2-1.4 .2 .7 .3-.3 .2-.6 .2 .4 .3 .7 .2-.8 .2-.4 .3 .4 .2-.6 .2-.4 .3-.4 .2 1 .2 .8 .3-.5 .2 .1 .2 .7 .3 .4 .2-1.2 .2-.6 .3 .5 .2 .2 .2 .4 .3 .4 .2-.3 .2-.3 .3 .4 .2-.5 .2 .4 .3-.3 .2 1.5 .2-.8 .3-.7 .2-.1 .2 .2 .3-.5 .2 .4 .2 0 .3 .7 .2-.6 .2-.1 .3-.3 .2 .1 .2 .5 .3-.1 .2 .6 .2-.8 .3 .8 .2-.4 .2-.1 .3-.9 .2 .3 .2 .9 .3 .3 .2-.6 .2 .3 .3-.6 .2 0 .2-.2 .3 .6 .2-.5 .2-.5 .3-.6 .2-.2 .2 0 .3 .1 .2 1.7 .2-.4 .3 0 .2 .7 .2-.1 .3-.5 .2 .3 .2-.7 .3 .2 .2-.7 .2 1.6 .3-1.4 .2 1.1 .2-.6 .3-.1 .2 .4 .2 .2 .3 .1 .2 .5 .2-.6 .3 .2 .2-.6 .2 .5 .3-.2 .2-.3 .2 .2 .3 0 .2 .1 .2 .1 .3-.5 .2-.1 .2 .6 .3-1.2 .2 .4 .2 .8 .3-2.2 .2 .4 .2 0 .3-.9 .2 2.5 .2-1.8 .3 2 .2 .2 .2-.2 .3-.4 .2 .3 .2-.6 .3 .8 .2-.8 .2 .3 .3 .6 .2-.9 .2 .3 .3 .3 .2-.7 .2 1.1 .3-.4 .2-.8 .2 .7 .3-.4 .2 .1 .2 .3 .3-.3 .2 .7 .2-.7 .3 .7 .2-.4 .2 .4 .3-.7 .2 0 .2-.2 .3 .7 .2 .2 .2 .5 .3-.4 .2-.4 .2-.3 .3 .3 .2-.2 .2 .6 .3-.2 .2-.9 .2 0 .3 .8 .2-.6 .2-.6 .3 .1 .2-1.2 .2 .2 .3 .5 .2-.2 .2 1.5 .3-.8 .2 .4 .2 0 .3 .7 .2-.4 .2 .1 .3-.8 .2 .8 .2-.7 .3 .9 .2 0 .2-.2 .3 .9 .2-.6 .2 0 .3-.2 .2-.2 .2 .6 .3 0 .2-1.1 .2 1.1 .3-.2 .2 .2 .2-.3 .3-.7 .2 0 .2 1.3 .3-.7 .2-.7 .2 .8 .3-.3 .2-.7 .2-.2 .3 .3 .2 .8 .2-.1 .3-.1 .2 .2 .2 .2 .3-1.2 .2 .8 .2-.3 .3-.1 .2 .3 .2 .1 .3 0 .2-.6 .2 .5 .3 1.1 .2-1.4 .2-.3 .3 .9 .2 .2" fill="none" stroke="#c0232d" stroke-width="1.1" stroke-linejoin="round"/><rect x="32.5" y="344.2" width="350" height="281.3" fill="none" stroke="#111" stroke-width="1.3" /><line x1="71.4" y1="625.5" x2="71.4" y2="620.5" stroke="#000" stroke-width="1" /><text x="71.4" y="644.6" font-size="14" text-anchor="middle" fill="#000" >10</text><line x1="149.2" y1="625.5" x2="149.2" y2="620.5" stroke="#000" stroke-width="1" /><text x="149.2" y="644.6" font-size="14" text-anchor="middle" fill="#000" >20</text><line x1="226.9" y1="625.5" x2="226.9" y2="620.5" stroke="#000" stroke-width="1" /><text x="226.9" y="644.6" font-size="14" text-anchor="middle" fill="#000" >30</text><line x1="304.7" y1="625.5" x2="304.7" y2="620.5" stroke="#000" stroke-width="1" /><text x="304.7" y="644.6" font-size="14" text-anchor="middle" fill="#000" >40</text><line x1="382.5" y1="625.5" x2="382.5" y2="620.5" stroke="#000" stroke-width="1" /><text x="382.5" y="644.6" font-size="14" text-anchor="middle" fill="#000" >50</text><line x1="32.5" y1="625.5" x2="32.5" y2="622.5" stroke="#000" stroke-width="1" /><line x1="110.3" y1="625.5" x2="110.3" y2="622.5" stroke="#000" stroke-width="1" /><line x1="188.1" y1="625.5" x2="188.1" y2="622.5" stroke="#000" stroke-width="1" /><line x1="265.8" y1="625.5" x2="265.8" y2="622.5" stroke="#000" stroke-width="1" /><line x1="343.6" y1="625.5" x2="343.6" y2="622.5" stroke="#000" stroke-width="1" /><line x1="282.5" y1="363.5" x2="314.7" y2="363.5" stroke="#1f4d97" stroke-width="1.3" /><line x1="282.5" y1="383.3" x2="314.7" y2="383.3" stroke="#c0232d" stroke-width="1.3" /><text x="319.5" y="369.5" font-size="17" text-anchor="start" fill="#000" >PXRD</text><text x="319.5" y="389.3" font-size="17" text-anchor="start" fill="#000" >SCXRD</text><text x="207.8" y="661.5" font-size="17.4" text-anchor="middle" fill="#000" >2<tspan font-style="italic">θ</tspan> (degree)</text><text x="19" y="479" font-size="17.6" text-anchor="middle" fill="#000" transform="rotate(-90 19 479)">Intensity (a.u.)</text><text x="430" y="354" font-size="17" text-anchor="start" fill="#000" >c</text><path d="M458.9 460l1.7 0 1.8 0 1.7 0 1.8 0 1.7 0 1.8 0 1.7 0 1.8 0 1.7 0 1.8 0 1.7 0 1.8 0 1.7 0 1.7 0 1.8 0 1.7 0 1.8 0 1.7 0 1.8 0 1.7 0 1.8 0 1.7 0 1.8 0 1.7 0 1.7 0 1.8 0 1.7 0 1.8 0 1.7 0 1.8 0 1.7 0 1.8 0 1.7 0 1.8 0 1.7 0 1.8 0 1.7 0 1.7 0 1.8 0 1.7 0 1.8 0 1.7 0 1.8 0 1.7 0 1.8 0 1.7 0 1.8 0 1.7 0 1.8 0 1.7 0 1.7 0 1.8-.1 1.7 0 1.8-.1 1.7 0 1.8-.1 1.7-.1 1.8-.1 1.7-.1 1.8-.2 1.7-.1 1.8-.3 1.7-.2 1.7-.3 1.8-.3 1.7-.4 1.8-.5 1.7-.5 1.8-.5 1.7-.7 1.8-.7 1.7-.7 1.8-.9 1.7-.9 1.7-.9 1.8-1.1 1.7-1.1 1.8-1.1 1.7-1.2 1.8-1.2 1.7-1.2 1.8-1.3 1.7-1.2 1.8-1.2 1.7-1.2 1.8-1.1 1.7-1.1 1.7-.9 1.8-.9 1.7-.8 1.8-.6 1.7-.5 1.8-.3 1.7-.2 1.8 0 1.7 .1 1.8 .3 1.7 .5 1.8 .6 1.7 .7 1.7 .9 1.8 .9 1.7 1.1 1.8 1.2 1.7 1.2 1.8 1.3 1.7 1.3 1.8 1.4 1.7 1.3 1.8 1.4 1.7 1.3 1.8 1.3 1.7 1.2 1.7 1.2 1.8 1.1 1.7 1.1 1.8 1 1.7 .9 1.8 .9 1.7 .8 1.8 .7 1.7 .7 1.8 .6 1.7 .5 1.7 .5 1.8 .4 1.7 .4 1.8 .3 1.7 .3 1.8 .2 1.7 .2 1.8 .2 1.7 .2 1.8 .1 1.7 .2 1.8 .1 1.7 .1 1.7 .1 1.8 0 1.7 .1 1.8 .1 1.7 0 1.8 .1 1.7 0 1.8 .1 1.7 0 1.8 0 1.7 .1 1.8 0 1.7 0 1.7 0 1.8 .1 1.7 0 1.8 0 1.7 0 1.8 0 1.7 .1 1.8 0 1.7 0 1.8 0 1.7 0 1.8 0 1.7 0 1.7 0 1.8 .1 1.7 0 1.8 0 1.7 0 1.8 0 1.7 0 1.8 0 1.7 0 1.8 0 1.7 0 1.7 0 1.8 0 1.7 0 1.8 0 1.7 0 1.8 0 1.7 0 1.8 .1 1.7 0 1.8 0 1.7 0 1.8 0 1.7 0 1.7 0 1.8 0 1.7 0 1.8 0 1.7 0 1.8 0 1.7 0 1.8 0 1.7 0 1.8 0 1.7 0 1.8 0 1.7 0L808.1 464.8l-7 0-7 0-7 0-6.9 0-7-.1-7 0-7 0-7 0-7-.1-6.9 0-7-.1-7 0-7-.1-7-.2-7-.1-6.9-.2-7-.2-7-.2-7-.3-7-.3-7-.3-6.9-.3-7-.3-7-.3-7-.3-7-.3-7-.2-7-.2-6.9-.1-7-.1-7-.1-7-.1-7-.1-7 0-6.9-.1-7 0-7 0-7 0-7-.1-7 0-6.9 0-7 0-7 0-7 0-7 0-7 0-6.9 0-7 0-7 0-7 0Z" fill="#fbf3d9" fill-opacity="0.75" stroke="none"/><path d="M458.9 460l1.7 0 1.8 0 1.7 0 1.8 0 1.7 0 1.8 0 1.7 0 1.8 0 1.7 0 1.8 0 1.7 0 1.8 0 1.7 0 1.7 0 1.8 0 1.7 0 1.8 0 1.7 0 1.8 0 1.7 0 1.8 0 1.7 0 1.8 0 1.7 0 1.7 0 1.8 0 1.7 0 1.8 0 1.7 0 1.8 0 1.7 0 1.8 0 1.7 0 1.8 0 1.7 0 1.8 0 1.7 0 1.7 0 1.8 0 1.7 0 1.8 0 1.7 0 1.8 0 1.7 0 1.8 0 1.7 0 1.8 .1 1.7 0 1.8 0 1.7 0 1.7 0 1.8 0 1.7 0 1.8 0 1.7 0 1.8 0 1.7 0 1.8-.1 1.7 0 1.8 0 1.7 0 1.8 0 1.7 0 1.7-.1 1.8 0 1.7-.1 1.8 0 1.7-.1 1.8-.1 1.7-.1 1.8-.2 1.7-.1 1.8-.2 1.7-.2 1.7-.2 1.8-.3 1.7-.3 1.8-.3 1.7-.4 1.8-.4 1.7-.5 1.8-.5 1.7-.6 1.8-.6 1.7-.7 1.8-.8 1.7-.8 1.7-.8 1.8-.9 1.7-1 1.8-1 1.7-1.1 1.8-1.1 1.7-1.1 1.8-1.2 1.7-1.2 1.8-1.2 1.7-1.2 1.8-1.2 1.7-1.2 1.7-1.1 1.8-1.1 1.7-1.1 1.8-1 1.7-.9 1.8-.8 1.7-.8 1.8-.6 1.7-.5 1.8-.4 1.7-.3 1.8-.2 1.7 0 1.7 .1 1.8 .2 1.7 .4 1.8 .5 1.7 .6 1.8 .7 1.7 .8 1.8 1 1.7 1 1.8 1.1 1.7 1.1 1.7 1.2 1.8 1.3 1.7 1.3 1.8 1.3 1.7 1.3 1.8 1.3 1.7 1.4 1.8 1.3 1.7 1.2 1.8 1.3 1.7 1.1 1.8 1.2 1.7 1.1 1.7 1 1.8 1 1.7 .9 1.8 .9 1.7 .8 1.8 .7 1.7 .7 1.8 .6 1.7 .6 1.8 .5 1.7 .5 1.8 .4 1.7 .4 1.7 .3 1.8 .3 1.7 .3 1.8 .2 1.7 .2 1.8 .2 1.7 .1 1.8 .2 1.7 .1 1.8 .1 1.7 .1 1.8 0 1.7 .1 1.7 0 1.8 .1 1.7 0 1.8 .1 1.7 0 1.8 0 1.7 0 1.8 .1 1.7 0 1.8 0 1.7 0 1.7 0 1.8 0 1.7 0 1.8 0 1.7 0 1.8 0 1.7 0 1.8 0 1.7 .1 1.8 0 1.7 0 1.8 0 1.7 0 1.7 0 1.8 0 1.7 0 1.8 0 1.7 0 1.8 0 1.7 0 1.8 0 1.7 0 1.8 0 1.7 0 1.8 0 1.7 0L808.1 464.8l-7 0-7 0-7 0-6.9 0-7-.1-7 0-7 0-7 0-7-.1-6.9 0-7-.1-7 0-7-.1-7-.2-7-.1-6.9-.2-7-.2-7-.2-7-.3-7-.3-7-.3-6.9-.3-7-.3-7-.3-7-.3-7-.3-7-.2-7-.2-6.9-.1-7-.1-7-.1-7-.1-7-.1-7 0-6.9-.1-7 0-7 0-7 0-7-.1-7 0-6.9 0-7 0-7 0-7 0-7 0-7 0-6.9 0-7 0-7 0-7 0Z" fill="#efe6f4" fill-opacity="0.75" stroke="none"/><path d="M458.9 460l1.7 0 1.8 0 1.7 0 1.8 0 1.7 0 1.8 0 1.7 0 1.8 0 1.7 0 1.8 0 1.7 0 1.8 0 1.7 0 1.7 0 1.8 0 1.7 0 1.8 0 1.7 0 1.8 0 1.7 0 1.8 0 1.7 0 1.8 0 1.7 0 1.7 0 1.8 0 1.7 0 1.8 0 1.7 0 1.8 0 1.7 0 1.8 0 1.7 0 1.8 0 1.7 0 1.8 0 1.7 0 1.7 0 1.8 0 1.7 0 1.8 0 1.7 0 1.8 0 1.7 0 1.8 0 1.7 .1 1.8 0 1.7 0 1.8 0 1.7 0 1.7 0 1.8 0 1.7 0 1.8 0 1.7 0 1.8 0 1.7 0 1.8 0 1.7 0 1.8 0 1.7 0 1.8 .1 1.7 0 1.7 0 1.8 0 1.7 0 1.8 0 1.7 0 1.8 0 1.7 0 1.8 .1 1.7 0 1.8 0 1.7 0 1.7 0 1.8 0 1.7 .1 1.8 0 1.7 0 1.8 0 1.7 0 1.8 0 1.7 0 1.8-.1 1.7 0 1.8 0 1.7-.1 1.7-.1 1.8-.1 1.7-.2 1.8-.2 1.7-.2 1.8-.3 1.7-.3 1.8-.4 1.7-.5 1.8-.5 1.7-.6 1.8-.7 1.7-.8 1.7-.9 1.8-.9 1.7-1 1.8-1.1 1.7-1.2 1.8-1.2 1.7-1.2 1.8-1.3 1.7-1.4 1.8-1.3 1.7-1.2 1.8-1.3 1.7-1.1 1.7-1.1 1.8-1 1.7-.8 1.8-.7 1.7-.6 1.8-.3 1.7-.2 1.8 0 1.7 .2 1.8 .4 1.7 .6 1.7 .7 1.8 .9 1.7 1 1.8 1.2 1.7 1.2 1.8 1.4 1.7 1.4 1.8 1.4 1.7 1.4 1.8 1.5 1.7 1.4 1.8 1.4 1.7 1.3 1.7 1.2 1.8 1.2 1.7 1.1 1.8 1 1.7 1 1.8 .8 1.7 .8 1.8 .7 1.7 .6 1.8 .5 1.7 .4 1.8 .4 1.7 .4 1.7 .3 1.8 .2 1.7 .2 1.8 .2 1.7 .1 1.8 .2 1.7 .1 1.8 0 1.7 .1 1.8 .1 1.7 0 1.8 0 1.7 .1 1.7 0 1.8 0 1.7 0 1.8 .1 1.7 0 1.8 0 1.7 0 1.8 0 1.7 0 1.8 0 1.7 0 1.7 0 1.8 0 1.7 0 1.8 0 1.7 0 1.8 0 1.7 0 1.8 .1 1.7 0 1.8 0 1.7 0 1.8 0 1.7 0 1.7 0 1.8 0 1.7 0 1.8 0 1.7 0 1.8 0 1.7 0 1.8 0 1.7 0 1.8 0 1.7 0 1.8 0 1.7 0L808.1 464.8l-7 0-7 0-7 0-6.9 0-7-.1-7 0-7 0-7 0-7-.1-6.9 0-7-.1-7 0-7-.1-7-.2-7-.1-6.9-.2-7-.2-7-.2-7-.3-7-.3-7-.3-6.9-.3-7-.3-7-.3-7-.3-7-.3-7-.2-7-.2-6.9-.1-7-.1-7-.1-7-.1-7-.1-7 0-6.9-.1-7 0-7 0-7 0-7-.1-7 0-6.9 0-7 0-7 0-7 0-7 0-7 0-6.9 0-7 0-7 0-7 0Z" fill="#cfd9ec" fill-opacity="0.75" stroke="none"/><path d="M458.9 460l1.7 0 1.8 0 1.7 0 1.8 0 1.7 0 1.8 0 1.7 0 1.8 0 1.7 0 1.8 0 1.7 0 1.8 0 1.7 0 1.7 0 1.8 0 1.7 0 1.8 0 1.7 0 1.8 0 1.7 0 1.8 0 1.7 0 1.8 0 1.7 0 1.7 0 1.8 0 1.7 0 1.8 0 1.7 0 1.8 0 1.7 0 1.8 0 1.7 0 1.8 0 1.7 0 1.8 0 1.7 0 1.7 0 1.8 0 1.7 0 1.8 0 1.7 0 1.8 0 1.7 0 1.8 0 1.7 .1 1.8 0 1.7 0 1.8 0 1.7 0 1.7 0 1.8 0 1.7 0 1.8 0 1.7 0 1.8 0 1.7 0 1.8 0 1.7 0 1.8 0 1.7 0 1.8 .1 1.7 0 1.7 0 1.8 0 1.7 0 1.8 0 1.7 0 1.8 0 1.7 .1 1.8 0 1.7 0 1.8 0 1.7 0 1.7 0 1.8 .1 1.7 0 1.8 0 1.7 0 1.8 .1 1.7 0 1.8 0 1.7 0 1.8 .1 1.7 0 1.8 0 1.7 0 1.7 0 1.8 0 1.7 0 1.8 0 1.7 0 1.8-.1 1.7 0 1.8-.1 1.7-.2 1.8-.2 1.7-.2 1.8-.3 1.7-.4 1.7-.4 1.8-.6 1.7-.6 1.8-.8 1.7-.8 1.8-1 1.7-1.1 1.8-1.2 1.7-1.4 1.8-1.4 1.7-1.6 1.8-1.7 1.7-1.8 1.7-1.8 1.8-1.9 1.7-1.8 1.8-1.9 1.7-1.8 1.8-1.7 1.7-1.6 1.8-1.4 1.7-1.3 1.8-1 1.7-.8 1.7-.5 1.8-.3 1.7 0 1.8 .3 1.7 .6 1.8 .9 1.7 1 1.8 1.4 1.7 1.5 1.8 1.6 1.7 1.8 1.8 1.9 1.7 2 1.7 2 1.8 2 1.7 1.9 1.8 1.9 1.7 1.9 1.8 1.7 1.7 1.6 1.8 1.5 1.7 1.4 1.8 1.2 1.7 1.2 1.8 1 1.7 .8 1.7 .8 1.8 .7 1.7 .5 1.8 .5 1.7 .4 1.8 .4 1.7 .2 1.8 .3 1.7 .2 1.8 .1 1.7 .1 1.8 .1 1.7 .1 1.7 .1 1.8 0 1.7 .1 1.8 0 1.7 0 1.8 .1 1.7 0 1.8 0 1.7 0 1.8 0 1.7 0 1.7 0 1.8 0 1.7 0 1.8 0 1.7 0 1.8 0 1.7 0 1.8 .1 1.7 0 1.8 0 1.7 0 1.8 0 1.7 0 1.7 0 1.8 0 1.7 0 1.8 0 1.7 0 1.8 0 1.7 0 1.8 0 1.7 0 1.8 0 1.7 0 1.8 0 1.7 0L808.1 464.8l-7 0-7 0-7 0-6.9 0-7-.1-7 0-7 0-7 0-7-.1-6.9 0-7-.1-7 0-7-.1-7-.2-7-.1-6.9-.2-7-.2-7-.2-7-.3-7-.3-7-.3-6.9-.3-7-.3-7-.3-7-.3-7-.3-7-.2-7-.2-6.9-.1-7-.1-7-.1-7-.1-7-.1-7 0-6.9-.1-7 0-7 0-7 0-7-.1-7 0-6.9 0-7 0-7 0-7 0-7 0-7 0-6.9 0-7 0-7 0-7 0Z" fill="#fde3e3" fill-opacity="0.75" stroke="none"/><path d="M458.9 460l1.7 0 1.8 0 1.7 0 1.8 0 1.7 0 1.8 0 1.7 0 1.8 0 1.7 0 1.8 0 1.7 0 1.8 0 1.7 0 1.7 0 1.8 0 1.7 0 1.8 0 1.7 0 1.8 0 1.7 0 1.8 0 1.7 0 1.8 0 1.7 0 1.7 0 1.8 0 1.7 0 1.8 0 1.7 0 1.8 0 1.7 0 1.8 0 1.7 0 1.8 0 1.7 0 1.8 0 1.7 0 1.7 0 1.8 0 1.7 0 1.8 0 1.7 0 1.8 0 1.7 0 1.8 0 1.7 0 1.8 0 1.7 0 1.8 0 1.7 0 1.7 0 1.8 0 1.7 0 1.8-.1 1.7 0 1.8-.1 1.7-.1 1.8-.1 1.7-.1 1.8-.1 1.7-.1 1.8-.2 1.7-.2 1.7-.2 1.8-.3 1.7-.3 1.8-.2 1.7-.3 1.8-.3 1.7-.3 1.8-.2 1.7-.3 1.8-.2 1.7-.2 1.7-.1 1.8-.1 1.7 0 1.8 0 1.7 .1 1.8 .1 1.7 .2 1.8 .2 1.7 .3 1.8 .3 1.7 .3 1.8 .3 1.7 .4 1.7 .3 1.8 .3 1.7 .4 1.8 .3 1.7 .2 1.8 .3 1.7 .2 1.8 .3 1.7 .2 1.8 .1 1.7 .2 1.8 .1 1.7 .2 1.7 .1 1.8 .1 1.7 .1 1.8 .1 1.7 .1 1.8 .1 1.7 .1 1.8 .1 1.7 0 1.8 .1 1.7 .1 1.8 .1 1.7 .1 1.7 .1 1.8 0 1.7 .1 1.8 .1 1.7 .1 1.8 0 1.7 .1 1.8 .1 1.7 .1 1.8 0 1.7 .1 1.7 .1 1.8 .1 1.7 0 1.8 .1 1.7 .1 1.8 0 1.7 .1 1.8 0 1.7 .1 1.8 0 1.7 .1 1.8 0 1.7 .1 1.7 0 1.8 .1 1.7 0 1.8 0 1.7 .1 1.8 0 1.7 0 1.8 .1 1.7 0 1.8 0 1.7 .1 1.8 0 1.7 0 1.7 0 1.8 .1 1.7 0 1.8 0 1.7 0 1.8 0 1.7 .1 1.8 0 1.7 0 1.8 0 1.7 0 1.8 0 1.7 0 1.7 0 1.8 .1 1.7 0 1.8 0 1.7 0 1.8 0 1.7 0 1.8 0 1.7 0 1.8 0 1.7 0 1.7 0 1.8 0 1.7 0 1.8 0 1.7 0 1.8 0 1.7 0 1.8 .1 1.7 0 1.8 0 1.7 0 1.8 0 1.7 0 1.7 0 1.8 0 1.7 0 1.8 0 1.7 0 1.8 0 1.7 0 1.8 0 1.7 0 1.8 0 1.7 0 1.8 0 1.7 0" fill="none" stroke="#2aa6a0" stroke-width="1.1"/><path d="M458.9 460l1.7 0 1.8 0 1.7 0 1.8 0 1.7 0 1.8 0 1.7 0 1.8 0 1.7 0 1.8 0 1.7 0 1.8 0 1.7 0 1.7 0 1.8 0 1.7 0 1.8 0 1.7 0 1.8 0 1.7 0 1.8 0 1.7 0 1.8 0 1.7 0 1.7 0 1.8 0 1.7 0 1.8 0 1.7 0 1.8 0 1.7 0 1.8 0 1.7 0 1.8 0 1.7 0 1.8 0 1.7 0 1.7 0 1.8 0 1.7 0 1.8 0 1.7 0 1.8 0 1.7 0 1.8 0 1.7 0 1.8 0 1.7 0 1.8 0 1.7 0 1.7 0 1.8-.1 1.7 0 1.8-.1 1.7 0 1.8-.1 1.7-.1 1.8-.1 1.7-.1 1.8-.2 1.7-.1 1.8-.3 1.7-.2 1.7-.3 1.8-.3 1.7-.4 1.8-.5 1.7-.5 1.8-.5 1.7-.7 1.8-.7 1.7-.7 1.8-.9 1.7-.9 1.7-.9 1.8-1.1 1.7-1.1 1.8-1.1 1.7-1.2 1.8-1.2 1.7-1.2 1.8-1.3 1.7-1.2 1.8-1.2 1.7-1.2 1.8-1.1 1.7-1.1 1.7-.9 1.8-.9 1.7-.8 1.8-.6 1.7-.5 1.8-.3 1.7-.2 1.8 0 1.7 .1 1.8 .3 1.7 .5 1.8 .6 1.7 .7 1.7 .9 1.8 .9 1.7 1.1 1.8 1.2 1.7 1.2 1.8 1.3 1.7 1.3 1.8 1.4 1.7 1.3 1.8 1.4 1.7 1.3 1.8 1.3 1.7 1.2 1.7 1.2 1.8 1.1 1.7 1.1 1.8 1 1.7 .9 1.8 .9 1.7 .8 1.8 .7 1.7 .7 1.8 .6 1.7 .5 1.7 .5 1.8 .4 1.7 .4 1.8 .3 1.7 .3 1.8 .2 1.7 .2 1.8 .2 1.7 .2 1.8 .1 1.7 .2 1.8 .1 1.7 .1 1.7 .1 1.8 0 1.7 .1 1.8 .1 1.7 0 1.8 .1 1.7 0 1.8 .1 1.7 0 1.8 0 1.7 .1 1.8 0 1.7 0 1.7 0 1.8 .1 1.7 0 1.8 0 1.7 0 1.8 0 1.7 .1 1.8 0 1.7 0 1.8 0 1.7 0 1.8 0 1.7 0 1.7 0 1.8 .1 1.7 0 1.8 0 1.7 0 1.8 0 1.7 0 1.8 0 1.7 0 1.8 0 1.7 0 1.7 0 1.8 0 1.7 0 1.8 0 1.7 0 1.8 0 1.7 0 1.8 .1 1.7 0 1.8 0 1.7 0 1.8 0 1.7 0 1.7 0 1.8 0 1.7 0 1.8 0 1.7 0 1.8 0 1.7 0 1.8 0 1.7 0 1.8 0 1.7 0 1.8 0 1.7 0" fill="none" stroke="#c9a227" stroke-width="1.1"/><path d="M458.9 460l1.7 0 1.8 0 1.7 0 1.8 0 1.7 0 1.8 0 1.7 0 1.8 0 1.7 0 1.8 0 1.7 0 1.8 0 1.7 0 1.7 0 1.8 0 1.7 0 1.8 0 1.7 0 1.8 0 1.7 0 1.8 0 1.7 0 1.8 0 1.7 0 1.7 0 1.8 0 1.7 0 1.8 0 1.7 0 1.8 0 1.7 0 1.8 0 1.7 0 1.8 0 1.7 0 1.8 0 1.7 0 1.7 0 1.8 0 1.7 0 1.8 0 1.7 0 1.8 0 1.7 0 1.8 0 1.7 0 1.8 .1 1.7 0 1.8 0 1.7 0 1.7 0 1.8 0 1.7 0 1.8 0 1.7 0 1.8 0 1.7 0 1.8-.1 1.7 0 1.8 0 1.7 0 1.8 0 1.7 0 1.7-.1 1.8 0 1.7-.1 1.8 0 1.7-.1 1.8-.1 1.7-.1 1.8-.2 1.7-.1 1.8-.2 1.7-.2 1.7-.2 1.8-.3 1.7-.3 1.8-.3 1.7-.4 1.8-.4 1.7-.5 1.8-.5 1.7-.6 1.8-.6 1.7-.7 1.8-.8 1.7-.8 1.7-.8 1.8-.9 1.7-1 1.8-1 1.7-1.1 1.8-1.1 1.7-1.1 1.8-1.2 1.7-1.2 1.8-1.2 1.7-1.2 1.8-1.2 1.7-1.2 1.7-1.1 1.8-1.1 1.7-1.1 1.8-1 1.7-.9 1.8-.8 1.7-.8 1.8-.6 1.7-.5 1.8-.4 1.7-.3 1.8-.2 1.7 0 1.7 .1 1.8 .2 1.7 .4 1.8 .5 1.7 .6 1.8 .7 1.7 .8 1.8 1 1.7 1 1.8 1.1 1.7 1.1 1.7 1.2 1.8 1.3 1.7 1.3 1.8 1.3 1.7 1.3 1.8 1.3 1.7 1.4 1.8 1.3 1.7 1.2 1.8 1.3 1.7 1.1 1.8 1.2 1.7 1.1 1.7 1 1.8 1 1.7 .9 1.8 .9 1.7 .8 1.8 .7 1.7 .7 1.8 .6 1.7 .6 1.8 .5 1.7 .5 1.8 .4 1.7 .4 1.7 .3 1.8 .3 1.7 .3 1.8 .2 1.7 .2 1.8 .2 1.7 .1 1.8 .2 1.7 .1 1.8 .1 1.7 .1 1.8 0 1.7 .1 1.7 0 1.8 .1 1.7 0 1.8 .1 1.7 0 1.8 0 1.7 0 1.8 .1 1.7 0 1.8 0 1.7 0 1.7 0 1.8 0 1.7 0 1.8 0 1.7 0 1.8 0 1.7 0 1.8 0 1.7 .1 1.8 0 1.7 0 1.8 0 1.7 0 1.7 0 1.8 0 1.7 0 1.8 0 1.7 0 1.8 0 1.7 0 1.8 0 1.7 0 1.8 0 1.7 0 1.8 0 1.7 0" fill="none" stroke="#c7a5d9" stroke-width="1.1"/><path d="M458.9 460l1.7 0 1.8 0 1.7 0 1.8 0 1.7 0 1.8 0 1.7 0 1.8 0 1.7 0 1.8 0 1.7 0 1.8 0 1.7 0 1.7 0 1.8 0 1.7 0 1.8 0 1.7 0 1.8 0 1.7 0 1.8 0 1.7 0 1.8 0 1.7 0 1.7 0 1.8 0 1.7 0 1.8 0 1.7 0 1.8 0 1.7 0 1.8 0 1.7 0 1.8 0 1.7 0 1.8 0 1.7 0 1.7 0 1.8 0 1.7 0 1.8 0 1.7 0 1.8 0 1.7 0 1.8 0 1.7 .1 1.8 0 1.7 0 1.8 0 1.7 0 1.7 0 1.8 0 1.7 0 1.8 0 1.7 0 1.8 0 1.7 0 1.8 0 1.7 0 1.8 0 1.7 0 1.8 .1 1.7 0 1.7 0 1.8 0 1.7 0 1.8 0 1.7 0 1.8 0 1.7 0 1.8 .1 1.7 0 1.8 0 1.7 0 1.7 0 1.8 0 1.7 .1 1.8 0 1.7 0 1.8 0 1.7 0 1.8 0 1.7 0 1.8-.1 1.7 0 1.8 0 1.7-.1 1.7-.1 1.8-.1 1.7-.2 1.8-.2 1.7-.2 1.8-.3 1.7-.3 1.8-.4 1.7-.5 1.8-.5 1.7-.6 1.8-.7 1.7-.8 1.7-.9 1.8-.9 1.7-1 1.8-1.1 1.7-1.2 1.8-1.2 1.7-1.2 1.8-1.3 1.7-1.4 1.8-1.3 1.7-1.2 1.8-1.3 1.7-1.1 1.7-1.1 1.8-1 1.7-.8 1.8-.7 1.7-.6 1.8-.3 1.7-.2 1.8 0 1.7 .2 1.8 .4 1.7 .6 1.7 .7 1.8 .9 1.7 1 1.8 1.2 1.7 1.2 1.8 1.4 1.7 1.4 1.8 1.4 1.7 1.4 1.8 1.5 1.7 1.4 1.8 1.4 1.7 1.3 1.7 1.2 1.8 1.2 1.7 1.1 1.8 1 1.7 1 1.8 .8 1.7 .8 1.8 .7 1.7 .6 1.8 .5 1.7 .4 1.8 .4 1.7 .4 1.7 .3 1.8 .2 1.7 .2 1.8 .2 1.7 .1 1.8 .2 1.7 .1 1.8 0 1.7 .1 1.8 .1 1.7 0 1.8 0 1.7 .1 1.7 0 1.8 0 1.7 0 1.8 .1 1.7 0 1.8 0 1.7 0 1.8 0 1.7 0 1.8 0 1.7 0 1.7 0 1.8 0 1.7 0 1.8 0 1.7 0 1.8 0 1.7 0 1.8 .1 1.7 0 1.8 0 1.7 0 1.8 0 1.7 0 1.7 0 1.8 0 1.7 0 1.8 0 1.7 0 1.8 0 1.7 0 1.8 0 1.7 0 1.8 0 1.7 0 1.8 0 1.7 0" fill="none" stroke="#a8c3e2" stroke-width="1.1"/><path d="M458.9 460l1.7 0 1.8 0 1.7 0 1.8 0 1.7 0 1.8 0 1.7 0 1.8 0 1.7 0 1.8 0 1.7 0 1.8 0 1.7 0 1.7 0 1.8 0 1.7 0 1.8 0 1.7 0 1.8 0 1.7 0 1.8 0 1.7 0 1.8 0 1.7 0 1.7 0 1.8 0 1.7 0 1.8 0 1.7 0 1.8 0 1.7 0 1.8 0 1.7 0 1.8 0 1.7 0 1.8 0 1.7 0 1.7 0 1.8 0 1.7 0 1.8 0 1.7 0 1.8 0 1.7 0 1.8 0 1.7 .1 1.8 0 1.7 0 1.8 0 1.7 0 1.7 0 1.8 0 1.7 0 1.8 0 1.7 0 1.8 0 1.7 0 1.8 0 1.7 0 1.8 0 1.7 0 1.8 .1 1.7 0 1.7 0 1.8 0 1.7 0 1.8 0 1.7 0 1.8 0 1.7 .1 1.8 0 1.7 0 1.8 0 1.7 0 1.7 0 1.8 .1 1.7 0 1.8 0 1.7 0 1.8 .1 1.7 0 1.8 0 1.7 0 1.8 .1 1.7 0 1.8 0 1.7 0 1.7 0 1.8 0 1.7 0 1.8 0 1.7 0 1.8-.1 1.7 0 1.8-.1 1.7-.2 1.8-.2 1.7-.2 1.8-.3 1.7-.4 1.7-.4 1.8-.6 1.7-.6 1.8-.8 1.7-.8 1.8-1 1.7-1.1 1.8-1.2 1.7-1.4 1.8-1.4 1.7-1.6 1.8-1.7 1.7-1.8 1.7-1.8 1.8-1.9 1.7-1.8 1.8-1.9 1.7-1.8 1.8-1.7 1.7-1.6 1.8-1.4 1.7-1.3 1.8-1 1.7-.8 1.7-.5 1.8-.3 1.7 0 1.8 .3 1.7 .6 1.8 .9 1.7 1 1.8 1.4 1.7 1.5 1.8 1.6 1.7 1.8 1.8 1.9 1.7 2 1.7 2 1.8 2 1.7 1.9 1.8 1.9 1.7 1.9 1.8 1.7 1.7 1.6 1.8 1.5 1.7 1.4 1.8 1.2 1.7 1.2 1.8 1 1.7 .8 1.7 .8 1.8 .7 1.7 .5 1.8 .5 1.7 .4 1.8 .4 1.7 .2 1.8 .3 1.7 .2 1.8 .1 1.7 .1 1.8 .1 1.7 .1 1.7 .1 1.8 0 1.7 .1 1.8 0 1.7 0 1.8 .1 1.7 0 1.8 0 1.7 0 1.8 0 1.7 0 1.7 0 1.8 0 1.7 0 1.8 0 1.7 0 1.8 0 1.7 0 1.8 .1 1.7 0 1.8 0 1.7 0 1.8 0 1.7 0 1.7 0 1.8 0 1.7 0 1.8 0 1.7 0 1.8 0 1.7 0 1.8 0 1.7 0 1.8 0 1.7 0 1.8 0 1.7 0" fill="none" stroke="#ef8c8c" stroke-width="1.1"/><path d="M458.9 460l1.7 0 1.8 0 1.7 0 1.8 0 1.7 0 1.8 0 1.7 0 1.8 0 1.7 0 1.8 0 1.7 0 1.8 0 1.7 0 1.7 0 1.8 0 1.7 0 1.8 0 1.7 0 1.8 0 1.7 0 1.8 0 1.7 0 1.8 0 1.7 0 1.7 0 1.8 0 1.7 0 1.8 0 1.7 0 1.8 0 1.7 0 1.8 0 1.7 0 1.8 0 1.7 0 1.8 0 1.7 0 1.7 0 1.8 0 1.7 0 1.8 0 1.7 0 1.8 0 1.7 0 1.8 0 1.7 .1 1.8 0 1.7 0 1.8 0 1.7 0 1.7 0 1.8 0 1.7 0 1.8 0 1.7 0 1.8 0 1.7 0 1.8 0 1.7 0 1.8 0 1.7 0 1.8 .1 1.7 0 1.7 0 1.8 0 1.7 0 1.8 0 1.7 0 1.8 0 1.7 .1 1.8 0 1.7 0 1.8 0 1.7 0 1.7 0 1.8 .1 1.7 0 1.8 0 1.7 0 1.8 .1 1.7 0 1.8 0 1.7 .1 1.8 0 1.7 0 1.8 .1 1.7 0 1.7 0 1.8 .1 1.7 0 1.8 .1 1.7 0 1.8 .1 1.7 0 1.8 .1 1.7 0 1.8 .1 1.7 .1 1.8 0 1.7 .1 1.7 .1 1.8 0 1.7 .1 1.8 .1 1.7 0 1.8 .1 1.7 .1 1.8 .1 1.7 .1 1.8 0 1.7 .1 1.8 .1 1.7 .1 1.7 .1 1.8 0 1.7 .1 1.8 .1 1.7 .1 1.8 0 1.7 .1 1.8 .1 1.7 .1 1.8 0 1.7 .1 1.7 .1 1.8 .1 1.7 0 1.8 .1 1.7 .1 1.8 0 1.7 .1 1.8 0 1.7 .1 1.8 0 1.7 .1 1.8 0 1.7 .1 1.7 0 1.8 .1 1.7 0 1.8 0 1.7 .1 1.8 0 1.7 0 1.8 .1 1.7 0 1.8 0 1.7 .1 1.8 0 1.7 0 1.7 0 1.8 .1 1.7 0 1.8 0 1.7 0 1.8 0 1.7 .1 1.8 0 1.7 0 1.8 0 1.7 0 1.8 0 1.7 0 1.7 0 1.8 .1 1.7 0 1.8 0 1.7 0 1.8 0 1.7 0 1.8 0 1.7 0 1.8 0 1.7 0 1.7 0 1.8 0 1.7 0 1.8 0 1.7 0 1.8 0 1.7 0 1.8 .1 1.7 0 1.8 0 1.7 0 1.8 0 1.7 0 1.7 0 1.8 0 1.7 0 1.8 0 1.7 0 1.8 0 1.7 0 1.8 0 1.7 0 1.8 0 1.7 0 1.8 0 1.7 0" fill="none" stroke="#1d8a8a" stroke-width="1"/><g fill="#fff" fill-opacity="0.6" stroke="#8a8a8a" stroke-width="0.8"><circle cx="453.1" cy="460.4" r="2.6"/><circle cx="455.6" cy="459" r="2.6"/><circle cx="458" cy="460.9" r="2.6"/><circle cx="460.5" cy="459.3" r="2.6"/><circle cx="463" cy="459" r="2.6"/><circle cx="465.4" cy="459.5" r="2.6"/><circle cx="467.9" cy="459.9" r="2.6"/><circle cx="470.4" cy="460.6" r="2.6"/><circle cx="472.9" cy="460.6" r="2.6"/><circle cx="475.3" cy="460" r="2.6"/><circle cx="477.8" cy="460.8" r="2.6"/><circle cx="480.3" cy="460.1" r="2.6"/><circle cx="482.8" cy="460.8" r="2.6"/><circle cx="485.2" cy="458.7" r="2.6"/><circle cx="487.7" cy="458.6" r="2.6"/><circle cx="490.2" cy="460.7" r="2.6"/><circle cx="492.7" cy="458.8" r="2.6"/><circle cx="495.1" cy="459.7" r="2.6"/><circle cx="497.6" cy="459.9" r="2.6"/><circle cx="500.1" cy="459.6" r="2.6"/><circle cx="502.6" cy="459.6" r="2.6"/><circle cx="505" cy="461.3" r="2.6"/><circle cx="507.5" cy="457.7" r="2.6"/><circle cx="510" cy="460.8" r="2.6"/><circle cx="512.4" cy="462.1" r="2.6"/><circle cx="514.9" cy="460" r="2.6"/><circle cx="517.4" cy="460" r="2.6"/><circle cx="519.9" cy="460.7" r="2.6"/><circle cx="522.3" cy="461.7" r="2.6"/><circle cx="524.8" cy="459" r="2.6"/><circle cx="527.3" cy="460.1" r="2.6"/><circle cx="529.8" cy="459.9" r="2.6"/><circle cx="532.2" cy="460.5" r="2.6"/><circle cx="534.7" cy="460.2" r="2.6"/><circle cx="537.2" cy="460.6" r="2.6"/><circle cx="539.7" cy="459.6" r="2.6"/><circle cx="542.1" cy="460" r="2.6"/><circle cx="544.6" cy="459.3" r="2.6"/><circle cx="547.1" cy="459.3" r="2.6"/><circle cx="549.5" cy="459.7" r="2.6"/><circle cx="552" cy="459.6" r="2.6"/><circle cx="554.5" cy="458.5" r="2.6"/><circle cx="557" cy="460.8" r="2.6"/><circle cx="559.4" cy="458.9" r="2.6"/><circle cx="561.9" cy="457.5" r="2.6"/><circle cx="564.4" cy="459.2" r="2.6"/><circle cx="566.9" cy="457" r="2.6"/><circle cx="569.3" cy="457.4" r="2.6"/><circle cx="571.8" cy="456.1" r="2.6"/><circle cx="574.3" cy="455.3" r="2.6"/><circle cx="576.8" cy="454" r="2.6"/><circle cx="579.2" cy="452" r="2.6"/><circle cx="581.7" cy="451.1" r="2.6"/><circle cx="584.2" cy="451.2" r="2.6"/><circle cx="586.6" cy="445.6" r="2.6"/><circle cx="589.1" cy="445.8" r="2.6"/><circle cx="591.6" cy="444.1" r="2.6"/><circle cx="594.1" cy="440.7" r="2.6"/><circle cx="596.5" cy="438.2" r="2.6"/><circle cx="599" cy="439.1" r="2.6"/><circle cx="601.5" cy="434.5" r="2.6"/><circle cx="604" cy="434.4" r="2.6"/><circle cx="606.4" cy="430.6" r="2.6"/><circle cx="608.9" cy="427.8" r="2.6"/><circle cx="611.4" cy="425.7" r="2.6"/><circle cx="613.9" cy="423.4" r="2.6"/><circle cx="616.3" cy="421.4" r="2.6"/><circle cx="618.8" cy="418.3" r="2.6"/><circle cx="621.3" cy="415.6" r="2.6"/><circle cx="623.8" cy="413.2" r="2.6"/><circle cx="626.2" cy="411.8" r="2.6"/><circle cx="628.7" cy="409" r="2.6"/><circle cx="631.2" cy="404.9" r="2.6"/><circle cx="633.6" cy="402.8" r="2.6"/><circle cx="636.1" cy="401.2" r="2.6"/><circle cx="638.6" cy="397.8" r="2.6"/><circle cx="641.1" cy="395.4" r="2.6"/><circle cx="643.5" cy="392.1" r="2.6"/><circle cx="646" cy="389.9" r="2.6"/><circle cx="648.5" cy="387.6" r="2.6"/><circle cx="651" cy="385.2" r="2.6"/><circle cx="653.4" cy="381.4" r="2.6"/><circle cx="655.9" cy="380.5" r="2.6"/><circle cx="658.4" cy="375.9" r="2.6"/><circle cx="660.9" cy="376.6" r="2.6"/><circle cx="663.3" cy="372.7" r="2.6"/><circle cx="665.8" cy="370.9" r="2.6"/><circle cx="668.3" cy="369.3" r="2.6"/><circle cx="670.7" cy="367.4" r="2.6"/><circle cx="673.2" cy="370.6" r="2.6"/><circle cx="675.7" cy="372.7" r="2.6"/><circle cx="678.2" cy="376.9" r="2.6"/><circle cx="680.6" cy="377.3" r="2.6"/><circle cx="683.1" cy="384.5" r="2.6"/><circle cx="685.6" cy="387.4" r="2.6"/><circle cx="688.1" cy="393.8" r="2.6"/><circle cx="690.5" cy="396.7" r="2.6"/><circle cx="693" cy="405.2" r="2.6"/><circle cx="695.5" cy="411" r="2.6"/><circle cx="698" cy="418.1" r="2.6"/><circle cx="700.4" cy="423.5" r="2.6"/><circle cx="702.9" cy="428.1" r="2.6"/><circle cx="705.4" cy="435.2" r="2.6"/><circle cx="707.9" cy="439.8" r="2.6"/><circle cx="710.3" cy="444.1" r="2.6"/><circle cx="712.8" cy="448.3" r="2.6"/><circle cx="715.3" cy="451.7" r="2.6"/><circle cx="717.7" cy="453.4" r="2.6"/><circle cx="720.2" cy="454.6" r="2.6"/><circle cx="722.7" cy="456.5" r="2.6"/><circle cx="725.2" cy="460.6" r="2.6"/><circle cx="727.6" cy="461.3" r="2.6"/><circle cx="730.1" cy="461.7" r="2.6"/><circle cx="732.6" cy="462" r="2.6"/><circle cx="735.1" cy="463" r="2.6"/><circle cx="737.5" cy="463.5" r="2.6"/><circle cx="740" cy="463.5" r="2.6"/><circle cx="742.5" cy="463.4" r="2.6"/><circle cx="745" cy="466.2" r="2.6"/><circle cx="747.4" cy="464.6" r="2.6"/><circle cx="749.9" cy="463.9" r="2.6"/><circle cx="752.4" cy="463.4" r="2.6"/><circle cx="754.8" cy="463.9" r="2.6"/><circle cx="757.3" cy="465.3" r="2.6"/><circle cx="759.8" cy="465.3" r="2.6"/><circle cx="762.3" cy="464.5" r="2.6"/><circle cx="764.7" cy="464.7" r="2.6"/><circle cx="767.2" cy="464.4" r="2.6"/><circle cx="769.7" cy="463.7" r="2.6"/><circle cx="772.2" cy="465.9" r="2.6"/><circle cx="774.6" cy="465.1" r="2.6"/><circle cx="777.1" cy="467" r="2.6"/><circle cx="779.6" cy="464.1" r="2.6"/><circle cx="782.1" cy="464.6" r="2.6"/><circle cx="784.5" cy="465.6" r="2.6"/><circle cx="787" cy="464.5" r="2.6"/><circle cx="789.5" cy="463.5" r="2.6"/><circle cx="791.9" cy="463.9" r="2.6"/><circle cx="794.4" cy="464.9" r="2.6"/><circle cx="796.9" cy="465.1" r="2.6"/><circle cx="799.4" cy="464.7" r="2.6"/><circle cx="801.8" cy="465.7" r="2.6"/><circle cx="804.3" cy="465.7" r="2.6"/><circle cx="806.8" cy="465.1" r="2.6"/><circle cx="809.3" cy="464.8" r="2.6"/><circle cx="811.7" cy="464.6" r="2.6"/></g><path d="M458.9 460l1.7 0 1.8 0 1.7 0 1.8 0 1.7 0 1.8 0 1.7 0 1.8 0 1.7 0 1.8 0 1.7 0 1.8 0 1.7 0 1.7 0 1.8 0 1.7 0 1.8 0 1.7 0 1.8 0 1.7 0 1.8 0 1.7 0 1.8 0 1.7 0 1.7 0 1.8 0 1.7 0 1.8 0 1.7 0 1.8 0 1.7 0 1.8 0 1.7 0 1.8 0 1.7 0 1.8 0 1.7 0 1.7 0 1.8 0 1.7 0 1.8 0 1.7 0 1.8 0 1.7 0 1.8 0 1.7 0 1.8 0 1.7 0 1.8-.1 1.7 0 1.7 0 1.8-.1 1.7-.1 1.8-.1 1.7-.1 1.8-.1 1.7-.2 1.8-.2 1.7-.3 1.8-.3 1.7-.4 1.8-.4 1.7-.5 1.7-.6 1.8-.6 1.7-.8 1.8-.8 1.7-.9 1.8-.9 1.7-1.1 1.8-1.1 1.7-1.2 1.8-1.3 1.7-1.3 1.7-1.4 1.8-1.4 1.7-1.5 1.8-1.5 1.7-1.5 1.8-1.6 1.7-1.6 1.8-1.7 1.7-1.7 1.8-1.6 1.7-1.7 1.8-1.8 1.7-1.7 1.7-1.7 1.8-1.8 1.7-1.7 1.8-1.7 1.7-1.7 1.8-1.8 1.7-1.7 1.8-1.7 1.7-1.7 1.8-1.6 1.7-1.7 1.8-1.7 1.7-1.8 1.7-1.7 1.8-1.8 1.7-1.8 1.8-1.8 1.7-2 1.8-1.9 1.7-2 1.8-2.1 1.7-2 1.8-2.1 1.7-2.1 1.8-2 1.7-1.9 1.7-1.9 1.8-1.7 1.7-1.5 1.8-1.3 1.7-1 1.8-.8 1.7-.3 1.8 0 1.7 .4 1.8 .8 1.7 1.2 1.7 1.7 1.8 2.1 1.7 2.5 1.8 2.9 1.7 3.3 1.8 3.6 1.7 3.8 1.8 4.1 1.7 4.2 1.8 4.3 1.7 4.4 1.8 4.4 1.7 4.3 1.7 4.2 1.8 4.1 1.7 4 1.8 3.7 1.7 3.5 1.8 3.3 1.7 3 1.8 2.7 1.7 2.5 1.8 2.2 1.7 2 1.8 1.8 1.7 1.5 1.7 1.4 1.8 1.1 1.7 1 1.8 .9 1.7 .7 1.8 .6 1.7 .5 1.8 .4 1.7 .4 1.8 .2 1.7 .3 1.8 .2 1.7 .1 1.7 .1 1.8 .1 1.7 .1 1.8 .1 1.7 0 1.8 .1 1.7 0 1.8 0 1.7 .1 1.8 0 1.7 0 1.7 0 1.8 0 1.7 0 1.8 0 1.7 0 1.8 0 1.7 0 1.8 0 1.7 .1 1.8 0 1.7 0 1.8 0 1.7 0 1.7 0 1.8 0 1.7 0 1.8 0 1.7 0 1.8 0 1.7 0 1.8 0 1.7 0 1.8 0 1.7 0 1.8 0 1.7 0" fill="none" stroke="#2d56a6" stroke-width="1.4"/><path d="M458.9 606.8l1.7 0 1.8 0 1.7 0 1.8 0 1.7 0 1.8 0 1.7 0 1.8 0 1.7 0 1.8 0 1.7 0 1.8 0 1.7 0 1.7 0 1.8 0 1.7 0 1.8 0 1.7 0 1.8 0 1.7 0 1.8 0 1.7 0 1.8 0 1.7 0 1.7 0 1.8 0 1.7 0 1.8 0 1.7 0 1.8 0 1.7 .1 1.8 0 1.7 0 1.8 0 1.7 0 1.8 0 1.7 0 1.7 0 1.8 0 1.7 0 1.8 0 1.7 0 1.8 0 1.7 0 1.8 0 1.7 0 1.8 0 1.7 0 1.8-.1 1.7 0 1.7 0 1.8-.1 1.7-.1 1.8-.1 1.7-.2 1.8-.2 1.7-.2 1.8-.4 1.7-.4 1.8-.5 1.7-.6 1.8-.7 1.7-.9 1.7-1 1.8-1.2 1.7-1.4 1.8-1.7 1.7-1.8 1.8-2.1 1.7-2.4 1.8-2.6 1.7-2.8 1.8-3.1 1.7-3.4 1.7-3.5 1.8-3.7 1.7-3.8 1.8-3.9 1.7-3.9 1.8-3.8 1.7-3.8 1.8-3.6 1.7-3.4 1.8-3.1 1.7-2.7 1.8-2.3 1.7-1.8 1.7-1.3 1.8-.8 1.7-.2 1.8 .4 1.7 1 1.8 1.5 1.7 2 1.8 2.5 1.7 3 1.8 3.2 1.7 3.6 1.8 3.9 1.7 4 1.7 4 1.8 4.2 1.7 4.1 1.8 4 1.7 3.9 1.8 3.7 1.7 3.5 1.8 3.3 1.7 3 1.8 2.8 1.7 2.5 1.8 2.3 1.7 2.1 1.7 1.8 1.8 1.6 1.7 1.4 1.8 1.2 1.7 1 1.8 .9 1.7 .8 1.8 .6 1.7 .5 1.8 .5 1.7 .4 1.7 .3 1.8 .3 1.7 .3 1.8 .2 1.7 .1 1.8 .2 1.7 .1 1.8 .2 1.7 .1 1.8 .1 1.7 .1 1.8 0 1.7 .1 1.7 .1 1.8 .1 1.7 0 1.8 .1 1.7 0 1.8 .1 1.7 0 1.8 .1 1.7 0 1.8 .1 1.7 0 1.8 0 1.7 .1 1.7 0 1.8 0 1.7 .1 1.8 0 1.7 0 1.8 0 1.7 .1 1.8 0 1.7 0 1.8 0 1.7 0 1.8 .1 1.7 0 1.7 0 1.8 0 1.7 0 1.8 0 1.7 0 1.8 0 1.7 .1 1.8 0 1.7 0 1.8 0 1.7 0 1.7 0 1.8 0 1.7 0 1.8 0 1.7 0 1.8 0 1.7 0 1.8 0 1.7 0 1.8 0 1.7 0 1.8 0 1.7 .1 1.7 0 1.8 0 1.7 0 1.8 0 1.7 0 1.8 0 1.7 0 1.8 0 1.7 0 1.8 0 1.7 0 1.8 0 1.7 0L808.1 615.8l-7 0-7 0-7 0-6.9-.1-7 0-7 0-7 0-7-.1-7 0-6.9-.1-7-.1-7-.1-7-.1-7-.2-7-.2-6.9-.2-7-.3-7-.4-7-.4-7-.5-7-.6-6.9-.6-7-.5-7-.6-7-.6-7-.6-7-.4-7-.5-6.9-.3-7-.3-7-.3-7-.2-7-.1-7-.2-6.9-.1-7 0-7-.1-7 0-7-.1-7 0-6.9 0-7 0-7-.1-7 0-7 0-7 0-6.9 0-7 0-7 0-7 0Z" fill="#ececec" fill-opacity="0.8" stroke="none"/><path d="M458.9 606.8l1.7 0 1.8 0 1.7 0 1.8 0 1.7 0 1.8 0 1.7 0 1.8 0 1.7 0 1.8 0 1.7 0 1.8 0 1.7 0 1.7 0 1.8 0 1.7 0 1.8 0 1.7 0 1.8 0 1.7 0 1.8 0 1.7 0 1.8 0 1.7 0 1.7 0 1.8 0 1.7 0 1.8 0 1.7 0 1.8 0 1.7 .1 1.8 0 1.7 0 1.8 0 1.7 0 1.8 0 1.7 0 1.7 0 1.8 0 1.7 0 1.8 0 1.7 0 1.8 0 1.7 0 1.8 0 1.7 0 1.8 0 1.7 .1 1.8 0 1.7 0 1.7 0 1.8 0 1.7 0 1.8 0 1.7 0 1.8 0 1.7 0 1.8 0 1.7 0 1.8 0 1.7 0 1.8-.1 1.7 0 1.7-.1 1.8-.1 1.7-.2 1.8-.2 1.7-.3 1.8-.3 1.7-.5 1.8-.5 1.7-.7 1.8-.8 1.7-.9 1.7-1.1 1.8-1.3 1.7-1.4 1.8-1.6 1.7-1.8 1.8-2 1.7-2.2 1.8-2.2 1.7-2.4 1.8-2.5 1.7-2.5 1.8-2.4 1.7-2.4 1.7-2.3 1.8-2.1 1.7-1.9 1.8-1.6 1.7-1.2 1.8-.9 1.7-.5 1.8-.1 1.7 .4 1.8 .7 1.7 1.1 1.8 1.5 1.7 1.9 1.7 2.1 1.8 2.3 1.7 2.5 1.8 2.7 1.7 2.7 1.8 2.7 1.7 2.7 1.8 2.6 1.7 2.5 1.8 2.3 1.7 2.2 1.8 2.1 1.7 1.8 1.7 1.6 1.8 1.5 1.7 1.3 1.8 1.1 1.7 1 1.8 .8 1.7 .7 1.8 .7 1.7 .5 1.8 .4 1.7 .4 1.7 .3 1.8 .2 1.7 .3 1.8 .1 1.7 .2 1.8 .2 1.7 .1 1.8 .1 1.7 .1 1.8 .1 1.7 .1 1.8 .1 1.7 0 1.7 .1 1.8 .1 1.7 0 1.8 .1 1.7 0 1.8 .1 1.7 0 1.8 .1 1.7 0 1.8 .1 1.7 0 1.8 0 1.7 .1 1.7 0 1.8 0 1.7 .1 1.8 0 1.7 0 1.8 0 1.7 .1 1.8 0 1.7 0 1.8 0 1.7 0 1.8 .1 1.7 0 1.7 0 1.8 0 1.7 0 1.8 0 1.7 0 1.8 0 1.7 .1 1.8 0 1.7 0 1.8 0 1.7 0 1.7 0 1.8 0 1.7 0 1.8 0 1.7 0 1.8 0 1.7 0 1.8 0 1.7 0 1.8 0 1.7 0 1.8 0 1.7 .1 1.7 0 1.8 0 1.7 0 1.8 0 1.7 0 1.8 0 1.7 0 1.8 0 1.7 0 1.8 0 1.7 0 1.8 0 1.7 0L808.1 615.8l-7 0-7 0-7 0-6.9-.1-7 0-7 0-7 0-7-.1-7 0-6.9-.1-7-.1-7-.1-7-.1-7-.2-7-.2-6.9-.2-7-.3-7-.4-7-.4-7-.5-7-.6-6.9-.6-7-.5-7-.6-7-.6-7-.6-7-.4-7-.5-6.9-.3-7-.3-7-.3-7-.2-7-.1-7-.2-6.9-.1-7 0-7-.1-7 0-7-.1-7 0-6.9 0-7 0-7-.1-7 0-7 0-7 0-6.9 0-7 0-7 0-7 0Z" fill="#efe9dc" fill-opacity="0.8" stroke="none"/><path d="M458.9 606.8l1.7 0 1.8 0 1.7 0 1.8 0 1.7 0 1.8 0 1.7 0 1.8 0 1.7 0 1.8 0 1.7 0 1.8 0 1.7 0 1.7 0 1.8 0 1.7 0 1.8 0 1.7 0 1.8 0 1.7 0 1.8 0 1.7 0 1.8 0 1.7 0 1.7 0 1.8 0 1.7 0 1.8 0 1.7 0 1.8 0 1.7 .1 1.8 0 1.7 0 1.8 0 1.7 0 1.8 0 1.7 0 1.7 0 1.8 0 1.7 0 1.8 0 1.7 0 1.8 0 1.7 0 1.8 0 1.7 0 1.8 0 1.7 .1 1.8 0 1.7 0 1.7 0 1.8 0 1.7 0 1.8 0 1.7 0 1.8 .1 1.7 0 1.8 0 1.7 0 1.8 0 1.7 .1 1.8 0 1.7 0 1.7 0 1.8 .1 1.7 0 1.8 0 1.7 .1 1.8 0 1.7 0 1.8 .1 1.7 0 1.8 .1 1.7 0 1.7 .1 1.8 0 1.7 .1 1.8 .1 1.7 0 1.8 .1 1.7 .1 1.8 0 1.7 .1 1.8 .1 1.7 .1 1.8 0 1.7 .1 1.7 .1 1.8 .1 1.7 .1 1.8 0 1.7 .1 1.8 0 1.7 0 1.8 0 1.7-.1 1.8-.1 1.7-.3 1.8-.3 1.7-.5 1.7-.7 1.8-.8 1.7-1 1.8-1.3 1.7-1.5 1.8-1.8 1.7-2.1 1.8-2.3 1.7-2.6 1.8-2.7 1.7-2.9 1.8-3 1.7-2.9 1.7-2.8 1.8-2.6 1.7-2.4 1.8-1.9 1.7-1.5 1.8-.9 1.7-.4 1.8 .2 1.7 .8 1.8 1.4 1.7 1.9 1.7 2.4 1.8 2.6 1.7 3 1.8 3.1 1.7 3.2 1.8 3.2 1.7 3.1 1.8 2.9 1.7 2.7 1.8 2.5 1.7 2.2 1.8 1.9 1.7 1.7 1.7 1.4 1.8 1.2 1.7 .9 1.8 .8 1.7 .6 1.8 .5 1.7 .4 1.8 .3 1.7 .3 1.8 .1 1.7 .2 1.8 .1 1.7 .1 1.7 0 1.8 .1 1.7 0 1.8 .1 1.7 0 1.8 0 1.7 .1 1.8 0 1.7 0 1.8 0 1.7 0 1.8 .1 1.7 0 1.7 0 1.8 0 1.7 0 1.8 0 1.7 0 1.8 0 1.7 .1 1.8 0 1.7 0 1.8 0 1.7 0 1.7 0 1.8 0 1.7 0 1.8 0 1.7 0 1.8 0 1.7 0 1.8 0 1.7 0 1.8 0 1.7 0 1.8 0 1.7 .1 1.7 0 1.8 0 1.7 0 1.8 0 1.7 0 1.8 0 1.7 0 1.8 0 1.7 0 1.8 0 1.7 0 1.8 0 1.7 0L808.1 615.8l-7 0-7 0-7 0-6.9-.1-7 0-7 0-7 0-7-.1-7 0-6.9-.1-7-.1-7-.1-7-.1-7-.2-7-.2-6.9-.2-7-.3-7-.4-7-.4-7-.5-7-.6-6.9-.6-7-.5-7-.6-7-.6-7-.6-7-.4-7-.5-6.9-.3-7-.3-7-.3-7-.2-7-.1-7-.2-6.9-.1-7 0-7-.1-7 0-7-.1-7 0-6.9 0-7 0-7-.1-7 0-7 0-7 0-6.9 0-7 0-7 0-7 0Z" fill="#d3e0ef" fill-opacity="0.8" stroke="none"/><path d="M458.9 606.8l1.7 0 1.8 0 1.7 0 1.8 0 1.7 0 1.8 0 1.7 0 1.8 0 1.7 0 1.8 0 1.7 0 1.8 0 1.7 0 1.7 0 1.8 0 1.7 0 1.8 0 1.7 0 1.8 0 1.7 0 1.8 0 1.7 0 1.8 0 1.7 0 1.7 0 1.8 0 1.7 0 1.8 0 1.7 0 1.8 0 1.7 .1 1.8 0 1.7 0 1.8 0 1.7 0 1.8 0 1.7 0 1.7 0 1.8 0 1.7 0 1.8 0 1.7 0 1.8 0 1.7 0 1.8 0 1.7 0 1.8 0 1.7 0 1.8-.1 1.7 0 1.7 0 1.8-.1 1.7-.1 1.8-.1 1.7-.2 1.8-.2 1.7-.2 1.8-.4 1.7-.4 1.8-.5 1.7-.6 1.8-.7 1.7-.9 1.7-1 1.8-1.2 1.7-1.4 1.8-1.7 1.7-1.8 1.8-2.1 1.7-2.4 1.8-2.6 1.7-2.8 1.8-3.1 1.7-3.4 1.7-3.5 1.8-3.7 1.7-3.8 1.8-3.9 1.7-3.9 1.8-3.8 1.7-3.8 1.8-3.6 1.7-3.4 1.8-3.1 1.7-2.7 1.8-2.3 1.7-1.8 1.7-1.3 1.8-.8 1.7-.2 1.8 .4 1.7 1 1.8 1.5 1.7 2 1.8 2.5 1.7 3 1.8 3.2 1.7 3.6 1.8 3.9 1.7 4 1.7 4 1.8 4.2 1.7 4.1 1.8 4 1.7 3.9 1.8 3.7 1.7 3.5 1.8 3.3 1.7 3 1.8 2.8 1.7 2.5 1.8 2.3 1.7 2.1 1.7 1.8 1.8 1.6 1.7 1.4 1.8 1.2 1.7 1 1.8 .9 1.7 .8 1.8 .6 1.7 .5 1.8 .5 1.7 .4 1.7 .3 1.8 .3 1.7 .3 1.8 .2 1.7 .1 1.8 .2 1.7 .1 1.8 .2 1.7 .1 1.8 .1 1.7 .1 1.8 0 1.7 .1 1.7 .1 1.8 .1 1.7 0 1.8 .1 1.7 0 1.8 .1 1.7 0 1.8 .1 1.7 0 1.8 .1 1.7 0 1.8 0 1.7 .1 1.7 0 1.8 0 1.7 .1 1.8 0 1.7 0 1.8 0 1.7 .1 1.8 0 1.7 0 1.8 0 1.7 0 1.8 .1 1.7 0 1.7 0 1.8 0 1.7 0 1.8 0 1.7 0 1.8 0 1.7 .1 1.8 0 1.7 0 1.8 0 1.7 0 1.7 0 1.8 0 1.7 0 1.8 0 1.7 0 1.8 0 1.7 0 1.8 0 1.7 0 1.8 0 1.7 0 1.8 0 1.7 .1 1.7 0 1.8 0 1.7 0 1.8 0 1.7 0 1.8 0 1.7 0 1.8 0 1.7 0 1.8 0 1.7 0 1.8 0 1.7 0" fill="none" stroke="#a6a6a6" stroke-width="1.1"/><path d="M458.9 606.8l1.7 0 1.8 0 1.7 0 1.8 0 1.7 0 1.8 0 1.7 0 1.8 0 1.7 0 1.8 0 1.7 0 1.8 0 1.7 0 1.7 0 1.8 0 1.7 0 1.8 0 1.7 0 1.8 0 1.7 0 1.8 0 1.7 0 1.8 0 1.7 0 1.7 0 1.8 0 1.7 0 1.8 0 1.7 0 1.8 0 1.7 .1 1.8 0 1.7 0 1.8 0 1.7 0 1.8 0 1.7 0 1.7 0 1.8 0 1.7 0 1.8 0 1.7 0 1.8 0 1.7 0 1.8 0 1.7 0 1.8 0 1.7 .1 1.8 0 1.7 0 1.7 0 1.8 0 1.7 0 1.8 0 1.7 0 1.8 0 1.7 0 1.8 0 1.7 0 1.8 0 1.7 0 1.8-.1 1.7 0 1.7-.1 1.8-.1 1.7-.2 1.8-.2 1.7-.3 1.8-.3 1.7-.5 1.8-.5 1.7-.7 1.8-.8 1.7-.9 1.7-1.1 1.8-1.3 1.7-1.4 1.8-1.6 1.7-1.8 1.8-2 1.7-2.2 1.8-2.2 1.7-2.4 1.8-2.5 1.7-2.5 1.8-2.4 1.7-2.4 1.7-2.3 1.8-2.1 1.7-1.9 1.8-1.6 1.7-1.2 1.8-.9 1.7-.5 1.8-.1 1.7 .4 1.8 .7 1.7 1.1 1.8 1.5 1.7 1.9 1.7 2.1 1.8 2.3 1.7 2.5 1.8 2.7 1.7 2.7 1.8 2.7 1.7 2.7 1.8 2.6 1.7 2.5 1.8 2.3 1.7 2.2 1.8 2.1 1.7 1.8 1.7 1.6 1.8 1.5 1.7 1.3 1.8 1.1 1.7 1 1.8 .8 1.7 .7 1.8 .7 1.7 .5 1.8 .4 1.7 .4 1.7 .3 1.8 .2 1.7 .3 1.8 .1 1.7 .2 1.8 .2 1.7 .1 1.8 .1 1.7 .1 1.8 .1 1.7 .1 1.8 .1 1.7 0 1.7 .1 1.8 .1 1.7 0 1.8 .1 1.7 0 1.8 .1 1.7 0 1.8 .1 1.7 0 1.8 .1 1.7 0 1.8 0 1.7 .1 1.7 0 1.8 0 1.7 .1 1.8 0 1.7 0 1.8 0 1.7 .1 1.8 0 1.7 0 1.8 0 1.7 0 1.8 .1 1.7 0 1.7 0 1.8 0 1.7 0 1.8 0 1.7 0 1.8 0 1.7 .1 1.8 0 1.7 0 1.8 0 1.7 0 1.7 0 1.8 0 1.7 0 1.8 0 1.7 0 1.8 0 1.7 0 1.8 0 1.7 0 1.8 0 1.7 0 1.8 0 1.7 .1 1.7 0 1.8 0 1.7 0 1.8 0 1.7 0 1.8 0 1.7 0 1.8 0 1.7 0 1.8 0 1.7 0 1.8 0 1.7 0" fill="none" stroke="#c9a227" stroke-width="1.1"/><path d="M458.9 606.8l1.7 0 1.8 0 1.7 0 1.8 0 1.7 0 1.8 0 1.7 0 1.8 0 1.7 0 1.8 0 1.7 0 1.8 0 1.7 0 1.7 0 1.8 0 1.7 0 1.8 0 1.7 0 1.8 0 1.7 0 1.8 0 1.7 0 1.8 0 1.7 0 1.7 0 1.8 0 1.7 0 1.8 0 1.7 0 1.8 0 1.7 .1 1.8 0 1.7 0 1.8 0 1.7 0 1.8 0 1.7 0 1.7 0 1.8 0 1.7 0 1.8 0 1.7 0 1.8 0 1.7 0 1.8 0 1.7 0 1.8 0 1.7 .1 1.8 0 1.7 0 1.7 0 1.8 0 1.7 0 1.8 0 1.7 0 1.8 .1 1.7 0 1.8 0 1.7 0 1.8 0 1.7 .1 1.8 0 1.7 0 1.7 0 1.8 .1 1.7 0 1.8 0 1.7 .1 1.8 0 1.7 0 1.8 .1 1.7 0 1.8 .1 1.7 0 1.7 .1 1.8 0 1.7 .1 1.8 .1 1.7 0 1.8 .1 1.7 .1 1.8 0 1.7 .1 1.8 .1 1.7 .1 1.8 0 1.7 .1 1.7 .1 1.8 .1 1.7 .1 1.8 0 1.7 .1 1.8 0 1.7 0 1.8 0 1.7-.1 1.8-.1 1.7-.3 1.8-.3 1.7-.5 1.7-.7 1.8-.8 1.7-1 1.8-1.3 1.7-1.5 1.8-1.8 1.7-2.1 1.8-2.3 1.7-2.6 1.8-2.7 1.7-2.9 1.8-3 1.7-2.9 1.7-2.8 1.8-2.6 1.7-2.4 1.8-1.9 1.7-1.5 1.8-.9 1.7-.4 1.8 .2 1.7 .8 1.8 1.4 1.7 1.9 1.7 2.4 1.8 2.6 1.7 3 1.8 3.1 1.7 3.2 1.8 3.2 1.7 3.1 1.8 2.9 1.7 2.7 1.8 2.5 1.7 2.2 1.8 1.9 1.7 1.7 1.7 1.4 1.8 1.2 1.7 .9 1.8 .8 1.7 .6 1.8 .5 1.7 .4 1.8 .3 1.7 .3 1.8 .1 1.7 .2 1.8 .1 1.7 .1 1.7 0 1.8 .1 1.7 0 1.8 .1 1.7 0 1.8 0 1.7 .1 1.8 0 1.7 0 1.8 0 1.7 0 1.8 .1 1.7 0 1.7 0 1.8 0 1.7 0 1.8 0 1.7 0 1.8 0 1.7 .1 1.8 0 1.7 0 1.8 0 1.7 0 1.7 0 1.8 0 1.7 0 1.8 0 1.7 0 1.8 0 1.7 0 1.8 0 1.7 0 1.8 0 1.7 0 1.8 0 1.7 .1 1.7 0 1.8 0 1.7 0 1.8 0 1.7 0 1.8 0 1.7 0 1.8 0 1.7 0 1.8 0 1.7 0 1.8 0 1.7 0" fill="none" stroke="#a8c3e2" stroke-width="1.1"/><path d="M458.9 606.8l1.7 0 1.8 0 1.7 0 1.8 0 1.7 0 1.8 0 1.7 0 1.8 0 1.7 0 1.8 0 1.7 0 1.8 0 1.7 0 1.7 0 1.8 0 1.7 0 1.8 0 1.7 0 1.8 0 1.7 0 1.8 0 1.7 0 1.8 0 1.7 0 1.7 0 1.8 0 1.7 0 1.8 0 1.7 0 1.8 0 1.7 .1 1.8 0 1.7 0 1.8 0 1.7 0 1.8 0 1.7 0 1.7 0 1.8 0 1.7 0 1.8 0 1.7 0 1.8 0 1.7 0 1.8 0 1.7 0 1.8 0 1.7 .1 1.8 0 1.7 0 1.7 0 1.8 0 1.7 0 1.8 0 1.7 0 1.8 .1 1.7 0 1.8 0 1.7 0 1.8 0 1.7 .1 1.8 0 1.7 0 1.7 0 1.8 .1 1.7 0 1.8 0 1.7 .1 1.8 0 1.7 0 1.8 .1 1.7 0 1.8 .1 1.7 0 1.7 .1 1.8 0 1.7 .1 1.8 .1 1.7 0 1.8 .1 1.7 .1 1.8 0 1.7 .1 1.8 .1 1.7 .1 1.8 .1 1.7 0 1.7 .1 1.8 .1 1.7 .1 1.8 .2 1.7 .1 1.8 .1 1.7 .1 1.8 .1 1.7 .1 1.8 .2 1.7 .1 1.8 .1 1.7 .2 1.7 .1 1.8 .2 1.7 .1 1.8 .2 1.7 .1 1.8 .2 1.7 .1 1.8 .2 1.7 .1 1.8 .1 1.7 .2 1.8 .1 1.7 .2 1.7 .1 1.8 .2 1.7 .1 1.8 .2 1.7 .1 1.8 .1 1.7 .2 1.8 .1 1.7 .1 1.8 .1 1.7 .2 1.7 .1 1.8 .1 1.7 .1 1.8 .1 1.7 .1 1.8 .1 1.7 .1 1.8 .1 1.7 0 1.8 .1 1.7 .1 1.8 .1 1.7 0 1.7 .1 1.8 .1 1.7 0 1.8 .1 1.7 0 1.8 .1 1.7 0 1.8 .1 1.7 0 1.8 .1 1.7 0 1.8 0 1.7 .1 1.7 0 1.8 0 1.7 .1 1.8 0 1.7 0 1.8 0 1.7 .1 1.8 0 1.7 0 1.8 0 1.7 0 1.8 .1 1.7 0 1.7 0 1.8 0 1.7 0 1.8 0 1.7 0 1.8 0 1.7 .1 1.8 0 1.7 0 1.8 0 1.7 0 1.7 0 1.8 0 1.7 0 1.8 0 1.7 0 1.8 0 1.7 0 1.8 0 1.7 0 1.8 0 1.7 0 1.8 0 1.7 .1 1.7 0 1.8 0 1.7 0 1.8 0 1.7 0 1.8 0 1.7 0 1.8 0 1.7 0 1.8 0 1.7 0 1.8 0 1.7 0" fill="none" stroke="#2d56a6" stroke-width="1"/><g fill="#fff" fill-opacity="0.6" stroke="#8a8a8a" stroke-width="0.8"><circle cx="453.1" cy="607.3" r="2.6"/><circle cx="455.6" cy="607.6" r="2.6"/><circle cx="458" cy="606.9" r="2.6"/><circle cx="460.5" cy="607.2" r="2.6"/><circle cx="463" cy="606.5" r="2.6"/><circle cx="465.4" cy="605.5" r="2.6"/><circle cx="467.9" cy="605.9" r="2.6"/><circle cx="470.4" cy="607.5" r="2.6"/><circle cx="472.9" cy="607.2" r="2.6"/><circle cx="475.3" cy="608.2" r="2.6"/><circle cx="477.8" cy="606.9" r="2.6"/><circle cx="480.3" cy="607.6" r="2.6"/><circle cx="482.8" cy="608" r="2.6"/><circle cx="485.2" cy="607.7" r="2.6"/><circle cx="487.7" cy="606.3" r="2.6"/><circle cx="490.2" cy="606.7" r="2.6"/><circle cx="492.7" cy="606.9" r="2.6"/><circle cx="495.1" cy="605.9" r="2.6"/><circle cx="497.6" cy="607.3" r="2.6"/><circle cx="500.1" cy="607.8" r="2.6"/><circle cx="502.6" cy="606.4" r="2.6"/><circle cx="505" cy="608.6" r="2.6"/><circle cx="507.5" cy="606.6" r="2.6"/><circle cx="510" cy="606.7" r="2.6"/><circle cx="512.4" cy="606.6" r="2.6"/><circle cx="514.9" cy="606.2" r="2.6"/><circle cx="517.4" cy="607.2" r="2.6"/><circle cx="519.9" cy="606.9" r="2.6"/><circle cx="522.3" cy="608.4" r="2.6"/><circle cx="524.8" cy="607.4" r="2.6"/><circle cx="527.3" cy="607.4" r="2.6"/><circle cx="529.8" cy="606.7" r="2.6"/><circle cx="532.2" cy="605.6" r="2.6"/><circle cx="534.7" cy="606.8" r="2.6"/><circle cx="537.2" cy="606.1" r="2.6"/><circle cx="539.7" cy="607.7" r="2.6"/><circle cx="542.1" cy="606.8" r="2.6"/><circle cx="544.6" cy="608.3" r="2.6"/><circle cx="547.1" cy="607.4" r="2.6"/><circle cx="549.5" cy="607.4" r="2.6"/><circle cx="552" cy="606.7" r="2.6"/><circle cx="554.5" cy="606.5" r="2.6"/><circle cx="557" cy="606.6" r="2.6"/><circle cx="559.4" cy="606.4" r="2.6"/><circle cx="561.9" cy="604.4" r="2.6"/><circle cx="564.4" cy="604.7" r="2.6"/><circle cx="566.9" cy="605.5" r="2.6"/><circle cx="569.3" cy="601.7" r="2.6"/><circle cx="571.8" cy="599.8" r="2.6"/><circle cx="574.3" cy="597.2" r="2.6"/><circle cx="576.8" cy="593.7" r="2.6"/><circle cx="579.2" cy="592.7" r="2.6"/><circle cx="581.7" cy="587.6" r="2.6"/><circle cx="584.2" cy="583" r="2.6"/><circle cx="586.6" cy="578.9" r="2.6"/><circle cx="589.1" cy="573.2" r="2.6"/><circle cx="591.6" cy="563.1" r="2.6"/><circle cx="594.1" cy="557.3" r="2.6"/><circle cx="596.5" cy="548.8" r="2.6"/><circle cx="599" cy="540.2" r="2.6"/><circle cx="601.5" cy="531.8" r="2.6"/><circle cx="604" cy="523.1" r="2.6"/><circle cx="606.4" cy="516.7" r="2.6"/><circle cx="608.9" cy="508.8" r="2.6"/><circle cx="611.4" cy="502.6" r="2.6"/><circle cx="613.9" cy="498.7" r="2.6"/><circle cx="616.3" cy="495.2" r="2.6"/><circle cx="618.8" cy="493.5" r="2.6"/><circle cx="621.3" cy="493.6" r="2.6"/><circle cx="623.8" cy="497.1" r="2.6"/><circle cx="626.2" cy="499.6" r="2.6"/><circle cx="628.7" cy="504.2" r="2.6"/><circle cx="631.2" cy="509.8" r="2.6"/><circle cx="633.6" cy="517.4" r="2.6"/><circle cx="636.1" cy="524.2" r="2.6"/><circle cx="638.6" cy="532.8" r="2.6"/><circle cx="641.1" cy="540" r="2.6"/><circle cx="643.5" cy="544.4" r="2.6"/><circle cx="646" cy="551.7" r="2.6"/><circle cx="648.5" cy="556.6" r="2.6"/><circle cx="651" cy="559.4" r="2.6"/><circle cx="653.4" cy="560.4" r="2.6"/><circle cx="655.9" cy="563.5" r="2.6"/><circle cx="658.4" cy="562.2" r="2.6"/><circle cx="660.9" cy="561.9" r="2.6"/><circle cx="663.3" cy="562.2" r="2.6"/><circle cx="665.8" cy="563.7" r="2.6"/><circle cx="668.3" cy="565.6" r="2.6"/><circle cx="670.7" cy="567.6" r="2.6"/><circle cx="673.2" cy="569.3" r="2.6"/><circle cx="675.7" cy="571.5" r="2.6"/><circle cx="678.2" cy="576" r="2.6"/><circle cx="680.6" cy="580.2" r="2.6"/><circle cx="683.1" cy="585.6" r="2.6"/><circle cx="685.6" cy="588.8" r="2.6"/><circle cx="688.1" cy="595" r="2.6"/><circle cx="690.5" cy="599.6" r="2.6"/><circle cx="693" cy="602.5" r="2.6"/><circle cx="695.5" cy="606" r="2.6"/><circle cx="698" cy="607.3" r="2.6"/><circle cx="700.4" cy="608.8" r="2.6"/><circle cx="702.9" cy="611" r="2.6"/><circle cx="705.4" cy="613.8" r="2.6"/><circle cx="707.9" cy="614.5" r="2.6"/><circle cx="710.3" cy="613.7" r="2.6"/><circle cx="712.8" cy="615.6" r="2.6"/><circle cx="715.3" cy="614.5" r="2.6"/><circle cx="717.7" cy="616.4" r="2.6"/><circle cx="720.2" cy="615.6" r="2.6"/><circle cx="722.7" cy="614.8" r="2.6"/><circle cx="725.2" cy="616" r="2.6"/><circle cx="727.6" cy="614.7" r="2.6"/><circle cx="730.1" cy="614.6" r="2.6"/><circle cx="732.6" cy="614.1" r="2.6"/><circle cx="735.1" cy="615.7" r="2.6"/><circle cx="737.5" cy="615.5" r="2.6"/><circle cx="740" cy="615.5" r="2.6"/><circle cx="742.5" cy="615.2" r="2.6"/><circle cx="745" cy="616.9" r="2.6"/><circle cx="747.4" cy="615.2" r="2.6"/><circle cx="749.9" cy="615" r="2.6"/><circle cx="752.4" cy="616.8" r="2.6"/><circle cx="754.8" cy="616.9" r="2.6"/><circle cx="757.3" cy="616" r="2.6"/><circle cx="759.8" cy="614.1" r="2.6"/><circle cx="762.3" cy="615.1" r="2.6"/><circle cx="764.7" cy="616.2" r="2.6"/><circle cx="767.2" cy="615.7" r="2.6"/><circle cx="769.7" cy="617.1" r="2.6"/><circle cx="772.2" cy="614.5" r="2.6"/><circle cx="774.6" cy="616.3" r="2.6"/><circle cx="777.1" cy="615.2" r="2.6"/><circle cx="779.6" cy="616.9" r="2.6"/><circle cx="782.1" cy="615.7" r="2.6"/><circle cx="784.5" cy="616.7" r="2.6"/><circle cx="787" cy="615.2" r="2.6"/><circle cx="789.5" cy="614.5" r="2.6"/><circle cx="791.9" cy="614.8" r="2.6"/><circle cx="794.4" cy="615.2" r="2.6"/><circle cx="796.9" cy="614.8" r="2.6"/><circle cx="799.4" cy="616.9" r="2.6"/><circle cx="801.8" cy="617" r="2.6"/><circle cx="804.3" cy="616" r="2.6"/><circle cx="806.8" cy="614.8" r="2.6"/><circle cx="809.3" cy="615.7" r="2.6"/><circle cx="811.7" cy="615.2" r="2.6"/></g><path d="M458.9 606.8l1.7 0 1.8 0 1.7 0 1.8 0 1.7 0 1.8 0 1.7 0 1.8 0 1.7 0 1.8 0 1.7 0 1.8 0 1.7 0 1.7 0 1.8 0 1.7 0 1.8 0 1.7 0 1.8 0 1.7 0 1.8 0 1.7 0 1.8 0 1.7 0 1.7 0 1.8 0 1.7 0 1.8 0 1.7 0 1.8 0 1.7 .1 1.8 0 1.7 0 1.8 0 1.7 0 1.8 0 1.7 0 1.7 0 1.8 0 1.7 0 1.8 0 1.7 0 1.8 0 1.7 0 1.8 0 1.7 0 1.8 0 1.7 0 1.8-.1 1.7 0 1.7-.1 1.8 0 1.7-.1 1.8-.1 1.7-.2 1.8-.2 1.7-.3 1.8-.3 1.7-.5 1.8-.5 1.7-.7 1.8-.7 1.7-1 1.7-1.2 1.8-1.3 1.7-1.6 1.8-1.9 1.7-2.2 1.8-2.5 1.7-2.8 1.8-3.2 1.7-3.6 1.8-3.9 1.7-4.3 1.7-4.7 1.8-5 1.7-5.3 1.8-5.5 1.7-5.8 1.8-6 1.7-5.9 1.8-6 1.7-5.9 1.8-5.6 1.7-5.3 1.8-4.8 1.7-4.3 1.7-3.7 1.8-3 1.7-2.1 1.8-1.4 1.7-.4 1.8 .4 1.7 1.3 1.8 2.1 1.7 2.9 1.8 3.7 1.7 4.2 1.8 4.7 1.7 5 1.7 5.3 1.8 5.4 1.7 5.2 1.8 5.1 1.7 4.8 1.8 4.3 1.7 3.9 1.8 3.2 1.7 2.7 1.8 2.1 1.7 1.6 1.8 1 1.7 .7 1.7 .3 1.8 .2 1.7 0 1.8 .1 1.7 .3 1.8 .5 1.7 .9 1.8 1.2 1.7 1.6 1.8 2.1 1.7 2.4 1.7 2.7 1.8 3 1.7 3.2 1.8 3.4 1.7 3.3 1.8 3.3 1.7 3.2 1.8 2.9 1.7 2.8 1.8 2.5 1.7 2.2 1.8 2 1.7 1.7 1.7 1.4 1.8 1.2 1.7 .9 1.8 .8 1.7 .6 1.8 .5 1.7 .4 1.8 .3 1.7 .3 1.8 .1 1.7 .2 1.8 .1 1.7 .1 1.7 0 1.8 .1 1.7 0 1.8 .1 1.7 0 1.8 0 1.7 .1 1.8 0 1.7 0 1.8 0 1.7 0 1.8 .1 1.7 0 1.7 0 1.8 0 1.7 0 1.8 0 1.7 0 1.8 0 1.7 .1 1.8 0 1.7 0 1.8 0 1.7 0 1.7 0 1.8 0 1.7 0 1.8 0 1.7 0 1.8 0 1.7 0 1.8 0 1.7 0 1.8 0 1.7 0 1.8 0 1.7 .1 1.7 0 1.8 0 1.7 0 1.8 0 1.7 0 1.8 0 1.7 0 1.8 0 1.7 0 1.8 0 1.7 0 1.8 0 1.7 0" fill="none" stroke="#2d56a6" stroke-width="1.4"/><rect x="458.9" y="344.2" width="350.6" height="281.3" fill="none" stroke="#2a2a2a" stroke-width="1.3"/><line x1="458.9" y1="484.5" x2="809.5" y2="484.5" stroke="#2a2a2a" stroke-width="1.3" /><line x1="488" y1="484.5" x2="488" y2="479.5" stroke="#2a2a2a" stroke-width="1" /><line x1="488" y1="625.5" x2="488" y2="620.5" stroke="#2a2a2a" stroke-width="1" /><text x="488" y="644" font-size="14" text-anchor="middle" fill="#000" >538</text><line x1="517.1" y1="484.5" x2="517.1" y2="481.5" stroke="#2a2a2a" stroke-width="1" /><line x1="517.1" y1="625.5" x2="517.1" y2="622.5" stroke="#2a2a2a" stroke-width="1" /><line x1="546.2" y1="484.5" x2="546.2" y2="479.5" stroke="#2a2a2a" stroke-width="1" /><line x1="546.2" y1="625.5" x2="546.2" y2="620.5" stroke="#2a2a2a" stroke-width="1" /><text x="546.2" y="644" font-size="14" text-anchor="middle" fill="#000" >536</text><line x1="575.3" y1="484.5" x2="575.3" y2="481.5" stroke="#2a2a2a" stroke-width="1" /><line x1="575.3" y1="625.5" x2="575.3" y2="622.5" stroke="#2a2a2a" stroke-width="1" /><line x1="604.4" y1="484.5" x2="604.4" y2="479.5" stroke="#2a2a2a" stroke-width="1" /><line x1="604.4" y1="625.5" x2="604.4" y2="620.5" stroke="#2a2a2a" stroke-width="1" /><text x="604.4" y="644" font-size="14" text-anchor="middle" fill="#000" >534</text><line x1="633.5" y1="484.5" x2="633.5" y2="481.5" stroke="#2a2a2a" stroke-width="1" /><line x1="633.5" y1="625.5" x2="633.5" y2="622.5" stroke="#2a2a2a" stroke-width="1" /><line x1="662.6" y1="484.5" x2="662.6" y2="479.5" stroke="#2a2a2a" stroke-width="1" /><line x1="662.6" y1="625.5" x2="662.6" y2="620.5" stroke="#2a2a2a" stroke-width="1" /><text x="662.6" y="644" font-size="14" text-anchor="middle" fill="#000" >532</text><line x1="691.7" y1="484.5" x2="691.7" y2="481.5" stroke="#2a2a2a" stroke-width="1" /><line x1="691.7" y1="625.5" x2="691.7" y2="622.5" stroke="#2a2a2a" stroke-width="1" /><line x1="720.8" y1="484.5" x2="720.8" y2="479.5" stroke="#2a2a2a" stroke-width="1" /><line x1="720.8" y1="625.5" x2="720.8" y2="620.5" stroke="#2a2a2a" stroke-width="1" /><text x="720.8" y="644" font-size="14" text-anchor="middle" fill="#000" >530</text><line x1="749.9" y1="484.5" x2="749.9" y2="481.5" stroke="#2a2a2a" stroke-width="1" /><line x1="749.9" y1="625.5" x2="749.9" y2="622.5" stroke="#2a2a2a" stroke-width="1" /><line x1="779" y1="484.5" x2="779" y2="479.5" stroke="#2a2a2a" stroke-width="1" /><line x1="779" y1="625.5" x2="779" y2="620.5" stroke="#2a2a2a" stroke-width="1" /><text x="779" y="644" font-size="14" text-anchor="middle" fill="#000" >528</text><text x="464" y="362" font-size="17" text-anchor="start" fill="#000" >O 1<tspan font-style="italic">s</tspan></text><text x="805" y="361" font-size="17" text-anchor="end" fill="#000" >BEN</text><text x="805" y="502" font-size="17" text-anchor="end" fill="#000" >EA</text><text x="649.7" y="663" font-size="17.4" text-anchor="middle" fill="#000" >Binding energy (eV)</text><text x="448" y="478" font-size="17.4" text-anchor="middle" fill="#000" transform="rotate(-90 448 478)">Intensity (a.u.)</text><text x="583" y="385.2" font-size="17" text-anchor="start" fill="#000" >C-O</text><line x1="582.5" y1="388" x2="614" y2="388" stroke="#777" stroke-width="1.4" /><line x1="613.6" y1="388" x2="656.2" y2="426" stroke="#111" stroke-width="1" /><text x="554.2" y="412" font-size="17" text-anchor="start" fill="#000" >C-O-C</text><line x1="553.5" y1="415.2" x2="602" y2="415.2" stroke="#777" stroke-width="1.4" /><line x1="601.8" y1="415.2" x2="624.7" y2="433.8" stroke="#111" stroke-width="1" /><text x="702.7" y="410.2" font-size="17" text-anchor="start" fill="#000" >Bi-O</text><line x1="702" y1="412.5" x2="736.5" y2="412.5" stroke="#777" stroke-width="1.4" /><line x1="702" y1="412.5" x2="680.7" y2="426" stroke="#111" stroke-width="1" /><text x="710.6" y="434.9" font-size="17" text-anchor="start" fill="#000" >C=O</text><line x1="711" y1="437.6" x2="746" y2="437.6" stroke="#777" stroke-width="1.4" /><line x1="711.4" y1="437.6" x2="689.3" y2="452.3" stroke="#111" stroke-width="1" /><text x="545" y="510.8" font-size="17" text-anchor="start" fill="#000" >C-OH</text><line x1="545" y1="513.1" x2="588" y2="513.1" stroke="#777" stroke-width="1.4" /><line x1="587.6" y1="513.1" x2="616.7" y2="533.6" stroke="#111" stroke-width="1" /><text x="539.8" y="536" font-size="17" text-anchor="start" fill="#000" >C-O-C</text><line x1="539.5" y1="538.4" x2="589" y2="538.4" stroke="#777" stroke-width="1.4" /><line x1="589.1" y1="538.4" x2="622.3" y2="566.8" stroke="#111" stroke-width="1" /><text x="692.5" y="552.2" font-size="17" text-anchor="start" fill="#000" >C=O</text><line x1="692.5" y1="554.1" x2="727" y2="554.1" stroke="#777" stroke-width="1.4" /><line x1="692.5" y1="554.1" x2="671.2" y2="568.3" stroke="#111" stroke-width="1" /><text x="862" y="355" font-size="17" text-anchor="start" fill="#000" >d</text><clipPath id="clipd"><rect x="913.5" y="344.2" width="350.29999999999995" height="282.59999999999997"/></clipPath><path d="M913.3 601.8l1.8-.1 1.7-.1 1.8-.1 1.7-.1 1.8-.1 1.7-.1 1.8-.1 1.7-.1 1.8-.1 1.7-.1 1.8-.1 1.7-.1 1.8-.2 1.8-.1 1.7-.1 1.8-.1 1.7-.1 1.8-.1 1.7-.2 1.8-.1 1.7-.1 1.8-.1 1.7-.2 1.8-.1 1.7-.1 1.8-.1 1.8-.1 1.7-.2 1.8-.1 1.7-.1 1.8-.1 1.7-.1 1.8-.1 1.7-.2 1.8-.1 1.7-.1 1.8-.1 1.8-.2 1.7-.1 1.8-.1 1.7-.2 1.8-.1 1.7-.2 1.8-.2 1.7-.1 1.8-.2 1.7-.2 1.8-.2 1.7-.2 1.8-.2 1.8-.2 1.7-.3 1.8-.2 1.7-.3 1.8-.3 1.7-.3 1.8-.3 1.7-.3 1.8-.4 1.7-.4 1.8-.4 1.7-.4 1.8-.4 1.8-.5 1.7-.5 1.8-.5 1.7-.6 1.8-.6 1.7-.6 1.8-.7 1.7-.8 1.8-.8 1.7-.8 1.8-1 1.7-.9 1.8-1.1 1.8-1.1 1.7-1.1 1.8-1.3 1.7-1.3 1.8-1.5 1.7-1.6 1.8-1.8 1.7-2 1.8-2.2 1.7-2.4 1.8-2.6 1.8-2.7 1.7-2.8 1.8-2.9 1.7-3 1.8-3 1.7-3.1 1.8-3.2 1.7-3.3 1.8-3.4 1.7-3.6 1.8-3.7 1.7-3.9 1.8-4.2 1.8-4.4 1.7-4.7 1.8-5.1 1.7-5.4 1.8-5.8 1.7-6 1.8-6.1 1.7-6.2 1.8-6.2 1.7-6.2 1.8-6.1 1.7-6 1.8-5.8 1.8-5.5 1.7-5.3 1.8-4.9 1.7-4.5 1.8-4.1 1.7-3.8 1.8-3.3 1.7-3.1 1.8-2.7 1.7-2.6 1.8-2.3 1.7-2.2 1.8-2 1.8-1.9 1.7-1.7 1.8-1.7 1.7-1.6 1.8-1.6 1.7-1.5 1.8-1.5 1.7-1.5 1.8-1.5 1.7-1.4 1.8-1.4 1.8-1.3 1.7-1.3 1.8-1.1 1.7-1.2 1.8-1 1.7-.9 1.8-.9 1.7-.6 1.8-.5 1.7-.3 1.8-.1 1.7 .1 1.8 .1 1.8 .3 1.7 .3 1.8 .3 1.7 .3 1.8 .4 1.7 .4 1.8 .4 1.7 .5 1.8 .4 1.7 .5 1.8 .5 1.7 .6 1.8 .5 1.8 .6 1.7 .5 1.8 .6 1.7 .5 1.8 .6 1.7 .5 1.8 .5 1.7 .4 1.8 .5 1.7 .5 1.8 .4 1.7 .5 1.8 .4 1.8 .5 1.7 .4 1.8 .4 1.7 .4 1.8 .3 1.7 .4 1.8 .4 1.7 .3 1.8 .3 1.7 .4 1.8 .3 1.8 .3 1.7 .3 1.8 .3 1.7 .3 1.8 .3 1.7 .3 1.8 .2 1.7 .2 1.8 .2 1.7 .2 1.8 .2 1.7 .1 1.8 .2" fill="none" stroke="#7fb0e0" stroke-width="1.6" clip-path="url(#clipd)"/><path d="M913.3 601.9l1.8-.1 1.7-.1 1.8-.1 1.7-.1 1.8-.1 1.7-.1 1.8-.1 1.7-.1 1.8-.2 1.7-.1 1.8-.1 1.7-.1 1.8-.1 1.8-.1 1.7-.1 1.8-.2 1.7-.1 1.8-.1 1.7-.1 1.8-.1 1.7-.2 1.8-.1 1.7-.1 1.8-.1 1.7-.1 1.8-.2 1.8-.1 1.7-.1 1.8-.1 1.7-.1 1.8-.2 1.7-.1 1.8-.1 1.7-.1 1.8-.1 1.7-.2 1.8-.1 1.8-.1 1.7-.2 1.8-.1 1.7-.1 1.8-.2 1.7-.1 1.8-.2 1.7-.2 1.8-.1 1.7-.2 1.8-.2 1.7-.2 1.8-.2 1.8-.2 1.7-.3 1.8-.2 1.7-.3 1.8-.3 1.7-.3 1.8-.3 1.7-.3 1.8-.4 1.7-.3 1.8-.4 1.7-.4 1.8-.5 1.8-.4 1.7-.5 1.8-.5 1.7-.6 1.8-.5 1.7-.7 1.8-.7 1.7-.7 1.8-.8 1.7-.8 1.8-.9 1.7-1 1.8-1 1.8-1 1.7-1.2 1.8-1.2 1.7-1.3 1.8-1.4 1.7-1.6 1.8-1.7 1.7-1.9 1.8-2.2 1.7-2.3 1.8-2.5 1.8-2.7 1.7-2.8 1.8-2.8 1.7-3 1.8-3 1.7-3.1 1.8-3.1 1.7-3.3 1.8-3.3 1.7-3.5 1.8-3.7 1.7-3.8 1.8-4.1 1.8-4.3 1.7-4.6 1.8-5 1.7-5.3 1.8-5.6 1.7-5.9 1.8-6.1 1.7-6.2 1.8-6.2 1.7-6.2 1.8-6.1 1.7-6.1 1.8-5.8 1.8-5.7 1.7-5.3 1.8-5.1 1.7-4.7 1.8-4.2 1.7-3.9 1.8-3.5 1.7-3.2 1.8-2.8 1.7-2.7 1.8-2.4 1.7-2.2 1.8-2.1 1.8-1.9 1.7-1.8 1.8-1.7 1.7-1.6 1.8-1.6 1.7-1.5 1.8-1.6 1.7-1.5 1.8-1.4 1.7-1.5 1.8-1.4 1.8-1.3 1.7-1.3 1.8-1.2 1.7-1.2 1.8-1 1.7-1 1.8-.9 1.7-.7 1.8-.5 1.7-.4 1.8-.2 1.7 0 1.8 .1 1.8 .3 1.7 .2 1.8 .4 1.7 .3 1.8 .4 1.7 .4 1.8 .4 1.7 .4 1.8 .5 1.7 .4 1.8 .5 1.7 .6 1.8 .5 1.8 .6 1.7 .5 1.8 .6 1.7 .5 1.8 .6 1.7 .5 1.8 .5 1.7 .5 1.8 .4 1.7 .5 1.8 .5 1.7 .4 1.8 .5 1.8 .4 1.7 .4 1.8 .4 1.7 .4 1.8 .4 1.7 .4 1.8 .3 1.7 .4 1.8 .3 1.7 .4 1.8 .3 1.8 .3 1.7 .3 1.8 .3 1.7 .3 1.8 .3 1.7 .3 1.8 .2 1.7 .3 1.8 .2 1.7 .2 1.8 .1 1.7 .2 1.8 .1" fill="none" stroke="#6a9bd6" stroke-width="1.3" clip-path="url(#clipd)"/><path d="M913.3 602l1.8-.1 1.7-.1 1.8-.1 1.7-.1 1.8-.1 1.7-.2 1.8-.1 1.7-.1 1.8-.1 1.7-.1 1.8-.1 1.7-.1 1.8-.1 1.8-.1 1.7-.2 1.8-.1 1.7-.1 1.8-.1 1.7-.1 1.8-.1 1.7-.2 1.8-.1 1.7-.1 1.8-.1 1.7-.2 1.8-.1 1.8-.1 1.7-.1 1.8-.1 1.7-.2 1.8-.1 1.7-.1 1.8-.1 1.7-.1 1.8-.1 1.7-.2 1.8-.1 1.8-.1 1.7-.2 1.8-.1 1.7-.1 1.8-.2 1.7-.1 1.8-.2 1.7-.1 1.8-.2 1.7-.2 1.8-.2 1.7-.1 1.8-.2 1.8-.3 1.7-.2 1.8-.2 1.7-.3 1.8-.3 1.7-.2 1.8-.3 1.7-.4 1.8-.3 1.7-.4 1.8-.3 1.7-.4 1.8-.4 1.8-.5 1.7-.4 1.8-.5 1.7-.5 1.8-.6 1.7-.6 1.8-.6 1.7-.7 1.8-.8 1.7-.8 1.8-.8 1.7-.9 1.8-1 1.8-1 1.7-1.1 1.8-1.2 1.7-1.2 1.8-1.3 1.7-1.5 1.8-1.6 1.7-1.8 1.8-1.9 1.7-2.2 1.8-2.4 1.8-2.6 1.7-2.7 1.8-2.8 1.7-2.9 1.8-2.9 1.7-3 1.8-3.1 1.7-3.2 1.8-3.3 1.7-3.4 1.8-3.5 1.7-3.7 1.8-3.9 1.8-4.1 1.7-4.4 1.8-4.7 1.7-5 1.8-5.4 1.7-5.8 1.8-5.9 1.7-6.1 1.8-6.2 1.7-6.3 1.8-6.1 1.7-6.2 1.8-5.9 1.8-5.9 1.7-5.5 1.8-5.3 1.7-5 1.8-4.6 1.7-4.2 1.8-3.7 1.7-3.4 1.8-3.1 1.7-2.8 1.8-2.6 1.7-2.3 1.8-2.2 1.8-2 1.7-1.9 1.8-1.6 1.7-1.4 1.8-1.5 1.7-1.3 1.8-1.4 1.7-1.3 1.8-1.3 1.7-1.3 1.8-1.3 1.8-1.2 1.7-1.2 1.8-1.1 1.7-1 1.8-1 1.7-1 1.8-.8 1.7-.7 1.8-.6 1.7-.5 1.8-.2 1.7-.1 1.8 0 1.8 .1 1.7 .2 1.8 .3 1.7 .3 1.8 .3 1.7 .3 1.8 .3 1.7 .4 1.8 .4 1.7 .4 1.8 .4 1.7 .5 1.8 .4 1.8 .5 1.7 .5 1.8 .5 1.7 .5 1.8 .5 1.7 .4 1.8 .5 1.7 .4 1.8 .4 1.7 .5 1.8 .4 1.7 .4 1.8 .4 1.8 .4 1.7 .3 1.8 .4 1.7 .4 1.8 .3 1.7 .3 1.8 .4 1.7 .3 1.8 .3 1.7 .3 1.8 .3 1.8 .3 1.7 .2 1.8 .3 1.7 .3 1.8 .2 1.7 .3 1.8 .2 1.7 .2 1.8 .2 1.7 .2 1.8 .2 1.7 .1 1.8 .2" fill="none" stroke="#2f66b0" stroke-width="1.2" clip-path="url(#clipd)"/><path d="M913.3 602l1.8-.1 1.7-.1 1.8-.1 1.7-.1 1.8-.1 1.7-.1 1.8-.1 1.7-.1 1.8-.1 1.7-.1 1.8-.2 1.7-.1 1.8-.1 1.8-.1 1.7-.1 1.8-.1 1.7-.1 1.8-.2 1.7-.1 1.8-.1 1.7-.1 1.8-.1 1.7-.2 1.8-.1 1.7-.1 1.8-.1 1.8-.2 1.7-.1 1.8-.1 1.7-.1 1.8-.1 1.7-.1 1.8-.2 1.7-.1 1.8-.1 1.7-.1 1.8-.1 1.8-.2 1.7-.1 1.8-.1 1.7-.2 1.8-.1 1.7-.2 1.8-.1 1.7-.2 1.8-.1 1.7-.2 1.8-.2 1.7-.2 1.8-.2 1.8-.2 1.7-.2 1.8-.2 1.7-.3 1.8-.2 1.7-.3 1.8-.3 1.7-.3 1.8-.4 1.7-.3 1.8-.4 1.7-.4 1.8-.4 1.8-.4 1.7-.5 1.8-.4 1.7-.5 1.8-.6 1.7-.6 1.8-.6 1.7-.7 1.8-.7 1.7-.8 1.8-.8 1.7-.9 1.8-.9 1.8-1 1.7-1.1 1.8-1.1 1.7-1.2 1.8-1.3 1.7-1.4 1.8-1.6 1.7-1.7 1.8-1.9 1.7-2.1 1.8-2.3 1.8-2.5 1.7-2.7 1.8-2.7 1.7-2.9 1.8-2.9 1.7-3 1.8-3.1 1.7-3.1 1.8-3.2 1.7-3.4 1.8-3.5 1.7-3.6 1.8-3.8 1.8-4 1.7-4.3 1.8-4.6 1.7-4.9 1.8-5.3 1.7-5.6 1.8-5.9 1.7-6 1.8-6.2 1.7-6.2 1.8-6.2 1.7-6.2 1.8-6 1.8-5.9 1.7-5.7 1.8-5.4 1.7-5.1 1.8-4.7 1.7-4.3 1.8-4 1.7-3.5 1.8-3.2 1.7-2.9 1.8-2.6 1.7-2.5 1.8-2.2 1.8-2.1 1.7-1.9 1.8-1.6 1.7-1.5 1.8-1.3 1.7-1.4 1.8-1.3 1.7-1.2 1.8-1.3 1.7-1.2 1.8-1.3 1.8-1.1 1.7-1.2 1.8-1.1 1.7-1 1.8-1 1.7-.9 1.8-.8 1.7-.7 1.8-.7 1.7-.4 1.8-.4 1.7-.1 1.8 0 1.8 .1 1.7 .1 1.8 .2 1.7 .3 1.8 .3 1.7 .3 1.8 .3 1.7 .4 1.8 .3 1.7 .4 1.8 .4 1.7 .4 1.8 .5 1.8 .4 1.7 .5 1.8 .5 1.7 .4 1.8 .5 1.7 .4 1.8 .5 1.7 .4 1.8 .4 1.7 .4 1.8 .4 1.7 .4 1.8 .4 1.8 .4 1.7 .3 1.8 .4 1.7 .3 1.8 .4 1.7 .3 1.8 .3 1.7 .3 1.8 .3 1.7 .3 1.8 .2 1.8 .3 1.7 .3 1.8 .3 1.7 .2 1.8 .3 1.7 .2 1.8 .2 1.7 .2 1.8 .2 1.7 .2 1.8 .2 1.7 .1 1.8 .2" fill="none" stroke="#1d3f80" stroke-width="1.3" clip-path="url(#clipd)"/><path d="M913.3 600.8l1.8-.1 1.7-.1 1.8-.1 1.7-.1 1.8-.1 1.7-.1 1.8-.1 1.7-.2 1.8-.1 1.7-.1 1.8-.1 1.7-.2 1.8-.1 1.8-.1 1.7-.2 1.8-.1 1.7-.2 1.8-.1 1.7-.1 1.8-.2 1.7-.1 1.8-.2 1.7-.1 1.8-.2 1.7-.1 1.8-.2 1.8-.1 1.7-.2 1.8-.1 1.7-.1 1.8-.2 1.7-.1 1.8-.2 1.7-.2 1.8-.1 1.7-.2 1.8-.1 1.8-.2 1.7-.2 1.8-.1 1.7-.2 1.8-.2 1.7-.2 1.8-.2 1.7-.2 1.8-.2 1.7-.2 1.8-.2 1.7-.2 1.8-.3 1.8-.2 1.7-.3 1.8-.3 1.7-.3 1.8-.3 1.7-.3 1.8-.3 1.7-.4 1.8-.3 1.7-.4 1.8-.4 1.7-.4 1.8-.5 1.8-.4 1.7-.5 1.8-.6 1.7-.5 1.8-.6 1.7-.7 1.8-.7 1.7-.7 1.8-.8 1.7-.9 1.8-.9 1.7-1 1.8-1 1.8-1.1 1.7-1.2 1.8-1.2 1.7-1.4 1.8-1.4 1.7-1.6 1.8-1.8 1.7-1.9 1.8-2.2 1.7-2.5 1.8-2.6 1.8-2.8 1.7-2.9 1.8-3 1.7-3 1.8-3.1 1.7-3.1 1.8-3.2 1.7-3.2 1.8-3.3 1.7-3.4 1.8-3.5 1.7-3.5 1.8-3.7 1.8-3.7 1.7-3.8 1.8-3.9 1.7-4.1 1.8-4.1 1.7-4.3 1.8-4.4 1.7-4.5 1.8-4.6 1.7-4.7 1.8-4.8 1.7-4.9 1.8-5.1 1.8-5.1 1.7-5 1.8-5 1.7-4.8 1.8-4.5 1.7-4.2 1.8-4.1 1.7-3.7 1.8-3.6 1.7-3.4 1.8-3.3 1.7-3 1.8-2.8 1.8-2.6 1.7-2.4 1.8-2.2 1.7-1.9 1.8-1.8 1.7-1.7 1.8-1.5 1.7-1.5 1.8-1.3 1.7-1.2 1.8-1.2 1.8-1.1 1.7-1 1.8-1 1.7-.9 1.8-.9 1.7-.8 1.8-.8 1.7-.7 1.8-.7 1.7-.6 1.8-.6 1.7-.6 1.8-.4 1.8-.5 1.7-.4 1.8-.4 1.7-.4 1.8-.3 1.7-.3 1.8-.2 1.7-.1 1.8 0 1.7 0 1.8 .1 1.7 .1 1.8 .2 1.8 .3 1.7 .3 1.8 .3 1.7 .3 1.8 .3 1.7 .4 1.8 .3 1.7 .4 1.8 .4 1.7 .4 1.8 .5 1.7 .4 1.8 .5 1.8 .5 1.7 .4 1.8 .5 1.7 .4 1.8 .4 1.7 .4 1.8 .3 1.7 .4 1.8 .3 1.7 .3 1.8 .4 1.8 .3 1.7 .3 1.8 .3 1.7 .2 1.8 .3 1.7 .2 1.8 .3 1.7 .2 1.8 .2 1.7 .2 1.8 .1 1.7 .1 1.8 .1" fill="none" stroke="#c8232c" stroke-width="1.2" clip-path="url(#clipd)"/><path d="M913.3 600.4l1.8-.1 1.7-.1 1.8-.2 1.7-.1 1.8-.2 1.7-.1 1.8-.1 1.7-.2 1.8-.1 1.7-.2 1.8-.1 1.7-.2 1.8-.1 1.8-.2 1.7-.2 1.8-.1 1.7-.2 1.8-.2 1.7-.1 1.8-.2 1.7-.2 1.8-.2 1.7-.1 1.8-.2 1.7-.2 1.8-.2 1.8-.2 1.7-.2 1.8-.1 1.7-.2 1.8-.2 1.7-.2 1.8-.2 1.7-.2 1.8-.2 1.7-.2 1.8-.2 1.8-.3 1.7-.2 1.8-.2 1.7-.2 1.8-.3 1.7-.2 1.8-.3 1.7-.3 1.8-.2 1.7-.3 1.8-.3 1.7-.3 1.8-.3 1.8-.3 1.7-.3 1.8-.4 1.7-.4 1.8-.4 1.7-.4 1.8-.4 1.7-.4 1.8-.5 1.7-.5 1.8-.4 1.7-.5 1.8-.6 1.8-.5 1.7-.5 1.8-.6 1.7-.6 1.8-.6 1.7-.6 1.8-.6 1.7-.7 1.8-.7 1.7-.8 1.8-.9 1.7-1 1.8-1.1 1.8-1.3 1.7-1.5 1.8-1.7 1.7-2 1.8-2.2 1.7-2.4 1.8-2.7 1.7-2.8 1.8-3 1.7-3.1 1.8-3.3 1.8-3.5 1.7-3.7 1.8-3.9 1.7-4.1 1.8-4.3 1.7-4.4 1.8-4.6 1.7-4.6 1.8-4.7 1.7-4.8 1.8-4.7 1.7-4.8 1.8-4.9 1.8-4.9 1.7-5 1.8-4.9 1.7-5 1.8-4.9 1.7-4.8 1.8-4.7 1.7-4.6 1.8-4.5 1.7-4.4 1.8-4.2 1.7-4.1 1.8-3.9 1.8-3.7 1.7-3.4 1.8-3 1.7-2.9 1.8-2.5 1.7-2.4 1.8-2.2 1.7-1.9 1.8-1.9 1.7-1.6 1.8-1.6 1.7-1.4 1.8-1.3 1.8-1.1 1.7-1 1.8-.8 1.7-.6 1.8-.6 1.7-.4 1.8-.4 1.7-.3 1.8-.4 1.7-.3 1.8-.3 1.8-.4 1.7-.5 1.8-.5 1.7-.5 1.8-.6 1.7-.7 1.8-.7 1.7-.8 1.8-.7 1.7-.7 1.8-.7 1.7-.6 1.8-.6 1.8-.5 1.7-.4 1.8-.4 1.7-.4 1.8-.3 1.7-.3 1.8-.2 1.7-.3 1.8-.2 1.7-.1 1.8-.2 1.7-.1 1.8 0 1.8-.1 1.7 0 1.8-.1 1.7 0 1.8 0 1.7 0 1.8 0 1.7 0 1.8-.1 1.7 0 1.8 .1 1.7 0 1.8 0 1.8 .1 1.7 0 1.8 .1 1.7 .1 1.8 .1 1.7 .2 1.8 .1 1.7 .1 1.8 .1 1.7 .2 1.8 .1 1.8 .1 1.7 .1 1.8 .1 1.7 0 1.8 .1 1.7 .1 1.8 .1 1.7 .1 1.8 0 1.7 .1 1.8 0 1.7 .1 1.8 0" fill="none" stroke="#111" stroke-width="1.2" clip-path="url(#clipd)"/><rect x="913.5" y="344.2" width="350.3" height="282.6" fill="none" stroke="#111" stroke-width="1.4" /><line x1="913.5" y1="605.2" x2="918.5" y2="605.2" stroke="#000" stroke-width="1" /><text x="905.5" y="610.2" font-size="14" text-anchor="end" fill="#000" >0.0</text><line x1="913.5" y1="561.7" x2="918.5" y2="561.7" stroke="#000" stroke-width="1" /><text x="905.5" y="566.7" font-size="14" text-anchor="end" fill="#000" >0.2</text><line x1="913.5" y1="518.2" x2="918.5" y2="518.2" stroke="#000" stroke-width="1" /><text x="905.5" y="523.2" font-size="14" text-anchor="end" fill="#000" >0.4</text><line x1="913.5" y1="474.7" x2="918.5" y2="474.7" stroke="#000" stroke-width="1" /><text x="905.5" y="479.7" font-size="14" text-anchor="end" fill="#000" >0.6</text><line x1="913.5" y1="431.2" x2="918.5" y2="431.2" stroke="#000" stroke-width="1" /><text x="905.5" y="436.2" font-size="14" text-anchor="end" fill="#000" >0.8</text><line x1="913.5" y1="387.7" x2="918.5" y2="387.7" stroke="#000" stroke-width="1" /><text x="905.5" y="392.7" font-size="14" text-anchor="end" fill="#000" >1.0</text><line x1="913.5" y1="344.2" x2="918.5" y2="344.2" stroke="#000" stroke-width="1" /><text x="905.5" y="349.2" font-size="14" text-anchor="end" fill="#000" >1.2</text><line x1="913.5" y1="583.5" x2="916.5" y2="583.5" stroke="#000" stroke-width="1" /><line x1="913.5" y1="540" x2="916.5" y2="540" stroke="#000" stroke-width="1" /><line x1="913.5" y1="496.5" x2="916.5" y2="496.5" stroke="#000" stroke-width="1" /><line x1="913.5" y1="453" x2="916.5" y2="453" stroke="#000" stroke-width="1" /><line x1="913.5" y1="409.4" x2="916.5" y2="409.4" stroke="#000" stroke-width="1" /><line x1="913.5" y1="365.9" x2="916.5" y2="365.9" stroke="#000" stroke-width="1" /><line x1="913.3" y1="626.8" x2="913.3" y2="621.8" stroke="#000" stroke-width="1" /><line x1="1001" y1="626.8" x2="1001" y2="621.8" stroke="#000" stroke-width="1" /><line x1="1088.7" y1="626.8" x2="1088.7" y2="621.8" stroke="#000" stroke-width="1" /><line x1="1176.4" y1="626.8" x2="1176.4" y2="621.8" stroke="#000" stroke-width="1" /><line x1="1264.1" y1="626.8" x2="1264.1" y2="621.8" stroke="#000" stroke-width="1" /><line x1="957.1" y1="626.8" x2="957.1" y2="623.8" stroke="#000" stroke-width="1" /><line x1="1044.8" y1="626.8" x2="1044.8" y2="623.8" stroke="#000" stroke-width="1" /><line x1="1132.5" y1="626.8" x2="1132.5" y2="623.8" stroke="#000" stroke-width="1" /><line x1="1220.2" y1="626.8" x2="1220.2" y2="623.8" stroke="#000" stroke-width="1" /><text x="913.3" y="645" font-size="14" text-anchor="middle" fill="#000" >13380</text><text x="1001" y="645" font-size="14" text-anchor="middle" fill="#000" >13400</text><text x="1088.7" y="645" font-size="14" text-anchor="middle" fill="#000" >13420</text><text x="1176.4" y="645" font-size="14" text-anchor="middle" fill="#000" >13440</text><text x="1243.5" y="645" font-size="14" text-anchor="middle" fill="#000" >13460</text><text x="1088.4" y="662.5" font-size="17.4" text-anchor="middle" fill="#000" >Energy (eV)</text><text x="878" y="488.6" font-size="17.6" text-anchor="middle" fill="#000" transform="rotate(-90 878 488.6)">Normalized absorption (a.u.)</text><line x1="929.4" y1="362.7" x2="961.5" y2="362.7" stroke="#111" stroke-width="1.3" /><text x="972.3" y="368.7" font-size="17" text-anchor="start" fill="#000" >Bi metal</text><line x1="929.4" y1="384" x2="961.5" y2="384" stroke="#c8232c" stroke-width="1.3" /><text x="972.3" y="390" font-size="17" text-anchor="start" fill="#000" >Bi<tspan font-size="11" dy="5">2</tspan><tspan dy="-5">O</tspan><tspan font-size="11" dy="5">3</tspan></text><line x1="929.4" y1="408.6" x2="961.5" y2="408.6" stroke="#9cc2ea" stroke-width="2.2" /><text x="972.3" y="414.6" font-size="17" text-anchor="start" fill="#000" >OCV</text><line x1="929.4" y1="429.9" x2="961.5" y2="429.9" stroke="#6a9bd6" stroke-width="1.6" /><text x="967.6" y="435.9" font-size="17" text-anchor="start" fill="#000" >-0.5 V</text><line x1="929.4" y1="450.8" x2="961.5" y2="450.8" stroke="#2f66b0" stroke-width="1.4" /><text x="967.6" y="456.8" font-size="17" text-anchor="start" fill="#000" >-1.5 V</text><line x1="929.4" y1="472.1" x2="961.5" y2="472.1" stroke="#1d3f80" stroke-width="1.4" /><text x="967.6" y="478.1" font-size="17" text-anchor="start" fill="#000" >-2.5 V</text><rect x="1118.9" y="487.3" width="137.19999999999982" height="110.80000000000001" fill="#fff" stroke="#111" stroke-width="1.3"/><path d="M1118.9 588.4l.5 0 .6 0 .5 0 .6 0 .5 0 .6 0 .5 0 .6 0 .5 0 .6 0 .5 0 .6 0 .5 0 .6 0 .5-.1 .5 0 .6 0 .5 0 .6 0 .5 0 .6 0 .5 0 .6 0 .5-.1 .6 0 .5 0 .6 0 .5 0 .6 0 .5 0 .6-.1 .5 0 .5 0 .6 0 .5 0 .6-.1 .5 0 .6 0 .5 0 .6-.1 .5 0 .6-.1 .5 0 .6-.1 .5-.2 .6-.1 .5-.2 .5-.2 .6-.2 .5-.2 .6-.4 .5-.5 .6-.7 .5-.9 .6-1.2 .5-2.2 .6-3.7 .5-5.9 .6-11.2 .5-12.8 .6-13.4 .5-13.5 .5-9.5 .6-7.5 .5-4.7 .6-2.4 .5-2 .6-1.6 .5-1 .6-.3 .5 .5 .6 1.1 .5 1.5 .6 1.4 .5 1 .6 .6 .5 .6 .6 .6 .5 .5 .5 .4 .6 .3 .5 .2 .6 0 .5-.2 .6-.3 .5-.3 .6-.4 .5-.4 .6-.4 .5-.3 .6-.2 .5-.3 .6-.2 .5-.3 .5-.2 .6-.2 .5-.2 .6-.1 .5-.1 .6 0 .5 0 .6 0 .5 .1 .6 .1 .5 .1 .6 .2 .5 .1 .6 .1 .5 .2 .5 .1 .6 .1 .5 .1 .6 .1 .5 0 .6 .1 .5 0 .6-.1 .5 0 .6 0 .5-.1 .6 0 .5 0 .6-.1 .5 0 .5-.1 .6 0 .5-.1 .6 0 .5 0 .6 0 .5 0 .6 0 .5 0 .6 0 .5 0 .6 0 .5 0 .6 0 .5 0 .6 0 .5 0 .5 0 .6 0 .5 0 .6 0 .5 0 .6 0 .5 0 .6 0 .5 0 .6 0 .5 0 .6 0 .5 0 .6 0 .5 0 .5 0 .6 0 .5 0 .6 0 .5 0 .6 0 .5 0 .6 0 .5 0 .6 0 .5 0 .6 .1 .5 0 .6 0 .5 0 .5 0 .6 0 .5 0 .6 0 .5 0 .6 0 .5 0 .6 0 .5 0 .6 0 .5 0 .6 0 .5 0 .6 0 .5 0 .6 .1 .5 0 .5 0 .6 0 .5 0 .6 0 .5 0 .6 0 .5 0 .6 0 .5 0 .6 0 .5 0 .6 0 .5 0 .6 0 .5 0 .5 0 .6 0 .5 0 .6 0 .5 0 .6 0 .5 0 .6 0 .5 0 .6 0 .5 0 .6 0 .5 0 .6 0 .5 0 .5 0 .6 0 .5 0 .6-.1 .5 0 .6 0 .5 0 .6 0 .5 0 .6 0 .5 0 .6 0 .5 0 .6 0 .5 0 .6 0 .5 0 .5 0 .6 0 .5 0 .6 0 .5 0 .6 0 .5 0 .6-.1 .5 0 .6 0 .5 0 .6 0 .5 0 .6 0 .5 0" fill="none" stroke="#c8232c" stroke-width="1.2"/><path d="M1118.9 588.4l.5 0 .6 0 .5 0 .6 0 .5 0 .6 0 .5 0 .6 0 .5 0 .6 0 .5 0 .6 0 .5 0 .6 0 .5-.1 .5 0 .6 0 .5 0 .6 0 .5 0 .6 0 .5 0 .6 0 .5-.1 .6 0 .5 0 .6 0 .5 0 .6 0 .5 0 .6-.1 .5 0 .5 0 .6 0 .5 0 .6-.1 .5 0 .6 0 .5 0 .6-.1 .5 0 .6-.1 .5 0 .6-.1 .5-.2 .6-.1 .5-.2 .5-.2 .6-.2 .5-.2 .6-.4 .5-.5 .6-.7 .5-.9 .6-1.2 .5-2.2 .6-3.7 .5-5.9 .6-11.2 .5-12.8 .6-13.4 .5-13.5 .5-9.4 .6-7.5 .5-4.8 .6-2.6 .5-2.3 .6-1.8 .5-1.1 .6-.4 .5 .5 .6 1.4 .5 1.8 .6 1.6 .5 1.1 .6 .7 .5 .6 .6 .5 .5 .5 .5 .4 .6 .3 .5 .2 .6 0 .5-.2 .6-.3 .5-.3 .6-.4 .5-.4 .6-.4 .5-.3 .6-.2 .5-.3 .6-.2 .5-.3 .5-.2 .6-.2 .5-.2 .6-.1 .5-.1 .6 0 .5 0 .6 0 .5 .1 .6 .1 .5 .1 .6 .2 .5 .1 .6 .1 .5 .2 .5 .1 .6 .1 .5 .1 .6 .1 .5 0 .6 .1 .5 0 .6-.1 .5 0 .6 0 .5-.1 .6 0 .5 0 .6-.1 .5 0 .5-.1 .6 0 .5-.1 .6 0 .5 0 .6 0 .5 0 .6 0 .5 0 .6 0 .5 0 .6 0 .5 0 .6 0 .5 0 .6 0 .5 0 .5 0 .6 0 .5 0 .6 0 .5 0 .6 0 .5 0 .6 0 .5 0 .6 0 .5 0 .6 0 .5 0 .6 0 .5 0 .5 0 .6 0 .5 0 .6 0 .5 0 .6 0 .5 0 .6 0 .5 0 .6 0 .5 0 .6 .1 .5 0 .6 0 .5 0 .5 0 .6 0 .5 0 .6 0 .5 0 .6 0 .5 0 .6 0 .5 0 .6 0 .5 0 .6 0 .5 0 .6 0 .5 0 .6 .1 .5 0 .5 0 .6 0 .5 0 .6 0 .5 0 .6 0 .5 0 .6 0 .5 0 .6 0 .5 0 .6 0 .5 0 .6 0 .5 0 .5 0 .6 0 .5 0 .6 0 .5 0 .6 0 .5 0 .6 0 .5 0 .6 0 .5 0 .6 0 .5 0 .6 0 .5 0 .5 0 .6 0 .5 0 .6-.1 .5 0 .6 0 .5 0 .6 0 .5 0 .6 0 .5 0 .6 0 .5 0 .6 0 .5 0 .6 0 .5 0 .5 0 .6 0 .5 0 .6 0 .5 0 .6 0 .5 0 .6-.1 .5 0 .6 0 .5 0 .6 0 .5 0 .6 0 .5 0" fill="none" stroke="#111" stroke-width="1.2"/><path d="M1118.9 588.4l.5 0 .6 0 .5 0 .6 0 .5 0 .6 0 .5 0 .6 0 .5 0 .6 0 .5 0 .6 0 .5 0 .6 0 .5-.1 .5 0 .6 0 .5 0 .6 0 .5 0 .6 0 .5 0 .6 0 .5-.1 .6 0 .5 0 .6 0 .5 0 .6 0 .5 0 .6-.1 .5 0 .5 0 .6 0 .5 0 .6-.1 .5 0 .6 0 .5 0 .6-.1 .5 0 .6-.1 .5 0 .6-.1 .5-.2 .6-.1 .5-.2 .5-.2 .6-.2 .5-.2 .6-.4 .5-.5 .6-.7 .5-.9 .6-1.2 .5-2.2 .6-3.7 .5-5.9 .6-11.2 .5-12.8 .6-13.4 .5-13.5 .5-9.4 .6-7.4 .5-4.9 .6-2.9 .5-2.5 .6-2 .5-1.3 .6-.4 .5 .6 .6 1.6 .5 2 .6 1.9 .5 1.2 .6 .7 .5 .6 .6 .6 .5 .5 .5 .4 .6 .2 .5 .2 .6 0 .5-.2 .6-.3 .5-.3 .6-.4 .5-.4 .6-.4 .5-.3 .6-.2 .5-.3 .6-.2 .5-.3 .5-.2 .6-.2 .5-.2 .6-.1 .5-.1 .6 0 .5 0 .6 0 .5 .1 .6 .1 .5 .1 .6 .2 .5 .1 .6 .1 .5 .2 .5 .1 .6 .1 .5 .1 .6 .1 .5 0 .6 .1 .5 0 .6-.1 .5 0 .6 0 .5-.1 .6 0 .5 0 .6-.1 .5 0 .5-.1 .6 0 .5-.1 .6 0 .5 0 .6 0 .5 0 .6 0 .5 0 .6 0 .5 0 .6 0 .5 0 .6 0 .5 0 .6 0 .5 0 .5 0 .6 0 .5 0 .6 0 .5 0 .6 0 .5 0 .6 0 .5 0 .6 0 .5 0 .6 0 .5 0 .6 0 .5 0 .5 0 .6 0 .5 0 .6 0 .5 0 .6 0 .5 0 .6 0 .5 0 .6 0 .5 0 .6 .1 .5 0 .6 0 .5 0 .5 0 .6 0 .5 0 .6 0 .5 0 .6 0 .5 0 .6 0 .5 0 .6 0 .5 0 .6 0 .5 0 .6 0 .5 0 .6 .1 .5 0 .5 0 .6 0 .5 0 .6 0 .5 0 .6 0 .5 0 .6 0 .5 0 .6 0 .5 0 .6 0 .5 0 .6 0 .5 0 .5 0 .6 0 .5 0 .6 0 .5 0 .6 0 .5 0 .6 0 .5 0 .6 0 .5 0 .6 0 .5 0 .6 0 .5 0 .5 0 .6 0 .5 0 .6-.1 .5 0 .6 0 .5 0 .6 0 .5 0 .6 0 .5 0 .6 0 .5 0 .6 0 .5 0 .6 0 .5 0 .5 0 .6 0 .5 0 .6 0 .5 0 .6 0 .5 0 .6-.1 .5 0 .6 0 .5 0 .6 0 .5 0 .6 0 .5 0" fill="none" stroke="#6a9bd6" stroke-width="1.2"/><path d="M1118.9 588.4l.5 0 .6 0 .5 0 .6 0 .5 0 .6 0 .5 0 .6 0 .5 0 .6 0 .5 0 .6 0 .5 0 .6 0 .5-.1 .5 0 .6 0 .5 0 .6 0 .5 0 .6 0 .5 0 .6 0 .5-.1 .6 0 .5 0 .6 0 .5 0 .6 0 .5 0 .6-.1 .5 0 .5 0 .6 0 .5 0 .6-.1 .5 0 .6 0 .5 0 .6-.1 .5 0 .6-.1 .5 0 .6-.1 .5-.2 .6-.1 .5-.2 .5-.2 .6-.2 .5-.2 .6-.4 .5-.5 .6-.7 .5-.9 .6-1.2 .5-2.2 .6-3.7 .5-5.9 .6-11.2 .5-12.8 .6-13.4 .5-13.5 .5-9.4 .6-7.4 .5-4.9 .6-3 .5-2.6 .6-2.1 .5-1.4 .6-.5 .5 .7 .6 1.7 .5 2.2 .6 1.9 .5 1.3 .6 .7 .5 .6 .6 .6 .5 .5 .5 .4 .6 .2 .5 .2 .6 0 .5-.2 .6-.3 .5-.3 .6-.4 .5-.4 .6-.4 .5-.3 .6-.2 .5-.3 .6-.2 .5-.3 .5-.2 .6-.2 .5-.2 .6-.1 .5-.1 .6 0 .5 0 .6 0 .5 .1 .6 .1 .5 .1 .6 .2 .5 .1 .6 .1 .5 .2 .5 .1 .6 .1 .5 .1 .6 .1 .5 0 .6 .1 .5 0 .6-.1 .5 0 .6 0 .5-.1 .6 0 .5 0 .6-.1 .5 0 .5-.1 .6 0 .5-.1 .6 0 .5 0 .6 0 .5 0 .6 0 .5 0 .6 0 .5 0 .6 0 .5 0 .6 0 .5 0 .6 0 .5 0 .5 0 .6 0 .5 0 .6 0 .5 0 .6 0 .5 0 .6 0 .5 0 .6 0 .5 0 .6 0 .5 0 .6 0 .5 0 .5 0 .6 0 .5 0 .6 0 .5 0 .6 0 .5 0 .6 0 .5 0 .6 0 .5 0 .6 .1 .5 0 .6 0 .5 0 .5 0 .6 0 .5 0 .6 0 .5 0 .6 0 .5 0 .6 0 .5 0 .6 0 .5 0 .6 0 .5 0 .6 0 .5 0 .6 .1 .5 0 .5 0 .6 0 .5 0 .6 0 .5 0 .6 0 .5 0 .6 0 .5 0 .6 0 .5 0 .6 0 .5 0 .6 0 .5 0 .5 0 .6 0 .5 0 .6 0 .5 0 .6 0 .5 0 .6 0 .5 0 .6 0 .5 0 .6 0 .5 0 .6 0 .5 0 .5 0 .6 0 .5 0 .6-.1 .5 0 .6 0 .5 0 .6 0 .5 0 .6 0 .5 0 .6 0 .5 0 .6 0 .5 0 .6 0 .5 0 .5 0 .6 0 .5 0 .6 0 .5 0 .6 0 .5 0 .6-.1 .5 0 .6 0 .5 0 .6 0 .5 0 .6 0 .5 0" fill="none" stroke="#2f66b0" stroke-width="1.2"/><path d="M1118.9 588.4l.5 0 .6 0 .5 0 .6 0 .5 0 .6 0 .5 0 .6 0 .5 0 .6 0 .5 0 .6 0 .5 0 .6 0 .5-.1 .5 0 .6 0 .5 0 .6 0 .5 0 .6 0 .5 0 .6 0 .5-.1 .6 0 .5 0 .6 0 .5 0 .6 0 .5 0 .6-.1 .5 0 .5 0 .6 0 .5 0 .6-.1 .5 0 .6 0 .5 0 .6-.1 .5 0 .6-.1 .5 0 .6-.1 .5-.2 .6-.1 .5-.2 .5-.2 .6-.2 .5-.2 .6-.4 .5-.5 .6-.7 .5-.9 .6-1.2 .5-2.2 .6-3.7 .5-5.9 .6-11.2 .5-12.8 .6-13.4 .5-13.5 .5-9.4 .6-7.5 .5-4.8 .6-2.6 .5-2.3 .6-1.8 .5-1.1 .6-.4 .5 .5 .6 1.4 .5 1.8 .6 1.6 .5 1.1 .6 .7 .5 .6 .6 .5 .5 .5 .5 .4 .6 .3 .5 .2 .6 0 .5-.2 .6-.3 .5-.3 .6-.4 .5-.4 .6-.4 .5-.3 .6-.2 .5-.3 .6-.2 .5-.3 .5-.2 .6-.2 .5-.2 .6-.1 .5-.1 .6 0 .5 0 .6 0 .5 .1 .6 .1 .5 .1 .6 .2 .5 .1 .6 .1 .5 .2 .5 .1 .6 .1 .5 .1 .6 .1 .5 0 .6 .1 .5 0 .6-.1 .5 0 .6 0 .5-.1 .6 0 .5 0 .6-.1 .5 0 .5-.1 .6 0 .5-.1 .6 0 .5 0 .6 0 .5 0 .6 0 .5 0 .6 0 .5 0 .6 0 .5 0 .6 0 .5 0 .6 0 .5 0 .5 0 .6 0 .5 0 .6 0 .5 0 .6 0 .5 0 .6 0 .5 0 .6 0 .5 0 .6 0 .5 0 .6 0 .5 0 .5 0 .6 0 .5 0 .6 0 .5 0 .6 0 .5 0 .6 0 .5 0 .6 0 .5 0 .6 .1 .5 0 .6 0 .5 0 .5 0 .6 0 .5 0 .6 0 .5 0 .6 0 .5 0 .6 0 .5 0 .6 0 .5 0 .6 0 .5 0 .6 0 .5 0 .6 .1 .5 0 .5 0 .6 0 .5 0 .6 0 .5 0 .6 0 .5 0 .6 0 .5 0 .6 0 .5 0 .6 0 .5 0 .6 0 .5 0 .5 0 .6 0 .5 0 .6 0 .5 0 .6 0 .5 0 .6 0 .5 0 .6 0 .5 0 .6 0 .5 0 .6 0 .5 0 .5 0 .6 0 .5 0 .6-.1 .5 0 .6 0 .5 0 .6 0 .5 0 .6 0 .5 0 .6 0 .5 0 .6 0 .5 0 .6 0 .5 0 .5 0 .6 0 .5 0 .6 0 .5 0 .6 0 .5 0 .6-.1 .5 0 .6 0 .5 0 .6 0 .5 0 .6 0 .5 0" fill="none" stroke="#1d3f80" stroke-width="1.2"/><line x1="1118.9" y1="588.4" x2="1122.9" y2="588.4" stroke="#000" stroke-width="1" /><text x="1114.3" y="592.9" font-size="13" text-anchor="end" fill="#000" >0.0</text><line x1="1118.9" y1="551.7" x2="1122.9" y2="551.7" stroke="#000" stroke-width="1" /><text x="1114.3" y="556.2" font-size="13" text-anchor="end" fill="#000" >0.4</text><line x1="1118.9" y1="515" x2="1122.9" y2="515" stroke="#000" stroke-width="1" /><text x="1114.3" y="519.5" font-size="13" text-anchor="end" fill="#000" >0.8</text><line x1="1118.9" y1="570.1" x2="1121.4" y2="570.1" stroke="#000" stroke-width="1" /><line x1="1118.9" y1="533.4" x2="1121.4" y2="533.4" stroke="#000" stroke-width="1" /><line x1="1146.2" y1="598.1" x2="1146.2" y2="594.1" stroke="#000" stroke-width="1" /><line x1="1200.9" y1="598.1" x2="1200.9" y2="594.1" stroke="#000" stroke-width="1" /><line x1="1255.6" y1="598.1" x2="1255.6" y2="594.1" stroke="#000" stroke-width="1" /><line x1="1173.6" y1="598.1" x2="1173.6" y2="595.6" stroke="#000" stroke-width="1" /><line x1="1228.3" y1="598.1" x2="1228.3" y2="595.6" stroke="#000" stroke-width="1" /><text x="1153" y="603" font-size="13" text-anchor="end" fill="#000" transform="rotate(-31 1153 603)">13400</text><text x="1208.5" y="603" font-size="13" text-anchor="end" fill="#000" transform="rotate(-31 1208.5 603)">13600</text><text x="1264" y="603" font-size="13" text-anchor="end" fill="#000" transform="rotate(-31 1264 603)">13800</text><text x="3.5" y="714.5" font-size="17" text-anchor="start" fill="#000" >e</text><linearGradient id="gbb" x1="0" y1="0" x2="0" y2="1"><stop offset="0" stop-color="#fdecd0"/><stop offset="0.3" stop-color="#fbeedc"/><stop offset="0.5" stop-color="#eef0f6"/><stop offset="1" stop-color="#eef5fb"/></linearGradient><rect x="177.4" y="766.7" width="82" height="485.6" fill="url(#gbb)" stroke="none" stroke-width="1" /><path d="M32.8 811.6l1.5 .4 1.5 .5 1.5 .4 1.5 .3 1.4 .2 1.5 .2 1.5 0 1.5-.1 1.5-.2 1.4-.3 1.5-.4 1.5-.5 1.5-.6 1.5-.5 1.5-.5 1.4-.5 1.5-.5 1.5-.4 1.5-.3 1.5-.1 1.5 0 1.4 .1 1.5 .2 1.5 .2 1.5 .3 1.5 .3 1.5 .2 1.4 .2 1.5 0 1.5-.1 1.5-.2 1.5-.3 1.4-.4 1.5-.6 1.5-.6 1.5-.7 1.5-.8 1.5-.9 1.4-1 1.5-1 1.5-1.1 1.5-1.1 1.5-1.2 1.5-1.2 1.4-1.2 1.5-1.3 1.5-1.3 1.5-1.5 1.5-1.8 1.4-2.2 1.5-2.6 1.5-2.9 1.5-3.1 1.5-3.4 1.5-3.6 1.4-3.7 1.5-3.8 1.5-3.8 1.5-3.7 1.5-3.7 1.5-3.6 1.4-3.4 1.5-3.2 1.5-3 1.5-2.8 1.5-2.5 1.5-2.2 1.4-2 1.5-1.7 1.5-1.3 1.5-1 1.5-.7 1.4-.2 1.5 .1 1.5 .5 1.5 .9 1.5 1.4 1.5 1.7 1.4 2.2 1.5 2.7 1.5 3 1.5 3.6 1.5 3.9 1.5 4.4 1.4 4.6 1.5 4.6 1.5 4.6 1.5 4.3 1.5 4 1.4 3.4 1.5 2.7 1.5 1.9 1.5 .9 1.5 .2 1.5-.4 1.4-.7 1.5-.9 1.5-1.1 1.5-1.1 1.5-1 1.5-.9 1.4-.7 1.5-.5 1.5-.1 1.5 .3 1.5 .8 1.5 1 1.4 1.5 1.5 1.7 1.5 2 1.5 2.2 1.5 2.4 1.4 2.5 1.5 2.6 1.5 2.6 1.5 2.6 1.5 2.5 1.5 2.3 1.4 2 1.5 1.8 1.5 1.3 1.5 1 1.5 .4 1.5-.1 1.4-.5 1.5-.9 1.5-1.2 1.5-1.4 1.5-1.6 1.4-1.7 1.5-1.7 1.5-1.6 1.5-1.6 1.5-1.4 1.5-1.2 1.4-.9 1.5-.5 1.5-.2 1.5 .1 1.5 .3 1.5 .6 1.4 .8 1.5 1 1.5 1.1 1.5 1.1 1.5 1.3 1.5 1.2 1.4 1.3 1.5 1.2 1.5 1.1 1.5 1 1.5 .8 1.4 .7 1.5 .5 1.5 .3 1.5 .2 1.5 0 1.5 0 1.4-.1 1.5-.1 1.5-.1 1.5 0 1.5 0 1.5 .2 1.4 .2 1.5 .3 1.5 .4 1.5 .4 1.5 .5 1.4 .5 1.5 .6 1.5 .6 1.5 .6 1.5 .6 1.5 .7 1.4 .6 1.5 .6 1.5 .5 1.5 .6 1.5 .4 1.5 .4 1.4 .4 1.5 .3 1.5 .2 1.5 .1 1.5 .1 1.5 .1 1.4 0 1.5 0 1.5 0 1.5-.1 1.5 0 1.4 0 1.5-.1 1.5 0 1.5 0 1.5 .1 1.5 0 1.4 .2 1.5 .2 1.5 .2 1.5 .3 1.5 .3 1.5 .3 1.4 .4 1.5 .4 1.5 .4 1.5 .3 1.5 .4 1.4 .3 1.5 .3 1.5 .3 1.5 .2 1.5 .2 1.5 .1 1.4 .1 1.5 0 1.5 0 1.5 0 1.5-.1 1.5-.1 1.4-.1 1.5-.2 1.5-.2 1.5-.2 1.5-.2 1.5-.3 1.4-.3 1.5-.3 1.5-.3 1.5-.3 1.5-.3 1.4-.4 1.5-.3 1.5-.4" fill="none" stroke="#2d5a9f" stroke-width="1.4"/><path d="M32.8 922.3l1.5 .5 1.5 .4 1.5 .4 1.5 .3 1.4 .3 1.5 .1 1.5 0 1.5-.1 1.5-.2 1.4-.4 1.5-.4 1.5-.6 1.5-.5 1.5-.6 1.5-.6 1.4-.6 1.5-.6 1.5-.4 1.5-.4 1.5-.3 1.5-.1 1.4-.1 1.5 .1 1.5 .1 1.5 .2 1.5 .2 1.5 .2 1.4 .2 1.5 .1 1.5 .1 1.5 0 1.5-.1 1.4-.2 1.5-.3 1.5-.4 1.5-.6 1.5-.7 1.5-.8 1.4-.9 1.5-1.2 1.5-1.3 1.5-1.5 1.5-1.7 1.5-1.8 1.4-2.1 1.5-2.4 1.5-2.5 1.5-2.8 1.5-3 1.4-3.3 1.5-3.5 1.5-3.7 1.5-3.8 1.5-4 1.5-4.1 1.4-4.1 1.5-4.2 1.5-4.1 1.5-4.1 1.5-4.1 1.5-3.9 1.4-3.8 1.5-3.7 1.5-3.5 1.5-3.3 1.5-3 1.5-2.7 1.4-2.5 1.5-2.1 1.5-1.7 1.5-1.4 1.5-1 1.4-.5 1.5 0 1.5 .4 1.5 1 1.5 1.4 1.5 2 1.4 2.5 1.5 3 1.5 3.6 1.5 4.2 1.5 4.7 1.5 5.2 1.4 5.5 1.5 5.8 1.5 5.7 1.5 5.5 1.5 5.3 1.4 4.8 1.5 4.2 1.5 3.4 1.5 2.5 1.5 1.7 1.5 1 1.4 .5 1.5 0 1.5-.3 1.5-.5 1.5-.6 1.5-.7 1.4-.6 1.5-.5 1.5-.2 1.5 .1 1.5 .5 1.5 .9 1.4 1.1 1.5 1.4 1.5 1.7 1.5 1.8 1.5 1.9 1.4 2.1 1.5 2.1 1.5 2.2 1.5 2.1 1.5 2 1.5 1.9 1.4 1.8 1.5 1.5 1.5 1.2 1.5 .9 1.5 .6 1.5 .1 1.4-.1 1.5-.5 1.5-.7 1.5-.8 1.5-1 1.4-1.1 1.5-1.2 1.5-1.1 1.5-1.2 1.5-1 1.5-.9 1.4-.7 1.5-.5 1.5-.3 1.5-.1 1.5 0 1.5 .2 1.4 .3 1.5 .4 1.5 .4 1.5 .5 1.5 .6 1.5 .5 1.4 .6 1.5 .4 1.5 .5 1.5 .3 1.5 .3 1.4 .1 1.5 0 1.5-.1 1.5 0 1.5-.1 1.5 .1 1.4 .2 1.5 .3 1.5 .6 1.5 .7 1.5 .8 1.5 1 1.4 1.1 1.5 1.1 1.5 1.2 1.5 1.2 1.5 1.2 1.4 1.2 1.5 1.2 1.5 1.2 1.5 1 1.5 1 1.5 .9 1.4 .8 1.5 .6 1.5 .5 1.5 .2 1.5 .1 1.5-.1 1.4-.2 1.5-.3 1.5-.5 1.5-.5 1.5-.5 1.5-.5 1.4-.5 1.5-.5 1.5-.3 1.5-.3 1.5-.2 1.4-.2 1.5 0 1.5 0 1.5 .1 1.5 .1 1.5 .2 1.4 .2 1.5 .2 1.5 .3 1.5 .3 1.5 .4 1.5 .3 1.4 .3 1.5 .4 1.5 .3 1.5 .3 1.5 .4 1.4 .2 1.5 .3 1.5 .3 1.5 .2 1.5 .2 1.5 .2 1.4 .2 1.5 .1 1.5 .2 1.5 .1 1.5 .1 1.5 .1 1.4 .1 1.5 .1 1.5 0 1.5 .1 1.5 0 1.5 .1 1.4 0 1.5 0 1.5 .1 1.5 0 1.5 0 1.4 0 1.5 0 1.5 0" fill="none" stroke="#3c66ab" stroke-width="1.4"/><path d="M32.8 1030.9l1.5 .4 1.5 .4 1.5 .3 1.5 .3 1.4 .3 1.5 .1 1.5 .1 1.5 0 1.5-.2 1.4-.2 1.5-.4 1.5-.4 1.5-.4 1.5-.4 1.5-.5 1.4-.4 1.5-.5 1.5-.3 1.5-.3 1.5-.2 1.5-.1 1.4 0 1.5 0 1.5 .2 1.5 .1 1.5 .2 1.5 .1 1.4 .2 1.5 .1 1.5 .1 1.5 0 1.5-.1 1.4-.1 1.5-.2 1.5-.4 1.5-.4 1.5-.6 1.5-.7 1.4-.8 1.5-1.1 1.5-1.1 1.5-1.4 1.5-1.5 1.5-1.7 1.4-1.9 1.5-2.2 1.5-2.3 1.5-2.6 1.5-2.9 1.4-3.1 1.5-3.3 1.5-3.5 1.5-3.7 1.5-3.9 1.5-4 1.4-4.1 1.5-4.2 1.5-4.2 1.5-4.2 1.5-4.3 1.5-4.3 1.4-4.2 1.5-4.1 1.5-4 1.5-3.9 1.5-3.6 1.5-3.4 1.4-3.2 1.5-2.8 1.5-2.5 1.5-2.1 1.5-1.6 1.4-1.2 1.5-.7 1.5-.1 1.5 .4 1.5 .9 1.5 1.6 1.4 2.1 1.5 2.7 1.5 3.3 1.5 3.9 1.5 4.6 1.5 5.2 1.4 5.5 1.5 5.8 1.5 5.9 1.5 5.9 1.5 5.7 1.4 5.3 1.5 4.8 1.5 4.2 1.5 3.4 1.5 2.7 1.5 1.9 1.4 1.3 1.5 .7 1.5 .1 1.5-.2 1.5-.5 1.5-.7 1.4-.7 1.5-.6 1.5-.3 1.5 .1 1.5 .5 1.5 .8 1.4 1.1 1.5 1.4 1.5 1.6 1.5 1.8 1.5 1.8 1.4 1.9 1.5 1.9 1.5 1.9 1.5 1.8 1.5 1.8 1.5 1.6 1.4 1.6 1.5 1.4 1.5 1.2 1.5 1 1.5 .8 1.5 .6 1.4 .3 1.5 .1 1.5 0 1.5-.3 1.5-.4 1.4-.5 1.5-.6 1.5-.6 1.5-.7 1.5-.7 1.5-.7 1.4-.6 1.5-.6 1.5-.5 1.5-.4 1.5-.4 1.5-.3 1.4-.3 1.5-.2 1.5-.1 1.5-.1 1.5 0 1.5 0 1.4 0 1.5 .1 1.5 .2 1.5 .2 1.5 .2 1.4 .3 1.5 .3 1.5 .3 1.5 .4 1.5 .5 1.5 .5 1.4 .7 1.5 .7 1.5 .9 1.5 .9 1.5 1.1 1.5 1.1 1.4 1.2 1.5 1.2 1.5 1.2 1.5 1.2 1.5 1.2 1.4 1.2 1.5 1.1 1.5 1 1.5 .9 1.5 .7 1.5 .7 1.4 .4 1.5 .3 1.5 .1 1.5-.1 1.5-.3 1.5-.4 1.4-.5 1.5-.6 1.5-.7 1.5-.6 1.5-.6 1.5-.6 1.4-.5 1.5-.4 1.5-.2 1.5-.2 1.5-.1 1.4 0 1.5 .1 1.5 .2 1.5 .2 1.5 .3 1.5 .3 1.4 .4 1.5 .4 1.5 .5 1.5 .4 1.5 .5 1.5 .4 1.4 .5 1.5 .5 1.5 .4 1.5 .4 1.5 .4 1.4 .3 1.5 .3 1.5 .3 1.5 .2 1.5 .2 1.5 .1 1.4 .2 1.5 .1 1.5 .1 1.5 0 1.5 .1 1.5 0 1.4 0 1.5 0 1.5 0 1.5 0 1.5 0 1.5-.1 1.4 0 1.5-.1 1.5 0 1.5-.1 1.5-.1 1.4 0 1.5-.1 1.5-.1" fill="none" stroke="#4f7bc0" stroke-width="1.4"/><path d="M32.8 1135.1l1.5 .3 1.5 .3 1.5 .3 1.5 .2 1.4 .2 1.5 .1 1.5 0 1.5 0 1.5-.2 1.4-.3 1.5-.3 1.5-.4 1.5-.4 1.5-.4 1.5-.4 1.4-.4 1.5-.4 1.5-.3 1.5-.3 1.5-.2 1.5-.1 1.4 0 1.5 0 1.5 .1 1.5 .2 1.5 .1 1.5 .1 1.4 .1 1.5 .1 1.5 0 1.5 0 1.5-.1 1.4-.2 1.5-.3 1.5-.4 1.5-.5 1.5-.6 1.5-.7 1.4-.9 1.5-1 1.5-1.2 1.5-1.3 1.5-1.5 1.5-1.7 1.4-1.9 1.5-2.1 1.5-2.2 1.5-2.5 1.5-2.8 1.4-2.9 1.5-3.2 1.5-3.3 1.5-3.6 1.5-3.7 1.5-3.8 1.4-3.9 1.5-4.1 1.5-4.1 1.5-4.3 1.5-4.2 1.5-4.3 1.4-4.4 1.5-4.2 1.5-4.2 1.5-4.1 1.5-3.8 1.5-3.5 1.4-3.3 1.5-2.8 1.5-2.4 1.5-1.8 1.5-1.3 1.4-.7 1.5 0 1.5 .7 1.5 1.2 1.5 1.8 1.5 2.3 1.4 2.8 1.5 3.2 1.5 3.7 1.5 4 1.5 4.4 1.5 4.6 1.4 4.8 1.5 4.9 1.5 5 1.5 4.9 1.5 4.7 1.4 4.5 1.5 4.1 1.5 3.8 1.5 3.3 1.5 2.8 1.5 2.2 1.4 1.8 1.5 1.1 1.5 .6 1.5 .2 1.5-.2 1.5-.5 1.4-.6 1.5-.6 1.5-.4 1.5-.3 1.5 .1 1.5 .5 1.4 .7 1.5 1.1 1.5 1.3 1.5 1.5 1.5 1.7 1.4 1.8 1.5 2 1.5 2 1.5 2.1 1.5 2.1 1.5 2.1 1.4 2 1.5 1.8 1.5 1.8 1.5 1.5 1.5 1.3 1.5 1 1.4 .7 1.5 .4 1.5 .1 1.5-.2 1.5-.4 1.4-.5 1.5-.7 1.5-.9 1.5-.9 1.5-.9 1.5-.9 1.4-.9 1.5-.8 1.5-.7 1.5-.7 1.5-.6 1.5-.5 1.4-.4 1.5-.4 1.5-.2 1.5-.3 1.5-.1 1.5-.1 1.4 0 1.5 .1 1.5 .1 1.5 .3 1.5 .2 1.4 .4 1.5 .4 1.5 .5 1.5 .5 1.5 .6 1.5 .7 1.4 .8 1.5 .9 1.5 .9 1.5 1 1.5 1.1 1.5 1.1 1.4 1.1 1.5 1.1 1.5 1.1 1.5 1 1.5 .9 1.4 .9 1.5 .8 1.5 .6 1.5 .4 1.5 .3 1.5 .1 1.4 0 1.5-.1 1.5-.2 1.5-.4 1.5-.3 1.5-.4 1.4-.4 1.5-.4 1.5-.4 1.5-.3 1.5-.3 1.5-.2 1.4-.2 1.5-.1 1.5-.1 1.5 0 1.5 0 1.4 0 1.5 .1 1.5 .1 1.5 .1 1.5 .2 1.5 .1 1.4 .2 1.5 .3 1.5 .2 1.5 .3 1.5 .2 1.5 .3 1.4 .3 1.5 .3 1.5 .3 1.5 .3 1.5 .3 1.4 .4 1.5 .3 1.5 .3 1.5 .3 1.5 .2 1.5 .3 1.4 .3 1.5 .2 1.5 .2 1.5 .2 1.5 .2 1.5 .1 1.4 .1 1.5 .1 1.5 .1 1.5 0 1.5 0 1.5 0 1.4-.1 1.5-.1 1.5-.1 1.5-.2 1.5-.1 1.4-.2 1.5-.1 1.5-.2" fill="none" stroke="#6f98d0" stroke-width="1.4"/><path d="M32.8 1195.5l1.2-.2 1.2-.1 1.2-.2 1.2-.2 1.3-.2 1.2-.2 1.2-.3 1.2-.2 1.2-.3 1.2-.2 1.2-.3 1.2-.3 1.2-.3 1.2-.3 1.2-.3 1.2-.3 1.2-.3 1.2-.4 1.2-.3 1.2-.4 1.2-.4 1.2-.3 1.3-.4 1.2-.4 1.2-.4 1.2-.4 1.2-.4 1.2-.4 1.2-.5 1.2-.4 1.2-.4 1.2-.4 1.2-.4 1.2-.4 1.2-.4 1.2-.3 1.2-.4 1.2-.3 1.2-.3 1.3-.3 1.2-.3 1.2-.2 1.2-.2 1.2-.1 1.2-.2 1.2 0 1.2-.1 1.2 .1 1.2 0 1.2 .2 1.2 .1 1.2 .3 1.2 .3 1.2 .3 1.2 .4 1.2 .4 1.3 .4 1.2 .5 1.2 .6 1.2 .5 0 0 1.2-2.7 1.2-2.7 1.2-2.7 1.3-2.6 1.2-2.7 1.2-2.5 1.3-2.6 1.2-2.4 1.2-2.4 1.2-2.3 1.3-2.3 1.2-2.1 1.2-2 1.2-2 1.3-1.8 1.2-1.7 1.2-1.6 1.3-1.4 1.2-1.4 1.2-1.1 1.2-1.1 1.3-.9 1.2-.7 1.2-.6 1.2-.4 1.3-.2 1.2-.1 1.2 0 1.2 .2 1.3 .4 1.2 .6 1.2 .7 1.3 .9 1.2 1 1.2 1.2 1.2 1.4 1.3 1.5 1.2 1.6 1.2 1.8 1.2 1.9 1.3 2.1 1.2 2.2 1.2 2.3 1.3 2.5 1.2 2.5 1.2 2.7 1.2 2.7 1.3 2.9 1.2 2.9 1.2 3 1.2 3.1 1.3 3.2 1.2 3.2 1.2 3.2 1.2 3.3 1.3 3.3 1.2 3.3 1.2 3.3 0 0 1.2-2.1 1.3-1.5 1.2-1.4 1.2-1.2 1.2-1.1 1.2-1 1.2-.9 1.2-.8 1.2-.7 1.2-.7 1.3-.6 1.2-.5 1.2-.4 1.2-.3 1.2-.3 1.2-.1 1.2-.2 1.2 0 1.2 .1 1.3 .1 1.2 .2 1.2 .2 1.2 .3 1.2 .4 1.2 .4 1.2 .5 1.2 .6 1.2 .6 1.3 .7 1.2 .7 1.2 .7 1.2 .8 1.2 .9 1.2 .9 1.2 .9 1.2 .9 1.2 1 1.3 1 1.2 1 1.2 1 1.2 1.1 1.2 1.1 1.2 1 1.2 1.1 1.2 1.1 1.2 1.1 1.3 1.1 0 0 1.2-1.5 1.2-1.2 1.2-1.2 1.2-1.1 1.2-1 1.2-1 1.2-1 1.2-.9 1.2-.8 1.2-.8 1.3-.8 1.2-.6 1.2-.7 1.2-.5 1.2-.5 1.2-.5 1.2-.4 1.2-.3 1.2-.3 1.2-.3 1.3-.1 1.2-.1 1.2-.1 1.2 0 1.2 .1 1.2 .1 1.2 .1 1.2 .3 1.2 .2 1.2 .4 1.2 .3 1.3 .4 1.2 .5 1.2 .5 1.2 .5 1.2 .6 1.2 .6 1.2 .7 1.2 .7 1.2 .7 1.2 .7 1.2 .8 1.3 .8 1.2 .8 1.2 .8 1.2 .8 1.2 .9 1.2 .8 1.2 .9 1.2 .8 1.2 .9 0 0 1.3-.7 1.2-.6 1.2-.5 1.2-.5 1.2-.4 1.3-.4 1.2-.4 1.2-.3 1.2-.3 1.3-.2 1.2-.2 1.2-.1 1.2-.1 1.3-.1 1.2 0 1.2 .1 1.2 0 1.2 .1 1.3 .1 1.2 .2 1.2 .2 1.2 .2 1.3 .3 1.2 .3 1.2 .3 1.2 .3 1.3 .3 1.2 .4 1.2 .3 1.2 .4 1.2 .3 1.3 .4 0 0 1.2-.9 1.2-.6 1.3-.4 1.2-.4 1.2-.3 1.3-.3 1.2-.3 1.2-.2 1.3-.1 1.2-.2 1.2-.1 1.2-.1 1.3-.1 1.2 0 1.2 0 1.3 0 1.2 0 1.2 0 1.3 0 1.2 .1 1.2 .1 1.3 0 1.2 .1 1.2 .1 1.3 .1 1.2 .2 1.2 .1 1.3 .1 1.2 .2 1.2 .1 1.2 .2 1.3 .1 1.2 .2 1.2 .1 1.3 .2 1.2 .1 1.2 .2 1.3 .1 1.2 .2" fill="none" stroke="#c4262c" stroke-width="1.4" stroke-linejoin="round"/><path d="M32.8 1253.7l1.3 0 1.3-.1 1.3 0 1.3 .1 1.3 0 1.3 .1 1.3 .1 1.3 .2 1.3 .1 1.3 .2 1.3 .2 0 0 1.2-.6 1.2-.4 1.3-.4 1.2-.2 1.2-.3 1.3-.1 1.2-.2 1.3-.1 1.2-.1 1.2 0 1.3 0 1.2 .1 1.2 0 1.3 .1 1.2 .1 1.3 .1 1.2 .1 1.2 .2 1.3 .1 1.2 .2 1.2 .2 1.3 .1 1.2 .2 0 0 1.2-.5 1.3-.5 1.2-.4 1.2-.3 1.2-.3 1.3-.3 1.2-.2 1.2-.2 1.2-.2 1.3-.1 1.2-.1 1.2 0 1.3 0 1.2 0 1.2 .1 1.2 .1 1.3 .1 1.2 .2 1.2 .2 1.2 .2 1.3 .2 1.2 .3 1.2 .3 1.2 .3 1.3 .3 1.2 .3 1.2 .4 1.2 .3 1.3 .4 1.2 .3 0 0 1.2-.4 1.2-.5 1.2-.6 1.2-.6 1.3-.7 1.2-.6 1.2-.7 1.2-.6 1.2-.7 1.2-.7 1.2-.6 1.3-.6 1.2-.6 1.2-.6 1.2-.5 1.2-.5 1.2-.4 1.2-.4 1.3-.3 1.2-.2 1.2-.2 1.2-.1 1.2-.1 1.2 0 1.2 .1 1.3 .2 1.2 .3 1.2 .3 1.2 .4 1.2 .5 1.2 .6 1.2 .6 1.3 .7 1.2 .8 1.2 .8 1.2 .9 1.2 .9 1.2 1 1.2 1 1.3 1.1 1.2 1 1.2 1.1 0 0 1.2-1.2 1.3-1.3 1.2-1.4 1.3-1.4 1.2-1.5 1.2-1.4 1.3-1.4 1.2-1.4 1.3-1.3 1.2-1.3 1.3-1.2 1.2-1.2 1.3-1 1.2-1 1.2-.9 1.3-.8 1.2-.6 1.3-.6 1.2-.4 1.3-.3 1.2-.2 1.2 0 1.3 .1 1.2 .3 1.3 .3 1.2 .5 1.3 .7 1.2 .8 1.3 .9 1.2 1 1.2 1.2 1.3 1.2 1.2 1.4 1.3 1.4 1.2 1.6 1.3 1.6 1.2 1.7 1.2 1.7 1.3 1.8 1.2 1.8 1.3 1.8 0 0 1.2-2.3 1.2-1.9 1.2-1.7 1.3-1.6 1.2-1.5 1.2-1.3 1.2-1.3 1.2-1.1 1.2-1 1.3-.9 1.2-.8 1.2-.6 1.2-.5 1.2-.5 1.3-.3 1.2-.1 1.2-.1 1.2 0 1.2 .2 1.2 .2 1.3 .4 1.2 .4 1.2 .6 1.2 .6 1.2 .7 1.3 .8 1.2 .8 1.2 .9 1.2 1 1.2 1 1.2 1 1.3 1.1 1.2 1.2 1.2 1.1 1.2 1.2 1.2 1.1 1.2 1.2 0 0 1.3-.7 1.3-.5 1.3-.5 1.3-.4 1.3-.4 1.2-.4 1.3-.3 1.3-.2 1.3-.2 1.3-.1 1.2-.1 1.3-.1 1.3 0 1.3 .1 1.3 .1 1.2 .1 1.3 .2 1.3 .1 1.3 .3 1.3 .2 1.2 .3 1.3 .2 1.3 .3 1.3 .3 1.3 .3 0 0 1.2-1.1 1.2-.5 1.2-.5 1.2-.3 1.2-.3 1.2-.3 1.2-.2 1.2-.2 1.2-.1 1.3-.2 1.2-.1 1.2 0 1.2-.1 1.2 0 1.2 0 1.2 0 1.2 0 1.2 0 1.2 .1 1.2 .1 1.2 .1 1.2 .1 1.3 .1 1.2 .1 1.2 .1 1.2 .2 1.2 .1 1.2 .2 1.2 .2 1.2 .2 1.2 .1 1.2 .2 1.2 .2 1.2 .3 1.2 .2 1.3 .2 1.2 .2 1.2 .3 1.2 .2 1.2 .2 1.2 .3 1.2 .2 1.2 .3 1.2 .2 1.2 .3 1.2 .2 1.2 .3 1.3 .3 1.2 .2 1.2 .3 1.2 .2 1.2 .3 1.2 .2 1.2 .3 0 0 1.3-.2 1.3-.2 1.2-.2 1.3-.2 1.3-.3 1.3-.2 1.2-.2 1.3-.2 1.3-.2 1.3-.2 1.2-.2 1.3-.1 1.3-.1 1.3 0 1.2 0 1.3 0 1.3 .1 1.3 .1 1.2 .1 1.3 .2" fill="none" stroke="#1a1a1a" stroke-width="1.4" stroke-linejoin="round"/><rect x="105.2" y="729" width="63.4" height="464.3" fill="none" stroke="#111" stroke-width="1.4" stroke-dasharray="5,3.5"/><rect x="177.4" y="766.7" width="82" height="493.6" fill="none" stroke="#111" stroke-width="1.4" stroke-dasharray="5,3.5"/><text x="103.3" y="724.1" font-size="17" text-anchor="start" fill="#000" >Bi-O path</text><text x="182.8" y="761" font-size="17" text-anchor="start" fill="#000" >Bi-Bi path</text><rect x="32.5" y="708.5" width="349.8" height="563.8" fill="none" stroke="#111" stroke-width="1.3" /><line x1="85.6" y1="1272.3" x2="85.6" y2="1267.3" stroke="#000" stroke-width="1" /><text x="85.6" y="1288" font-size="14" text-anchor="middle" fill="#000" >1</text><line x1="144.9" y1="1272.3" x2="144.9" y2="1267.3" stroke="#000" stroke-width="1" /><text x="144.9" y="1288" font-size="14" text-anchor="middle" fill="#000" >2</text><line x1="204.2" y1="1272.3" x2="204.2" y2="1267.3" stroke="#000" stroke-width="1" /><text x="204.2" y="1288" font-size="14" text-anchor="middle" fill="#000" >3</text><line x1="263.5" y1="1272.3" x2="263.5" y2="1267.3" stroke="#000" stroke-width="1" /><text x="263.5" y="1288" font-size="14" text-anchor="middle" fill="#000" >4</text><line x1="322.8" y1="1272.3" x2="322.8" y2="1267.3" stroke="#000" stroke-width="1" /><text x="322.8" y="1288" font-size="14" text-anchor="middle" fill="#000" >5</text><line x1="382.1" y1="1272.3" x2="382.1" y2="1267.3" stroke="#000" stroke-width="1" /><text x="382.1" y="1288" font-size="14" text-anchor="middle" fill="#000" >6</text><line x1="56" y1="1272.3" x2="56" y2="1269.3" stroke="#000" stroke-width="1" /><line x1="115.2" y1="1272.3" x2="115.2" y2="1269.3" stroke="#000" stroke-width="1" /><line x1="174.6" y1="1272.3" x2="174.6" y2="1269.3" stroke="#000" stroke-width="1" /><line x1="233.8" y1="1272.3" x2="233.8" y2="1269.3" stroke="#000" stroke-width="1" /><line x1="293.1" y1="1272.3" x2="293.1" y2="1269.3" stroke="#000" stroke-width="1" /><line x1="352.4" y1="1272.3" x2="352.4" y2="1269.3" stroke="#000" stroke-width="1" /><text x="327.3" y="804.5" font-size="17" text-anchor="start" fill="#000" >-2.5 V</text><text x="327.3" y="917.2" font-size="17" text-anchor="start" fill="#000" >-1.5 V</text><text x="327.3" y="1023.8" font-size="17" text-anchor="start" fill="#000" >-0.5 V</text><text x="327.3" y="1127.4" font-size="17" text-anchor="start" fill="#000" >OCV</text><text x="328.1" y="1197" font-size="17" text-anchor="start" fill="#000" >Bi<tspan font-size="11" dy="5">2</tspan><tspan dy="-5">O</tspan><tspan font-size="11" dy="5">3</tspan></text><text x="313.4" y="1242.4" font-size="17" text-anchor="start" fill="#000" >Bi metal</text><text x="204.6" y="1308.5" font-size="17.4" text-anchor="middle" fill="#000" ><tspan font-style="italic">R</tspan> (<tspan font-family="Liberation Serif, serif">Å</tspan>)</text><text x="18.5" y="996" font-size="17.4" text-anchor="middle" fill="#000" transform="rotate(-90 18.5 996)">|FT(kχ(k))| (<tspan font-family="Liberation Serif, serif">Å</tspan><tspan font-size="12" dy="-6">-2</tspan><tspan dy="6">)</tspan></text><text x="428.5" y="718.5" font-size="17" text-anchor="start" fill="#000" >f</text><linearGradient id="gf" x1="0" y1="0" x2="0" y2="1"><stop offset="0" stop-color="#fdedd4"/><stop offset="0.3" stop-color="#fbf0e2"/><stop offset="0.45" stop-color="#f1f3f8"/><stop offset="1" stop-color="#eef5fb"/></linearGradient><rect x="461.6" y="740.8" width="26.7" height="486.8" fill="url(#gf)" stroke="none" stroke-width="1" /><path d="M458.5 839.9l.5-.4 .5 1.2 .5-.2 .6-1.3 .5 2.4 .5 0 .5 2 .5-.8 .5-2.7 .5-2.3 .5-2.1 .6-10.2 .5-9.3 .5-10.8 .5-14.2 .5-14 .5-12.4 .5-9.6 .5-11.9 .6 .1 .5 3.3 .5 8.2 .5 12.2 .5 14.4 .5 17.2 .5 12.7 .6 13.3 .5 10.6 .5 8.1 .5 5.4 .5 5.5 .5 1.3 .5 2 .5 .7 .6-.5 .5 .7 .5 .1 .5 1.8 .5-1.1 .5-.9 .5 .4 .5-2.5 .6-8.4 .5-4.5 .5-15.3 .5-16.7 .5-16.4 .5-17.1 .5-10.8 .6 2.3 .5 3.4 .5 15.8 .5 19.2 .5 15.2 .5 16.1 .5 11.4 .5 9.5 .6-.3 .5 3.2 .5 1.9 .5-.2 .5-1.4 .5 2.2 .5-.3 .5 .6 .6 1 .5-.1 .5-.7 .5 0 .5-1.7 .5 1.3 .5 .5 .5-.7 .6 .7 .5-1.1 .5 3.1 .5 .9 .5-3.2 .5 1.1 .5-.8 .6 2 .5-1 .5-.4 .5-.3 .5 .5 .5-1.5 .5 2.3 .5-1.8 .6 1.7 .5-.5 .5 1.3 .5-1.4 .5 1.4 .5-2.5 .5 2 .5-1 .6 .5 .5-.1 .5 1.2 .5-3.8 .5 3 .5-2.3 .5 3.5 .6-4.1 .5 1.3 .5-.8 .5 4.3 .5-3.8 .5 1.9 .5-.9 .5-1.6 .6 1.9 .5 1.3 .5-1 .5 1.4 .5-1.6 .5 .5 .5-.5 .5 .9 .6 2.1 .5-2 .5-.2 .5-1.1 .5-.1 .5 2.9 .5-3.4 .6 .3 .5 1.1 .5-.4 .5 3.1 .5-5.6 .5 3.5 .5 .5 .5-2.4 .6 .6 .5 1.4 .5 1.6 .5-3.3 .5-.9 .5 3.4 .5 .7 .5-2.4 .6-2.5 .5 4.8 .5-2.1 .5 1.7 .5-1.5 .5-.4 .5-.1 .5 2.5 .6-.1 .5-4.6 .5 1.6 .5 3.5 .5-2.8 .5-1.3 .5 1.8 .6-.1 .5 0 .5-.5 .5 .2 .5-.2 .5 1 .5-1.4 .5 .6 .6 .2 .5 1.9 .5-1.2 .5-.6 .5 .8 .5-.1 .5 .9 .5-.8 .6 1.7 .5-.6 .5-1.8 .5-.5 .5 1.7 .5-.5 .5-.8 .6-1.8 .5-.4 .5 2.8 .5 .6 .5 0 .5-2.7 .5 3 .5-2 .6 1.2 .5 0 .5-1.6 .5 .3 .5-1.9 .5 1.5 .5-1.2 .5 2.9 .6-.4 .5 1.1 .5-.8 .5-1.2 .5 1.2 .5-.9 .5 1.3 .6-.4 .5-1.7 .5 1.3 .5 .1 .5-.5 .5 1.5 .5 1.1 .5-2.7 .6 0 .5-2.4 .5 2.7 .5-.4 .5-2.2 .5 3.2 .5 .4 .5-1.8 .6 .5 .5-.8 .5 2.3 .5-3 .5 1.6 .5 2.9 .5-2.4 .6 .5 .5-.8 .5-1.3 .5 1.4 .5 .6 .5-1.8 .5 1.7 .5 1.2 .6-.2 .5-3.5 .5 .8 .5-.8 .5 3.5 .5-.6 .5 .1 .5-2 .6-.4 .5 1.6 .5 0 .5-1.2 .5 1.3 .5 .6 .5-.5 .5-1.7 .6-1.4 .5 2.5 .5 .5 .5-.5 .5-.3 .5-.3 .5 1.8 .6-1 .5 .3 .5-1.5 .5 .5 .5 1 .5-1.5 .5-.3 .5 1.2 .6 2 .5-1.4 .5 1.7 .5-2.1 .5-.2 .5-1.4 .5 1 .5 2.7 .6-1.5 .5 .6 .5-.1 .5-.9" fill="none" stroke="#1d4a95" stroke-width="1.1" stroke-linejoin="bevel"/><path d="M458.5 916.7l.5 2.1 .5 2.2 .5-.6 .6-.4 .5-1.9 .5-3.7 .5 .7 .5-2.6 .5 5.6 .5-9.4 .5 5.5 .6 7 .5-9.9 .5-5.4 .5-1.2 .5-1.9 .5-11 .5-4.5 .5-7.7 .6-6 .5 8.3 .5-8.8 .5 1.5 .5 6.1 .5 10.7 .5 9.5 .6 11.1 .5 7.9 .5 4.3 .5 13.8 .5 4 .5 5.2 .5 .3 .5 5.6 .6 1.5 .5 3.5 .5-3.2 .5 5.1 .5 .7 .5-3.6 .5 1.1 .5-2.2 .6 2 .5-16.8 .5-4.2 .5-19.3 .5-14.9 .5-14.7 .5-18.2 .6-2.7 .5 2.3 .5 22.5 .5 15.6 .5 19.6 .5 8.2 .5 11.7 .5 13.4 .6-.2 .5 1.6 .5 2.5 .5-4.4 .5 6.2 .5-2.2 .5 1.5 .5-3.4 .6 3.6 .5-3.6 .5 5 .5 .6 .5-.6 .5-1.2 .5 .4 .5-10 .6 10.7 .5-3.3 .5 1.1 .5-1.1 .5-3.3 .5 2.6 .5 3.6 .6 2.3 .5-6.1 .5-.8 .5 7.1 .5-7 .5 8.9 .5-6.1 .5-2.8 .6 5.6 .5 2.2 .5-9.4 .5 9 .5-5.5 .5 5.3 .5-5.6 .5-3.6 .6 6.3 .5 1.3 .5 3.5 .5-1.1 .5-3.1 .5-2.8 .5-.9 .6 .7 .5-1.6 .5 1.7 .5-6.8 .5 8.2 .5-.7 .5 7.8 .5-5.4 .6-3.7 .5 3.1 .5-5.3 .5 1.8 .5-3.7 .5 9.9 .5-2.6 .5-5.3 .6 3.4 .5 3 .5-1.3 .5-.4 .5-3.7 .5 .7 .5 2.2 .6 2.4 .5-5.2 .5-.9 .5 6.8 .5-6.2 .5 6 .5-2.5 .5 1.9 .6 2.6 .5-3.1 .5 .2 .5-5.1 .5 .7 .5 4 .5 2.7 .5-.4 .6 2.7 .5-6 .5-.3 .5 2.4 .5-2.9 .5-.3 .5-2.9 .5 6.1 .6-6.2 .5 4.7 .5-5.8 .5 7.6 .5-6.4 .5 5.6 .5-7.3 .6 3.5 .5 4.8 .5-5.9 .5 2.6 .5-1.6 .5-5.5 .5 7.8 .5 .4 .6-4.6 .5 5 .5-4.1 .5-.6 .5 3 .5-2 .5 8.9 .5-11.6 .6 6.9 .5 .8 .5-8.9 .5 .7 .5 6.9 .5-3.1 .5 2.5 .6 2.3 .5-4.5 .5-2.1 .5-5 .5 8.8 .5-3.4 .5 3.7 .5-.2 .6-4.9 .5 9.4 .5-2 .5-.7 .5-6.1 .5 2.4 .5-.4 .5 .4 .6-2.2 .5 4.7 .5-.6 .5 .4 .5-2.6 .5 5.4 .5-3.3 .6-8.8 .5 6.3 .5 1.7 .5 3.1 .5-3.8 .5 .1 .5-1.2 .5 4 .6-3.3 .5-.5 .5-.4 .5 3.9 .5-3.3 .5-3.4 .5 6.9 .5-4 .6 3.2 .5 0 .5 2.5 .5-.5 .5-4.8 .5 1.2 .5-3.4 .6 8.9 .5-3.7 .5 2.9 .5-5.2 .5-5.1 .5 10.7 .5-4.3 .5 .1 .6-.2 .5 1.7 .5-.3 .5-6.4 .5 8.1 .5-4.9 .5 .2 .5 6.6 .6-2.4 .5-3.8 .5-4.6 .5 6.1 .5 1.1 .5-1.8 .5-3.5 .5 1.3 .6-1.4 .5 4.4 .5 1.9 .5 .6 .5-5.3 .5 2.9 .5 1 .6-3.2 .5 1.1 .5 6.8 .5-5.8 .5 2 .5-3.9 .5 1.4 .5-5.2 .6 5 .5 3.7 .5 2.7 .5-2.7 .5-1.5 .5-1.9 .5-2 .5 1.3 .6 2.3 .5-4.2 .5 5.2 .5-5.8" fill="none" stroke="#2b58a2" stroke-width="1.1" stroke-linejoin="bevel"/><path d="M458.5 983.4l.5 5 .5-1.3 .5 1.9 .6 10.3 .5-5.4 .5 1.6 .5 3.8 .5 .8 .5-6.3 .5 8.5 .5-2.5 .6-.4 .5 2.5 .5-7.6 .5 1.7 .5 1.1 .5 .7 .5-6.2 .5-.8 .6 3.5 .5 2.1 .5-.7 .5 5.2 .5-2.2 .5 5.8 .5 8.3 .6 3.3 .5 4.6 .5 13.5 .5-3.4 .5 .3 .5 8.3 .5 7.4 .5-5.6 .6 5.7 .5-5.8 .5 .4 .5-.3 .5 2.6 .5 8.2 .5-12 .5 10.5 .6-12.4 .5-.7 .5-2 .5-9.9 .5-12.1 .5-17.8 .5 1.6 .6-6.4 .5 19.5 .5-1.5 .5 12.8 .5 4.8 .5 10.4 .5 1.8 .5 11.9 .6-3.6 .5 4 .5-4.7 .5 .9 .5 7.3 .5-9 .5-3.2 .5 8.9 .6-6.1 .5 2.9 .5 5.5 .5-6.9 .5 6.9 .5-6.2 .5 8.8 .5-.7 .6-7.1 .5 1.1 .5-2.4 .5 4.1 .5 3.9 .5-10.4 .5 9.5 .6-8.9 .5 1.9 .5-3.7 .5 15.6 .5-8.2 .5 .8 .5-3.6 .5 7 .6-12.7 .5 8.5 .5 8.8 .5-10.4 .5 1.7 .5 2.6 .5-5.9 .5 3.3 .6 3.8 .5-3.1 .5 .8 .5-2.9 .5 2.7 .5-1.1 .5 5.6 .6-2.9 .5-3.8 .5-8.8 .5 12.6 .5 .2 .5-6.7 .5-4.3 .5 3.4 .6 8.3 .5-8 .5 2.5 .5 2.7 .5 4 .5-5 .5-.3 .5-1.8 .6 8.8 .5-2.3 .5-4.6 .5-5.2 .5 2.4 .5 5.5 .5-5.2 .6 6.4 .5-2.1 .5-.3 .5 1.5 .5-.6 .5-5.5 .5 2.2 .5 10.6 .6-14.2 .5 3 .5 6.1 .5-4.9 .5-2.6 .5-2 .5 7.4 .5 2 .6 1.5 .5-5.4 .5 4 .5-8.3 .5 4.8 .5-3.4 .5 3.4 .5 2.3 .6 1.3 .5-8.3 .5 9.1 .5-7 .5-2.2 .5 3.4 .5-5.2 .6 5.9 .5 1.2 .5-2 .5 2.9 .5-3.4 .5 1.3 .5-5.8 .5 6 .6-3.6 .5 1.6 .5 1.4 .5 1.2 .5-7.4 .5 .3 .5 5.1 .5 3.1 .6-.5 .5 2.2 .5 1.6 .5-3.2 .5-2.1 .5-4 .5 .3 .6 1.9 .5 3 .5-.2 .5-.9 .5-.6 .5 3.1 .5-1.7 .5 .4 .6 0 .5-3.4 .5-1.9 .5 6.1 .5-.3 .5-2.6 .5-.8 .5 10.8 .6-12.1 .5 2.1 .5 2 .5-5.7 .5 5.1 .5 6.7 .5-3.5 .6-1.2 .5-.1 .5-2 .5 3.4 .5-4.4 .5-1.1 .5 2.1 .5 3.2 .6-2.3 .5 1.4 .5-10.8 .5 12.9 .5 4.6 .5-4.1 .5-6.6 .5-2.1 .6 4.5 .5-5 .5 6.8 .5-5 .5 5.9 .5 1.6 .5-13.5 .6 9.3 .5-4 .5-2.8 .5 3.1 .5 1.6 .5 5 .5-10.2 .5 10.3 .6 3.9 .5-5.7 .5-.2 .5-2.3 .5-4.6 .5 6.8 .5-.6 .5 1.4 .6 7.4 .5-7.4 .5-1.2 .5 4.5 .5-11.6 .5 .8 .5 3.1 .5-1.1 .6 5.4 .5-4.1 .5 8.3 .5-.9 .5-3 .5-4.6 .5 4 .6 .7 .5-7.5 .5 5.7 .5 1.4 .5-1.9 .5 5.4 .5-1.4 .5-8.2 .6 3.8 .5-3.8 .5 5.6 .5-5.8 .5 7.2 .5-2.1 .5 2.3 .5-4.5 .6-5.2 .5 12.9 .5-7.8 .5 6.2" fill="none" stroke="#3a64aa" stroke-width="1.1" stroke-linejoin="bevel"/><path d="M458.5 1126.6l.5 1.8 .5 7.3 .5-8.6 .6 6.7 .5-17 .5 14.4 .5-6.3 .5 .9 .5 1.2 .5 2.3 .5 8.2 .6-20.8 .5 11.6 .5-4.3 .5 11.6 .5-9.3 .5 5.5 .5-4.9 .5 6.7 .6 2.3 .5-8.3 .5 2.9 .5-8.6 .5 10.6 .5 3.5 .5-8.2 .6 10.2 .5-19 .5 1.6 .5 2.9 .5 5.6 .5 3.2 .5-.4 .5 .3 .6 4.9 .5-7.1 .5-4.5 .5 .2 .5 20.3 .5-26.6 .5 13.2 .5 9.9 .6-5.7 .5-7.7 .5 5.1 .5 5.3 .5 2.2 .5-12.5 .5 10.1 .6-3 .5 5.2 .5 1.9 .5-10.3 .5-6.5 .5 11.1 .5 8.4 .5-6.4 .6-2.7 .5 13.2 .5-20.6 .5 11.8 .5-8.8 .5 3.8 .5 .3 .5 8.7 .6-14.6 .5 2.4 .5-6.2 .5 12.5 .5-5.6 .5 5.4 .5-8.9 .5 4.3 .6 8.5 .5-7.2 .5 4.9 .5-.6 .5-5.2 .5-7.2 .5 15.4 .6-4.9 .5 5 .5-17.9 .5 2.2 .5-2.9 .5 7.6 .5 11.6 .5-2.8 .6-3.6 .5 1.1 .5 3.8 .5-6.3 .5 4.2 .5-1.5 .5-13.9 .5 10.8 .6 10.5 .5-10.4 .5 1.5 .5-2.7 .5 .7 .5 9.7 .5-8.3 .6-4.5 .5-12.5 .5 15.3 .5-8.3 .5 .8 .5 15.8 .5-.5 .5-15.7 .6 16.6 .5-2.3 .5-7.4 .5 9.1 .5-14.1 .5 2.5 .5-1.4 .5 2 .6 12 .5-13.3 .5 1.2 .5 1.2 .5 6.9 .5-3.2 .5 7.2 .6-9.4 .5-3.4 .5 4.7 .5 3.3 .5-5.8 .5 7.2 .5 9.3 .5-14.4 .6 3.8 .5 7.8 .5-12 .5-1.2 .5-1.4 .5 8.9 .5 .7 .5-3.9 .6 1.1 .5 7.4 .5-2.4 .5-13.6 .5 8.3 .5 .7 .5 3.7 .5-5.6 .6-2.6 .5 1.2 .5-7.9 .5 10.5 .5-3.4 .5 6.4 .5-9 .6 3.5 .5-3.2 .5-.5 .5 10.6 .5-7 .5 5.5 .5-9.4 .5 7.3 .6-10.7 .5 7.2 .5-.1 .5 6.5 .5-2.4 .5-2.1 .5 6 .5-3.8 .6 2.1 .5 1.3 .5-5 .5-1.3 .5 3.7 .5-4.4 .5 4.8 .6 4.3 .5-1.5 .5-7.4 .5-5.4 .5 7.3 .5-.4 .5 7.4 .5-8.9 .6 1 .5 5.7 .5-7.3 .5 2 .5 11.2 .5-1.4 .5-5.1 .5-2.2 .6-7.4 .5 9.2 .5-3 .5 1 .5-4.5 .5 3.1 .5-1.1 .6 3 .5 6.7 .5-6.4 .5-12.1 .5 4.2 .5-3.7 .5 4.7 .5 8.1 .6-.9 .5-6 .5 5.2 .5-6.1 .5-4 .5 .1 .5 3.2 .5 13.7 .6-16.5 .5 15.4 .5 .6 .5-9.1 .5 .8 .5-3.4 .5 3.6 .6 4 .5-3.8 .5 5.9 .5 1.1 .5-5 .5-.1 .5-2.4 .5 2.5 .6-8.8 .5 9.1 .5-1.2 .5-6.3 .5 18 .5-18.7 .5 .6 .5 6.9 .6-13.3 .5 6.9 .5-4.4 .5 3.3 .5 5 .5 2.7 .5 4.7 .5-1.7 .6 2.2 .5-3.6 .5-6.3 .5 9.5 .5-9.6 .5-.8 .5 12.9 .6-4.5 .5-3.4 .5 3.2 .5 .8 .5-13.4 .5 7.6 .5-6.5 .5 7.8 .6-4.8 .5 12.2 .5-5.1 .5-7.9 .5 4.7 .5-7.1 .5 7.5 .5 3 .6-1.7 .5-13.1 .5 9.5 .5 5.1" fill="none" stroke="#5a7fba" stroke-width="1.1" stroke-linejoin="bevel"/><path d="M458.5 1208.2l.5 4.5 .5-11.9 .5 9.2 .6-5.6 .5 4.4 .5 1.3 .5 1.6 .5-6.1 .5 4 .5-6.5 .5-1.1 .6 10 .5-2.8 .5-7.6 .5 4 .5 4.5 .5 7.8 .5-2.3 .5-1.1 .6-12.8 .5 8.6 .5 3.1 .5-.3 .5 .3 .5-3.1 .5 10.1 .6-1.3 .5-7.7 .5-4.3 .5 15.3 .5-12.9 .5 8.9 .5 3.6 .5-14.1 .6 6.3 .5-3.1 .5 4.5 .5-.9 .5 8.2 .5-6.6 .5-2.9 .5 5.8 .6-6.9 .5-.4 .5 13.1 .5-15.2 .5 1.8 .5 2.7 .5-5.4 .6-5.2 .5 16 .5-9.2 .5 1.3 .5 1 .5-3 .5-.4 .5 6.3 .6 11.2 .5-8.2 .5 .1 .5-11.2 .5 7.5 .5-5.7 .5 9.8 .5-4.9 .6 1.4 .5-.6 .5-2.4 .5-4.6 .5 10.5 .5-9.7 .5 1.1 .5 4.4 .6-2 .5 4.9 .5 3.8 .5-3.7 .5-.2 .5-.9 .5 4.3 .6-13.5 .5 11.1 .5-6.4 .5-1.5 .5 6.2 .5-1.9 .5 4.9 .5 2.6 .6-17 .5 11.3 .5 10.2 .5-5.5 .5 3 .5-6.7 .5-7.7 .5 1.6 .6 9.2 .5 1.3 .5-8.4 .5 2.3 .5 2.7 .5-10 .5 7 .6 9.9 .5 2.9 .5-11.5 .5 9.8 .5-11.8 .5-1.4 .5-7.1 .5 16 .6-6.6 .5 13.6 .5-10.1 .5-.7 .5-9.9 .5 16.6 .5-9.3 .5 1 .6-10.2 .5 15.7 .5 .3 .5-7.9 .5 3.5 .5 1.5 .5 2.9 .6-4.3 .5 8.1 .5-9.8 .5-1.8 .5 .7 .5-10.3 .5 8.6 .5 9.1 .6-3.7 .5-5.4 .5 5.9 .5-11.8 .5 8.7 .5 4 .5 .9 .5-7.3 .6 8.4 .5 4.8 .5-11.5 .5 5.9 .5-11.5 .5-2 .5 12.9 .5-2.9 .6 .8 .5-3.9 .5 1.5 .5 5.5 .5 4.6 .5-9.7 .5-7.1 .6 14.6 .5-3.3 .5 .4 .5-2.5 .5 10.7 .5-11.2 .5 2.2 .5-11.9 .6 6.4 .5-.5 .5 3.3 .5 1.9 .5-5.5 .5 12.4 .5-14 .5 3.1 .6 3.5 .5-7.5 .5 9.1 .5 .4 .5-4.7 .5 11.1 .5-9.2 .6 1 .5-6.2 .5-3.5 .5 5.2 .5 1.5 .5-.6 .5 6.1 .5-15.8 .6 6.3 .5-3.5 .5 15.9 .5-9.5 .5 .2 .5-2.9 .5 10 .5-6.6 .6 3.2 .5-11.3 .5 16.1 .5-3.9 .5 .8 .5 3.4 .5-7.1 .6 .1 .5 4.4 .5-1.4 .5-3.4 .5 1.5 .5-2.8 .5 6.2 .5 1.1 .6-4.7 .5 9.4 .5-17.1 .5 6.5 .5 9.8 .5-10.7 .5-5.9 .5 15 .6-4.3 .5-8.7 .5 9.9 .5-9 .5-1.6 .5 6 .5-1.7 .6-3.1 .5 3.7 .5-3.2 .5 5.3 .5-.4 .5 3.9 .5-6 .5-4.4 .6 0 .5 5.4 .5 9 .5-3.5 .5-7.5 .5 8 .5-10.5 .5 10.8 .6-6.9 .5 5.7 .5-.7 .5-4.5 .5 3 .5-7 .5 5 .5 5.8 .6 15.1 .5-17 .5-3.1 .5-5.5 .5 10.4 .5-13.6 .5 4.3 .6 5.8 .5-7.8 .5 13.7 .5-2.2 .5-8.3 .5 0 .5-3.8 .5-.4 .6 9.2 .5 .9 .5-1.3 .5-.5 .5-4.1 .5 4.6 .5-9.2 .5 7.5 .6 7.3 .5-.7 .5-9 .5 .6" fill="none" stroke="#7494c6" stroke-width="1.1" stroke-linejoin="bevel"/><rect x="458.5" y="708.2" width="143" height="564.1" fill="none" stroke="#111" stroke-width="1.3" /><line x1="487" y1="1272.3" x2="487" y2="1267.3" stroke="#000" stroke-width="1" /><text x="487" y="1291" font-size="14" text-anchor="middle" fill="#000" >100</text><line x1="544" y1="1272.3" x2="544" y2="1267.3" stroke="#000" stroke-width="1" /><text x="544" y="1291" font-size="14" text-anchor="middle" fill="#000" >200</text><line x1="601" y1="1272.3" x2="601" y2="1267.3" stroke="#000" stroke-width="1" /><text x="601" y="1291" font-size="14" text-anchor="middle" fill="#000" >300</text><line x1="515.5" y1="1272.3" x2="515.5" y2="1269.3" stroke="#000" stroke-width="1" /><line x1="572.5" y1="1272.3" x2="572.5" y2="1269.3" stroke="#000" stroke-width="1" /><text x="531" y="1310" font-size="17.4" text-anchor="middle" fill="#000" >Raman shift (cm<tspan font-size="11" dy="-6">-1</tspan><tspan dy="6">)</tspan></text><text x="449" y="984.5" font-size="17.4" text-anchor="middle" fill="#000" transform="rotate(-90 449 984.5)">Intensity (a.u.)</text><text x="596" y="888" font-size="17" text-anchor="end" fill="#000" >800s</text><text x="596" y="996.5" font-size="17" text-anchor="end" fill="#000" >500s</text><text x="596" y="1084.5" font-size="17" text-anchor="end" fill="#000" >300s</text><text x="597" y="1172.4" font-size="17" text-anchor="end" fill="#000" >-1.2 V 30s</text><text x="594" y="1251" font-size="17" text-anchor="end" fill="#000" >OCV</text><text x="464.8" y="723.8" font-size="17" text-anchor="start" fill="#000" ><tspan font-style="italic">E</tspan><tspan font-size="11" dy="4">g</tspan><tspan dy="-4">(Bi-Bi)</tspan></text><text x="486.8" y="793.4" font-size="17" text-anchor="start" fill="#000" ><tspan font-style="italic">A</tspan><tspan font-size="11" dy="4">1g</tspan><tspan dy="-4">(Bi-Bi)</tspan></text><radialGradient id="gatom" cx="0.45" cy="0.35" r="0.65"><stop offset="0" stop-color="#a58cc9"/><stop offset="0.45" stop-color="#6e4f9c"/><stop offset="1" stop-color="#3b2466"/></radialGradient><marker id="arr" viewBox="0 0 10 10" refX="8" refY="5" markerWidth="5" markerHeight="5" orient="auto-start-reverse"><path d="M0 0 L10 5 L0 10" fill="none" stroke="#c0232d" stroke-width="2"/></marker><line x1="518.4" y1="735.1" x2="518.4" y2="766.2" stroke="#5b3f8c" stroke-width="1.3" /><line x1="579.5" y1="735.1" x2="579.5" y2="766.2" stroke="#5b3f8c" stroke-width="1.3" /><line x1="518.4" y1="735.1" x2="548.9" y2="766.2" stroke="#5b3f8c" stroke-width="1.3" /><line x1="548.9" y1="735.1" x2="518.4" y2="766.2" stroke="#5b3f8c" stroke-width="1.3" /><line x1="548.9" y1="735.1" x2="579.5" y2="766.2" stroke="#5b3f8c" stroke-width="1.3" /><line x1="579.5" y1="735.1" x2="548.9" y2="766.2" stroke="#5b3f8c" stroke-width="1.3" /><line x1="512" y1="735.1" x2="501" y2="735.1" stroke="#c0232d" stroke-width="1.1" marker-end="url(#arr)"/><line x1="542" y1="735.1" x2="532" y2="735.1" stroke="#c0232d" stroke-width="1.1" marker-end="url(#arr)"/><line x1="586" y1="735.1" x2="597" y2="735.1" stroke="#c0232d" stroke-width="1.1" marker-end="url(#arr)"/><line x1="512" y1="766.2" x2="501" y2="766.2" stroke="#c0232d" stroke-width="1.1" marker-end="url(#arr)"/><line x1="555" y1="766.2" x2="566" y2="766.2" stroke="#c0232d" stroke-width="1.1" marker-end="url(#arr)"/><line x1="586" y1="766.2" x2="597" y2="766.2" stroke="#c0232d" stroke-width="1.1" marker-end="url(#arr)"/><circle cx="518.4" cy="735.1" r="7.4" fill="url(#gatom)"/><circle cx="518.4" cy="766.2" r="7.4" fill="url(#gatom)"/><circle cx="548.9" cy="735.1" r="7.4" fill="url(#gatom)"/><circle cx="548.9" cy="766.2" r="7.4" fill="url(#gatom)"/><circle cx="579.5" cy="735.1" r="7.4" fill="url(#gatom)"/><circle cx="579.5" cy="766.2" r="7.4" fill="url(#gatom)"/><line x1="517.8" y1="811.5" x2="517.8" y2="843.1" stroke="#5b3f8c" stroke-width="1.3" /><line x1="581" y1="811.5" x2="581" y2="843.1" stroke="#5b3f8c" stroke-width="1.3" /><line x1="517.8" y1="811.5" x2="549.6" y2="843.1" stroke="#5b3f8c" stroke-width="1.3" /><line x1="549.6" y1="811.5" x2="517.8" y2="843.1" stroke="#5b3f8c" stroke-width="1.3" /><line x1="549.6" y1="811.5" x2="581" y2="843.1" stroke="#5b3f8c" stroke-width="1.3" /><line x1="581" y1="811.5" x2="549.6" y2="843.1" stroke="#5b3f8c" stroke-width="1.3" /><line x1="517.8" y1="819" x2="517.8" y2="828" stroke="#c0232d" stroke-width="1.1" marker-end="url(#arr)"/><line x1="549.6" y1="819" x2="549.6" y2="826" stroke="#c0232d" stroke-width="1.1" marker-end="url(#arr)"/><line x1="549.6" y1="836" x2="549.6" y2="829" stroke="#c0232d" stroke-width="1.1" marker-end="url(#arr)"/><line x1="581" y1="836" x2="581" y2="827" stroke="#c0232d" stroke-width="1.1" marker-end="url(#arr)"/><line x1="581" y1="804" x2="581" y2="795" stroke="#c0232d" stroke-width="1.1" marker-end="url(#arr)"/><line x1="517.8" y1="850" x2="517.8" y2="860" stroke="#c0232d" stroke-width="1.1" marker-end="url(#arr)"/><circle cx="517.8" cy="811.5" r="7.4" fill="url(#gatom)"/><circle cx="517.8" cy="843.1" r="7.4" fill="url(#gatom)"/><circle cx="549.6" cy="811.5" r="7.4" fill="url(#gatom)"/><circle cx="549.6" cy="843.1" r="7.4" fill="url(#gatom)"/><circle cx="581" cy="811.5" r="7.4" fill="url(#gatom)"/><circle cx="581" cy="843.1" r="7.4" fill="url(#gatom)"/><text x="657" y="1004" font-size="17" text-anchor="start" fill="#000" >i</text><path d="M676.5 1272.3L676.5 1270l.3-.7 .3 .4 .3 1.8 .3 .5 .3-1.7 .3 .5 .3 .5 .3 .4 .4-3.5 .3 3.4 .3 .4 .3-.4 .3-1.1 .3 .7 .3-.9 .3 1.7 .3-2.2 .3 1 .3-.9 .3-.1 .3 1.2 .3-.6 .3 1 .3-.5 .3 .9 .4-1.7 .3 .8 .3-2.5 .3 .1 .3 2.5 .3 .1 .3-.6 .3 1.3 .3-2.1 .3 1.5 .3 .1 .3-.6 .3 .1 .3-1.4 .3 .4 .3 .9 .3 .8 .4-1.7 .3 .1 .3 1.1 .3 .2 .3-1.5 .3 2.1 .3-4.2 .3 1.9 .3 2 .3-1.1 .3-.8 .3 .9 .3 .1 .3 .7 .3-.3 .3 .2 .3 .7 .4-2.1 .3 .7 .3 .3 .3 1.1 .3 .2 .3-3.2 .3 .9 .3 .2 .3-1.7 .3 1.7 .3 1.7 .3 .1 .3-.7 .3 .1 .3-1.9 .3 1.9 .3 .4 .4 0 .3-4.1 .3 2.4 .3-.1 .3 1.5 .3-1 .3 1.9 .3-.4 .3-5.6 .3 1.1 .3 2.3 .3 1.6 .3-.9 .3 1.5 .3-1 .3 1.5 .3-2.7 .4-1.6 .3 .7 .3 2.4 .3-2.9 .3 3 .3-2.3 .3 1.9 .3-1.5 .3 2.9 .3-2.4 .3 .7 .3-.1 .3-4 .3 0 .3 5.2 .3-2.3 .3-.7 .4 2.9 .3-5.2 .3 2 .3 1.4 .3-1.4 .3 .7 .3 1.2 .3 1.1 .3 .4 .3-2 .3 1 .3-.4 .3 1.7 .3-4.9 .3 4.2 .3-5.9 .3 5.9 .4 .3 .3-.3 .3 .9 .3-2.3 .3-1.7 .3 2.2 .3 0 .3 1 .3-2.5 .3-.4 .3-3.2 .3 4.6 .3 1.3 .3 .1 .3-1 .3 1.7 .3-1 .4-4.4 .3 5.1 .3 .1 .3-2.4 .3 .9 .3 .4 .3 .2 .3 1.3 .3-1.7 .3 .1 .3-2.7 .3 3.5 .3 .2 .3-1.4 .3 1.8 .3-1.4 .3-.3 .4-2.3 .3 2.6 .3-1.1 .3 2.7 .3-2.1 .3 .4 .3-1 .3-2.6 .3 4.9 .3-.1 .3 .5 .3-7.8 .3 4.8 .3 3.1 .3-1.4 .3 .1 .4-1.2 .3-.3 .3 1.9 .3-2.1 .3-.7 .3 2.7 .3-1.1 .3-.9 .3 2.7 .3-.5 .3 .6 .3-.9 .3-1.1 .3 .6 .3-.8 .3 1.3 .3-.5 .4 1.3 .3-1.4 .3 .9 .3-4.8 .3 5.1 .3-.6 .3-1.1 .3 .8 .3 1.3 .3-.3 .3-.4 .3-.7 .3 .1 .3 .8 .3-.2 .3-.7 .3 .1 .4-4.1 .3 3.9 .3 .2 .3 1 .3 .1 .3-1.3 .3 .5 .3 .9 .3 .2 .3-3.1 .3 2 .3 .6 .3-2.2 .3 2.1 .3-2.9 .3 2.9 .3-.1 .4 .5 .3-1.6 .3 1 .3 .4 .3-1.1 .3 .8 .3 .5 .3-.3 .3 .1 .3-.2 .3-.2 .3 .8 .3-1.6 .3-.5 .3 0 .3 1.7 .3 .4 .4-.2 .3 .2 .3 0 .3-.1 .3-1.2 .3-.2 .3 .4 .3-.6 .3-1.4 .3 1.4 .3 .1 .3 1.4 .3-.9 .3 .5 .3-1.1 .3 1.6 .3-3.5 .4 2.9 .3-.4 .3 .2 .3-.5 .3 0 .3-1.2 .3 1.6 .3-2.3 .3-.5 .3 1.3 .3 2.4 .3-.9 .3-.2 .3-.6 .3-.4 .3 2.1 .3-2.8 .4 2.6 .3-3.5 .3 2.4 .3 .8 .3 .2 .3-2.1 .3 2.1 .3-1.5 .3 1.9 .3-1.2 .3 .4 .3-.2 .3-1 .3 .5 .3 1.4 .3-.9 .3 .1 .4 .5 .3-1 .3 1 .3-.6 .3-.5 .3 1.3 .3-.5 .3-.6 .3 .6 .3-.2 .3-.3 .3 .1 .3 .4 .3-1.7 .3 1.8 .3-2 .3 2.4 .4-1.5 .3 1.3 .3-1.4 .3 .8 .3 .3 .3 .3 .3-.4 .3 .4 .3 .3 .3-.8 .3 .2 .3 .2 .3 .4 .3-.5 .3-2 .3 1.4 .3-.1 .4 1 .3-.1 .3 0 .3-1 .3 .3 .3 .6 .3-2.1 .3 2.6 .3-1.8 .3-.9 .3 2 .3 .1 .3 .4 .3-.1 .3 .2 .3-2.4 .3 2.1 .4-1 .3-.4 .3 .3 .3-1.2 .3 1.6 .3-.5 .3 .2 .3 .1 .3 .6 .3-.1 .3-2.9 .3 2.8 .3 .5 .3 .1 .3-1.2 .3-.3 .3 .8 .4-1 .3-.4 .3 .5 .3 1.2 .3-.8 .3 1.3 .3-2.1 .3 1.2 .3-.5 .3 1.2 .3-1.3 .3 .9 .3 .7 .3-.4 .3-2.4 .3 1.6 .3 .7 .4-.3 .3-.6 .3 .3 .3 .3 .3 .5 .3 .3 .3-.1 .3-2.7 .3 .8 .3 1 .3 .1 .3-1.8 .3 2.2 .3-1.8 .3-.4 .3 1.7 .3 .3 .4 .1 .3-1.4 .3-.5 .3 .5 .3-1.3 .3 0 .3-.6 .3-1.7 .3-3 .3-2.3 .3-3.8 .3-.4 .3-3.7 .3-5.9 .3-4.3 .3-7.6 .3-6.8 .4-7.8 .3-11.3 .3-10.2 .3-11.6 .3-13.7 .3-16.2 .3-13.9 .3-17.3 .3-15.2 .3-17.3 .3-14.7 .3-15.9 .3-16.1 .3-13.1 .3-9.6 .3-10 .3-8 .4-3.5 .3-2.5 .3 .6 .3 3.6 .3 2.6 .3 9.5 .3 10.8 .3 10.7 .3 15.8 .3 15.2 .3 16.3 .3 15.8 .3 17.4 .3 15.1 .3 13.7 .3 17.6 .3 11.7 .4 14.6 .3 12.3 .3 10.2 .3 9.9 .3 8.1 .3 5.7 .3 6.8 .3 5 .3 3.7 .3 4.8 .3 2.5 .3 1.5 .3 3.9 .3 .7 .3-.1 .3 2.1 .3 1.5 .4 .2 .3-.4 .3 0 .3 .2 .3 .4 .3 .9 .3-2.8 .3 .4 .3 2.2 .3 .5 .3-1.7 .3 .6 .3 .6 .3 .6 .3-1 .3 .7 .3-2.1 .4 1.6 .3-2.3 .3-.5 .3 1.3 .3 .4 .3 1.5 .3-1.1 .3-.4 .3 .4 .3 .1 .3 .1 .3 .7 .3-.1 .3-1.1 .3 .1 .3 1.1 .4-1 .3-.5 .3-.6 .3 .4 .3 1.8 .3-.1 .3 .6 .3-1.5 .3 1 .3-1.2 .3 1.2 .3-2.7 .3 3.1 .3-1.7 .3 1.4 .3-.8 .3 .5 .4-.4 .3 1 .3-1.1 .3 .9 .3 .3 .3-1.9 .3-.6 .3 1.9 .3-.5 .3 0 .3 .9 .3-1.9 .3 1.7 .3 .4 .3-1.1 .3-.2 .3 .9 .4 .4 .3-.1 .3-2.5 .3 2.4 .3-2.4 .3 .7 .3 1.9 .3-1.3 .3 1.2 .3-1.1 .3 .9 .3-1.1 .3 .7 .3 .8 .3-.9 .3-.4 .3-3.7 .4 4.5 .3-2.4 .3 2.6 .3-1.1 .3 1.2 .3-2 .3-.5 .3 2.4 .3 .2 .3-2.9 .3 2 .3 .9 .3-.7 .3-.4 .3-3.9 .3 4.5 .3-2.3 .4 1.4 .3 .9 .3 0 .3 .5 .3-1.6 .3 .8 .3 .1 .3-1.4 .3 .9 .3 .7 .3-.8 .3 .6 .3 .3 .3 .5 .3-.3 .3-3 .3 2.3 .4 .3 .3-.5 .3-.3 .3 1.2 .3 0 .3-.5 .3-.1 .3-.7 .3-.2 .3 1.5 .3 0 .3-3.5 .3 2 .3 1.4 .3-1 .3 1.2 .3-.8 .4 .7 .3-.9 .3-.9 .3 1.7 .3 .1 .3 .2 .3-.5 .3 .6 .3-1.8 .3 .6 .3-1.5 .3 0 .3 .7 .3 .5 .3-.9 .3 1.3 .3 1 .4-2.9 .3 1.3 .3 .4 .3 .8 .3 .3 .3-1.2 .3 .7 .3 0 .3-1 .3-.3 .3-.2 .3 1.4 .3 .3 .3-1.4 .3 .1 .3 1.7 .3-.2 .4-2.3 .3 1.7 .3 .1 .3-1.1 .3 .4 .3-1 .3 .4 .3-.5 .3 .4 .3 1.6 .3-1.3 .3 1.5 .3-.3 .3-.2 .3-3.1 .3 .5 .3 1.5 .4 .4 .3 1.4 .3-2.5 .3 1.9 .3-.3 .3 .7 .3-.1 .3-.2 .3-1.2 .3 1.7 .3-.7 .3 .8 .3-.5 .3-.9 .3 1.1 .3-.1 .3 .1 .4-1.1 .3 .7 .3-.6 .3-1.1 .3 1.6 .3 0 .3-.4 .3-.1 .3-.5 .3 .6 .3 .2 .3-.7 .3 1.8 .3-.7 .3-2 .3 .4 .3-.6 .4 2.5 .3 .3 .3-.2 .3-1 .3-2.2 .3 2.7 .3-.4 .3-2.1 .3 2.2 .3-1.2 .3 .6 .3-1.9 .3 1.2 .3-3.1 .3 .9 .3-2.3 .3-.7 .4-3.1 .3-2.2 .3 .1 .3-3.5 .3-4.5 .3 .1 .3-3.5 .3-4.7 .3-3.1 .3-2.3 .3-3.4 .3-3 .3-2.3 .3-4.2 .3 .3 .3 0 .3-.7 .4 .3 .3-1.2 .3 1.8 .3 1.6 .3 3.6 .3 3.7 .3 2.7 .3 2.8 .3 4.1 .3 1.5 .3 3.1 .3 4.3 .3 3.7 .3 2.9 .3 1.9 .3 1.9 .3 1.3 .4 1.3 .3 .3 .3 2.1 .3 .2 .3-.1 .3 2.3 .3-.3 .3 .5 .3-2.8 .3 2.9 .3-1.2 .3 .5 .3-.7 .3-.5 .3 2.6 .3-.2 .3 .5 .4-1.8 .3 .6 .3-.9 .3 1.6 .3-.6 .3 .7 .3-.8 .3 .4 .3 .1 .3-.2 .3-1.6 .3 .8 .3 1.3 .3-.3 .3 .4 .3-2.6 .3 1.9 .4 0 .3 .9 .3-1.9 .3 2.2 .3-.9 .3 0 .3 .8 .3-1.1 .3 .5 .3-1.6 .3-1.4 .3 2.1 .3 .8 .3-1.6 .3 1.2 .3-.7 .3 1.8 .4-1.4 .3 .8 .3 .4 .3 .1 .3-.4 .3-2.8 .3 3.4 .3-1.6 .3 .1 .3 .2 .3-.7 .3-.9 .3 1.4 .3-.2 .3-.1 .3 1.8 .3-.4 .4-4.4 .3 3.9 .3-2 .3 0 .3 2 .3 .4 .3-.4 .3-1.7 .3-.2 .3 2.7 .3-1.3 .3-.7 .3 2 .3-2.9 .3 .9 .3 1.2 .3-3.3 .4 4 .3-.4 .3 .1 .3 .4 .3-4.8 .3 4.6 .3-1.3 .3 1.2 .3-.1 .3 0 .3 .4 .3-1.1 .3 .8 .3-1.5 .3 1.7 .3-.6 .4 .1 .3-1.1 .3 .6 .3-.4 .3 1.1 .3-2.7 .3 .7 .3 2.4 .3-1.3 .3 .3 .3-1.2 .3 1.4 .3 .5 .3-.4 .3 .7 .3-.5 .3-.3 .4 0 .3-.7 .3 1.1 .3-1.5 .3-1.9 .3 1 .3-1.8 .3-1.6 .3 1 .3-1.7 .3-4.2 .3-1.4 .3-3.9 .3-4.9 .3-2.6 .3-4.1 .3-4.1 .4-5 .3-2.5 .3-4.2 .3-1.8 .3 1.5 .3-1.3 .3 1.2 .3 2.8 .3 4 .3 1.3 .3 6.1 .3 5.3 .3 2.8 .3 2.1 .3 5.4 .3 4.5 .3 2.5 .4 .3 .3 2.8 .3-.1 .3 1.1 .3 1.5 .3-.8 .3-.3 .3 .6 .3 1 .3 .8 .3 .5 .3-1.2 .3 0 .3 .8 .3-.1 .3 .5 .3-1.2 .4 .2 .3 .3 .3-2.5 .3-.1 .3 1.9 .3 1.1 .3-.1 .3-.3 .3-.8 .3 1.1 .3 .1 .3-.6 .3-1.3 .3 1.8 .3-.4 .3 .1 .3 .8 .4-3.3 .3 3 .3 .1 .3-1.8 .3-.8 .3 2.1 .3-.6 .3 .5 .3 .1 .3-.3 .3 .5 .3-1.9 .3 2.3 .3-.4 .3-.6 .3 .4 .3 .1 .4-.8 .3-.5 .3 .7 .3-.5 .3 1 .3-.5 .3-.2 .3 .8 .3 .5 .3-.1 .3-3.6 .3 3.8 .3-.4 .3-.2 .3 .5 .3-.3 .3-1.4 .4-1.4 .3 2.7 .3-2.1 .3 2.2 .3 .2 .3-1.6 .3-.9 .3 2.1 .3-.3 .3-1 .3 .6 .3 1.2 .3-3.2 .3 3.2 .3 .1 .3-1 .3 .5 .4 .3 .3-1 .3 .5 .3-2.1 .3 2.6 .3-2.3 .3 2.2 .3-.3 .3-1 .3-.7 .3 1.1 .3-.1 .3 1.1 .3-1.3 .3-.1 .3 1.6 .3-.3 .4-.4 .3 .7 .3-.6 .3-.1 .3 .1 .3 .5 .3-1 .3-1.3 .3 1.3 .3 .3 .3 .8 .3-1.9 .3-.8 .3 2.5 .3-3.3 .3 1.8 .3 .9 .4-2.8 .3 .6 .3 2.8 .3 .1 .3-.1 .3-1.1 .3-2.1 .3 3.1 .3-1.1 .3-1.3 .3 1.7 .3 .4 .3-1.3 .3 1.6 .3-.7 .3 .6 .3-1.2 .4 0 .3 1.3 .3-1.3 .3 .4 .3-.3 .3 .9 .3 .5 .3-.9 .3 .8 .3-2.2 .3 1.4 .3-.5 .3 .1 .3-1.2 .3 2 .3-.6 .3-1.3 .4 2 .3-2.3 .3 0 .3 1.5 .3-1.6 .3 1.5 .3 0 .3-.4 .3 1.3 .3-.2 .3 .5 .3-2 .3 1.3 .3-.2 .3 .3 .3-.4 .3 0 .4 .5 .3 .1 .3-.4 .3 .4 .3-1 .3-1.4 .3 1.1 .3 .3 .3-.2 .3-.3 .3 1.5 .3-.5 .3 .6 .3 .3 .3-.5 .3-.1 .3 .4 .4-1.6 .3 1.2 .3 .8 .3-.2 .3-.3 .3-.7 .3 .3 .3 .7 .3-2.4 .3-1 .3 .5 .3 .6 .3-.4 .3 2.1 .3-1.6 .3 1.7 .3-1.9 .4-.4 .3 1.5 .3-2.3 .3 2.8 .3-.2 .3 .4 .3 .1 .3-1.4 .3 .1 .3-1.7 .3 2.8 .3 .9 .3-1.1 .3 .9 .3-.2 .3-.2 .3-1.3 .4-.3 .3 1 .3 .7 .3-2.8 .3 1.6 .3-1.2 .3 2.1 .3 .7 .3-2 .3 2.1 .3-3.4 .3 2.9 .3-2.1 .3 2 .3-1.2 .3 1.2 .3-1.6 .4 1.5 .3 .1 .3-1.4 .3-1.2 .3 2.1 .3 .6 .3 .3 .3-.3 .3-1.5 .3 1.8 .3-.4 .3-.1 .3-1.2 .3 1.8 .3-2.6L1027 1272.3 Z" fill="#1f4e96" stroke="#1f4e96" stroke-width="0.6"/><rect x="676.5" y="992.1" width="350.5" height="281.2" fill="none" stroke="#111" stroke-width="1.3" /><line x1="763.9" y1="1273.3" x2="763.9" y2="1269.3" stroke="#555" stroke-width="1" /><line x1="851.3" y1="1273.3" x2="851.3" y2="1269.3" stroke="#555" stroke-width="1" /><line x1="938.7" y1="1273.3" x2="938.7" y2="1269.3" stroke="#555" stroke-width="1" /><text x="676.5" y="1292.5" font-size="14" text-anchor="middle" fill="#000" >555</text><text x="763.9" y="1292.5" font-size="14" text-anchor="middle" fill="#000" >556</text><text x="851.3" y="1292.5" font-size="14" text-anchor="middle" fill="#000" >557</text><text x="938.7" y="1292.5" font-size="14" text-anchor="middle" fill="#000" >558</text><text x="1026.1" y="1292.5" font-size="14" text-anchor="middle" fill="#000" >559</text><text x="849.7" y="1309.6" font-size="17.4" text-anchor="middle" fill="#000" >m/z</text><text x="666" y="1127.4" font-size="17.4" text-anchor="middle" fill="#000" transform="rotate(-90 666 1127.4)">Intensity (a.u.)</text><rect x="799.6" y="996.5" width="20.9" height="275.5" fill="none" stroke="#d42a2a" stroke-width="1.3" stroke-dasharray="5,4"/><path d="M820.5 996.5 L833.5 997.1 L1022.6 997.1 L1022.6 1213.4 L833.5 1213.4 L833.5 997.1 M833.5 1213.4 L820.5 1272" fill="none" stroke="#d42a2a" stroke-width="1.3" stroke-dasharray="5,4"/><rect x="859" y="1005.1" width="160.1" height="168.7" fill="#fff" stroke="#111" stroke-width="1.3" /><path d="M861.6 1172.8 V1170.9M864.4 1172.8 V1170.8M867.1 1172.8 V1172.3M869.9 1172.8 V1171.9M872.7 1172.8 V1171.6M875.4 1172.8 V1170.5M878.2 1172.8 V1168.9M881 1172.8 V1168.6M883.7 1172.8 V1171M886.5 1172.8 V1170.2M889.3 1172.8 V1165.2M892.1 1172.8 V1167.3M894.8 1172.8 V1163.3M897.6 1172.8 V1160.2M900.4 1172.8 V1152.2M903.1 1172.8 V1146M905.9 1172.8 V1136.8M908.7 1172.8 V1125.2M911.5 1172.8 V1111.2M914.2 1172.8 V1093.9M917 1172.8 V1075.5M919.8 1172.8 V1062.4M922.5 1172.8 V1045.5M925.3 1172.8 V1031.3M928.1 1172.8 V1016.5M930.9 1172.8 V1011.3M933.6 1172.8 V1009.8M936.4 1172.8 V1011.3M939.2 1172.8 V1017.3M941.9 1172.8 V1025.6M944.7 1172.8 V1041.9M947.5 1172.8 V1055.1M950.2 1172.8 V1073.8M953 1172.8 V1091.9M955.8 1172.8 V1108.3M958.6 1172.8 V1122.5M961.3 1172.8 V1134.7M964.1 1172.8 V1140.7M966.9 1172.8 V1152.1M969.6 1172.8 V1156.8M972.4 1172.8 V1162.5M975.2 1172.8 V1165.6M978 1172.8 V1168.8M980.7 1172.8 V1169.4M983.5 1172.8 V1169.8M986.3 1172.8 V1168.6M989 1172.8 V1172.2M991.8 1172.8 V1172M994.6 1172.8 V1172.2M997.4 1172.8 V1172.4M1000.1 1172.8 V1169.9M1002.9 1172.8 V1171.8M1005.7 1172.8 V1170.5" stroke="#2f5fa8" stroke-width="1.2" fill="none"/><line x1="859" y1="1172.8" x2="1019.1" y2="1172.8" stroke="#2f5fa8" stroke-width="1" /><line x1="879.9" y1="1173.8" x2="879.9" y2="1170.8" stroke="#333" stroke-width="1" /><line x1="925.7" y1="1173.8" x2="925.7" y2="1170.8" stroke="#333" stroke-width="1" /><line x1="971.5" y1="1173.8" x2="971.5" y2="1170.8" stroke="#333" stroke-width="1" /><text x="857" y="1192" font-size="14.5" text-anchor="middle" fill="#000" >556.35</text><text x="925.7" y="1192" font-size="14.5" text-anchor="middle" fill="#000" >556.50</text><text x="994.4" y="1192" font-size="14.5" text-anchor="middle" fill="#000" >556.65</text><text x="938" y="1208.6" font-size="17" text-anchor="middle" fill="#000" >m/z</text><text x="854" y="1094.3" font-size="17" text-anchor="middle" fill="#000" transform="rotate(-90 854 1094.3)">Intensity</text><text x="1008.3" y="1023" font-size="17" text-anchor="end" fill="#1f4e96" >556.518</text></svg></body></html>
